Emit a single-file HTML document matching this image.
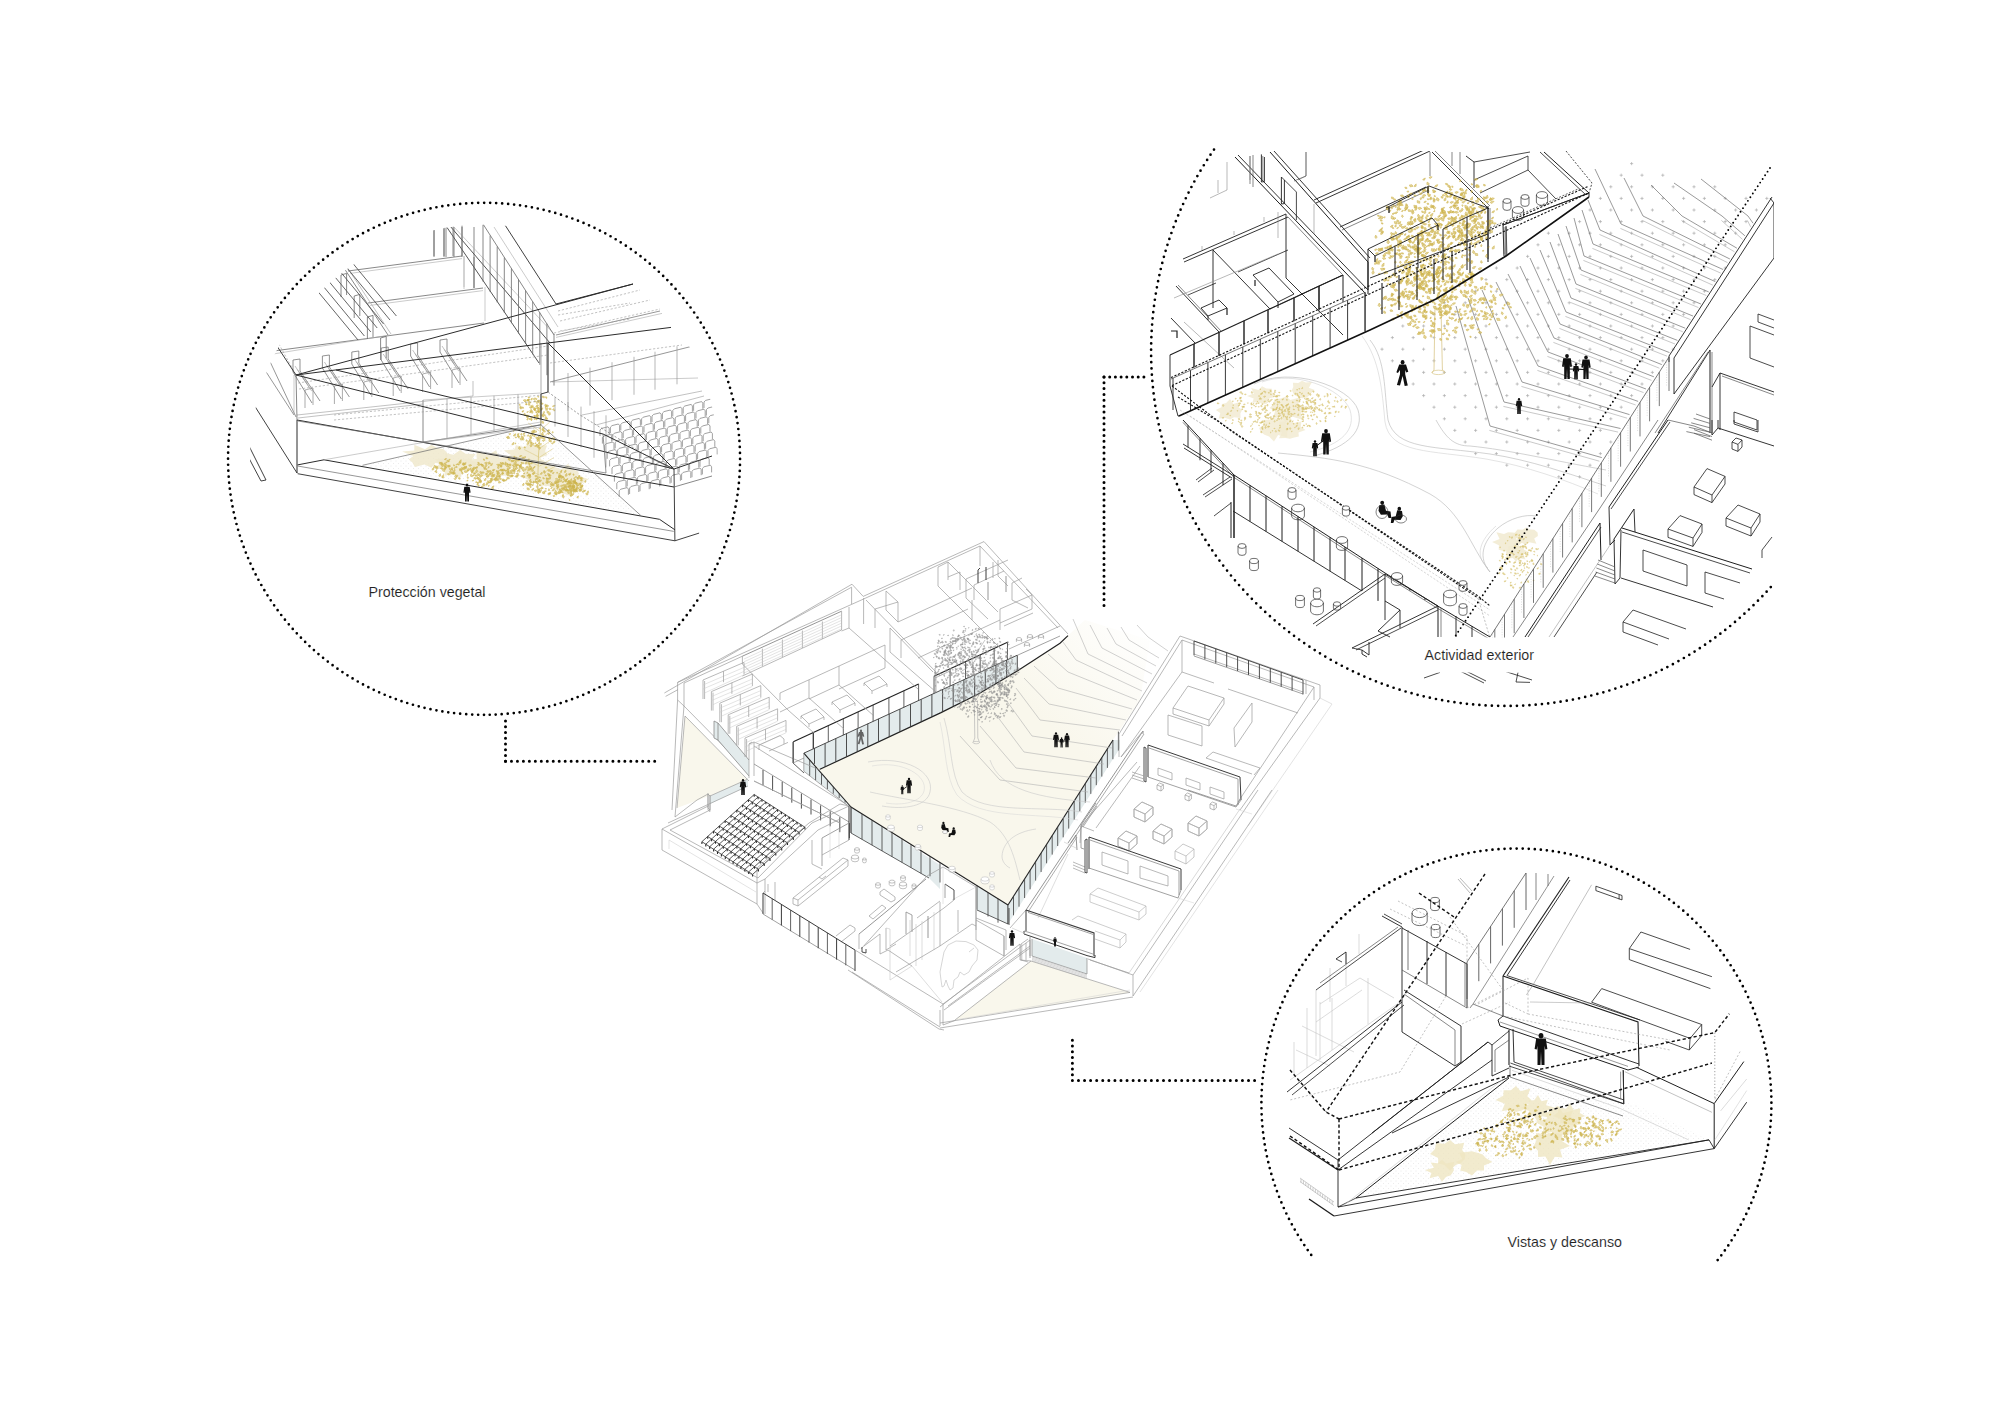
<!DOCTYPE html>
<html><head><meta charset="utf-8"><title>Axonometric</title>
<style>
html,body{margin:0;padding:0;background:#fff;}
body{width:2000px;height:1415px;overflow:hidden;font-family:"Liberation Sans",sans-serif;}
svg{display:block;}
svg polyline,svg line,svg path{fill:none;stroke-linecap:butt;stroke-linejoin:miter;}
svg .f{stroke:none;}
text{font-family:"Liberation Sans",sans-serif;fill:#222;}
.dot{stroke:#000;stroke-linecap:round !important;fill:none;}
</style></head><body>
<svg width="2000" height="1415" viewBox="0 0 2000 1415">
<rect width="2000" height="1415" fill="#fff"/>
<defs><linearGradient id="cg" gradientUnits="userSpaceOnUse" x1="960" y1="800" x2="1135" y2="610"><stop offset="0.45" stop-color="#f9f7ec"/><stop offset="1" stop-color="#f9f7ec" stop-opacity="0"/></linearGradient></defs>
<polygon points="803.8,753.2 819.9,769.3 941,712.6 978.8,693.7 1018,670.6 1060,643.3 1068,635.6 1085,620 1150,640 1140,700 1113,740 1008,905 851,807" fill="url(#cg)" stroke="none" stroke-width="0.8" />
<polygon points="803.8,753.2 1017.3,655.2 1017.3,670.6 978.8,693.7 941,712.6 819.9,769.3" fill="#e3ebec" stroke="none" stroke-width="0.7" />
<polyline points="819.9,769.3 941,712.6 978.8,693.7 1018,670.6 1060,643.3 1068,635.6" stroke="#222" stroke-width="1.2" />
<polyline points="803.8,753.2 1017.3,655.2" stroke="#3a3a3a" stroke-width="0.9" />
<polyline points="803.8,753.2 803.8,753.2" stroke="#3a3a3a" stroke-width="0.9" />
<polyline points="814.5,748.3 814.5,763.9" stroke="#3a3a3a" stroke-width="0.9" />
<polyline points="825.1,743.4 825.1,766.8" stroke="#3a3a3a" stroke-width="0.9" />
<polyline points="835.8,738.5 835.8,761.8" stroke="#3a3a3a" stroke-width="0.9" />
<polyline points="846.5,733.6 846.5,756.8" stroke="#3a3a3a" stroke-width="0.9" />
<polyline points="857.2,728.7 857.2,751.8" stroke="#3a3a3a" stroke-width="0.9" />
<polyline points="867.8,723.8 867.8,746.8" stroke="#3a3a3a" stroke-width="0.9" />
<polyline points="878.5,718.9 878.5,741.8" stroke="#3a3a3a" stroke-width="0.9" />
<polyline points="889.2,714 889.2,736.9" stroke="#3a3a3a" stroke-width="0.9" />
<polyline points="899.9,709.1 899.9,731.9" stroke="#3a3a3a" stroke-width="0.9" />
<polyline points="910.5,704.2 910.5,726.9" stroke="#3a3a3a" stroke-width="0.9" />
<polyline points="921.2,699.3 921.2,721.9" stroke="#3a3a3a" stroke-width="0.9" />
<polyline points="931.9,694.4 931.9,716.9" stroke="#3a3a3a" stroke-width="0.9" />
<polyline points="942.6,689.5 942.6,711.8" stroke="#3a3a3a" stroke-width="0.9" />
<polyline points="953.2,684.6 953.2,706.5" stroke="#3a3a3a" stroke-width="0.9" />
<polyline points="963.9,679.7 963.9,701.1" stroke="#3a3a3a" stroke-width="0.9" />
<polyline points="974.6,674.8 974.6,695.8" stroke="#3a3a3a" stroke-width="0.9" />
<polyline points="985.3,669.9 985.3,689.9" stroke="#3a3a3a" stroke-width="0.9" />
<polyline points="995.9,665 995.9,683.6" stroke="#3a3a3a" stroke-width="0.9" />
<polyline points="1006.6,660.1 1006.6,677.3" stroke="#3a3a3a" stroke-width="0.9" />
<polyline points="1017.3,655.2 1017.3,671" stroke="#3a3a3a" stroke-width="0.9" />
<polyline points="793.3,741.7 918.6,683.9" stroke="#222" stroke-width="1.1" />
<polyline points="934,676.2 1007.5,642.3" stroke="#222" stroke-width="1.1" />
<polyline points="793.3,741.7 793.3,763" stroke="#3a3a3a" stroke-width="0.8" />
<polyline points="813.3,732.5 813.3,748.8" stroke="#3a3a3a" stroke-width="1.3" />
<polyline points="828.3,725.6 828.3,742" stroke="#3a3a3a" stroke-width="0.8" />
<polyline points="843.3,718.7 843.3,735.1" stroke="#3a3a3a" stroke-width="0.8" />
<polyline points="858.1,711.8 858.1,728.3" stroke="#3a3a3a" stroke-width="0.8" />
<polyline points="873.1,704.9 873.1,721.4" stroke="#3a3a3a" stroke-width="0.8" />
<polyline points="888.9,697.6 888.9,714.1" stroke="#3a3a3a" stroke-width="0.8" />
<polyline points="903.9,690.7 903.9,707.3" stroke="#3a3a3a" stroke-width="0.8" />
<polyline points="918.6,683.9 918.6,700.5" stroke="#3a3a3a" stroke-width="0.8" />
<polyline points="934,676.2 934,693.4" stroke="#3a3a3a" stroke-width="0.8" />
<polyline points="950.1,668.8 950.1,686" stroke="#3a3a3a" stroke-width="0.8" />
<polyline points="965.5,661.7 965.5,679" stroke="#3a3a3a" stroke-width="0.8" />
<polyline points="980.2,654.9 980.2,672.2" stroke="#3a3a3a" stroke-width="0.8" />
<polyline points="994.2,648.4 994.2,665.8" stroke="#3a3a3a" stroke-width="0.8" />
<polyline points="1007.5,642.3 1007.5,659.7" stroke="#3a3a3a" stroke-width="0.8" />
<polygon points="803.8,753.2 851,807 803.8,771.2" fill="#e3ebec" stroke="none" stroke-width="0.8" />
<polyline points="803.8,753.2 851,807" stroke="#222" stroke-width="1.1" />
<polyline points="803.8,753.2 803.8,771.2 847,805" stroke="#8a8a8a" stroke-width="0.7" />
<polyline points="809.7,759.9 809.7,775.7" stroke="#3a3a3a" stroke-width="0.8" />
<polyline points="815.6,766.6 815.6,780.1" stroke="#3a3a3a" stroke-width="0.8" />
<polyline points="821.5,773.4 821.5,784.6" stroke="#3a3a3a" stroke-width="0.8" />
<polyline points="827.4,780.1 827.4,789.1" stroke="#3a3a3a" stroke-width="0.8" />
<polyline points="833.3,786.8 833.3,793.6" stroke="#3a3a3a" stroke-width="0.8" />
<polyline points="839.2,793.5 839.2,798" stroke="#3a3a3a" stroke-width="0.8" />
<polyline points="845.1,800.3 845.1,802.5" stroke="#3a3a3a" stroke-width="0.8" />
<polygon points="851,807 940,865 940,889 929,878 851,833" fill="#e3ebec" stroke="none" stroke-width="0.7" />
<polygon points="977,886 1008,905 1008,924 977,910" fill="#e3ebec" stroke="none" stroke-width="0.7" />
<polyline points="851,807 1008,905" stroke="#222" stroke-width="1.1" />
<polyline points="851,833 929,878" stroke="#3a3a3a" stroke-width="0.8" />
<polyline points="977,910 1008,924" stroke="#3a3a3a" stroke-width="0.8" />
<polyline points="851,807 851,833" stroke="#3a3a3a" stroke-width="1.2" />
<polyline points="862,813.9 862,839.3" stroke="#3a3a3a" stroke-width="0.8" />
<polyline points="872,820.1 872,845.1" stroke="#3a3a3a" stroke-width="0.8" />
<polyline points="882,826.3 882,850.9" stroke="#3a3a3a" stroke-width="0.8" />
<polyline points="892,832.6 892,856.7" stroke="#3a3a3a" stroke-width="0.8" />
<polyline points="902,838.8 902,862.4" stroke="#3a3a3a" stroke-width="0.8" />
<polyline points="911,844.4 911,867.6" stroke="#3a3a3a" stroke-width="0.8" />
<polyline points="921,850.7 921,873.4" stroke="#3a3a3a" stroke-width="0.8" />
<polyline points="930,856.3 930,876.3" stroke="#3a3a3a" stroke-width="0.8" />
<polyline points="940,862.5 940,882.5" stroke="#3a3a3a" stroke-width="0.8" />
<polyline points="977,885.6 977,909.6" stroke="#3a3a3a" stroke-width="0.8" />
<polyline points="988,892.5 988,916.5" stroke="#3a3a3a" stroke-width="0.8" />
<polyline points="998,898.7 998,922.7" stroke="#3a3a3a" stroke-width="0.8" />
<polyline points="1008,905 1008,924" stroke="#3a3a3a" stroke-width="0.8" />
<polygon points="1008,905 1113,740 1120,740 1120,748 1008,924" fill="#e3ebec" stroke="none" stroke-width="0.7" />
<polyline points="1008,905 1113,740" stroke="#222" stroke-width="1.1" />
<polyline points="1008,905 1008,924" stroke="#3a3a3a" stroke-width="0.8" />
<polyline points="1013.5,896.3 1013.5,915.3" stroke="#3a3a3a" stroke-width="0.8" />
<polyline points="1019,887.7 1019,906.7" stroke="#3a3a3a" stroke-width="0.8" />
<polyline points="1024.6,879 1024.6,898" stroke="#3a3a3a" stroke-width="0.8" />
<polyline points="1030.1,870.3 1030.1,889.3" stroke="#3a3a3a" stroke-width="0.8" />
<polyline points="1035.6,861.6 1035.6,880.6" stroke="#3a3a3a" stroke-width="0.8" />
<polyline points="1041.1,853 1041.1,872" stroke="#3a3a3a" stroke-width="0.8" />
<polyline points="1046.6,844.3 1046.6,863.3" stroke="#3a3a3a" stroke-width="0.8" />
<polyline points="1052.2,835.6 1052.2,854.6" stroke="#3a3a3a" stroke-width="0.8" />
<polyline points="1057.7,827 1057.7,846" stroke="#3a3a3a" stroke-width="0.8" />
<polyline points="1063.2,818.3 1063.2,837.3" stroke="#3a3a3a" stroke-width="0.8" />
<polyline points="1068.7,809.6 1068.7,828.6" stroke="#3a3a3a" stroke-width="0.8" />
<polyline points="1074.2,800.9 1074.2,819.9" stroke="#3a3a3a" stroke-width="0.8" />
<polyline points="1079.8,792.3 1079.8,811.3" stroke="#3a3a3a" stroke-width="0.8" />
<polyline points="1085.3,783.6 1085.3,802.6" stroke="#3a3a3a" stroke-width="0.8" />
<polyline points="1090.8,774.9 1090.8,793.9" stroke="#3a3a3a" stroke-width="0.8" />
<polyline points="1096.3,766.2 1096.3,785.2" stroke="#3a3a3a" stroke-width="0.8" />
<polyline points="1101.8,757.6 1101.8,776.6" stroke="#3a3a3a" stroke-width="0.8" />
<polyline points="1107.4,748.9 1107.4,767.9" stroke="#3a3a3a" stroke-width="0.8" />
<polyline points="1112.9,740.2 1112.9,759.2" stroke="#3a3a3a" stroke-width="0.8" />
<polyline points="1118.4,731.6 1118.4,750.6" stroke="#3a3a3a" stroke-width="0.8" />
<polyline points="664.4,693 852,584.2 863.2,596.4 984,541.6 1068,634" stroke="#9b9b9b" stroke-width="0.7" />
<polyline points="665.6,696.4 678,689.6" stroke="#9b9b9b" stroke-width="0.7" />
<polyline points="677.6,682.4 851.6,587.2" stroke="#9b9b9b" stroke-width="0.7" />
<polyline points="851.6,587.2 851.6,604" stroke="#9b9b9b" stroke-width="0.7" />
<polyline points="677.6,682.4 863.2,599.2 980,546 980,566" stroke="#9b9b9b" stroke-width="0.7" />
<polyline points="980,546 1058,628" stroke="#9b9b9b" stroke-width="0.7" />
<polyline points="684,683 742.4,656.2" stroke="#9b9b9b" stroke-width="0.7" />
<polyline points="742.4,656.2 841.6,611.2" stroke="#8a8a8a" stroke-width="0.9" />
<polyline points="677.6,682.4 677.6,700 672,810" stroke="#9b9b9b" stroke-width="0.7" />
<polyline points="684,683 684,706" stroke="#9b9b9b" stroke-width="0.7" />
<polyline points="677.6,700 684,706 749,772" stroke="#9b9b9b" stroke-width="0.7" />
<polyline points="684,706 675,817" stroke="#9b9b9b" stroke-width="0.7" />
<polyline points="742.4,656.2 742.4,664 788,710" stroke="#9b9b9b" stroke-width="0.7" />
<polyline points="841.6,611.2 841.6,630 742.4,676" stroke="#9b9b9b" stroke-width="0.7" />
<polyline points="849,607 849,628 918,689" stroke="#9b9b9b" stroke-width="0.7" />
<polyline points="849,628 841.6,631" stroke="#9b9b9b" stroke-width="0.7" />
<polyline points="762.4,648.7 762.4,666.1" stroke="#9b9b9b" stroke-width="0.7" />
<polyline points="782.4,639.6 782.4,657" stroke="#9b9b9b" stroke-width="0.7" />
<polyline points="802.4,630.6 802.4,648" stroke="#9b9b9b" stroke-width="0.7" />
<polyline points="822.4,621.5 822.4,638.9" stroke="#9b9b9b" stroke-width="0.7" />
<polyline points="744,659 841,615" stroke="#c8c8c8" stroke-width="0.5" />
<polyline points="744,661.8 841,617.8" stroke="#c8c8c8" stroke-width="0.5" />
<polyline points="744,664.6 841,620.6" stroke="#c8c8c8" stroke-width="0.5" />
<polyline points="744,667.4 841,623.4" stroke="#c8c8c8" stroke-width="0.5" />
<polyline points="744,670.2 841,626.2" stroke="#c8c8c8" stroke-width="0.5" />
<polyline points="744,673 841,629" stroke="#c8c8c8" stroke-width="0.5" />
<polyline points="780,693 885,645" stroke="#9b9b9b" stroke-width="0.7" />
<polyline points="780,693 780,700" stroke="#9b9b9b" stroke-width="0.7" />
<polyline points="885,645 885,668" stroke="#9b9b9b" stroke-width="0.7" />
<polyline points="809,680 809,698 844,729" stroke="#9b9b9b" stroke-width="0.7" />
<polyline points="839,666 839,685 874,716" stroke="#9b9b9b" stroke-width="0.7" />
<polyline points="809,698 780,712" stroke="#9b9b9b" stroke-width="0.7" />
<polyline points="839,685 809,699" stroke="#9b9b9b" stroke-width="0.7" />
<polyline points="885,668 839,689" stroke="#9b9b9b" stroke-width="0.7" />
<polyline points="788,710 814,733" stroke="#9b9b9b" stroke-width="0.7" />
<polyline points="801,716 816,709 824,717 809,724 801,716" stroke="#9b9b9b" stroke-width="0.7" />
<polyline points="801,716 801,719" stroke="#9b9b9b" stroke-width="0.7" />
<polyline points="809,724 809,727" stroke="#9b9b9b" stroke-width="0.7" />
<polyline points="824,717 824,720" stroke="#9b9b9b" stroke-width="0.7" />
<polyline points="832,702 847,695 855,703 840,710 832,702" stroke="#9b9b9b" stroke-width="0.7" />
<polyline points="832,702 832,705" stroke="#9b9b9b" stroke-width="0.7" />
<polyline points="840,710 840,713" stroke="#9b9b9b" stroke-width="0.7" />
<polyline points="855,703 855,706" stroke="#9b9b9b" stroke-width="0.7" />
<polyline points="864,683 879,676 887,684 872,691 864,683" stroke="#9b9b9b" stroke-width="0.7" />
<polyline points="864,683 864,686" stroke="#9b9b9b" stroke-width="0.7" />
<polyline points="872,691 872,694" stroke="#9b9b9b" stroke-width="0.7" />
<polyline points="887,684 887,687" stroke="#9b9b9b" stroke-width="0.7" />
<polyline points="863.6,598 863.6,624" stroke="#9b9b9b" stroke-width="0.7" />
<polyline points="866,600 936,672 936,692" stroke="#9b9b9b" stroke-width="0.7" />
<polyline points="875,609 875,628" stroke="#9b9b9b" stroke-width="0.7" />
<polyline points="886,591 886,610 898,622 898,602 886,591" stroke="#9b9b9b" stroke-width="0.7" />
<polyline points="875,609 898,602" stroke="#9b9b9b" stroke-width="0.7" />
<polyline points="898,622 972,588" stroke="#9b9b9b" stroke-width="0.7" />
<polyline points="901,640 968,609" stroke="#9b9b9b" stroke-width="0.7" />
<polyline points="918,658 1000,620" stroke="#9b9b9b" stroke-width="0.7" />
<polyline points="890,628 890,652 936,692" stroke="#9b9b9b" stroke-width="0.7" />
<polyline points="890,628 933,672" stroke="#9b9b9b" stroke-width="0.7" />
<polyline points="901,640 901,658" stroke="#9b9b9b" stroke-width="0.7" />
<polyline points="938,567 938,586 972,620 972,600" stroke="#9b9b9b" stroke-width="0.7" />
<polyline points="938,567 948,562 998,612" stroke="#9b9b9b" stroke-width="0.7" />
<polyline points="948,562 948,580" stroke="#9b9b9b" stroke-width="0.7" />
<polyline points="972,620 1000,648" stroke="#9b9b9b" stroke-width="0.7" />
<polyline points="948,577 960,572 960,590" stroke="#9b9b9b" stroke-width="0.7" />
<polyline points="966,579 966,598 988,619" stroke="#9b9b9b" stroke-width="0.7" />
<polyline points="966,579 1008,560" stroke="#9b9b9b" stroke-width="0.7" />
<polyline points="974,585 974,600" stroke="#9b9b9b" stroke-width="0.7" />
<polyline points="974,585 1004,571" stroke="#9b9b9b" stroke-width="0.7" />
<polyline points="988,582 988,600" stroke="#8a8a8a" stroke-width="0.9" />
<polyline points="978,570 978,583" stroke="#3a3a3a" stroke-width="1.0" />
<polyline points="986,567 986,580" stroke="#3a3a3a" stroke-width="1.0" />
<polyline points="978,570 980,568" stroke="#3a3a3a" stroke-width="1.0" />
<polyline points="993,562 993,578" stroke="#9b9b9b" stroke-width="0.7" />
<polyline points="998,560 998,576 1008,586" stroke="#9b9b9b" stroke-width="0.7" />
<polyline points="1006,576 1006,592" stroke="#8a8a8a" stroke-width="0.9" />
<polyline points="1012,583 1012,600 1028,608" stroke="#9b9b9b" stroke-width="0.7" />
<polyline points="1012,583 1022,578" stroke="#9b9b9b" stroke-width="0.7" />
<polyline points="1000,609 1032,595 1032,609 1000,623" stroke="#9b9b9b" stroke-width="0.7" />
<polyline points="1000,609 1000,623" stroke="#9b9b9b" stroke-width="0.7" />
<polyline points="1032,595 1026,589" stroke="#9b9b9b" stroke-width="0.7" />
<polyline points="1000,623 1000,630" stroke="#9b9b9b" stroke-width="0.7" />
<polyline points="1004,626 1033,613" stroke="#9b9b9b" stroke-width="0.7" />
<ellipse cx="1019" cy="639" rx="2.6" ry="1.5" stroke="#9b9b9b" stroke-width="0.6" fill="#fff"/>
<polyline points="1016.4,639 1016.4,641.8" stroke="#9b9b9b" stroke-width="0.7" />
<polyline points="1021.6,639 1021.6,641.8" stroke="#9b9b9b" stroke-width="0.7" />
<ellipse cx="1030" cy="636" rx="2.6" ry="1.5" stroke="#9b9b9b" stroke-width="0.6" fill="#fff"/>
<polyline points="1027.4,636 1027.4,638.8" stroke="#9b9b9b" stroke-width="0.7" />
<polyline points="1032.6,636 1032.6,638.8" stroke="#9b9b9b" stroke-width="0.7" />
<ellipse cx="1041" cy="636" rx="2.6" ry="1.5" stroke="#9b9b9b" stroke-width="0.6" fill="#fff"/>
<polyline points="1038.4,636 1038.4,638.8" stroke="#9b9b9b" stroke-width="0.7" />
<polyline points="1043.6,636 1043.6,638.8" stroke="#9b9b9b" stroke-width="0.7" />
<ellipse cx="1027" cy="644" rx="2.6" ry="1.5" stroke="#9b9b9b" stroke-width="0.6" fill="#fff"/>
<polyline points="1024.4,644 1024.4,646.8" stroke="#9b9b9b" stroke-width="0.7" />
<polyline points="1029.6,644 1029.6,646.8" stroke="#9b9b9b" stroke-width="0.7" />
<polyline points="1009,649 1060,626" stroke="#9b9b9b" stroke-width="0.7" />
<polyline points="1018,655 1060,636" stroke="#8a8a8a" stroke-width="0.8" />
<polyline points="935,678 935,692" stroke="#9b9b9b" stroke-width="0.7" />
<polyline points="935,678 950,671" stroke="#9b9b9b" stroke-width="0.7" />
<polyline points="935,668 935,678" stroke="#9b9b9b" stroke-width="0.7" />
<polyline points="935,668 944,664" stroke="#9b9b9b" stroke-width="0.7" />
<polygon points="685,716 749,781 677,808" fill="#f9f7ec" stroke="none" stroke-width="0.7" />
<polyline points="685,716 749,781" stroke="#9b9b9b" stroke-width="0.7" />
<polyline points="677,808 685,716" stroke="#9b9b9b" stroke-width="0.7" />
<polygon points="714,721 718,723 749,760 749,776 718,740 714,738" fill="#e3ebec" stroke="none" stroke-width="0.7" />
<polyline points="714,721 714,738 718,740 749,776" stroke="#8a8a8a" stroke-width="0.8" />
<polyline points="714,721 718,723 718,740" stroke="#8a8a8a" stroke-width="0.8" />
<polyline points="718,723 749,760" stroke="#8a8a8a" stroke-width="0.8" />
<polyline points="749,744 749,778" stroke="#9b9b9b" stroke-width="0.7" />
<polyline points="749,744 754,742 754,776" stroke="#9b9b9b" stroke-width="0.7" />
<polyline points="754,746 849,806" stroke="#9b9b9b" stroke-width="0.7" />
<polyline points="749,744 752,742" stroke="#9b9b9b" stroke-width="0.7" />
<polyline points="754,742 820,770" stroke="#9b9b9b" stroke-width="0.7" />
<polyline points="703,680 744,662.4 744,674.4" stroke="#9b9b9b" stroke-width="0.7" />
<polyline points="703,680 703,699" stroke="#9b9b9b" stroke-width="0.7" />
<polyline points="704.6,699 704.6,681" stroke="#9b9b9b" stroke-width="0.7" />
<polyline points="703,685 744,667.4" stroke="#c8c8c8" stroke-width="0.5" />
<polyline points="703,689 744,671.4" stroke="#c8c8c8" stroke-width="0.5" />
<polyline points="704.6,693 744,674.8" stroke="#c8c8c8" stroke-width="0.5" />
<polyline points="723.5,671.2 723.5,682.2" stroke="#9b9b9b" stroke-width="0.7" />
<polyline points="711.4,691.6 752.4,674 752.4,686" stroke="#9b9b9b" stroke-width="0.7" />
<polyline points="711.4,691.6 711.4,710.6" stroke="#9b9b9b" stroke-width="0.7" />
<polyline points="713,710.6 713,692.6" stroke="#9b9b9b" stroke-width="0.7" />
<polyline points="711.4,696.6 752.4,679" stroke="#c8c8c8" stroke-width="0.5" />
<polyline points="711.4,700.6 752.4,683" stroke="#c8c8c8" stroke-width="0.5" />
<polyline points="713,704.6 752.4,686.4" stroke="#c8c8c8" stroke-width="0.5" />
<polyline points="731.9,682.8 731.9,693.8" stroke="#9b9b9b" stroke-width="0.7" />
<polyline points="719.8,703.2 760.8,685.6 760.8,697.6" stroke="#9b9b9b" stroke-width="0.7" />
<polyline points="719.8,703.2 719.8,722.2" stroke="#9b9b9b" stroke-width="0.7" />
<polyline points="721.4,722.2 721.4,704.2" stroke="#9b9b9b" stroke-width="0.7" />
<polyline points="719.8,708.2 760.8,690.6" stroke="#c8c8c8" stroke-width="0.5" />
<polyline points="719.8,712.2 760.8,694.6" stroke="#c8c8c8" stroke-width="0.5" />
<polyline points="721.4,716.2 760.8,698" stroke="#c8c8c8" stroke-width="0.5" />
<polyline points="740.3,694.4 740.3,705.4" stroke="#9b9b9b" stroke-width="0.7" />
<polyline points="728.2,714.8 769.2,697.2 769.2,709.2" stroke="#9b9b9b" stroke-width="0.7" />
<polyline points="728.2,714.8 728.2,733.8" stroke="#9b9b9b" stroke-width="0.7" />
<polyline points="729.8,733.8 729.8,715.8" stroke="#9b9b9b" stroke-width="0.7" />
<polyline points="728.2,719.8 769.2,702.2" stroke="#c8c8c8" stroke-width="0.5" />
<polyline points="728.2,723.8 769.2,706.2" stroke="#c8c8c8" stroke-width="0.5" />
<polyline points="729.8,727.8 769.2,709.6" stroke="#c8c8c8" stroke-width="0.5" />
<polyline points="748.7,706 748.7,717" stroke="#9b9b9b" stroke-width="0.7" />
<polyline points="736.6,726.4 777.6,708.8 777.6,720.8" stroke="#9b9b9b" stroke-width="0.7" />
<polyline points="736.6,726.4 736.6,745.4" stroke="#9b9b9b" stroke-width="0.7" />
<polyline points="738.2,745.4 738.2,727.4" stroke="#9b9b9b" stroke-width="0.7" />
<polyline points="736.6,731.4 777.6,713.8" stroke="#c8c8c8" stroke-width="0.5" />
<polyline points="736.6,735.4 777.6,717.8" stroke="#c8c8c8" stroke-width="0.5" />
<polyline points="738.2,739.4 777.6,721.2" stroke="#c8c8c8" stroke-width="0.5" />
<polyline points="757.1,717.6 757.1,728.6" stroke="#9b9b9b" stroke-width="0.7" />
<polyline points="745,738 786,720.4 786,732.4" stroke="#9b9b9b" stroke-width="0.7" />
<polyline points="745,738 745,757" stroke="#9b9b9b" stroke-width="0.7" />
<polyline points="746.6,757 746.6,739" stroke="#9b9b9b" stroke-width="0.7" />
<polyline points="745,743 786,725.4" stroke="#c8c8c8" stroke-width="0.5" />
<polyline points="745,747 786,729.4" stroke="#c8c8c8" stroke-width="0.5" />
<polyline points="746.6,751 786,732.8" stroke="#c8c8c8" stroke-width="0.5" />
<polyline points="765.5,729.2 765.5,740.2" stroke="#9b9b9b" stroke-width="0.7" />
<polyline points="759,745 780,735.6 784,739 784,744" stroke="#9b9b9b" stroke-width="0.7" />
<polyline points="759,745 759,750" stroke="#9b9b9b" stroke-width="0.7" />
<polyline points="769,751 788,742.4" stroke="#9b9b9b" stroke-width="0.7" />
<polyline points="793,742 793,763 804,773" stroke="#3a3a3a" stroke-width="0.8" />
<polyline points="793,763 804,758" stroke="#8a8a8a" stroke-width="0.7" />
<polyline points="754,764 849,822" stroke="#8a8a8a" stroke-width="0.8" />
<polyline points="763,770 763,785" stroke="#3a3a3a" stroke-width="0.9" />
<polyline points="772.6,775.9 772.6,790.9" stroke="#3a3a3a" stroke-width="0.9" />
<polyline points="782.2,781.8 782.2,796.8" stroke="#3a3a3a" stroke-width="0.9" />
<polyline points="791.8,787.7 791.8,802.7" stroke="#3a3a3a" stroke-width="0.9" />
<polyline points="801.4,793.6 801.4,808.6" stroke="#3a3a3a" stroke-width="0.9" />
<polyline points="811,799.5 811,814.5" stroke="#3a3a3a" stroke-width="0.9" />
<polyline points="820.6,805.4 820.6,820.4" stroke="#3a3a3a" stroke-width="0.9" />
<polyline points="830.2,811.3 830.2,826.3" stroke="#3a3a3a" stroke-width="0.9" />
<polyline points="839.8,817.2 839.8,832.2" stroke="#3a3a3a" stroke-width="0.9" />
<polyline points="849.4,823.1 849.4,838.1" stroke="#3a3a3a" stroke-width="0.9" />
<polyline points="754,781 840,823" stroke="#9b9b9b" stroke-width="0.7" />
<polygon points="710,796 748,779 748,786 710,804" fill="#e3ebec" stroke="none" stroke-width="0.7" />
<polyline points="708,794 710,796 748,779" stroke="#9b9b9b" stroke-width="0.7" />
<polyline points="710,796 710,810" stroke="#9b9b9b" stroke-width="0.7" />
<polyline points="708,794 708,808 710,810" stroke="#9b9b9b" stroke-width="0.7" />
<polyline points="697,800 708,794" stroke="#9b9b9b" stroke-width="0.7" />
<polyline points="675,817 697,800" stroke="#9b9b9b" stroke-width="0.7" />
<polyline points="668,823 748,786" stroke="#9b9b9b" stroke-width="0.7" />
<polyline points="662,829 709,805.6" stroke="#9b9b9b" stroke-width="0.7" />
<polyline points="670,830 710,810" stroke="#9b9b9b" stroke-width="0.7" />
<polyline points="662,829 757,883 765,879" stroke="#9b9b9b" stroke-width="0.7" />
<polyline points="670,830 758,878" stroke="#9b9b9b" stroke-width="0.7" />
<polyline points="662,829 662,850 757,904 757,868" stroke="#9b9b9b" stroke-width="0.7" />
<polyline points="765,879 765,914" stroke="#9b9b9b" stroke-width="0.7" />
<polyline points="757,904 763,913" stroke="#9b9b9b" stroke-width="0.7" />
<polyline points="758,878 812,823 849,806" stroke="#9b9b9b" stroke-width="0.7" />
<polyline points="765,879 818,830 840,819" stroke="#9b9b9b" stroke-width="0.7" />
<polyline points="757,868 809,823 840,804" stroke="#9b9b9b" stroke-width="0.7" />
<polyline points="669,840 669,849" stroke="#c8c8c8" stroke-width="0.5" />
<polyline points="669,840 756,892" stroke="#c8c8c8" stroke-width="0.5" />
<path d="M754.2 794.5l-52.3 47.2M758.1 797l-52.3 47.2M762 799.5l-52.3 47.2M765.9 802l-52.3 47.2M769.8 804.6l-52.3 47.2M773.7 807.1l-52.3 47.2M777.6 809.6l-52.3 47.2M781.5 812.1l-52.3 47.2M785.4 814.6l-52.3 47.2M789.3 817.1l-52.3 47.2M793.2 819.7l-52.3 47.2M797.1 822.2l-52.3 47.2M801 824.7l-52.3 47.2M804.9 827.2l-52.3 47.2M754.2 794.5l50.7 32.7M748.4 799.7l50.7 32.7M742.6 805l50.7 32.7M736.8 810.2l50.7 32.7M731 815.5l50.7 32.7M725.1 820.7l50.7 32.7M719.3 826l50.7 32.7M713.5 831.2l50.7 32.7M707.7 836.5l50.7 32.7M701.9 841.7l50.7 32.7" stroke="#3a3a3a" stroke-width="0.85"/>
<path d="M754.2 794.5v2.2M748.4 799.7v2.2M742.6 805v2.2M736.8 810.2v2.2M731 815.5v2.2M725.1 820.7v2.2M719.3 826v2.2M713.5 831.2v2.2M707.7 836.5v2.2M701.9 841.7v2.2M758.1 797v2.2M752.3 802.3v2.2M746.5 807.5v2.2M740.7 812.7v2.2M734.9 818v2.2M729 823.2v2.2M723.2 828.5v2.2M717.4 833.7v2.2M711.6 839v2.2M705.8 844.2v2.2M762 799.5v2.2M756.2 804.8v2.2M750.4 810v2.2M744.6 815.3v2.2M738.8 820.5v2.2M732.9 825.8v2.2M727.1 831v2.2M721.3 836.2v2.2M715.5 841.5v2.2M709.7 846.7v2.2M765.9 802v2.2M760.1 807.3v2.2M754.3 812.5v2.2M748.5 817.8v2.2M742.7 823v2.2M736.8 828.3v2.2M731 833.5v2.2M725.2 838.8v2.2M719.4 844v2.2M713.6 849.2v2.2M769.8 804.6v2.2M764 809.8v2.2M758.2 815.1v2.2M752.4 820.3v2.2M746.6 825.5v2.2M740.7 830.8v2.2M734.9 836v2.2M729.1 841.3v2.2M723.3 846.5v2.2M717.5 851.8v2.2M773.7 807.1v2.2M767.9 812.3v2.2M762.1 817.6v2.2M756.3 822.8v2.2M750.5 828.1v2.2M744.6 833.3v2.2M738.8 838.5v2.2M733 843.8v2.2M727.2 849v2.2M721.4 854.3v2.2M777.6 809.6v2.2M771.8 814.8v2.2M766 820.1v2.2M760.2 825.3v2.2M754.4 830.6v2.2M748.5 835.8v2.2M742.7 841.1v2.2M736.9 846.3v2.2M731.1 851.5v2.2M725.3 856.8v2.2M781.5 812.1v2.2M775.7 817.4v2.2M769.9 822.6v2.2M764.1 827.8v2.2M758.3 833.1v2.2M752.4 838.3v2.2M746.6 843.6v2.2M740.8 848.8v2.2M735 854.1v2.2M729.2 859.3v2.2M785.4 814.6v2.2M779.6 819.9v2.2M773.8 825.1v2.2M768 830.4v2.2M762.2 835.6v2.2M756.3 840.8v2.2M750.5 846.1v2.2M744.7 851.3v2.2M738.9 856.6v2.2M733.1 861.8v2.2M789.3 817.1v2.2M783.5 822.4v2.2M777.7 827.6v2.2M771.9 832.9v2.2M766.1 838.1v2.2M760.2 843.4v2.2M754.4 848.6v2.2M748.6 853.8v2.2M742.8 859.1v2.2M737 864.3v2.2M793.2 819.7v2.2M787.4 824.9v2.2M781.6 830.1v2.2M775.8 835.4v2.2M770 840.6v2.2M764.1 845.9v2.2M758.3 851.1v2.2M752.5 856.4v2.2M746.7 861.6v2.2M740.9 866.9v2.2M797.1 822.2v2.2M791.3 827.4v2.2M785.5 832.7v2.2M779.7 837.9v2.2M773.9 843.1v2.2M768 848.4v2.2M762.2 853.6v2.2M756.4 858.9v2.2M750.6 864.1v2.2M744.8 869.4v2.2M801 824.7v2.2M795.2 829.9v2.2M789.4 835.2v2.2M783.6 840.4v2.2M777.8 845.7v2.2M771.9 850.9v2.2M766.1 856.2v2.2M760.3 861.4v2.2M754.5 866.6v2.2M748.7 871.9v2.2M804.9 827.2v2.2M799.1 832.4v2.2M793.3 837.7v2.2M787.5 842.9v2.2M781.7 848.2v2.2M775.8 853.4v2.2M770 858.7v2.2M764.2 863.9v2.2M758.4 869.2v2.2M752.6 874.4v2.2" stroke="#2a2a2a" stroke-width="1.1"/>
<polyline points="708,793 708,810 710,811.6 710,795" stroke="#9b9b9b" stroke-width="0.7" />
<polyline points="754,781 840,823" stroke="#9b9b9b" stroke-width="0.7" />
<polyline points="849,806 849,840" stroke="#3a3a3a" stroke-width="1.0" />
<polyline points="840,804 849,806" stroke="#9b9b9b" stroke-width="0.7" />
<polyline points="849,823 822,838 822,866" stroke="#8a8a8a" stroke-width="0.8" />
<polyline points="849,840 822,855" stroke="#9b9b9b" stroke-width="0.7" />
<polyline points="812,840 812,864 822,869" stroke="#9b9b9b" stroke-width="0.7" />
<polyline points="830,825 830,858" stroke="#c8c8c8" stroke-width="0.5" />
<polyline points="839,829 839,849" stroke="#c8c8c8" stroke-width="0.5" />
<polyline points="775,882 775,900" stroke="#9b9b9b" stroke-width="0.7" />
<polyline points="768,884 768,892" stroke="#9b9b9b" stroke-width="0.7" />
<polyline points="793,898 843,858 848,860 848,866 798,906 793,904 793,898" stroke="#9b9b9b" stroke-width="0.7" />
<polyline points="798,900 798,906" stroke="#9b9b9b" stroke-width="0.7" />
<polyline points="798,900 848,860" stroke="#9b9b9b" stroke-width="0.7" />
<polyline points="793,898 798,900" stroke="#9b9b9b" stroke-width="0.7" />
<polyline points="819,877 822,879 826,876" stroke="#9b9b9b" stroke-width="0.7" />
<ellipse cx="857" cy="849" rx="2.4" ry="1.3" stroke="#9b9b9b" stroke-width="0.6" fill="none"/>
<polyline points="854.6,849 854.6,851.8" stroke="#9b9b9b" stroke-width="0.6" />
<polyline points="859.4,849 859.4,851.8" stroke="#9b9b9b" stroke-width="0.6" />
<path d="M854.6 851.8 A2.4 1.3 0 0 0 859.4 851.8" stroke="#9b9b9b" stroke-width="0.6"/>
<ellipse cx="855" cy="857" rx="3.6" ry="2" stroke="#9b9b9b" stroke-width="0.6" fill="none"/>
<polyline points="851.4,857 851.4,859.8" stroke="#9b9b9b" stroke-width="0.6" />
<polyline points="858.6,857 858.6,859.8" stroke="#9b9b9b" stroke-width="0.6" />
<path d="M851.4 859.8 A3.6 2 0 0 0 858.6 859.8" stroke="#9b9b9b" stroke-width="0.6"/>
<ellipse cx="864.4" cy="859" rx="1.8" ry="1" stroke="#9b9b9b" stroke-width="0.6" fill="none"/>
<polyline points="862.6,859 862.6,861.8" stroke="#9b9b9b" stroke-width="0.6" />
<polyline points="866.2,859 866.2,861.8" stroke="#9b9b9b" stroke-width="0.6" />
<path d="M862.6 861.8 A1.8 1 0 0 0 866.2 861.8" stroke="#9b9b9b" stroke-width="0.6"/>
<ellipse cx="878" cy="884" rx="2.4" ry="1.3" stroke="#9b9b9b" stroke-width="0.6" fill="none"/>
<polyline points="875.6,884 875.6,886.8" stroke="#9b9b9b" stroke-width="0.6" />
<polyline points="880.4,884 880.4,886.8" stroke="#9b9b9b" stroke-width="0.6" />
<path d="M875.6 886.8 A2.4 1.3 0 0 0 880.4 886.8" stroke="#9b9b9b" stroke-width="0.6"/>
<ellipse cx="892" cy="881.6" rx="2.8" ry="1.5" stroke="#9b9b9b" stroke-width="0.6" fill="none"/>
<polyline points="889.2,881.6 889.2,884.4" stroke="#9b9b9b" stroke-width="0.6" />
<polyline points="894.8,881.6 894.8,884.4" stroke="#9b9b9b" stroke-width="0.6" />
<path d="M889.2 884.4 A2.8 1.5 0 0 0 894.8 884.4" stroke="#9b9b9b" stroke-width="0.6"/>
<ellipse cx="903" cy="877" rx="2.4" ry="1.3" stroke="#9b9b9b" stroke-width="0.6" fill="none"/>
<polyline points="900.6,877 900.6,879.8" stroke="#9b9b9b" stroke-width="0.6" />
<polyline points="905.4,877 905.4,879.8" stroke="#9b9b9b" stroke-width="0.6" />
<path d="M900.6 879.8 A2.4 1.3 0 0 0 905.4 879.8" stroke="#9b9b9b" stroke-width="0.6"/>
<ellipse cx="903" cy="884" rx="3.6" ry="2" stroke="#9b9b9b" stroke-width="0.6" fill="none"/>
<polyline points="899.4,884 899.4,886.8" stroke="#9b9b9b" stroke-width="0.6" />
<polyline points="906.6,884 906.6,886.8" stroke="#9b9b9b" stroke-width="0.6" />
<path d="M899.4 886.8 A3.6 2 0 0 0 906.6 886.8" stroke="#9b9b9b" stroke-width="0.6"/>
<ellipse cx="914" cy="885" rx="2" ry="1.1" stroke="#9b9b9b" stroke-width="0.6" fill="none"/>
<polyline points="912,885 912,887.8" stroke="#9b9b9b" stroke-width="0.6" />
<polyline points="916,885 916,887.8" stroke="#9b9b9b" stroke-width="0.6" />
<path d="M912 887.8 A2 1.1 0 0 0 916 887.8" stroke="#9b9b9b" stroke-width="0.6"/>
<rect class="f" x="885.8" y="816" width="4.4" height="3.6" fill="#fff"/>
<ellipse cx="888" cy="816" rx="2.2" ry="1.2" stroke="#c0c0c0" stroke-width="0.6" fill="#fff"/>
<polyline points="885.8,816 885.8,818.8" stroke="#c0c0c0" stroke-width="0.6" />
<polyline points="890.2,816 890.2,818.8" stroke="#c0c0c0" stroke-width="0.6" />
<path d="M885.8 818.8 A2.2 1.2 0 0 0 890.2 818.8" stroke="#c0c0c0" stroke-width="0.6"/>
<rect class="f" x="887.6" y="827" width="6.8" height="3.6" fill="#fff"/>
<ellipse cx="891" cy="827" rx="3.4" ry="1.9" stroke="#c0c0c0" stroke-width="0.6" fill="#fff"/>
<polyline points="887.6,827 887.6,829.8" stroke="#c0c0c0" stroke-width="0.6" />
<polyline points="894.4,827 894.4,829.8" stroke="#c0c0c0" stroke-width="0.6" />
<path d="M887.6 829.8 A3.4 1.9 0 0 0 894.4 829.8" stroke="#c0c0c0" stroke-width="0.6"/>
<rect class="f" x="917.6" y="826.4" width="4.8" height="3.6" fill="#fff"/>
<ellipse cx="920" cy="826.4" rx="2.4" ry="1.3" stroke="#c0c0c0" stroke-width="0.6" fill="#fff"/>
<polyline points="917.6,826.4 917.6,829.2" stroke="#c0c0c0" stroke-width="0.6" />
<polyline points="922.4,826.4 922.4,829.2" stroke="#c0c0c0" stroke-width="0.6" />
<path d="M917.6 829.2 A2.4 1.3 0 0 0 922.4 829.2" stroke="#c0c0c0" stroke-width="0.6"/>
<rect class="f" x="915.2" y="846" width="5.6" height="3.6" fill="#fff"/>
<ellipse cx="918" cy="846" rx="2.8" ry="1.5" stroke="#c0c0c0" stroke-width="0.6" fill="#fff"/>
<polyline points="915.2,846 915.2,848.8" stroke="#c0c0c0" stroke-width="0.6" />
<polyline points="920.8,846 920.8,848.8" stroke="#c0c0c0" stroke-width="0.6" />
<path d="M915.2 848.8 A2.8 1.5 0 0 0 920.8 848.8" stroke="#c0c0c0" stroke-width="0.6"/>
<rect class="f" x="981" y="879" width="8" height="3.6" fill="#fff"/>
<ellipse cx="985" cy="879" rx="4" ry="2.2" stroke="#c0c0c0" stroke-width="0.6" fill="#fff"/>
<polyline points="981,879 981,881.8" stroke="#c0c0c0" stroke-width="0.6" />
<polyline points="989,879 989,881.8" stroke="#c0c0c0" stroke-width="0.6" />
<path d="M981 881.8 A4 2.2 0 0 0 989 881.8" stroke="#c0c0c0" stroke-width="0.6"/>
<rect class="f" x="989.6" y="873" width="4.8" height="3.6" fill="#fff"/>
<ellipse cx="992" cy="873" rx="2.4" ry="1.3" stroke="#c0c0c0" stroke-width="0.6" fill="#fff"/>
<polyline points="989.6,873 989.6,875.8" stroke="#c0c0c0" stroke-width="0.6" />
<polyline points="994.4,873 994.4,875.8" stroke="#c0c0c0" stroke-width="0.6" />
<path d="M989.6 875.8 A2.4 1.3 0 0 0 994.4 875.8" stroke="#c0c0c0" stroke-width="0.6"/>
<rect class="f" x="989.8" y="886" width="4.4" height="3.6" fill="#fff"/>
<ellipse cx="992" cy="886" rx="2.2" ry="1.2" stroke="#c0c0c0" stroke-width="0.6" fill="#fff"/>
<polyline points="989.8,886 989.8,888.8" stroke="#c0c0c0" stroke-width="0.6" />
<polyline points="994.2,886 994.2,888.8" stroke="#c0c0c0" stroke-width="0.6" />
<path d="M989.8 888.8 A2.2 1.2 0 0 0 994.2 888.8" stroke="#c0c0c0" stroke-width="0.6"/>
<rect class="f" x="948.8" y="868" width="6.4" height="3.6" fill="#fff"/>
<ellipse cx="952" cy="868" rx="3.2" ry="1.8" stroke="#c0c0c0" stroke-width="0.6" fill="#fff"/>
<polyline points="948.8,868 948.8,870.8" stroke="#c0c0c0" stroke-width="0.6" />
<polyline points="955.2,868 955.2,870.8" stroke="#c0c0c0" stroke-width="0.6" />
<path d="M948.8 870.8 A3.2 1.8 0 0 0 955.2 870.8" stroke="#c0c0c0" stroke-width="0.6"/>
<polyline points="880,892 884,889 895,897 895,900 891,902 880,895 880,892" stroke="#9b9b9b" stroke-width="0.7" />
<polyline points="869,916 882,905 886,908 873,919 869,916" stroke="#9b9b9b" stroke-width="0.7" />
<polyline points="836,936 850,925 855,928 855,931 841,942" stroke="#9b9b9b" stroke-width="0.7" />
<polyline points="763,893 855,950" stroke="#3a3a3a" stroke-width="1.0" />
<polyline points="763,914 855,970" stroke="#8a8a8a" stroke-width="0.8" />
<polyline points="763,893 763,914" stroke="#3a3a3a" stroke-width="1.0" />
<polyline points="772.2,898.7 772.2,919.7" stroke="#3a3a3a" stroke-width="0.8" />
<polyline points="781.4,904.4 781.4,925.4" stroke="#3a3a3a" stroke-width="1.0" />
<polyline points="790.6,910.1 790.6,931.1" stroke="#3a3a3a" stroke-width="0.8" />
<polyline points="799.8,915.8 799.8,936.8" stroke="#3a3a3a" stroke-width="1.0" />
<polyline points="809,921.5 809,942.5" stroke="#3a3a3a" stroke-width="0.8" />
<polyline points="818.2,927.2 818.2,948.2" stroke="#3a3a3a" stroke-width="1.0" />
<polyline points="827.4,932.9 827.4,953.9" stroke="#3a3a3a" stroke-width="0.8" />
<polyline points="836.6,938.6 836.6,959.6" stroke="#3a3a3a" stroke-width="1.0" />
<polyline points="845.8,944.3 845.8,965.3" stroke="#3a3a3a" stroke-width="0.8" />
<polyline points="855,950 855,971" stroke="#3a3a3a" stroke-width="1.0" />
<polyline points="763,893 765,891" stroke="#9b9b9b" stroke-width="0.7" />
<polyline points="855,950 943,1004 943,1025" stroke="#9b9b9b" stroke-width="0.7" />
<polyline points="855,950 855,970" stroke="#9b9b9b" stroke-width="0.7" />
<polyline points="848,970 939,1029 944,1030" stroke="#9b9b9b" stroke-width="0.7" />
<polyline points="852,972 940,1027" stroke="#888" stroke-width="0.6" />
<polyline points="943,1004 1026,943 1026,960" stroke="#9b9b9b" stroke-width="0.7" />
<polyline points="948,1006 1030,946" stroke="#9b9b9b" stroke-width="0.7" />
<polyline points="943,1025 956,1020" stroke="#9b9b9b" stroke-width="0.7" />
<polyline points="861,949 927,876 943,867 976,887 976,940 1004,956" stroke="#9b9b9b" stroke-width="0.7" />
<polyline points="859,934 926,879" stroke="#8a8a8a" stroke-width="0.9" />
<polyline points="859,934 859,949" stroke="#9b9b9b" stroke-width="0.7" />
<polyline points="943,867 943,904" stroke="#c8c8c8" stroke-width="0.5" />
<polyline points="976,887 952,900" stroke="#c8c8c8" stroke-width="0.5" />
<polyline points="864,946 880,934 880,954" stroke="#9b9b9b" stroke-width="0.7" />
<polyline points="862,947 862,952 866,953 866,949" stroke="#3a3a3a" stroke-width="0.9" />
<polyline points="886,928 886,950 896,944" stroke="#9b9b9b" stroke-width="0.7" />
<polyline points="886,928 890,929 890,980" stroke="#c8c8c8" stroke-width="0.6" />
<polyline points="880,954 888,950 912,966" stroke="#9b9b9b" stroke-width="0.7" />
<polyline points="890,946 944,908 954,900" stroke="#9b9b9b" stroke-width="0.7" />
<polyline points="906,912 906,934" stroke="#8a8a8a" stroke-width="0.8" />
<polyline points="906,912 912,915 912,932" stroke="#8a8a8a" stroke-width="0.8" />
<polyline points="917,918 940,901" stroke="#9b9b9b" stroke-width="0.7" />
<polyline points="928,916 928,938" stroke="#8a8a8a" stroke-width="0.9" />
<polyline points="940,902 940,946" stroke="#9b9b9b" stroke-width="0.7" />
<polyline points="945,884 954,890 954,900" stroke="#3a3a3a" stroke-width="0.9" />
<polyline points="945,884 945,898" stroke="#8a8a8a" stroke-width="0.8" />
<polyline points="910,920 910,956" stroke="#c8c8c8" stroke-width="0.6" />
<polyline points="916,924 916,966" stroke="#c8c8c8" stroke-width="0.6" />
<polyline points="922,921 922,960" stroke="#c8c8c8" stroke-width="0.6" />
<polyline points="934,912 934,950" stroke="#c8c8c8" stroke-width="0.6" />
<polyline points="958,910 958,932" stroke="#9b9b9b" stroke-width="0.7" />
<polyline points="940,946 972,924 976,926" stroke="#9b9b9b" stroke-width="0.7" />
<polyline points="896,972 940,946" stroke="#9b9b9b" stroke-width="0.7" />
<polyline points="976,920 1004,936 1004,956" stroke="#9b9b9b" stroke-width="0.7" />
<polyline points="890,980 912,966 942,1002" stroke="#c8c8c8" stroke-width="0.6" />
<polyline points="944,952 948,945 956,941 966,941.6 974,945 978,950 977,960 972,966 969,972 964,975 960,972 958,977 954,980 953,988 950,990 948,986 946,980 944,986 942,987 941,980 940,972 942,962 944,952" stroke="#c4c4c4" stroke-width="0.7" />
<polyline points="969,952 974,948" stroke="#c4c4c4" stroke-width="0.7" />
<polyline points="1009,925 1009,908" stroke="#3a3a3a" stroke-width="0.9" />
<polyline points="1004,936 1004,956" stroke="#9b9b9b" stroke-width="0.7" />
<polyline points="1026,943 1030,940 1030,956" stroke="#9b9b9b" stroke-width="0.7" />
<polyline points="1022,944 1022,960" stroke="#c8c8c8" stroke-width="0.6" />
<polyline points="1073,619 1088,654 1147,683" stroke="#b2b2b2" stroke-width="0.6" />
<polyline points="1090,625 1102,648 1152,674" stroke="#b2b2b2" stroke-width="0.6" />
<polyline points="1107,628 1116,644 1156,666" stroke="#b2b2b2" stroke-width="0.6" />
<polyline points="1121,627 1129,640 1159,658" stroke="#b2b2b2" stroke-width="0.6" />
<polyline points="1137,625 1148,637 1168,651" stroke="#b2b2b2" stroke-width="0.6" />
<polyline points="1063,642 1076,660 1142,691" stroke="#b2b2b2" stroke-width="0.6" />
<polyline points="1048,654 1068,672 1137,700" stroke="#b2b2b2" stroke-width="0.6" />
<polyline points="1034,666 1058,688 1132,709" stroke="#b2b2b2" stroke-width="0.6" />
<polyline points="1024,678 1049,704 1126,720" stroke="#b2b2b2" stroke-width="0.6" />
<polyline points="1016,688 1040,720 1120,730" stroke="#b2b2b2" stroke-width="0.6" />
<polyline points="1006,700 1032,736 1112,748" stroke="#b2b2b2" stroke-width="0.6" />
<polyline points="994,712 1024,752 1104,764" stroke="#b2b2b2" stroke-width="0.6" />
<polyline points="980,726 1016,768 1096,778" stroke="#b2b2b2" stroke-width="0.6" />
<polyline points="960,736 1000,780 1088,792" stroke="#b2b2b2" stroke-width="0.6" />
<polyline points="1119,734 1180,636 1320,685 1320,698 1240,810" stroke="#9b9b9b" stroke-width="0.7" />
<polyline points="1122,736 1182,640 1314,687 1238,802" stroke="#9b9b9b" stroke-width="0.7" />
<polyline points="1182,640 1182,672 1121,757" stroke="#9b9b9b" stroke-width="0.7" />
<polyline points="1182,672 1214,683" stroke="#9b9b9b" stroke-width="0.7" />
<polyline points="1228,689 1298,713" stroke="#9b9b9b" stroke-width="0.7" />
<polyline points="1306,680 1306,694" stroke="#9b9b9b" stroke-width="0.7" />
<polyline points="1314,687 1314,700" stroke="#9b9b9b" stroke-width="0.7" />
<polyline points="1119,734 1119,757" stroke="#9b9b9b" stroke-width="0.7" />
<polyline points="1320,698 1332,704 1248,826" stroke="#d0d0d0" stroke-width="0.6" />
<polyline points="1194,641 1303,680" stroke="#3a3a3a" stroke-width="0.9" />
<polyline points="1194,656 1303,694" stroke="#8a8a8a" stroke-width="0.8" />
<polyline points="1194,654 1303,692" stroke="#8a8a8a" stroke-width="0.6" />
<polyline points="1194,641 1194,655.4" stroke="#3a3a3a" stroke-width="0.9" />
<polyline points="1204.9,644.9 1204.9,659.3" stroke="#3a3a3a" stroke-width="0.9" />
<polyline points="1215.8,648.8 1215.8,663.2" stroke="#3a3a3a" stroke-width="0.9" />
<polyline points="1226.7,652.7 1226.7,667.1" stroke="#3a3a3a" stroke-width="0.9" />
<polyline points="1237.6,656.6 1237.6,671" stroke="#3a3a3a" stroke-width="0.9" />
<polyline points="1248.5,660.5 1248.5,674.9" stroke="#3a3a3a" stroke-width="0.9" />
<polyline points="1259.4,664.4 1259.4,678.8" stroke="#3a3a3a" stroke-width="0.9" />
<polyline points="1270.3,668.3 1270.3,682.7" stroke="#3a3a3a" stroke-width="0.9" />
<polyline points="1281.2,672.2 1281.2,686.6" stroke="#3a3a3a" stroke-width="0.9" />
<polyline points="1292.1,676.1 1292.1,690.5" stroke="#3a3a3a" stroke-width="0.9" />
<polyline points="1303,680 1303,694.4" stroke="#3a3a3a" stroke-width="0.9" />
<polyline points="1173,708 1188,686 1224,698 1209,720 1173,708" stroke="#999" stroke-width="0.7" />
<polyline points="1173,708 1173,714 1209,726 1209,720" stroke="#999" stroke-width="0.7" />
<polyline points="1209,726 1224,704 1224,698" stroke="#999" stroke-width="0.7" />
<polyline points="1168,715 1202,726 1202,746 1168,735 1168,715" stroke="#999" stroke-width="0.7" />
<polyline points="1234,728 1252,703 1252,722 1235,747 1234,728" stroke="#999" stroke-width="0.7" />
<polyline points="1206,758 1213,752 1260,768 1254,775" stroke="#9b9b9b" stroke-width="0.7" />
<polyline points="1206,758 1252,774" stroke="#9b9b9b" stroke-width="0.7" />
<polyline points="1148,745 1240,777 1241,800" stroke="#3a3a3a" stroke-width="1.0" />
<polyline points="1149,748 1238,779 1238,805" stroke="#8a8a8a" stroke-width="0.8" />
<polyline points="1148,745 1148,777" stroke="#3a3a3a" stroke-width="1.0" />
<polyline points="1144,747 1144,781 1146,782 1146,748 1144,747" stroke="#3a3a3a" stroke-width="0.9" />
<polyline points="1148,777 1236,807 1241,800" stroke="#8a8a8a" stroke-width="0.8" />
<polyline points="1158,768 1172,773 1172,780 1158,775 1158,768" stroke="#9b9b9b" stroke-width="0.7" />
<polyline points="1186,778 1200,783 1200,790 1186,785 1186,778" stroke="#9b9b9b" stroke-width="0.7" />
<polyline points="1210,787 1224,792 1224,799 1210,794 1210,787" stroke="#9b9b9b" stroke-width="0.7" />
<polyline points="1157,785 1159.4,783 1163.4,784.6 1161,786.6 1157,785" stroke="#9b9b9b" stroke-width="0.7" />
<polyline points="1157,785 1157,789.4 1161,791 1161,786.6" stroke="#9b9b9b" stroke-width="0.7" />
<polyline points="1161,791 1163.4,789 1163.4,784.6" stroke="#9b9b9b" stroke-width="0.7" />
<polyline points="1185,795 1187.4,793 1191.4,794.6 1189,796.6 1185,795" stroke="#9b9b9b" stroke-width="0.7" />
<polyline points="1185,795 1185,799.4 1189,801 1189,796.6" stroke="#9b9b9b" stroke-width="0.7" />
<polyline points="1189,801 1191.4,799 1191.4,794.6" stroke="#9b9b9b" stroke-width="0.7" />
<polyline points="1210,804 1212.4,802 1216.4,803.6 1214,805.6 1210,804" stroke="#9b9b9b" stroke-width="0.7" />
<polyline points="1210,804 1210,808.4 1214,810 1214,805.6" stroke="#9b9b9b" stroke-width="0.7" />
<polyline points="1214,810 1216.4,808 1216.4,803.6" stroke="#9b9b9b" stroke-width="0.7" />
<polyline points="1134,809 1142,802 1153,807 1145,814 1134,809" stroke="#9b9b9b" stroke-width="0.7" />
<polyline points="1134,809 1134,817 1145,822 1145,814" stroke="#9b9b9b" stroke-width="0.7" />
<polyline points="1145,822 1153,815 1153,807" stroke="#9b9b9b" stroke-width="0.7" />
<polyline points="1153,831 1161,824 1172,829 1164,836 1153,831" stroke="#9b9b9b" stroke-width="0.7" />
<polyline points="1153,831 1153,839 1164,844 1164,836" stroke="#9b9b9b" stroke-width="0.7" />
<polyline points="1164,844 1172,837 1172,829" stroke="#9b9b9b" stroke-width="0.7" />
<polyline points="1188,823 1196,816 1207,821 1199,828 1188,823" stroke="#9b9b9b" stroke-width="0.7" />
<polyline points="1188,823 1188,831 1199,836 1199,828" stroke="#9b9b9b" stroke-width="0.7" />
<polyline points="1199,836 1207,829 1207,821" stroke="#9b9b9b" stroke-width="0.7" />
<polyline points="1118,838 1126,831 1137,836 1129,843 1118,838" stroke="#9b9b9b" stroke-width="0.7" />
<polyline points="1118,838 1118,846 1129,851 1129,843" stroke="#9b9b9b" stroke-width="0.7" />
<polyline points="1129,851 1137,844 1137,836" stroke="#9b9b9b" stroke-width="0.7" />
<polyline points="1068,843 1143,731 1143,734" stroke="#8a8a8a" stroke-width="0.9" />
<polyline points="1071,843 1144,734" stroke="#8a8a8a" stroke-width="0.7" />
<polyline points="1121,757 1143,731" stroke="#9b9b9b" stroke-width="0.7" />
<polyline points="1132,772 1144,776" stroke="#9b9b9b" stroke-width="0.7" />
<polyline points="1132,775 1144,779" stroke="#9b9b9b" stroke-width="0.7" />
<polyline points="1132,778 1144,782" stroke="#9b9b9b" stroke-width="0.7" />
<polyline points="1080,843 1081,826 1137,762" stroke="#9b9b9b" stroke-width="0.7" />
<polyline points="1096,828 1140,766" stroke="#9b9b9b" stroke-width="0.7" />
<polyline points="1081,826 1094,831" stroke="#9b9b9b" stroke-width="0.7" />
<polygon points="955,1020 1031,961 1130,992.4" fill="#f9f7ec" stroke="none" stroke-width="0.7" />
<polyline points="955,1020 1031,961 1130,992.4" stroke="#9b9b9b" stroke-width="0.7" />
<polyline points="940,1023 1130,992.4" stroke="#9b9b9b" stroke-width="0.7" />
<polyline points="940,1028 1133,997" stroke="#9b9b9b" stroke-width="0.7" />
<polyline points="955,1020 1130,990" stroke="#d0d0d0" stroke-width="0.5" />
<polyline points="1133,996 1272,790" stroke="#9b9b9b" stroke-width="0.7" />
<polyline points="1133,975 1133,996" stroke="#9b9b9b" stroke-width="0.7" />
<polyline points="1133,975 1258,790" stroke="#9b9b9b" stroke-width="0.7" />
<polyline points="1129,973 1240,809" stroke="#c0c0c0" stroke-width="0.6" />
<polyline points="1133,975 1088,959" stroke="#9b9b9b" stroke-width="0.7" />
<polyline points="1129,973 1090,960" stroke="#9b9b9b" stroke-width="0.7" />
<polyline points="1140,992 1278,790" stroke="#d0d0d0" stroke-width="0.6" />
<polyline points="1178,898 1194,903" stroke="#d0d0d0" stroke-width="0.5" />
<polyline points="1236,809 1252,814" stroke="#d0d0d0" stroke-width="0.5" />
<polyline points="1026,910 1076,835 1077,850" stroke="#8a8a8a" stroke-width="0.9" />
<polyline points="1028,912 1077,837" stroke="#8a8a8a" stroke-width="0.7" />
<polyline points="1010,928 1026,910" stroke="#9b9b9b" stroke-width="0.7" />
<polyline points="1081,825 1096,803" stroke="#8a8a8a" stroke-width="0.9" />
<polyline points="1081,825 1081,848 1084,849" stroke="#8a8a8a" stroke-width="0.8" />
<polyline points="1083,827 1097,806" stroke="#8a8a8a" stroke-width="0.7" />
<polyline points="1064,842 1076,848" stroke="#c8c8c8" stroke-width="0.6" />
<polyline points="1073,862 1085,867" stroke="#9b9b9b" stroke-width="0.7" />
<polyline points="1073,865 1085,870" stroke="#9b9b9b" stroke-width="0.7" />
<polyline points="1073,868 1085,873" stroke="#9b9b9b" stroke-width="0.7" />
<polyline points="1038,918 1068,854" stroke="#c8c8c8" stroke-width="0.6" />
<polyline points="1026,910 1094,933 1094,956" stroke="#3a3a3a" stroke-width="1.1" />
<polyline points="1028,912.4 1093,934.4" stroke="#8a8a8a" stroke-width="0.8" />
<polyline points="1026,910 1026,931" stroke="#3a3a3a" stroke-width="1.0" />
<polyline points="1024,931 1024,934 1087,955.6 1095,957.6 1095,955" stroke="#3a3a3a" stroke-width="1.0" />
<polyline points="1024,931 1029,932.4 1088,952.4 1094,954.4" stroke="#8a8a8a" stroke-width="0.8" />
<polygon points="1032,939 1087,958 1087,974 1032,956" fill="#e3ebec" stroke="none" stroke-width="0.7" />
<polyline points="1032,939 1032,956 1087,974 1087,958" stroke="#8a8a8a" stroke-width="0.7" />
<polyline points="1030,937 1030,958" stroke="#8a8a8a" stroke-width="0.8" />
<polyline points="1032,957 1087,975" stroke="#b0b0b0" stroke-width="0.5" />
<polyline points="1032,958.2 1087,976.2" stroke="#b0b0b0" stroke-width="0.5" />
<polyline points="1032,959.4 1087,977.4" stroke="#b0b0b0" stroke-width="0.5" />
<polyline points="1032,960.6 1087,978.6" stroke="#b0b0b0" stroke-width="0.5" />
<polyline points="1021,944 1021,960 1028,962" stroke="#9b9b9b" stroke-width="0.7" />
<polyline points="1021,944 1028,939" stroke="#9b9b9b" stroke-width="0.7" />
<polyline points="1090,894 1098,888 1146,906 1146,914 1139,920 1090,902 1090,894" stroke="#b8b8b8" stroke-width="0.7" />
<polyline points="1090,894 1139,912 1146,906" stroke="#b8b8b8" stroke-width="0.7" />
<polyline points="1139,912 1139,920" stroke="#b8b8b8" stroke-width="0.7" />
<polyline points="1072,920 1078,916 1126,934 1126,942 1120,948 1095,939" stroke="#b8b8b8" stroke-width="0.7" />
<polyline points="1095,931 1120,940 1126,934" stroke="#b8b8b8" stroke-width="0.7" />
<polyline points="1120,940 1120,948" stroke="#b8b8b8" stroke-width="0.7" />
<polyline points="1134,809 1142,802 1153,807 1145,814 1134,809" stroke="#b0b0b0" stroke-width="0.7" />
<polyline points="1134,809 1134,817 1145,822 1145,814" stroke="#b0b0b0" stroke-width="0.7" />
<polyline points="1145,822 1153,815 1153,807" stroke="#b0b0b0" stroke-width="0.7" />
<polyline points="1153,831 1161,824 1172,829 1164,836 1153,831" stroke="#b0b0b0" stroke-width="0.7" />
<polyline points="1153,831 1153,839 1164,844 1164,836" stroke="#b0b0b0" stroke-width="0.7" />
<polyline points="1164,844 1172,837 1172,829" stroke="#b0b0b0" stroke-width="0.7" />
<polyline points="1188,823 1196,816 1207,821 1199,828 1188,823" stroke="#b0b0b0" stroke-width="0.7" />
<polyline points="1188,823 1188,831 1199,836 1199,828" stroke="#b0b0b0" stroke-width="0.7" />
<polyline points="1199,836 1207,829 1207,821" stroke="#b0b0b0" stroke-width="0.7" />
<polyline points="1118,838 1126,831 1137,836 1129,843 1118,838" stroke="#b0b0b0" stroke-width="0.7" />
<polyline points="1118,838 1118,846 1129,851 1129,843" stroke="#b0b0b0" stroke-width="0.7" />
<polyline points="1129,851 1137,844 1137,836" stroke="#b0b0b0" stroke-width="0.7" />
<polyline points="1175,851 1183,844 1194,849 1186,856 1175,851" stroke="#b0b0b0" stroke-width="0.7" />
<polyline points="1175,851 1175,859 1186,864 1186,856" stroke="#b0b0b0" stroke-width="0.7" />
<polyline points="1186,864 1194,857 1194,849" stroke="#b0b0b0" stroke-width="0.7" />
<polyline points="1089,837 1181,869 1181,890" stroke="#3a3a3a" stroke-width="1.0" />
<polyline points="1090,840 1179,871 1179,895" stroke="#8a8a8a" stroke-width="0.8" />
<polyline points="1089,837 1089,869" stroke="#3a3a3a" stroke-width="1.0" />
<polyline points="1085,840 1085,872.4 1087,873 1087,839 1085,840" stroke="#3a3a3a" stroke-width="0.9" />
<polyline points="1089,868 1178,898 1181,890" stroke="#8a8a8a" stroke-width="0.8" />
<polyline points="1102,852 1128,861 1128,874 1102,865 1102,852" stroke="#9b9b9b" stroke-width="0.7" />
<polyline points="1140,866 1168,876 1168,886 1140,878 1140,866" stroke="#9b9b9b" stroke-width="0.7" />
<polyline points="1188,790 1236,806 1241,798" stroke="#8a8a8a" stroke-width="0.8" />
<polyline points="976,886 976,930" stroke="#9b9b9b" stroke-width="0.7" />
<polyline points="976,918 1006,930 1006,950" stroke="#9b9b9b" stroke-width="0.7" />
<polyline points="940,1007 1020,944 1020,960" stroke="#9b9b9b" stroke-width="0.7" />
<polyline points="944,1010 1030,948" stroke="#9b9b9b" stroke-width="0.7" />
<polyline points="940,1010 940,1026" stroke="#9b9b9b" stroke-width="0.7" />
<polyline points="1020,960 1031,961" stroke="#9b9b9b" stroke-width="0.7" />
<polyline points="1012,928 1026,934" stroke="#c8c8c8" stroke-width="0.6" />
<polyline points="974.3,701 974.8,738 973,742.5" stroke="#b5b5b5" stroke-width="0.7" />
<polyline points="977.5,701 977.8,738 979.5,742.5" stroke="#b5b5b5" stroke-width="0.7" />
<ellipse cx="976.2" cy="742.6" rx="3.2" ry="1.2" stroke="#b5b5b5" stroke-width="0.6" fill="none"/>
<path d="M962.6 698.8l-1.6 0l-0.3 -1.1l1.4 -0zM972.9 681.8l-0.4 0.7l-0.5 -0.2l0.4 -0.4zM948.6 693.3l0.4 0.8l-0.5 0.5l-0.4 -0.5zM1001.5 673.2l0.3 1.6l-1.1 0.6l-0.3 -1zM1013.1 655.8l0.7 0.6l-0.3 0.6l-0.6 -0.4zM971.9 645.2l0.4 1.1l-0.7 0.5l-0.3 -0.6zM988.8 675.2l-0.3 1.2l-0.9 0.1l0.2 -0.7zM983.9 653.3l-0.2 1l-0.7 0l0.2 -0.6zM956.4 671.2l-0.5 1.3l-1 -0.1l0.5 -0.8zM964.9 636.4l-0.7 1l-0.8 -0.3l0.7 -0.6zM949 667.4l-1.6 0.1l-0.4 -1.1l1.5 -0.1zM951.5 668l-0.4 0.9l-0.7 -0.1l0.3 -0.5zM969 691.5l0.7 1.1l-0.6 0.7l-0.6 -0.7zM937.5 671.8l0.2 1.2l-0.8 0.4l-0.2 -0.7zM957 648.4l0.2 0.8l-0.5 0.3l-0.2 -0.5zM990.4 675.2l-0.9 1.4l-1.2 -0.3l0.8 -0.8zM954.3 661.3l-0.1 0.9l-0.6 0.1l0.1 -0.5zM959.6 653.4l-1 0.5l-0.5 -0.6l0.9 -0.3zM991 670.6l-1 0.1l-0.2 -0.7l0.9 -0zM993.4 684.3l0.9 0.5l-0.2 0.7l-0.8 -0.3zM972.7 629.2l0.2 1.1l-0.8 0.4l-0.2 -0.7zM961.3 668.1l-0.8 0.2l-0.3 -0.5l0.7 -0.1zM960.6 671.4l1.2 0.1l0.2 0.9l-1.1 -0zM991 686l-0.7 1.4l-1.1 -0.2l0.6 -0.8zM955.8 638.5l-0.8 0.3l-0.4 -0.5l0.7 -0.2zM988.9 680.4l-0.3 1.5l-1.1 0.1l0.3 -0.9zM959.1 698.9l1.5 1l-0.4 1.2l-1.3 -0.6zM990.7 642.3l-1.1 0.6l-0.6 -0.6l1 -0.4zM993 675.4l-0.8 1.2l-1 -0.3l0.7 -0.7zM965.9 699l0.6 0.8l-0.4 0.6l-0.6 -0.5zM966.9 682l-0.8 0.3l-0.4 -0.5l0.7 -0.2zM936.2 663l-0.2 1.1l-0.8 0.1l0.2 -0.6zM1011.1 654.9l0.8 1.1l-0.6 0.8l-0.7 -0.6zM945 658.6l1.2 1.2l-0.6 1.1l-1 -0.7zM969.6 661.5l-0.7 0.3l-0.4 -0.4l0.6 -0.2zM957.9 663.6l-0.8 0.2l-0.3 -0.5l0.7 -0.1zM960.4 644.3l1 0.2l0 0.7l-0.9 -0.1zM987.8 651l0.5 1.2l-0.8 0.6l-0.4 -0.7zM988.1 636.2l-1 0.3l-0.4 -0.6l0.9 -0.2zM944.9 674.8l-0.8 0.7l-0.7 -0.4l0.8 -0.4zM960.9 657.9l-1.5 0.6l-0.7 -0.9l1.3 -0.3zM986.1 692.4l-0.5 1l-0.8 -0.1l0.4 -0.6zM967.5 664.7l-1.4 0.7l-0.8 -0.9l1.3 -0.4zM963.5 647.9l-0.9 0.1l-0.3 -0.6l0.8 -0.1zM978.3 665.5l-1.6 0.5l-0.6 -1l1.4 -0.3zM996.8 660.4l-0.3 0.7l-0.6 -0.1l0.3 -0.4zM934.2 657l-0.2 0.8l-0.6 0l0.2 -0.5zM998.3 657.2l0.3 1.2l-0.8 0.4l-0.3 -0.7zM977 694.3l0.6 0.5l-0.2 0.5l-0.6 -0.3zM981.3 672.5l-0.5 0.8l-0.7 -0.2l0.4 -0.5zM979.9 657.9l-0.9 0.1l-0.2 -0.6l0.8 -0zM999.5 641.2l1.3 0.3l0.1 1l-1.2 -0.2zM948.9 635.4l-0.9 0.6l-0.6 -0.5l0.8 -0.4zM980.1 689.2l0.4 0.8l-0.5 0.4l-0.3 -0.5zM973 641.6l1.1 0.4l-0.1 0.8l-0.9 -0.2zM995.9 702.8l-0 0.9l-0.6 0.2l0 -0.5zM981.8 634.8l1.2 0.6l-0.2 1l-1.1 -0.4zM966.5 663.3l-0.7 0.9l-0.8 -0.3l0.6 -0.5zM940.1 646.6l-0.7 0.6l-0.5 -0.4l0.6 -0.3zM971.4 653.8l0.8 0.4l-0.1 0.7l-0.8 -0.3zM941.3 679.4l1.4 0.1l0.2 1l-1.3 -0.1zM970.8 640.4l-1.1 0.4l-0.5 -0.7l1 -0.2zM1006.7 651.9l-1 0.4l-0.5 -0.6l0.9 -0.2zM1002.4 648.8l0.6 0.5l-0.3 0.5l-0.5 -0.3zM980.8 658.3l-1.7 0.4l-0.6 -1.1l1.5 -0.2zM1006.7 662.3l1.3 0.4l-0 1l-1.1 -0.3zM939.4 643l-1.5 0.7l-0.8 -0.9l1.4 -0.4zM950.9 647.1l-1 1.1l-1 -0.4l0.9 -0.7zM954.4 684.2l0.6 1l-0.6 0.6l-0.6 -0.6zM978.8 690.8l0.3 0.7l-0.4 0.4l-0.3 -0.4zM950.7 698.2l0.3 1l-0.7 0.4l-0.3 -0.6zM948.2 664.8l0.6 1.2l-0.7 0.7l-0.6 -0.7zM972.7 655.9l-0.5 1.2l-0.9 -0.1l0.4 -0.7zM1000.1 686.8l-0 1.2l-0.8 0.2l0 -0.7zM983.5 632.2l-0.1 1l-0.7 0.1l0.1 -0.6zM978.1 670.8l0.9 0.5l-0.2 0.7l-0.8 -0.3zM975.8 642.7l1.7 0.1l0.3 1.2l-1.6 -0.1zM1003.8 663.1l0.5 1l-0.6 0.6l-0.5 -0.6zM973.3 642.9l0.3 1.6l-1 0.5l-0.3 -0.9zM965.4 689.9l1.3 0.2l0.1 1l-1.2 -0.1zM995.4 666.5l0.9 0l0.2 0.6l-0.8 -0zM995.6 650.3l-0.8 0.2l-0.3 -0.5l0.7 -0.1zM997.5 671.7l0.3 0.9l-0.5 0.4l-0.3 -0.5zM976.5 685.8l-1.4 0.7l-0.8 -0.9l1.3 -0.4zM960.2 678.4l-0.2 1.6l-1.2 0.2l0.1 -1zM943.5 681.8l-0 1.4l-1 0.2l0 -0.8zM959.5 667.8l0.5 1.1l-0.7 0.6l-0.5 -0.7zM961.3 668.5l0 1.3l-0.9 0.3l-0 -0.8zM979.3 649.5l-1 1.5l-1.2 -0.4l0.9 -0.9zM951 671.9l-1.3 0.5l-0.6 -0.9l1.2 -0.3zM977.3 656.4l0.5 1.5l-0.9 0.7l-0.5 -0.9zM949.9 675.6l-1 0.2l-0.3 -0.7l0.9 -0.1zM974.9 674.2l0.9 0l0.2 0.7l-0.8 -0zM971 673.5l-0.1 0.8l-0.6 0.1l0.1 -0.5zM968.7 675.9l-1.3 0.2l-0.4 -0.9l1.2 -0.1zM942.8 646.6l-0.8 0.5l-0.5 -0.5l0.7 -0.3zM947.1 679.3l-0.1 1.4l-1 0.2l0.1 -0.8zM955.4 667.8l1 0.8l-0.4 0.9l-0.9 -0.5zM986.3 685.8l0.7 0.6l-0.3 0.6l-0.6 -0.4zM954.4 672.9l-0.8 0.6l-0.6 -0.4l0.7 -0.3zM960.6 704.1l-0.2 0.9l-0.7 0l0.2 -0.5zM995.7 676.4l-1.3 1.2l-1.1 -0.6l1.1 -0.7zM997.3 678.8l-1.1 0.9l-0.9 -0.6l1 -0.6zM994.6 700.2l-0.1 1.3l-0.9 0.2l0.1 -0.8zM995.5 638.9l-0.9 0.2l-0.3 -0.6l0.8 -0.1zM984.2 636.7l-0.9 1.1l-1 -0.4l0.8 -0.7zM954.5 640.3l1.5 0.2l0.1 1.1l-1.3 -0.1zM958.4 640.7l-1 0.2l-0.3 -0.7l0.9 -0.1zM977.8 700.9l-0.8 0.8l-0.7 -0.4l0.8 -0.5zM974.3 658.5l-1.5 0.7l-0.8 -0.9l1.3 -0.4zM943.3 667.2l0.8 0.7l-0.3 0.7l-0.7 -0.4zM934.9 673.1l1.4 0.1l0.2 1l-1.3 -0zM953.1 659.9l-0.2 1.1l-0.8 0.1l0.2 -0.7zM963.6 663.5l-0.9 0.6l-0.6 -0.5l0.8 -0.4zM962.2 688.9l-1.3 0.1l-0.3 -0.9l1.2 -0zM1004.9 684.1l1 1.4l-0.8 1l-0.9 -0.8zM959 687.1l0.4 1l-0.6 0.5l-0.3 -0.6zM960.8 690.6l-0.8 1.3l-1.1 -0.3l0.7 -0.8zM975.5 660.7l-0.8 1l-0.9 -0.4l0.7 -0.6zM957.6 668.6l-0.4 1.1l-0.8 -0.1l0.4 -0.7zM960.2 665.6l-1.2 0.2l-0.4 -0.8l1 -0.1zM967.7 653.4l-0.6 1.3l-1 -0.2l0.5 -0.8zM1005.5 688.8l1.4 0.2l0.1 1l-1.2 -0.1zM995.3 691.6l-1.2 0.1l-0.3 -0.8l1.1 -0.1zM990.3 667.9l-0.9 0.3l-0.4 -0.6l0.8 -0.2zM983.6 666.9l-1.1 1.2l-1.1 -0.5l1 -0.7zM937.6 666.9l-1.6 0.1l-0.4 -1.1l1.4 -0.1zM982.2 677.6l-1.4 0.6l-0.7 -0.9l1.3 -0.4zM974.6 678l-0.3 1.4l-1.1 0.1l0.3 -0.9zM939 656.8l0.4 1.5l-1 0.6l-0.3 -0.9zM988.2 702.2l0 1.5l-1 0.3l-0 -0.9zM944.7 651.1l1.2 1l-0.5 1l-1 -0.6zM977.8 673.2l-0.6 1.2l-1 -0.1l0.5 -0.7zM956.9 694.9l1.2 0.1l0.2 0.8l-1.1 -0zM988.6 704.3l0.2 1.2l-0.8 0.4l-0.2 -0.7zM969 700.9l-0.4 1.2l-0.9 -0l0.4 -0.7zM939.8 650.7l1.2 0.9l-0.4 1l-1 -0.5zM948.8 650.4l0.8 1.4l-0.8 0.9l-0.8 -0.8zM972.8 633l-0.5 1.5l-1.1 -0l0.4 -0.9zM996.8 694.8l-0.8 0.3l-0.3 -0.5l0.7 -0.2zM967.8 671.1l-0.7 1l-0.8 -0.3l0.6 -0.6zM957.4 694.4l1.2 0.7l-0.3 1l-1 -0.4zM977.4 665.3l-1.1 0.9l-0.8 -0.6l1 -0.5zM985.2 662.4l0.9 1.3l-0.7 0.9l-0.8 -0.8zM970 648.6l0.6 1.2l-0.7 0.6l-0.5 -0.7zM1000.7 692.1l1.2 0.5l-0.1 0.9l-1 -0.3zM943.4 681.5l1.3 1l-0.4 1.1l-1.2 -0.6zM967.6 664.7l0.7 0.3l-0.1 0.6l-0.7 -0.2zM968.8 649l0.9 0.9l-0.4 0.8l-0.8 -0.5zM991.8 654.8l-1 1.1l-1 -0.4l0.9 -0.7zM973.2 666.5l-0.9 1.5l-1.2 -0.3l0.8 -0.9zM1013.4 673.6l0.3 1l-0.7 0.4l-0.3 -0.6zM964.9 626.6l-1 0.4l-0.5 -0.6l0.9 -0.2zM993.8 671.3l0.7 0.7l-0.4 0.7l-0.7 -0.4zM966.4 629.1l-1 0.2l-0.4 -0.7l0.9 -0.1zM988.3 680.2l0 1.2l-0.9 0.3l-0 -0.7zM946.5 660l-1.1 1l-0.9 -0.5l1 -0.6zM944.2 653.4l0.1 1.7l-1.1 0.4l-0.1 -1zM959.7 653.1l-0.5 1.1l-0.9 -0.1l0.5 -0.6zM962.1 655l-1.2 0.4l-0.5 -0.8l1.1 -0.3zM994.7 650.3l0.4 1l-0.6 0.5l-0.4 -0.6zM973.7 668.1l0.6 0.5l-0.2 0.5l-0.6 -0.3zM934.1 653.2l1.6 0.2l0.2 1.2l-1.5 -0.1zM961.7 691.6l0.8 0.6l-0.3 0.7l-0.8 -0.4zM982.7 648.8l1.4 0.5l-0.1 1l-1.2 -0.3zM943.7 664.8l-0.8 0.9l-0.8 -0.4l0.7 -0.6zM964.1 650.2l-0.9 0.7l-0.7 -0.5l0.8 -0.4zM974.6 669.3l0.9 0.2l0.1 0.6l-0.8 -0.1zM969.2 627.6l-0.5 0.6l-0.5 -0.2l0.4 -0.4zM962.9 655.4l0.6 1.4l-0.9 0.7l-0.5 -0.8zM965 656.2l0.8 1l-0.5 0.8l-0.7 -0.6zM981.7 673l0 0.9l-0.6 0.2l-0 -0.5zM965.2 646.7l-0.6 1.2l-0.9 -0.2l0.5 -0.7zM941.9 663.3l-1.1 0.7l-0.7 -0.6l1 -0.4zM995.4 661.4l-0.9 0.4l-0.5 -0.6l0.8 -0.2zM984.1 645.2l0.2 0.9l-0.6 0.3l-0.2 -0.5zM979.4 663.8l1.1 1.2l-0.6 1l-1 -0.7zM959.7 674.7l-1.7 0.1l-0.4 -1.2l1.5 -0.1zM985.7 659.8l-0.5 1.5l-1.2 -0l0.4 -0.9zM964.6 697l1.4 0.8l-0.3 1.1l-1.2 -0.5zM972.1 633.3l0 0.9l-0.7 0.2l-0 -0.6zM951.8 672l0.7 1.6l-1 0.8l-0.6 -1zM992.5 664.1l0.5 0.9l-0.5 0.5l-0.5 -0.6zM981.3 642.7l-0.3 1.6l-1.2 0.1l0.3 -1zM987.6 651.1l-0 0.8l-0.6 0.1l0 -0.5zM972.5 701l-0.6 1.3l-1.1 -0.2l0.6 -0.8zM993.6 669.8l-1.7 0.1l-0.4 -1.2l1.6 -0zM950 640.9l1.1 0.7l-0.2 0.9l-1 -0.4zM988.9 661.9l0.8 1.6l-1 0.8l-0.7 -0.9zM960.2 651.7l-0.8 1.3l-1 -0.3l0.7 -0.8zM989.4 647.2l-0.8 0.6l-0.6 -0.4l0.7 -0.4zM984.2 648.1l-0.5 1.1l-0.9 -0.1l0.4 -0.7zM965.2 635l-0.9 0.1l-0.3 -0.6l0.8 -0.1zM974.2 667.7l-1.2 0.5l-0.6 -0.7l1 -0.3zM965.8 681l0.7 0.5l-0.2 0.6l-0.7 -0.3zM936 673l-1.3 0.1l-0.4 -0.9l1.2 -0.1zM969.7 664.7l0.9 0l0.2 0.6l-0.8 -0zM980.4 657.2l-0.2 1l-0.7 0l0.2 -0.6zM968.4 675.7l-1.4 0.1l-0.4 -0.9l1.2 -0.1zM999.2 699.6l-0.4 0.9l-0.7 -0.1l0.4 -0.5zM954.7 661.1l-0.5 1.6l-1.2 -0l0.5 -0.9zM1001.2 663.8l1.5 0.7l-0.2 1.2l-1.4 -0.4zM1007.3 641.5l1.2 0.3l0 0.9l-1.1 -0.2zM976 652l1.1 0.2l0.1 0.8l-1 -0.1zM987.5 670.7l-1.6 0.3l-0.5 -1.1l1.5 -0.2zM1008.5 661l-0.7 0.4l-0.4 -0.4l0.7 -0.2zM975.3 658.5l1 0.4l-0.1 0.8l-0.9 -0.3zM991.5 686.7l-0.2 1.2l-0.8 0.1l0.2 -0.7zM975.2 685l-0.3 0.9l-0.7 -0.1l0.3 -0.5zM946.5 664.1l1.1 0.1l0.1 0.8l-1 -0.1zM948.9 659.4l1 0.6l-0.2 0.8l-0.9 -0.3zM979.7 636.1l1.2 0.9l-0.4 1.1l-1.1 -0.6zM956.4 689.7l-0.8 0.4l-0.4 -0.5l0.7 -0.2zM945.5 649.1l0.6 1.1l-0.6 0.6l-0.5 -0.6zM984.9 684.9l-0.7 0.5l-0.5 -0.4l0.6 -0.3zM1001.3 653.2l-0.7 0.8l-0.7 -0.4l0.7 -0.5zM992.6 665.2l-0.9 1.5l-1.2 -0.3l0.8 -0.9zM1000.8 667.7l-0.9 0.2l-0.3 -0.6l0.8 -0.1zM946.9 660.1l1.3 0.8l-0.3 1.1l-1.2 -0.5zM988.3 665.5l-1.2 1.2l-1 -0.6l1.1 -0.7zM967.7 673.1l-1.2 1l-0.9 -0.6l1 -0.6zM957.4 690.2l0.1 1.3l-0.9 0.3l-0.1 -0.8zM985.9 687.9l-0.8 0.5l-0.5 -0.5l0.7 -0.3zM976.9 655.8l-0.6 1.5l-1.2 -0.1l0.6 -0.9zM984.9 657.7l-0.9 0.1l-0.2 -0.6l0.8 -0.1zM984.3 700.3l1.5 0.7l-0.2 1.2l-1.3 -0.4zM956.2 668.9l0.1 1.5l-1 0.4l-0.1 -0.9zM973.5 664.7l-0.6 0.9l-0.7 -0.2l0.5 -0.5zM980.7 706l0.9 0.1l0.1 0.7l-0.8 -0.1zM949.8 696l-0.7 1.2l-1 -0.3l0.7 -0.7zM1008.9 689.6l1 0.2l0 0.7l-0.9 -0.1zM953.8 629.6l0.6 1.1l-0.7 0.6l-0.5 -0.7zM951.5 662.3l1.3 0.6l-0.2 1l-1.2 -0.4zM960.7 667.7l1.3 0.8l-0.3 1l-1.1 -0.5zM994.4 683.1l-1.7 0.3l-0.5 -1.1l1.5 -0.2zM979.5 655l0.8 1.1l-0.6 0.8l-0.7 -0.6zM969.5 671.3l-1.3 1l-1 -0.7l1.2 -0.6zM958.6 697.2l0.2 0.8l-0.5 0.3l-0.2 -0.5zM984.5 636.3l0.5 0.7l-0.4 0.5l-0.4 -0.4zM970.2 691l-0.1 1.1l-0.8 0.1l0.1 -0.6zM972.7 697.5l1 0.3l0 0.8l-0.9 -0.2zM954.7 641.6l-1.2 0l-0.2 -0.8l1 -0zM963.7 685.1l-1 1l-0.9 -0.5l0.9 -0.6zM983.1 660.3l0.7 1.1l-0.7 0.7l-0.6 -0.7zM969.1 657.8l-0.4 1.1l-0.8 -0l0.3 -0.7zM975.6 698.1l1 1.2l-0.7 1l-0.9 -0.7zM954.9 655.8l-0.5 1.5l-1.2 -0.1l0.5 -0.9zM959.3 684.2l-1.1 0.7l-0.7 -0.6l0.9 -0.4zM1000.7 673l0.2 1l-0.6 0.3l-0.2 -0.6zM989.1 675.3l-0.6 0.9l-0.8 -0.2l0.5 -0.5zM963.6 672.7l-0.9 1.4l-1.1 -0.4l0.8 -0.8zM977.9 686.2l-0.5 0.8l-0.6 -0.2l0.4 -0.5zM972.2 685.2l0.8 1.4l-0.8 0.8l-0.7 -0.8zM990.1 660.6l1 0.8l-0.3 0.8l-0.9 -0.5zM962.7 693.7l0.9 0.2l0.1 0.7l-0.8 -0.1zM974.9 667.1l0.8 0.3l-0.1 0.6l-0.7 -0.2zM971.7 663.6l-0.3 1l-0.7 -0l0.3 -0.6zM952.5 634.6l0.9 0.3l-0 0.7l-0.8 -0.2zM977 670.6l-1.4 0.5l-0.6 -0.9l1.3 -0.3zM954.4 675.5l0.4 1.7l-1.1 0.6l-0.4 -1zM990.7 646.5l0.2 1.5l-1 0.4l-0.1 -0.9zM947.4 654.4l1.2 0.8l-0.3 1l-1 -0.5zM986.1 670.4l0.3 1.1l-0.7 0.4l-0.3 -0.6zM1001.5 658l-0.2 0.8l-0.6 0l0.2 -0.5zM954.1 682.1l-1 0.6l-0.6 -0.6l0.9 -0.3zM961.3 709.1l-1 0.4l-0.5 -0.6l0.9 -0.3zM973.4 650.5l1.3 0.9l-0.4 1.1l-1.2 -0.6zM967.9 659.3l-0 1.7l-1.2 0.3l0 -1zM966.3 679.5l1.2 1l-0.5 1l-1 -0.6zM968.3 674.1l0.5 1.2l-0.8 0.6l-0.4 -0.7zM971.4 673.5l0.9 1.1l-0.6 0.9l-0.8 -0.6zM951.9 698.7l-0.9 0l-0.2 -0.6l0.8 -0zM950.6 664.5l-0.9 0.5l-0.5 -0.5l0.8 -0.3zM999.1 678.5l0.6 0.9l-0.5 0.6l-0.5 -0.5zM986.9 654.3l-1.3 0.4l-0.6 -0.9l1.2 -0.3zM980.2 634.6l-1.3 0.6l-0.7 -0.8l1.2 -0.3zM998.6 688.2l1 0.2l0 0.7l-0.9 -0.1zM981.5 695.8l-0.2 1.3l-0.9 0.1l0.2 -0.8zM968.8 659.5l-0.9 1.3l-1.1 -0.4l0.8 -0.8zM975.5 642.3l1 0.1l0.1 0.7l-0.9 -0.1zM989.9 691.3l-0.4 1.2l-0.9 -0l0.3 -0.7zM954 660.7l0.9 0.5l-0.2 0.7l-0.8 -0.3zM977.3 707.3l-0.8 0.1l-0.2 -0.5l0.7 -0zM975.4 679.9l-0.6 0.7l-0.6 -0.3l0.6 -0.4zM977 663.5l-0.2 1.2l-0.9 0.1l0.2 -0.7zM972.7 683.8l-0.8 0.3l-0.4 -0.5l0.7 -0.2zM989.8 668.4l-0.6 0.5l-0.5 -0.3l0.6 -0.3zM952.3 658.7l1.3 0.8l-0.3 1.1l-1.2 -0.5zM1003.1 691.7l-0.4 0.8l-0.6 -0.1l0.3 -0.5zM990.4 683.4l0.1 1.1l-0.7 0.3l-0.1 -0.6zM1008 670.6l-1 0.1l-0.3 -0.6l0.9 -0.1zM981.8 682.8l-1.2 0.5l-0.6 -0.7l1.1 -0.3zM999.8 647.9l1.2 0.4l-0 0.9l-1.1 -0.2zM935.2 679.4l0.1 0.8l-0.5 0.3l-0.1 -0.5zM973.1 667.4l1.3 0.6l-0.2 1l-1.2 -0.4zM963.5 669.7l-0.4 0.9l-0.7 -0.1l0.3 -0.6zM959.2 639.6l-1.6 0.2l-0.4 -1.1l1.4 -0.1zM963.9 676.5l-1 0.3l-0.4 -0.7l0.9 -0.2zM975.8 674.4l0.1 1l-0.7 0.3l-0.1 -0.6zM1007.5 651.9l-1 1.4l-1.1 -0.4l0.9 -0.8zM969.1 639.5l-1.5 0.1l-0.4 -1l1.4 -0.1zM992.4 657l1.6 0.5l-0.1 1.2l-1.4 -0.3zM987.6 669.9l-0.6 0.7l-0.6 -0.3l0.5 -0.4zM979 649l-0.8 0.8l-0.7 -0.4l0.7 -0.5zM999.9 681.5l-0.1 0.8l-0.6 0.1l0.1 -0.5zM975.8 686.3l-0.8 0.4l-0.4 -0.5l0.7 -0.2zM963.8 660.9l0.3 1.6l-1 0.6l-0.3 -0.9zM969.7 650.6l0.6 1.6l-1 0.7l-0.5 -1zM977.6 636l1 1.4l-0.7 1l-0.9 -0.8zM966.9 637.9l1.2 0.2l0.1 0.9l-1.1 -0.1zM943.6 681.4l0.2 1.2l-0.8 0.4l-0.2 -0.7zM965.2 638.4l-1.3 0.6l-0.7 -0.8l1.1 -0.4zM954.9 679.4l0.4 1l-0.6 0.5l-0.4 -0.6zM978.3 708l1.2 0.3l0 0.9l-1.1 -0.2zM958.5 699.5l-0.7 0.8l-0.7 -0.3l0.6 -0.5zM972.8 670.7l1.5 0.4l0 1.2l-1.4 -0.3zM953.5 690.8l-1.5 0.5l-0.7 -1l1.4 -0.3zM978.6 679.9l1 0l0.2 0.7l-0.9 -0zM1003.2 685.9l-1.5 0.3l-0.5 -1l1.4 -0.2zM993.9 676.3l0.2 1.7l-1.2 0.5l-0.2 -1zM992.3 638.3l0.9 0.8l-0.4 0.8l-0.8 -0.5zM963.1 697.7l-1.7 0.3l-0.6 -1.2l1.6 -0.2zM1001.2 693.5l0 1.7l-1.2 0.4l-0 -1zM937.5 681l1.3 1.1l-0.5 1.1l-1.2 -0.6zM980.1 682.5l0.4 0.7l-0.4 0.4l-0.3 -0.4zM976.2 627.9l0.1 1.4l-1 0.4l-0.1 -0.9zM939.7 665.3l1.1 1.1l-0.5 1l-1 -0.7zM984.5 669.7l1.2 1l-0.5 1l-1 -0.6zM1003 678.5l-0.9 0.5l-0.5 -0.5l0.8 -0.3zM996 662.9l1.4 0.3l0 1l-1.2 -0.2zM981.1 675.3l-0.1 1l-0.7 0.2l0 -0.6zM945.1 652.6l-1.1 0.3l-0.4 -0.7l0.9 -0.2zM998.2 675.6l-1.2 0.3l-0.4 -0.8l1.1 -0.2zM967.1 688.2l0 1.6l-1.1 0.3l-0 -0.9zM935.4 665.3l1.1 1.1l-0.6 1l-1 -0.7zM948.4 688.2l0.6 0.7l-0.4 0.6l-0.5 -0.4zM1009.9 662.5l1 1.3l-0.7 1l-0.9 -0.8zM944.8 657.9l0.7 0.3l-0.1 0.6l-0.6 -0.2zM959.6 699.5l0.8 1.4l-0.8 0.8l-0.7 -0.8zM970.9 679.2l1.4 0.6l-0.1 1.1l-1.2 -0.4zM973.3 670.7l0.2 0.9l-0.6 0.3l-0.2 -0.5zM993.4 663.8l1 1.4l-0.8 0.9l-0.9 -0.8zM998.9 637.6l1.1 0.5l-0.1 0.8l-1 -0.3zM968 684.7l-0.4 1l-0.8 -0.1l0.4 -0.6zM994.8 662.6l1.4 0.7l-0.2 1.1l-1.3 -0.4zM968.9 682.9l1.3 0.7l-0.2 1.1l-1.2 -0.4zM969.1 634.3l0.3 1.1l-0.7 0.4l-0.3 -0.6zM949.9 691.2l-1 1.4l-1.1 -0.4l0.9 -0.8zM997.9 683l1.3 0.1l0.2 0.9l-1.2 -0zM953.6 689.3l-1.5 0.1l-0.4 -1l1.4 -0.1zM938.4 670.5l0.4 1.1l-0.7 0.5l-0.3 -0.6zM984.6 704.5l0.8 1.4l-0.8 0.8l-0.7 -0.8zM987.6 664.7l-1.4 0.5l-0.6 -0.9l1.3 -0.3zM942.8 659.2l0.8 0.7l-0.3 0.7l-0.8 -0.4zM968.9 681.5l1.4 0.5l-0.1 1.1l-1.2 -0.3zM973.2 668.3l-0.2 1.4l-1 0.1l0.2 -0.8zM994.8 676.2l-0.9 0.6l-0.6 -0.6l0.9 -0.3zM969.2 642.8l1.2 0.3l0 0.9l-1.1 -0.2zM964.2 659.3l-1.1 1.1l-1 -0.6l1 -0.7zM958.9 634.7l0.6 1.4l-0.9 0.7l-0.5 -0.8zM1009.2 672.5l-0.1 1.1l-0.8 0.1l0.1 -0.7zM947.8 683.1l-0.4 1.4l-1 0l0.3 -0.8zM1007.8 684.4l0.9 0.8l-0.4 0.8l-0.8 -0.5zM1009.7 673.2l0.5 1.5l-0.9 0.6l-0.4 -0.9zM986.3 671.7l-0.7 1.5l-1.2 -0.2l0.6 -0.9zM946.5 669.1l-0.2 1.7l-1.2 0.2l0.2 -1zM975.1 635.9l-0.4 1l-0.8 -0.1l0.4 -0.6zM963.3 630.1l0.7 1.1l-0.6 0.7l-0.6 -0.6zM973.1 662l1 0.9l-0.5 0.9l-0.9 -0.6zM991.3 678.2l-0.9 0.9l-0.8 -0.4l0.8 -0.5zM992.3 674.3l1.2 0.3l0 0.9l-1.1 -0.2zM993.6 692.4l-0.7 1.4l-1.1 -0.2l0.6 -0.8zM944.1 675.3l0.8 0.6l-0.3 0.7l-0.7 -0.4zM958.2 685.1l-0.8 0.2l-0.3 -0.5l0.7 -0.1zM986.5 706.2l0.4 1.2l-0.8 0.6l-0.4 -0.7zM1006.5 680l-0.1 1.5l-1.1 0.2l0.1 -0.9zM990.1 677.1l1 0.8l-0.3 0.9l-0.9 -0.5zM969.3 641.7l-1.1 0.8l-0.7 -0.6l1 -0.5zM994.7 663.5l-0.3 1.7l-1.3 0.1l0.3 -1zM969.8 647.2l0.3 0.7l-0.5 0.4l-0.3 -0.4zM995.5 671.5l-1.1 0.1l-0.3 -0.8l1 -0zM991.8 669.7l-0.8 1.3l-1.1 -0.3l0.7 -0.8zM998 668l-0.2 1.7l-1.2 0.2l0.2 -1zM942.2 674l-1.2 0.1l-0.3 -0.8l1.1 -0zM993.8 646.5l-0.5 1.1l-0.9 -0.2l0.5 -0.7zM953.6 670l-1.1 0.3l-0.4 -0.7l1 -0.2zM992 647.4l-1.3 0.1l-0.3 -0.9l1.2 -0.1zM959 687.1l1.1 0.9l-0.4 1l-1 -0.5zM943.8 697.1l1.6 0.5l-0 1.2l-1.5 -0.3zM967.5 664.3l-0.4 1.5l-1.1 0l0.4 -0.9zM975.1 694.6l1.2 0.2l0.1 0.9l-1.1 -0.1zM946.4 665.3l-1.4 0.8l-0.9 -0.8l1.3 -0.5zM988.5 638.1l-0.9 1.4l-1.2 -0.3l0.8 -0.9zM992.6 678.9l-0.3 1.5l-1.1 0.1l0.2 -0.9zM958 689.2l0.6 1.6l-1 0.7l-0.5 -0.9zM1011.5 666.4l-0.5 1l-0.8 -0.1l0.4 -0.6zM1000.4 672.5l-0.8 0.6l-0.6 -0.5l0.7 -0.3zM993.8 684.5l0.5 1.6l-1 0.7l-0.5 -1zM972.7 654.4l-0.6 0.9l-0.7 -0.2l0.5 -0.5zM971.8 634.1l-1.1 0.5l-0.6 -0.6l1 -0.3zM957.2 673.8l-0.9 0.4l-0.5 -0.5l0.8 -0.2zM945.3 684.2l0.7 0.6l-0.3 0.6l-0.7 -0.4zM993 653.9l-0 1l-0.7 0.2l0 -0.6zM1009.5 681l0.9 0l0.2 0.6l-0.8 -0zM955.6 674.7l0.2 1.3l-0.9 0.4l-0.2 -0.8zM974 673.5l1.6 0.5l-0.1 1.2l-1.4 -0.3zM1009.3 644.3l-0.5 0.8l-0.7 -0.2l0.4 -0.5zM981.8 677.6l0.1 0.9l-0.6 0.2l-0.1 -0.5zM945.3 689.4l1.2 1.1l-0.5 1l-1.1 -0.6zM954.2 696.4l-0.4 1.5l-1.1 0l0.4 -0.9zM943.5 694.2l-1.3 0.2l-0.4 -0.8l1.1 -0.1zM966.7 684.5l0.7 0.7l-0.4 0.7l-0.7 -0.4zM994.8 687.5l-0.9 1.1l-1 -0.4l0.8 -0.7zM943.6 682.9l1.3 0.2l0.2 1l-1.2 -0.1zM1001.1 674.5l0.5 1.2l-0.7 0.6l-0.5 -0.7zM960.5 660.5l0.9 1.4l-0.8 0.9l-0.8 -0.8zM1012 658.9l0.7 1.1l-0.6 0.7l-0.6 -0.6zM999.9 682.6l0.3 0.8l-0.5 0.4l-0.3 -0.5zM996.6 646.6l-1.6 0.5l-0.7 -1l1.5 -0.3zM980 667.6l0 1.3l-0.9 0.3l-0 -0.8zM965.2 647.8l1 0.6l-0.2 0.8l-0.9 -0.3zM1004.8 694.4l-0.7 0.5l-0.5 -0.4l0.7 -0.3zM946.9 671.2l-1.4 0.5l-0.6 -0.9l1.3 -0.3zM988.8 667.6l-1.2 1.2l-1.1 -0.6l1.1 -0.7zM985.8 702.1l-0.9 0.1l-0.2 -0.6l0.8 -0zM965.9 682.5l-1.1 0.6l-0.7 -0.7l1 -0.4zM951.6 673.6l0.9 1.4l-0.8 0.9l-0.8 -0.9zM979 640.4l1 0.7l-0.3 0.8l-0.9 -0.4zM973.6 668.6l0.9 0.9l-0.5 0.8l-0.8 -0.6zM988.5 681l0.1 1l-0.7 0.3l-0.1 -0.6zM982.1 662.5l1.7 0.3l0.1 1.3l-1.5 -0.2zM945.7 652.8l1.5 0.7l-0.2 1.2l-1.4 -0.4zM975 654.1l1.4 0.8l-0.3 1.1l-1.2 -0.5zM955 699.5l1.2 1l-0.5 1l-1.1 -0.6zM982.2 696.1l-0.2 1.3l-1 0.1l0.1 -0.8zM974 681.2l1.1 0.4l-0 0.8l-1 -0.2zM968.9 675l0.2 1.1l-0.8 0.3l-0.1 -0.7zM936.1 685.9l-0.7 0.3l-0.4 -0.4l0.6 -0.2zM982.2 660.5l-0.9 0.4l-0.5 -0.5l0.8 -0.2zM951.1 652l0.8 0.7l-0.3 0.7l-0.7 -0.4zM984.6 667.8l0.2 1.6l-1.1 0.5l-0.2 -1zM1010.6 676.2l-0 0.9l-0.6 0.2l0 -0.5zM1002 689.2l-1.4 0.9l-0.9 -0.8l1.3 -0.5zM994.5 649.1l0.5 0.8l-0.5 0.5l-0.5 -0.5zM976.6 633.6l-0.2 0.8l-0.6 0l0.1 -0.5zM947.2 660.1l-0.9 0.7l-0.6 -0.5l0.8 -0.4zM974.5 710.7l-1.3 0.4l-0.6 -0.8l1.2 -0.3zM968.6 674.7l1 0.9l-0.4 0.9l-0.9 -0.5zM980.1 664.3l0.9 0.8l-0.4 0.8l-0.8 -0.5zM1002.1 683.9l-0.6 1.1l-0.9 -0.2l0.6 -0.6zM951.4 657.7l-1.5 0.3l-0.5 -1l1.3 -0.2zM967.1 676.6l1.3 0.6l-0.2 1l-1.2 -0.4zM994 696.5l0.1 1l-0.6 0.3l-0.1 -0.6zM1002 664.6l1 0.3l0 0.8l-0.9 -0.2zM948.1 697.8l-0.3 0.7l-0.6 -0.1l0.3 -0.4zM960 693.4l0.3 1.2l-0.7 0.5l-0.3 -0.7zM985.7 636.9l-0.9 0.7l-0.7 -0.5l0.8 -0.4zM980.5 686.8l-1.1 0.8l-0.8 -0.6l1 -0.5zM951.4 668.2l-0.7 1.6l-1.2 -0.2l0.6 -0.9zM983.4 691.8l1 0.1l0.1 0.7l-0.9 -0.1zM941.9 689.3l-1 1.1l-1 -0.5l0.9 -0.7zM982.4 676.1l0.6 1.3l-0.8 0.7l-0.6 -0.8zM963.4 640.1l-0.8 0.7l-0.6 -0.4l0.7 -0.4zM999.7 680.4l-0.1 1l-0.7 0.1l0.1 -0.6zM1003 694.1l-1.6 0.4l-0.6 -1l1.5 -0.3zM1008.4 669.3l0.6 1.6l-1 0.7l-0.5 -0.9zM985.5 647.9l-0.8 1l-0.9 -0.4l0.7 -0.6zM976.9 674.4l-0.6 0.6l-0.6 -0.3l0.5 -0.4zM945 641.3l1.4 0.3l0.1 1l-1.2 -0.2zM975 646.2l0.6 1l-0.6 0.6l-0.5 -0.6zM1007.4 647.4l0.5 1.4l-0.9 0.6l-0.5 -0.8zM994.2 650l-1 0.1l-0.2 -0.7l0.9 -0zM940.1 675.3l-1 0.2l-0.3 -0.6l0.9 -0.1zM1007.9 697.1l0.3 1l-0.6 0.4l-0.3 -0.6zM964.6 630.5l0.9 0l0.2 0.7l-0.8 -0zM1006.8 694.7l0.9 1.3l-0.8 0.9l-0.8 -0.8zM973.9 672.2l-1.2 0.6l-0.7 -0.7l1.1 -0.4zM991.3 691.5l1.1 0.9l-0.4 0.9l-1 -0.5zM948.2 676.6l0.1 1.4l-1 0.4l-0.1 -0.9zM987.9 695.4l-1.1 0.6l-0.6 -0.7l1 -0.4zM962.8 684l-0.4 0.7l-0.6 -0.2l0.4 -0.4zM969.6 655.5l0.3 1.2l-0.8 0.4l-0.2 -0.7zM997.8 670.2l-0.2 1l-0.7 0.1l0.2 -0.6zM1008.4 666.8l-1.2 0.3l-0.5 -0.8l1.1 -0.2zM966.4 666.6l1 0.7l-0.3 0.9l-0.9 -0.4zM979.1 695l-0.5 0.7l-0.6 -0.2l0.5 -0.4zM939.9 669.5l-1 0.8l-0.8 -0.5l0.9 -0.5zM965.4 651.8l-0 1.1l-0.8 0.2l0 -0.7zM950.6 647.8l0.2 1l-0.6 0.3l-0.2 -0.6zM1005.6 662.6l0.9 1.1l-0.6 0.9l-0.8 -0.7zM1005.5 694.1l0.1 0.9l-0.6 0.3l-0.1 -0.6zM998 691l-0.8 0.2l-0.3 -0.5l0.7 -0.1zM980.2 681.3l0.9 1.1l-0.6 0.9l-0.9 -0.7zM984.1 695.4l0.6 0.5l-0.3 0.5l-0.5 -0.3zM998.2 644l-1 0.5l-0.6 -0.6l0.9 -0.3zM963.2 638.9l0 0.9l-0.6 0.2l-0 -0.5zM958.4 674.8l-0.1 1.4l-1 0.2l0.1 -0.9zM959.5 691.5l-0.2 1.2l-0.9 0.1l0.1 -0.7zM960.4 697.2l0.3 0.8l-0.5 0.4l-0.3 -0.5zM991.4 700.1l-0.1 1.4l-1 0.2l0.1 -0.9zM966.7 641.5l-0.1 1.2l-0.9 0.2l0.1 -0.7zM982.7 688.4l0.8 0.2l0 0.6l-0.7 -0.1zM957.4 675.7l-0.6 0.6l-0.5 -0.3l0.5 -0.4zM937.8 656.8l-0.9 0.8l-0.8 -0.5l0.8 -0.5zM1001.6 683.4l1 0.8l-0.3 0.9l-0.9 -0.5zM979.4 676.5l-1.4 0.9l-0.9 -0.8l1.3 -0.6zM946.2 688.3l1.1 0.1l0.2 0.8l-1 -0zM963.7 661.2l-1.2 0.5l-0.6 -0.8l1.1 -0.3zM952.1 637.1l1.5 0.4l0.1 1.1l-1.4 -0.2zM968.9 660.5l1.3 0.5l-0.1 1l-1.2 -0.3zM955.3 639.1l1.3 0.2l0.1 1l-1.2 -0.1zM975.1 649.9l1.2 0l0.2 0.8l-1.1 -0zM978.2 684.5l1 1.2l-0.6 0.9l-0.9 -0.7zM993.6 667.2l0.4 1.5l-1 0.5l-0.3 -0.9zM939.7 641.2l-0.8 0.6l-0.6 -0.4l0.7 -0.4zM986.8 651l-1.2 0.2l-0.4 -0.8l1.1 -0.1zM982.8 663.2l1.7 0.3l0.1 1.2l-1.5 -0.2zM986.1 688.5l-0.9 0.2l-0.3 -0.6l0.8 -0.1zM957.9 664.5l-1.1 1.2l-1.1 -0.5l1 -0.7zM971.3 653.1l1.3 0.4l-0 1l-1.2 -0.2zM945.7 650l0.5 1.2l-0.7 0.6l-0.5 -0.7zM973.5 674.1l1.2 0.8l-0.3 1l-1.1 -0.5zM991.3 690.5l0 1.2l-0.8 0.2l-0 -0.7zM982.1 657.9l-0.9 0.8l-0.7 -0.5l0.8 -0.5zM987.2 640.8l1.2 1l-0.5 1l-1.1 -0.6zM984.3 646.3l0.2 0.7l-0.5 0.3l-0.2 -0.4zM973.7 677.9l1 1.2l-0.6 0.9l-0.9 -0.7zM967.9 655.3l-1 0.6l-0.6 -0.6l0.9 -0.3zM954.6 637.5l0.7 0.5l-0.2 0.6l-0.6 -0.3zM992.7 701.8l-1.5 0.4l-0.6 -1l1.3 -0.2zM995.2 660.6l1.3 0.8l-0.3 1.1l-1.2 -0.5zM973 666.3l-0.9 1.4l-1.2 -0.3l0.8 -0.8zM993.1 651l0.7 0.5l-0.3 0.6l-0.6 -0.3zM947.5 682l-0.7 1.2l-1 -0.2l0.6 -0.7zM983.5 651.2l-0.4 1l-0.8 -0.1l0.3 -0.6zM953.4 690.4l1.1 1.4l-0.7 1l-1 -0.8zM985.9 667.3l-1 0.4l-0.5 -0.6l0.9 -0.2zM1013.8 663.1l-1.2 1.2l-1.1 -0.6l1.1 -0.7zM999.3 655.4l0.3 1l-0.6 0.4l-0.3 -0.6zM967.6 638.6l1.4 0.7l-0.2 1.1l-1.2 -0.4zM969 662.1l1.5 0.5l-0.1 1.1l-1.3 -0.3zM999 684l-1 1.1l-1 -0.5l0.9 -0.7zM952 647.4l-1.6 0.3l-0.5 -1l1.4 -0.2zM981.6 683.3l0.9 1.3l-0.8 0.9l-0.8 -0.8zM978.9 651.2l-1.1 1.4l-1.2 -0.5l1 -0.8zM981.5 637.4l0.9 0.2l0.1 0.7l-0.8 -0.1zM973.2 673.1l0.5 1.6l-1 0.7l-0.5 -0.9zM981.7 689.4l1.2 0.5l-0.1 0.9l-1.1 -0.3zM986.8 637l-0.2 1l-0.8 0.1l0.2 -0.6zM1001.4 656.2l-0.7 1.3l-1.1 -0.2l0.6 -0.8zM980.5 670.8l1.1 0.3l-0 0.8l-1 -0.2zM966.1 652.9l0.3 1l-0.7 0.4l-0.2 -0.6zM991.4 646.6l-0.4 1.3l-1 -0l0.4 -0.8zM979 691.1l-1.2 0.6l-0.7 -0.8l1.1 -0.3zM964.3 632.6l-1.4 0.5l-0.6 -0.9l1.3 -0.3zM985.7 707.5l1.6 0.1l0.2 1.2l-1.5 -0.1zM1009.6 682.7l0.9 0.3l-0 0.7l-0.8 -0.2zM963.8 664.6l1.1 0.1l0.1 0.8l-1 -0.1zM1007.3 693.9l-0.4 1.1l-0.8 -0.1l0.4 -0.6zM979.8 635.3l0.6 0.9l-0.5 0.6l-0.5 -0.5zM942.1 657.6l0.6 1.1l-0.7 0.6l-0.5 -0.7zM973.3 697.5l1.1 1l-0.5 1l-1 -0.6zM979.7 668.8l-1.4 0.4l-0.6 -0.9l1.3 -0.3zM945.9 678.3l0.1 0.8l-0.5 0.3l-0.1 -0.5zM944.4 652.8l0.7 0.6l-0.3 0.6l-0.7 -0.4zM971.9 651l0.3 1.5l-1 0.5l-0.3 -0.9zM970.7 676l0.3 1.6l-1.1 0.5l-0.2 -1zM963.8 673l0.7 0.5l-0.2 0.6l-0.6 -0.3zM949 687.5l1.2 0.4l-0.1 0.9l-1.1 -0.3zM972.2 666.6l-0.5 0.7l-0.6 -0.2l0.5 -0.4zM956.4 659.8l0.4 1.4l-0.9 0.6l-0.4 -0.9zM987.7 678.4l0.4 1.3l-0.9 0.5l-0.3 -0.8zM999.1 676l-1.3 1l-1 -0.7l1.1 -0.6zM939.9 673l-0.1 1.3l-0.9 0.2l0.1 -0.8zM955.2 700l1.1 0.6l-0.2 0.9l-1 -0.3zM958.9 670.6l-0.8 0.6l-0.6 -0.4l0.7 -0.4zM975.2 668.4l1.1 0.6l-0.2 0.9l-1 -0.4zM993.1 642l1.7 0.3l0.1 1.2l-1.5 -0.2zM974.8 654.5l-1.4 0.9l-0.9 -0.8l1.3 -0.5zM987.3 642.1l0.7 0.7l-0.3 0.7l-0.7 -0.4zM985.2 636.8l1.8 0.1l0.3 1.3l-1.6 -0.1zM961.4 682.4l-0.7 0.9l-0.8 -0.3l0.6 -0.5zM972.8 655.4l0.4 1.2l-0.8 0.6l-0.4 -0.7zM966.6 668.5l-1.1 1.3l-1.2 -0.5l1 -0.8zM957.8 695.9l1.1 0.7l-0.3 0.9l-1 -0.4zM999.6 698l0.6 1.4l-0.9 0.7l-0.5 -0.8zM964.4 693.6l-1.2 0.3l-0.5 -0.8l1.1 -0.2zM987.3 697.2l-0.3 1.3l-1 0.1l0.2 -0.8zM972.5 670.4l1.5 0.7l-0.2 1.2l-1.4 -0.4zM995.6 677.8l-0.4 1.5l-1.1 -0l0.4 -0.9zM978.1 628l1.3 0.5l-0.1 1l-1.2 -0.3zM972.1 664.3l1.5 0.9l-0.4 1.2l-1.3 -0.6zM968.8 692.6l-0.9 0.8l-0.7 -0.5l0.8 -0.5zM979.7 658.3l-0.8 0.5l-0.5 -0.5l0.7 -0.3zM977.5 640.3l-1.7 0.1l-0.4 -1.2l1.5 -0.1zM976.4 635.3l0.9 0.2l0 0.7l-0.8 -0.1zM982.1 664.8l1.1 1.4l-0.7 1l-1 -0.8zM987 651.8l-0.8 0.8l-0.7 -0.4l0.8 -0.5zM985.1 638.2l-0.7 0.4l-0.4 -0.4l0.7 -0.2zM987.9 638.4l-0.9 0.3l-0.4 -0.6l0.8 -0.2zM990.9 657.9l-0.9 0.5l-0.5 -0.5l0.8 -0.3zM985.2 699.3l-0.1 1.1l-0.8 0.2l0.1 -0.7zM944.4 686.1l0.4 1.5l-1 0.6l-0.3 -0.9zM973 642.4l0.9 1.3l-0.7 0.9l-0.8 -0.8zM965.1 696.1l0.9 0.3l-0 0.7l-0.8 -0.2zM949.4 672.3l1 0.1l0.1 0.7l-0.9 -0.1zM981.5 679.6l1.4 0.4l0 1.1l-1.3 -0.2zM968 689.5l1.3 0.3l0 1l-1.2 -0.2zM992.8 653.3l1.4 0.5l-0 1.1l-1.3 -0.3zM971.2 662.3l-1.1 0.9l-0.8 -0.6l1 -0.5zM954.9 690l-1.1 0.4l-0.5 -0.7l0.9 -0.2zM995.9 702.4l1.4 1.1l-0.5 1.2l-1.2 -0.6zM972.3 700.1l1.6 0.4l0.1 1.2l-1.4 -0.2zM1014.4 682l-0.6 1l-0.8 -0.2l0.5 -0.6zM970.9 692.9l0.8 0.1l0.1 0.6l-0.7 -0zM991.1 640.9l-0.9 0.1l-0.2 -0.6l0.8 -0.1zM964.3 694.3l0.6 1.3l-0.8 0.7l-0.5 -0.8zM977.8 635.9l0.5 1.3l-0.8 0.6l-0.5 -0.8zM964.9 702.6l1.5 0.6l-0.2 1.2l-1.4 -0.4zM970.7 706.7l-0.6 0.9l-0.7 -0.2l0.5 -0.5z" style="fill:#8f8f8f;fill-opacity:0.55" stroke="#8f8f8f" stroke-width="0.36" stroke-linejoin="round"/>
<path d="M1007.5 706.2l0.5 1.2l-0.7 0.6l-0.5 -0.7zM983.4 681.8l0.7 1.3l-0.8 0.7l-0.6 -0.8zM967.4 709.5l0.3 1.5l-1 0.5l-0.2 -0.9zM985.9 696l0.8 0.8l-0.4 0.7l-0.7 -0.5zM977.3 706.9l0 1.1l-0.8 0.2l-0 -0.7zM997.9 718.1l-0.9 0.1l-0.3 -0.6l0.8 -0.1zM986.1 703.3l1.4 0.7l-0.2 1.2l-1.3 -0.4zM999.7 704.8l-1.2 0.5l-0.6 -0.7l1 -0.3zM997.5 696.7l1.7 0.4l0 1.2l-1.5 -0.3zM960.3 705l0.5 1l-0.6 0.5l-0.4 -0.6zM997.2 699.7l1.5 0.7l-0.2 1.2l-1.3 -0.4zM1005.5 712.2l-0.2 0.9l-0.7 0l0.2 -0.6zM975.2 714.8l-0.8 0.5l-0.5 -0.4l0.7 -0.3zM986.7 715.8l0 1.3l-0.9 0.3l-0 -0.8zM1001.2 716.5l-1 1.4l-1.2 -0.4l0.9 -0.8zM979.6 711.4l-0.8 1.4l-1.1 -0.3l0.7 -0.8zM994.8 712.8l0.7 1.4l-0.9 0.8l-0.6 -0.9zM994.7 703.5l-0.6 0.6l-0.5 -0.3l0.5 -0.3zM975.1 693.6l1.3 0.3l0.1 1l-1.2 -0.2zM988 701.9l-0.6 1.3l-1.1 -0.2l0.6 -0.8zM979.3 710.7l1.1 0.7l-0.3 0.9l-1 -0.4zM995.1 706.5l-0.6 0.5l-0.5 -0.3l0.6 -0.3zM985.9 705.8l-0.9 1.5l-1.2 -0.4l0.8 -0.9zM982.4 684.7l1.2 0.6l-0.2 0.9l-1.1 -0.3zM971 681.8l-0.8 0.5l-0.5 -0.4l0.7 -0.3zM963.9 696.7l-0.5 1.3l-1 -0.1l0.5 -0.8zM978.5 719l1.1 0.4l-0 0.9l-1 -0.2zM982.1 713.4l-1.1 1.3l-1.1 -0.5l1 -0.8zM964.3 694.9l-0 1.5l-1 0.3l0 -0.9zM984.7 686.3l0.6 1l-0.5 0.6l-0.6 -0.6zM977.8 687.3l-0.2 1.7l-1.2 0.2l0.2 -1zM982.2 721.1l0.3 1l-0.6 0.4l-0.3 -0.6zM964.5 683.3l-0.9 0.9l-0.8 -0.4l0.8 -0.6zM984.7 687.1l0.7 1l-0.6 0.7l-0.6 -0.6zM1003.9 714.7l0.9 1.1l-0.6 0.9l-0.8 -0.7zM1001.9 708.1l0.4 1.2l-0.7 0.5l-0.4 -0.7zM1004.9 693.8l-0.3 1.4l-1 0.1l0.3 -0.8zM999.4 716.3l-1.6 0.6l-0.8 -1l1.4 -0.4zM1002.6 686.3l-0.6 1.3l-1.1 -0.2l0.6 -0.8zM960.8 701.6l-1.4 0.4l-0.5 -0.9l1.2 -0.2zM1013.2 710.5l0.3 1.3l-0.8 0.5l-0.3 -0.8zM985.9 708.9l0.8 0.9l-0.5 0.7l-0.7 -0.6zM964.9 686.9l0.5 1.7l-1.1 0.7l-0.5 -1zM1000.5 686.4l-1.6 0.7l-0.8 -1l1.4 -0.4zM991.2 716.5l-0.2 0.8l-0.6 0l0.2 -0.5zM980.9 706.5l0.8 0.1l0.1 0.6l-0.7 -0.1zM988.5 712.6l-0.1 1l-0.7 0.1l0.1 -0.6zM971 692.9l1.6 0.5l-0 1.3l-1.5 -0.3zM1000.6 685.5l-1.3 1.1l-1 -0.7l1.1 -0.6zM986.1 695.9l1.4 1.1l-0.5 1.2l-1.2 -0.7zM962.3 708.3l0.8 1.5l-0.9 0.9l-0.7 -0.9zM991.9 695.9l0.6 1.5l-1 0.7l-0.5 -0.9zM969.9 683.1l1.5 0.5l-0 1.1l-1.3 -0.3zM1001.1 698.2l-1.5 0l-0.3 -1.1l1.4 -0zM963.5 687.6l-0.6 0.6l-0.5 -0.3l0.5 -0.4zM989.2 699l-0.8 0.1l-0.2 -0.5l0.7 -0.1zM982.3 695.7l1.2 0.7l-0.2 1l-1.1 -0.4zM982.2 716.5l-0.7 1.4l-1.1 -0.2l0.6 -0.8zM989.7 698.6l1 1l-0.5 0.9l-0.9 -0.6zM1004.4 699.8l1.4 0.7l-0.2 1.1l-1.3 -0.4zM1014.3 699l0.1 1.3l-0.9 0.3l-0.1 -0.8zM993.1 691.2l1.6 0.2l0.2 1.2l-1.5 -0.1zM975.8 711.4l-1.2 1.1l-1 -0.6l1.1 -0.7zM991.6 712.4l0.1 1.2l-0.8 0.3l-0.1 -0.7zM996.5 715.1l-0.3 1.1l-0.9 0l0.3 -0.7zM985.8 698l1 0.4l-0.1 0.8l-0.9 -0.3zM961.3 703.5l0.6 1.3l-0.8 0.6l-0.5 -0.8zM996.9 705.4l-1.3 0.5l-0.6 -0.8l1.1 -0.3zM972.7 699.6l0.7 1.2l-0.7 0.7l-0.6 -0.7zM1007.5 701.6l-0.9 0.2l-0.3 -0.6l0.8 -0.1zM965.9 696.6l1.4 0.3l0.1 1l-1.3 -0.2zM1007.2 694.2l0.1 1.1l-0.8 0.3l-0.1 -0.7zM990.4 716.9l-1 1.2l-1 -0.5l0.9 -0.7zM1011.6 703.1l-1 0.6l-0.6 -0.6l0.9 -0.3zM959.9 690.8l-0.3 1.2l-0.9 0l0.2 -0.7zM1012.3 709.9l-0.5 1.4l-1.1 -0.1l0.5 -0.8zM989.6 708.7l0.9 0.2l0.1 0.7l-0.8 -0.1zM1003.9 691.1l1.3 0.9l-0.4 1.1l-1.1 -0.5zM988.8 705.6l1 0.7l-0.3 0.8l-0.9 -0.4zM954.6 706.1l0.6 0.7l-0.4 0.6l-0.6 -0.4zM969.5 709.3l0.6 0.6l-0.3 0.6l-0.6 -0.3zM961.3 689.6l-0.8 0.8l-0.7 -0.4l0.7 -0.5zM970.9 685.8l-0.7 0.5l-0.5 -0.4l0.7 -0.3zM963.4 707l1 1.3l-0.7 1l-0.9 -0.8zM995.3 698l-1.3 0.3l-0.5 -0.8l1.2 -0.2zM956.8 700.9l-0.6 0.6l-0.6 -0.3l0.6 -0.4zM965.7 713.3l0.9 0.4l-0.1 0.7l-0.8 -0.2zM979.3 713.8l0.6 1.5l-0.9 0.7l-0.5 -0.9zM1003.5 685.8l0.4 0.9l-0.5 0.5l-0.4 -0.5zM997.1 694l1.1 1.2l-0.6 1l-1 -0.7zM974.6 706.6l-0.5 1l-0.8 -0.2l0.5 -0.6zM969.4 690.5l0.6 1.2l-0.7 0.7l-0.6 -0.7zM990.4 697.6l-0.7 1l-0.9 -0.3l0.6 -0.6zM974.6 697.5l-0.4 1.6l-1.2 0l0.4 -1zM1006 709.6l1.5 0.7l-0.2 1.2l-1.4 -0.4zM994.9 704.1l-0.8 0.5l-0.5 -0.5l0.7 -0.3zM968.1 700.4l-0 1.1l-0.8 0.2l0 -0.7zM998 694l-1 0.6l-0.6 -0.5l0.9 -0.4zM995.4 707.6l-1 0.3l-0.4 -0.6l0.9 -0.2zM982.3 705.1l-1.3 1l-0.9 -0.7l1.2 -0.6zM968.3 710.8l-0 0.8l-0.5 0.1l0 -0.5zM976.3 706.2l-1 0.7l-0.7 -0.6l0.9 -0.4zM991 685l1.3 1l-0.5 1.1l-1.1 -0.6zM989.3 701.7l0.5 1.4l-0.9 0.6l-0.4 -0.9zM971.1 712.2l0.6 0.5l-0.2 0.5l-0.5 -0.3zM981.8 682l-1.3 0.4l-0.5 -0.8l1.2 -0.2zM975.3 685l1.7 0.1l0.3 1.2l-1.5 -0.1zM997.6 700.6l0.3 1.4l-0.9 0.5l-0.3 -0.8zM968.2 686.6l-1.7 0l-0.4 -1.2l1.6 -0zM982.8 694.3l-0.5 1l-0.8 -0.1l0.4 -0.6zM1003.6 698.3l-1.6 0.2l-0.5 -1l1.4 -0.1zM982.6 706.4l0.4 1l-0.6 0.5l-0.3 -0.6zM987.3 687l0.2 1.4l-0.9 0.5l-0.2 -0.8zM983.2 705.5l1 0.4l-0.1 0.8l-0.9 -0.2zM974.7 681.3l-0.5 1.3l-1 -0.1l0.5 -0.8zM981.5 687.2l1.3 1l-0.5 1.1l-1.2 -0.6zM989.9 720.5l0.2 0.8l-0.5 0.3l-0.1 -0.5zM1016.1 698.1l-0.5 0.9l-0.7 -0.2l0.4 -0.5zM980.6 711.4l0.6 1.2l-0.7 0.7l-0.5 -0.7zM970 690l-1.1 0.1l-0.3 -0.8l1 -0zM985.8 717.8l0 1.4l-1 0.3l-0 -0.8zM978 704l0.7 0.8l-0.4 0.6l-0.6 -0.5zM1001.9 684.8l-0.8 1l-0.8 -0.4l0.7 -0.6zM974 702l-1.7 0.3l-0.5 -1.1l1.5 -0.2zM980.5 701.4l1.3 0.4l-0 1l-1.2 -0.3zM1006.6 692.2l0.8 0l0.1 0.6l-0.8 -0zM981.7 699.3l-1.1 0.7l-0.7 -0.6l1 -0.4zM969 706.1l1.1 0l0.2 0.8l-1 -0zM998.7 698.7l1.7 0.6l-0.1 1.3l-1.5 -0.3zM965.8 699.3l-1.1 0.4l-0.5 -0.7l1 -0.3zM959.8 695.3l0.1 1.1l-0.8 0.3l-0.1 -0.7zM981.1 717l-0.4 0.8l-0.6 -0.1l0.3 -0.5zM983.2 701.5l-1 0.7l-0.7 -0.6l0.9 -0.4zM987.7 709.7l-0.4 1.5l-1.1 -0l0.4 -0.9zM977.8 710l0.7 0.7l-0.4 0.6l-0.6 -0.4zM982.4 716.7l-0.8 1l-0.9 -0.3l0.7 -0.6zM980.8 684.4l1.4 0.3l0.1 1l-1.2 -0.2zM959.6 705.9l0.5 1.1l-0.7 0.6l-0.5 -0.7zM973.1 700.9l1 0.1l0.1 0.7l-0.9 -0.1zM972.2 704l0.7 0.4l-0.2 0.6l-0.6 -0.3zM982.9 695.8l-0.5 0.9l-0.7 -0.2l0.5 -0.5zM965.1 692.1l-1.1 0.4l-0.5 -0.7l1 -0.2zM994.3 718.2l-0.5 1.1l-0.9 -0.1l0.4 -0.7zM975.9 695l0 1.6l-1.1 0.3l-0 -0.9zM999 684.6l-1.5 0.5l-0.6 -1l1.4 -0.3zM990.5 689.1l-1.2 0.8l-0.8 -0.7l1.1 -0.5zM999.8 712.9l1.1 0.1l0.1 0.8l-1 -0.1zM968.8 715.4l-0 1.7l-1.2 0.3l0 -1zM962.4 703.1l-1.4 0.8l-0.8 -0.8l1.3 -0.5zM996.1 700.9l-0.7 0.6l-0.6 -0.4l0.6 -0.4zM982.2 682.5l-1.7 0.2l-0.5 -1.1l1.5 -0.1zM983.6 693.7l-0.1 0.9l-0.7 0.1l0.1 -0.5zM995.9 693.8l1 0.2l0 0.7l-0.9 -0.1zM1015.5 695l-0.6 1l-0.9 -0.2l0.6 -0.6zM974.2 710l0.4 1.1l-0.7 0.5l-0.4 -0.6zM974 698.4l0.2 1l-0.6 0.3l-0.1 -0.6zM968.3 703.2l-0.7 0.4l-0.4 -0.4l0.6 -0.2zM980.2 708.6l-0.5 0.7l-0.6 -0.2l0.4 -0.4zM958.4 706.5l-0.2 1.2l-0.9 0.1l0.2 -0.7zM1000.4 683.8l-1.2 0.3l-0.5 -0.8l1.1 -0.2zM1001.3 688.3l-0.7 0.3l-0.4 -0.5l0.7 -0.2zM1008.7 693.7l0 1.4l-1 0.3l-0 -0.8zM1016 694.3l-1.3 0.1l-0.3 -0.9l1.2 -0.1zM979.2 690.9l0.7 0.5l-0.2 0.6l-0.6 -0.3zM1000.2 690.5l0.6 1.4l-0.9 0.7l-0.5 -0.9zM964.6 695.5l-0.8 1.1l-0.9 -0.3l0.7 -0.7zM967.3 687l-0.8 1.4l-1.1 -0.3l0.7 -0.8zM999.9 681.6l1.2 1.2l-0.6 1.1l-1.1 -0.7zM989.8 706l-1.1 0.4l-0.5 -0.7l1 -0.3zM1004.4 692.5l0.5 1.6l-1 0.7l-0.5 -1zM986.5 698.1l0.5 0.9l-0.5 0.5l-0.4 -0.5zM1003.8 713l-0.6 0.9l-0.8 -0.3l0.6 -0.6zM1009.5 692.9l-1.2 0l-0.2 -0.8l1.1 -0zM1000.6 686.3l-0.8 0.8l-0.7 -0.4l0.7 -0.5zM992.7 708.6l1 0l0.2 0.7l-0.9 -0zM1007.8 704.4l1 1l-0.5 0.9l-0.9 -0.6zM991.5 705.9l-0.1 1.2l-0.9 0.2l0.1 -0.7zM955.6 694.8l0.2 1l-0.7 0.4l-0.2 -0.6zM1007.3 703.1l-0.1 1.3l-0.9 0.2l0.1 -0.8zM982.3 709.5l-0.9 0.6l-0.6 -0.5l0.8 -0.4zM960.7 703.3l-0.1 0.8l-0.6 0.1l0.1 -0.5zM989.7 697l1.6 0.4l0.1 1.2l-1.4 -0.2zM969.2 701.9l1 0.7l-0.3 0.9l-0.9 -0.4zM997.8 706.1l0.9 0.2l0 0.7l-0.8 -0.1zM990.1 684.2l0.7 1.2l-0.7 0.7l-0.6 -0.7zM988.4 697l-0.8 1.1l-0.9 -0.4l0.8 -0.7zM963.9 706.3l0.9 0.9l-0.4 0.8l-0.8 -0.5zM1006.1 695.9l0.8 0.3l-0 0.6l-0.7 -0.2zM990.7 699.2l1.5 0.1l0.2 1.1l-1.4 -0zM984.1 711.8l-1.1 0.9l-0.8 -0.6l1 -0.5zM967.1 707.6l-0.9 0.2l-0.3 -0.6l0.8 -0.1zM980.6 705.8l-0.1 0.9l-0.7 0.2l0 -0.6zM979.7 713.6l1 0.7l-0.3 0.8l-0.9 -0.4zM993.1 705.2l-1.3 0.4l-0.6 -0.8l1.2 -0.3zM1010.9 698.6l-0.4 1.2l-0.9 -0.1l0.4 -0.7zM979.3 691.4l-0.7 0.8l-0.7 -0.4l0.7 -0.5zM1004.2 687.2l1.1 1.1l-0.5 1l-1 -0.7zM1000.2 687.4l-0.5 0.7l-0.6 -0.2l0.4 -0.4zM958.6 700l-0.4 1.7l-1.2 0.1l0.4 -1zM967.6 690.1l0.4 1.7l-1.1 0.6l-0.3 -1z" style="fill:#8f8f8f;fill-opacity:0.55" stroke="#8f8f8f" stroke-width="0.36" stroke-linejoin="round"/>
<path d="M949.7 658.3l0.1 1.3l-0.9 0.3l-0 -0.8zM945.9 647.4l1.5 0.1l0.2 1.1l-1.4 -0.1zM945.5 655.5l-1.6 0.3l-0.5 -1l1.4 -0.2zM945 645.2l-1 0.7l-0.7 -0.5l0.9 -0.4zM964 638.6l1 1.2l-0.6 1l-0.9 -0.7zM951.5 650.4l-0.3 0.9l-0.7 -0.1l0.3 -0.5zM963.7 656l0.8 0.4l-0.1 0.6l-0.7 -0.2zM937.1 651.4l-0.9 0.4l-0.5 -0.6l0.8 -0.3zM955.4 656.7l-0.5 0.6l-0.6 -0.2l0.5 -0.4zM960.5 653l-0.9 0.2l-0.3 -0.6l0.8 -0.1zM956.5 638l0.3 1l-0.6 0.4l-0.3 -0.6zM938.7 649.1l-0.2 1.6l-1.2 0.2l0.2 -1zM948.3 647l-0.6 0.7l-0.6 -0.3l0.5 -0.4zM957 659.9l-0.4 1.4l-1.1 -0l0.4 -0.8zM942 640.9l1.4 1.1l-0.5 1.2l-1.3 -0.6zM957.6 653.8l1.6 0.7l-0.2 1.3l-1.4 -0.4zM942 656.8l0.9 1l-0.5 0.8l-0.8 -0.6zM948.9 658.9l1.1 0.6l-0.2 0.9l-1 -0.4zM941.8 648.2l1.1 0.2l0 0.8l-1 -0.1zM941.5 641.9l-0.5 1.2l-0.9 -0.1l0.4 -0.7zM947 657.7l1.2 0l0.2 0.8l-1.1 -0zM955.5 658.5l0.1 1.6l-1.1 0.4l-0.1 -0.9zM953.2 640l0.1 1.5l-1 0.4l-0.1 -0.9zM942 660.7l1.2 0.8l-0.3 1l-1.1 -0.5zM942.7 638.1l-0.8 0.8l-0.7 -0.4l0.7 -0.5zM938.3 639.8l1 0.8l-0.4 0.9l-0.9 -0.5zM961.7 653.6l-1.1 0.5l-0.6 -0.7l1 -0.3zM961.8 637.6l-1.4 0.8l-0.9 -0.8l1.2 -0.5zM955.5 660.9l0.4 1.3l-0.8 0.6l-0.4 -0.8zM955.9 643.1l-0.7 0.8l-0.7 -0.3l0.6 -0.5zM950.3 644.5l1.2 1.2l-0.6 1.1l-1.1 -0.7zM955.8 654.1l-0 1.5l-1 0.3l0 -0.9zM942.1 661.8l0.3 1l-0.7 0.4l-0.3 -0.6zM958.2 645.7l0.3 0.7l-0.5 0.3l-0.2 -0.4zM958.8 639.3l-1.3 0l-0.3 -0.9l1.2 -0zM958.5 636.4l-0.8 0.7l-0.7 -0.4l0.7 -0.4zM945 644.9l-0.5 1.3l-1 -0.1l0.4 -0.8zM964.5 643.5l1 0.4l-0.1 0.8l-0.9 -0.2zM948.3 662.3l0.6 1.5l-1 0.7l-0.5 -0.9zM950.4 648.9l0.9 1.5l-0.8 0.9l-0.8 -0.9zM951.6 662.8l-1.4 0.2l-0.4 -0.9l1.2 -0.1zM952.1 656.5l0.5 0.6l-0.3 0.5l-0.5 -0.4zM951.8 638.1l-0.5 1.4l-1.1 -0.1l0.4 -0.9zM967.6 646.8l1.1 0.4l-0 0.9l-1 -0.2zM964.4 655.6l-0.7 0.8l-0.7 -0.3l0.6 -0.5zM958.6 634.8l0.8 0.8l-0.4 0.7l-0.8 -0.5zM953.5 647.5l-1 0.4l-0.5 -0.6l0.9 -0.2zM961.5 655.6l-0.9 0.7l-0.7 -0.5l0.9 -0.4zM962.8 642.1l0.5 1l-0.6 0.5l-0.4 -0.6zM956.4 661.6l0.7 1.2l-0.7 0.7l-0.7 -0.7zM953.9 647.8l-1.1 0.7l-0.7 -0.6l1 -0.4zM963.9 641.2l1.3 0.3l0.1 0.9l-1.1 -0.2zM960.2 656.5l-1.1 0.2l-0.4 -0.8l1 -0.1zM961.9 652.7l-0.8 0.8l-0.7 -0.4l0.7 -0.5zM961.1 657.5l0.8 1.1l-0.6 0.8l-0.8 -0.6zM949.2 651.1l-0.9 1.2l-1 -0.4l0.8 -0.7zM948.1 644.1l0.4 1.2l-0.8 0.5l-0.3 -0.7zM948.3 645.2l1.4 0.4l0 1.1l-1.3 -0.2zM938.2 645.5l-0 1.1l-0.8 0.2l0 -0.7zM962 643.7l1.1 0.2l0 0.8l-1 -0.1zM965.1 656.7l-0.3 1.4l-1 0.1l0.2 -0.8zM944.4 634.6l-0.6 0.8l-0.7 -0.3l0.5 -0.5zM935.9 655.6l1 0.5l-0.1 0.8l-0.9 -0.3zM951.3 652.1l0.1 1.5l-1 0.4l-0.1 -0.9zM957.3 641.7l-1.4 0.9l-0.9 -0.8l1.2 -0.5zM962.8 644.7l-1.4 0.4l-0.6 -0.9l1.2 -0.3zM967.4 650.3l0.9 0l0.1 0.6l-0.8 -0zM950.8 659.7l-0.1 1l-0.7 0.1l0.1 -0.6zM952.4 662.9l-0.2 1.6l-1.2 0.2l0.2 -1zM965.2 639.4l1.1 1.3l-0.7 1l-1 -0.8zM953.1 643.6l-0.6 0.9l-0.8 -0.3l0.6 -0.5zM957.3 647.8l-0.8 0.1l-0.2 -0.5l0.7 -0.1zM953 642.6l0.4 1.5l-1 0.6l-0.4 -0.9zM938.4 651.5l-0.8 1.2l-1 -0.3l0.7 -0.7zM945.8 651.1l-1.4 0.7l-0.8 -0.9l1.3 -0.4zM945.2 651.8l-0.8 0.6l-0.6 -0.4l0.7 -0.4zM949.3 661.5l-0.1 0.9l-0.7 0.1l0.1 -0.6zM947 646.3l0.3 1.2l-0.7 0.5l-0.3 -0.7zM940.3 658.6l-1.1 0.6l-0.6 -0.7l1 -0.3zM963 647.3l-0.9 0l-0.2 -0.6l0.8 -0zM960.9 648.6l0.7 0.6l-0.3 0.6l-0.7 -0.4zM948.5 653.1l1.5 0.8l-0.3 1.2l-1.3 -0.5zM953.2 656l1.1 0.4l-0 0.9l-1 -0.2zM950.4 645.2l1.1 0l0.2 0.8l-1 -0zM961 650.9l0.6 0.6l-0.3 0.6l-0.6 -0.4zM962 639.4l-0.7 0.5l-0.5 -0.4l0.7 -0.3zM938.2 652.8l-1.3 0.8l-0.8 -0.8l1.2 -0.5zM940.5 634.9l-1.1 0.4l-0.5 -0.7l1 -0.2zM965 650.4l0.7 0.9l-0.5 0.7l-0.6 -0.6zM954 649.7l-0.2 1.1l-0.8 0.1l0.2 -0.7z" style="fill:#8f8f8f;fill-opacity:0.55" stroke="#8f8f8f" stroke-width="0.36" stroke-linejoin="round"/>
<path d="M1009.3 661.9l-1 0.4l-0.5 -0.6l0.9 -0.2zM1010.7 667.3l0.3 1.7l-1.1 0.5l-0.3 -1zM1000.9 685.5l-0.8 0.5l-0.5 -0.4l0.7 -0.3zM991.7 679.5l-1.6 0.7l-0.8 -1l1.5 -0.4zM1019.3 672l-0.9 1l-0.9 -0.4l0.8 -0.6zM1002.7 660.2l1.6 0.6l-0.1 1.2l-1.5 -0.3zM1000.9 657.7l-1.1 0.9l-0.8 -0.6l0.9 -0.5zM995.7 677.4l1.7 0.3l0.1 1.2l-1.5 -0.2zM1005.9 665.8l0.9 1.1l-0.6 0.8l-0.8 -0.7zM1001.5 662.4l1.1 0.4l-0.1 0.8l-1 -0.2zM999.5 668.9l1.1 1l-0.5 1l-1 -0.6zM1003.6 667.4l1.2 0.5l-0.1 0.9l-1 -0.3zM1007.1 662.6l-0.6 1.5l-1.1 -0.1l0.5 -0.9zM995.3 660.2l-0.8 0.1l-0.2 -0.6l0.8 -0.1zM998.9 657.3l0 1.4l-1 0.3l-0 -0.9zM1015 669.6l-0 1.5l-1.1 0.3l0 -0.9zM1004 662.6l-1.1 0.7l-0.7 -0.7l1 -0.4zM1015.7 662.7l0.5 1.4l-0.9 0.7l-0.5 -0.8zM1001.1 668.4l0.9 0.3l-0 0.7l-0.8 -0.2zM1004.3 689.1l0.7 0.4l-0.2 0.6l-0.6 -0.3zM1001.9 668.3l1.5 0.1l0.3 1.1l-1.4 -0zM1005.9 666.5l-1.7 0.3l-0.6 -1.1l1.5 -0.2zM1002.3 682.2l0.9 0.6l-0.3 0.8l-0.8 -0.4zM1009.6 690.2l0.3 1.6l-1.1 0.5l-0.2 -1zM1002.6 658l-0.5 1.4l-1.1 -0l0.4 -0.9zM1001.8 672.9l-1.1 0.3l-0.4 -0.7l1 -0.2zM1009.3 690.9l-1.6 0.5l-0.7 -1l1.4 -0.3zM999.6 663.5l-0.5 1.1l-0.9 -0.2l0.5 -0.6zM1011.1 661.3l1.3 0.2l0.1 1l-1.2 -0.1zM1000.8 677.9l1.1 0l0.2 0.8l-1 -0zM1016.2 668.9l1.1 1.2l-0.6 1l-1 -0.7zM1013.2 676.3l-0.1 1.3l-1 0.2l0.1 -0.8zM997.3 665.6l-0.6 0.5l-0.5 -0.3l0.5 -0.3zM1000.5 669.6l-0.9 0.1l-0.3 -0.6l0.8 -0.1zM999.1 684.3l0.9 0.7l-0.3 0.8l-0.8 -0.4zM995.5 667.8l0 1.2l-0.8 0.2l-0 -0.7zM1009.9 656.6l1.6 0.8l-0.2 1.2l-1.4 -0.5zM1007.8 667.9l-0.8 0.8l-0.7 -0.4l0.8 -0.5zM994.4 664.2l-1.5 0.3l-0.5 -0.9l1.3 -0.2zM1006.8 674.1l1.3 1.1l-0.5 1.2l-1.2 -0.6zM999.6 690.4l-1 0l-0.2 -0.7l0.9 -0zM993.2 661.4l1.5 0.9l-0.3 1.2l-1.4 -0.5zM991.5 667.8l0.3 0.7l-0.5 0.4l-0.3 -0.4zM1010.5 664.8l-0.2 1.2l-0.9 0.1l0.1 -0.7zM1007.7 656.3l-0.7 1.6l-1.2 -0.2l0.6 -0.9zM1003.4 664.7l0.5 1l-0.6 0.6l-0.5 -0.6zM1000.3 670.7l-1.1 1.3l-1.1 -0.5l0.9 -0.8zM1008.7 688.5l-0.9 1.5l-1.2 -0.3l0.8 -0.9zM1008.3 674.9l1.2 0.5l-0.1 1l-1.1 -0.3zM999.4 652.3l-1.6 0.5l-0.7 -1l1.5 -0.3zM992.6 669.5l0.9 0.2l0 0.7l-0.8 -0.1zM1002.8 677.2l-0.6 1.3l-1.1 -0.2l0.5 -0.8zM1003 670l-1.5 0.4l-0.6 -1l1.4 -0.2zM1000.6 672.5l0.8 0.4l-0.2 0.6l-0.7 -0.3zM1005.6 691.9l1.4 1l-0.4 1.2l-1.2 -0.6zM1006.2 686.7l1.3 1.1l-0.5 1.1l-1.2 -0.7zM1010.7 680.2l1 1.4l-0.8 1l-0.9 -0.8zM1006.5 674.6l1 0.1l0.2 0.7l-0.9 -0zM1018.6 667.5l1.1 1.3l-0.7 1.1l-1 -0.8zM992 683l1.1 0.6l-0.2 0.9l-1 -0.3zM997.5 665l1.4 0.6l-0.1 1.1l-1.3 -0.3zM997.4 693.6l-0.8 0.5l-0.5 -0.4l0.7 -0.3zM1012.6 686.4l-1.1 0.1l-0.3 -0.7l1 -0.1zM1000.3 673.6l-0.7 0.8l-0.7 -0.4l0.7 -0.5zM1014.6 674.6l-0.7 0.4l-0.4 -0.4l0.6 -0.2zM1012.3 675.8l-0.8 1l-0.9 -0.3l0.7 -0.6zM1007.5 655.1l-0.2 1.6l-1.2 0.2l0.2 -1zM994.3 673.9l0.7 1.1l-0.6 0.7l-0.6 -0.6zM1006.9 656.4l-1.1 0.7l-0.7 -0.6l1 -0.4zM1007.6 654.8l-0.8 1.4l-1.2 -0.3l0.8 -0.8zM992.1 666.9l-0.1 1.5l-1.1 0.2l0.1 -0.9zM1002.9 663.3l0.5 1.5l-1 0.7l-0.5 -0.9zM1011.7 686.7l0.1 1.3l-0.9 0.3l-0.1 -0.8zM1006.4 670.1l-0.2 1l-0.8 0.1l0.2 -0.6zM1014.1 681.4l-1.6 0.4l-0.6 -1l1.4 -0.3zM1005.7 686.5l-0.8 1.3l-1 -0.3l0.7 -0.8zM1001.3 659.9l1.4 1l-0.4 1.2l-1.2 -0.6zM1011.3 655.9l-0.8 0.1l-0.2 -0.6l0.8 -0.1zM999.1 675.2l-0.9 1.2l-1 -0.4l0.8 -0.7zM1016.1 673.8l-0.1 1.4l-1 0.2l0.1 -0.9zM1005 675.7l0.6 1.6l-1 0.7l-0.5 -0.9zM998.6 652.4l0 1.2l-0.9 0.3l-0 -0.7zM1008.5 683.3l0.5 1.6l-1 0.6l-0.4 -0.9zM1003.9 671.5l0.1 1.4l-1 0.3l-0.1 -0.8zM998.9 681l-0.8 0.1l-0.3 -0.5l0.7 -0.1zM993.5 676.4l1 0.6l-0.2 0.8l-0.9 -0.3zM1006.1 663l0.6 1.4l-0.9 0.7l-0.6 -0.8zM1007.6 688.9l1.4 0.9l-0.3 1.1l-1.3 -0.5zM1007.7 671.6l1.4 0.6l-0.1 1.1l-1.3 -0.4zM1017.5 674l-1.1 0.7l-0.7 -0.6l1 -0.4z" style="fill:#8f8f8f;fill-opacity:0.55" stroke="#8f8f8f" stroke-width="0.36" stroke-linejoin="round"/>
<polyline points="976,702 965,680" stroke="#a0a0a0" stroke-width="0.6" />
<polyline points="976,700 990,676" stroke="#a0a0a0" stroke-width="0.6" />
<polyline points="976,690 972,660" stroke="#a0a0a0" stroke-width="0.6" />
<polyline points="972,660 960,645" stroke="#a0a0a0" stroke-width="0.6" />
<polyline points="972,660 985,640" stroke="#a0a0a0" stroke-width="0.6" />
<polyline points="990,676 1003,660" stroke="#a0a0a0" stroke-width="0.6" />
<path d="M868 762 C905 755 935 772 930 792 C927 806 905 810 882 806" stroke="#c9c9c9" stroke-width="0.6"/>
<path d="M872 766 C903 760 928 776 924 791 C921 802 903 806 886 803" stroke="#d4d4d4" stroke-width="0.5"/>
<path d="M870 792 C905 800 960 806 990 822 C1010 835 1015 860 1020 880" stroke="#c9c9c9" stroke-width="0.6"/>
<path d="M944 718 C952 745 950 775 962 792 C985 815 1040 805 1082 812" stroke="#c9c9c9" stroke-width="0.6"/>
<path d="M940 722 C946 748 945 778 957 795 C980 820 1035 812 1078 820" stroke="#d4d4d4" stroke-width="0.5"/>
<path d="M990 760 C1000 790 1040 798 1090 802" stroke="#c9c9c9" stroke-width="0.6"/>
<path d="M1036 829 C1015 832 1003 842 1002 856 C1002 862 1006 866 1010 868" stroke="#c9c9c9" stroke-width="0.6"/>
<defs><clipPath id="clipL"><circle cx="484" cy="458.8" r="234"/></clipPath></defs>
<g clip-path="url(#clipL)">
<defs><pattern id="dotp" width="5" height="5" patternUnits="userSpaceOnUse"><circle cx="1" cy="1" r="0.45" fill="#cfcfcf"/><circle cx="3.5" cy="3.5" r="0.45" fill="#d8d8d8"/></pattern></defs>
<polygon points="362.5,465.3 540.7,424.6 640.8,515.5" fill="url(#dotp)" stroke="none" stroke-width="0.8" />
<polygon class="f" points="447.6,456.1 446.2,459.5 447.5,464.5 435.3,462.9 431.5,467.8 424.4,464.6 414.8,467 412.4,462.4 408.8,459.5 413.2,456.1 402.1,451.5 414.3,450.6 414.3,444.7 425,449.2 431.4,444.7 437,447.8 443.6,449.3 446.9,452.6" fill="#f0e9cc" opacity="0.85"/>
<polygon class="f" points="481.6,463.8 473.8,467.7 469.5,470.6 462.6,470.7 460.3,478.3 453,474.1 444.5,475.8 444.8,469.5 434.9,468.4 439.4,463.8 435.1,459.2 445.5,458.5 445.5,452.9 453.4,454.8 460.1,449.9 465.6,453.8 475.6,454 471.3,460.5" fill="#f0e9cc" opacity="0.85"/>
<polygon class="f" points="514.3,466 509.5,469.9 510,475.2 501.2,476.1 495.9,481.6 488.5,475.1 480.9,476.5 474.5,474.2 469.3,470.7 474.2,466 462,459.8 476.7,458.9 476.5,451.1 487.9,455.1 496,450.3 499.4,457.7 512.1,455.8 511.9,461.6" fill="#f0e9cc" opacity="0.85"/>
<polygon class="f" points="547.6,455 540.2,457.7 543.8,463 534,462.1 529.8,465.5 523.5,464.1 512.5,468.1 511.3,461.9 501.7,459.9 510.9,455 503.8,450.5 514.2,449.4 516.1,445.3 523.9,447.1 530.1,443.7 536.7,445.3 547,445.6 545,451.3" fill="#f0e9cc" opacity="0.85"/>
<polygon class="f" points="588.7,479.2 581.9,483.4 584.2,490.1 574.2,490.6 568.4,495.5 560.3,492.1 554.2,489.8 550.6,486.3 537.5,485.3 545.2,479.2 537.9,473.2 552.5,473.2 552.1,466.3 561.1,469.3 568,464.1 572.9,469.2 578.4,471.4 578.4,475.8" fill="#f0e9cc" opacity="0.85"/>
<polygon class="f" points="561.4,472.6 554.9,476.3 554.4,480.9 546.1,480.1 542.3,482.8 537,482.7 530,483.7 527.5,479.4 522.3,476.8 523.7,472.6 523.1,468.6 527.3,465.7 529,460.4 537.2,463.5 543,459.7 547.3,463.7 552.6,465.3 553.4,469.3" fill="#f0e9cc" opacity="0.85"/>
<path d="M436.6 470.2l-0.5 1.7l-1.3 0l0.4 -1zM457.1 474.8l0.7 1l-0.5 0.7l-0.6 -0.6zM467.2 472.3l-2.4 0.3l-0.7 -1.6l2.1 -0.2zM444.1 463l1.7 0.3l0.1 1.3l-1.6 -0.2zM454.3 472.1l-1.4 0.8l-0.8 -0.9l1.3 -0.5zM436.6 467.3l1.1 1.3l-0.7 1l-1 -0.8zM473.4 468.1l1.1 1l-0.5 1l-1 -0.6zM450.6 470.1l0.8 2.1l-1.3 0.9l-0.7 -1.2zM466.3 466.1l0.2 2.3l-1.5 0.6l-0.2 -1.4zM461.5 467.5l1.4 1.6l-0.8 1.3l-1.3 -0.9zM461.6 471.1l0.9 0.8l-0.4 0.8l-0.8 -0.5zM454.8 469.2l0.3 1.8l-1.2 0.6l-0.3 -1.1zM456.9 476.2l0.3 1.2l-0.8 0.4l-0.3 -0.7zM454 473l-1.4 0.5l-0.6 -0.9l1.2 -0.3zM454.7 473.9l-1.2 0l-0.3 -0.8l1.1 -0zM453.8 472.3l1.4 0.3l0.1 1.1l-1.3 -0.2zM462.8 472.2l0.2 1.5l-1 0.5l-0.2 -0.9zM464.3 466.4l1.1 0.6l-0.2 0.9l-1 -0.4zM465.2 463.9l-2 0.4l-0.7 -1.3l1.8 -0.2zM458.7 477.6l1.5 0.5l-0.1 1.2l-1.4 -0.3zM468.9 470.7l-1.2 0.7l-0.8 -0.7l1.1 -0.4zM444.6 465.3l0.9 0.8l-0.4 0.8l-0.8 -0.5zM434.3 465.1l1.8 1.4l-0.6 1.6l-1.7 -0.8zM460.4 468.6l0.5 1.2l-0.7 0.6l-0.5 -0.7zM446.6 466.8l-1.1 2.1l-1.7 -0.4l1 -1.3zM447 462.5l-1 0.3l-0.4 -0.7l0.9 -0.2zM446.6 458.6l-1.1 1.3l-1.1 -0.5l1 -0.8zM444.4 477.3l-1.9 0.6l-0.8 -1.2l1.8 -0.4zM450.2 459.2l-0.8 1.3l-1.1 -0.3l0.8 -0.8zM466.1 462.4l-0.5 2.2l-1.6 0.1l0.5 -1.3zM443.6 464.1l-0.5 1l-0.8 -0.1l0.4 -0.6zM471.2 467.8l-0.5 2l-1.5 0l0.5 -1.2zM437.1 471.7l-0.3 1l-0.8 -0l0.3 -0.6zM443 468.7l-1.8 0.5l-0.7 -1.2l1.6 -0.3zM451.6 468.9l1.1 0.7l-0.2 0.9l-1 -0.4zM464.2 463.4l-0.7 1.3l-1.1 -0.3l0.7 -0.8zM455.8 474.6l0.8 2.1l-1.3 1l-0.7 -1.3zM444 465.7l-1.9 1l-1.1 -1.2l1.7 -0.6zM447.3 459.8l1.1 1.3l-0.7 1l-1 -0.8zM454.3 473.9l-1.3 0.7l-0.8 -0.8l1.2 -0.4zM462.3 467.6l2.2 0.3l0.2 1.6l-2 -0.2zM448.2 460.8l1 0.4l-0.1 0.8l-0.9 -0.3zM449.3 468.5l1.2 0.2l0.1 0.9l-1.1 -0.1zM442.9 463.6l-2.1 0.3l-0.6 -1.4l1.9 -0.2zM448.6 465.1l0.1 1.1l-0.7 0.3l-0.1 -0.6zM450.1 464.9l-0.1 2l-1.4 0.3l0.1 -1.2zM439.4 462.2l2.2 0.6l0 1.7l-2 -0.4zM464.8 464.9l-1.8 0.5l-0.7 -1.2l1.6 -0.3zM440.4 473.6l0.3 2.3l-1.6 0.6l-0.2 -1.4zM446.9 464.8l-1.2 1.5l-1.3 -0.6l1.1 -0.9zM456.5 478.6l-1.4 1.1l-1 -0.8l1.3 -0.7zM442.8 476.3l0.2 1.1l-0.8 0.4l-0.2 -0.7zM435.6 466l2.1 0.4l0.1 1.6l-1.9 -0.3zM453.6 464.6l1.1 0.6l-0.2 0.9l-1 -0.3zM433.7 467.3l0.1 2.3l-1.6 0.5l-0 -1.4zM455.6 467.5l-0.9 1.1l-0.9 -0.4l0.9 -0.7zM442.1 463l0.5 1.4l-0.9 0.6l-0.5 -0.8zM461.2 459.7l-0.2 2.4l-1.7 0.3l0.2 -1.4zM444.8 466.5l1.9 0.2l0.3 1.3l-1.7 -0.1zM464.3 466.8l0.1 1.8l-1.3 0.4l-0 -1.1zM450.2 466.4l-2.3 0.6l-0.8 -1.5l2 -0.3zM450.3 474.4l-2 0.7l-0.9 -1.3l1.8 -0.4zM442.7 469l2.1 0.9l-0.2 1.7l-1.9 -0.5zM452 467.3l1 1.7l-1 1.1l-0.9 -1zM443.6 474.5l-0 1.2l-0.9 0.2l0 -0.7zM451.6 471.9l0.4 1.5l-1 0.6l-0.4 -0.9zM445.7 467.6l-0.2 1.9l-1.4 0.3l0.2 -1.1zM461.3 462.8l-1.7 1.1l-1.1 -1l1.5 -0.7zM459.3 465l-1.3 0l-0.3 -0.9l1.2 -0zM455.8 466.2l1.3 0.4l-0 1l-1.2 -0.3zM457.9 463.7l-0.9 1.3l-1.1 -0.3l0.8 -0.8zM459.5 468.7l2.2 0.8l-0.1 1.7l-2 -0.5z" style="fill:#cfb650;fill-opacity:0.55" stroke="#cfb650" stroke-width="0.54" stroke-linejoin="round"/>
<path d="M467.7 474.1l0.4 1l-0.6 0.5l-0.4 -0.6zM485.3 484.5l-0.9 1.6l-1.3 -0.3l0.8 -0.9zM497.9 479.8l-1 0.6l-0.6 -0.5l0.9 -0.4zM506.9 477.2l2.2 0.1l0.3 1.6l-2 -0.1zM512.3 476.7l-2.3 0.4l-0.7 -1.6l2.1 -0.2zM499.7 477.4l1.6 0.9l-0.3 1.3l-1.5 -0.6zM487.7 470.3l0.4 1.5l-1 0.6l-0.4 -0.9zM475.6 468.5l-2 0.2l-0.5 -1.4l1.8 -0.1zM508.6 471.1l-1 1.7l-1.4 -0.4l0.9 -1zM497 476.3l-0 2.1l-1.5 0.4l0 -1.3zM511.7 474.7l0.3 1.3l-0.9 0.5l-0.3 -0.8zM473.8 480l-0.7 1.1l-0.9 -0.3l0.7 -0.6zM500.3 474.1l0.1 1.1l-0.7 0.3l-0.1 -0.7zM492.2 479.4l-1.7 0.2l-0.5 -1.1l1.5 -0.1zM501 482.5l-2 0.6l-0.8 -1.3l1.8 -0.3zM502 472.8l1.4 0l0.2 1l-1.2 -0zM511 475.4l1.7 0.1l0.3 1.2l-1.6 -0.1zM478 483.3l-0.1 1.4l-1 0.2l0.1 -0.8zM470.7 474.2l2 1.1l-0.4 1.6l-1.8 -0.7zM483.2 485.9l-1 1.4l-1.2 -0.4l0.9 -0.9zM486.3 468l-1.1 1.6l-1.4 -0.5l1 -1zM505.2 480.9l-1.6 0.1l-0.4 -1.1l1.5 -0.1zM468.2 468.4l0.5 2l-1.3 0.8l-0.5 -1.2zM466.1 465.9l0.6 1.4l-0.9 0.7l-0.5 -0.8zM487.6 462.7l-1.8 1.3l-1.3 -1l1.6 -0.8zM509.2 464.5l1.5 0.5l-0 1.1l-1.3 -0.3zM480.1 478.1l-0.7 1.7l-1.3 -0.1l0.6 -1zM502.6 478.8l0.4 1.3l-0.8 0.5l-0.4 -0.8zM480.6 480.9l-0.8 1.2l-1 -0.4l0.8 -0.7zM490.4 462.8l0 1.1l-0.8 0.2l-0 -0.7zM479.7 474.2l0.7 1.2l-0.7 0.7l-0.6 -0.7zM490.3 472.4l0.3 1.3l-0.8 0.5l-0.3 -0.8zM493.7 485.7l0.1 1.3l-0.9 0.4l-0.1 -0.8zM471.7 465.3l-1.9 1.1l-1.2 -1.1l1.7 -0.7zM491.8 481.3l-1 1.7l-1.4 -0.3l0.9 -1zM508.3 471.1l1.1 1.7l-1 1.1l-1 -1zM475.5 472.6l-0.2 1.3l-1 0.1l0.2 -0.8zM489 474.6l-0.7 2.2l-1.7 -0.1l0.6 -1.3zM468.1 480l-0.5 1.1l-0.9 -0.1l0.5 -0.7zM500.7 464.6l1.3 1.4l-0.7 1.2l-1.1 -0.8zM477.1 476.6l1.8 1.1l-0.4 1.5l-1.7 -0.7zM492.7 478.2l-1 0.6l-0.6 -0.6l0.9 -0.3zM504.8 463.6l1.3 0.6l-0.2 1.1l-1.2 -0.4zM503.3 462.7l0.6 0.9l-0.5 0.6l-0.6 -0.5zM497.2 473l1.2 0.8l-0.3 1l-1.1 -0.5zM494.9 478.8l-0.7 1l-0.8 -0.3l0.6 -0.6zM473 470.7l-0 2.1l-1.5 0.4l0 -1.3zM477.6 466.5l-0.1 1.6l-1.1 0.3l0.1 -1zM486 466.6l-1.2 1.8l-1.5 -0.5l1.1 -1.1zM508.8 469.8l-1.3 1.3l-1.2 -0.7l1.2 -0.8zM492.6 469.7l1.1 0.2l0.1 0.8l-1 -0.1zM499.2 472.9l-1.9 0.2l-0.5 -1.3l1.7 -0.1zM513.4 470.3l-1.3 0.3l-0.5 -0.9l1.2 -0.2zM478.1 473.4l1 1.5l-0.9 1l-0.9 -0.9zM489.3 476.1l-1.8 1.6l-1.5 -0.9l1.6 -1zM501.3 469.3l-0.9 1.6l-1.3 -0.3l0.8 -1zM499.8 473.1l-1.6 1.5l-1.4 -0.8l1.4 -0.9zM480.2 479.8l1.4 1l-0.4 1.2l-1.3 -0.6zM476.7 466.7l-0.5 1.5l-1.1 -0.1l0.5 -0.9zM503.5 479.6l0.4 1.3l-0.9 0.5l-0.3 -0.8zM507.3 478.6l-0.5 1.7l-1.3 -0l0.5 -1zM476.7 469.3l1.2 2.1l-1.2 1.3l-1.1 -1.2zM474.1 472.5l0.7 1.1l-0.6 0.7l-0.6 -0.7zM478.3 477.5l-0.7 1.3l-1.1 -0.2l0.6 -0.8zM474.2 477.3l1.9 0.6l-0.1 1.4l-1.7 -0.4zM489 484.8l0.2 1.3l-0.8 0.4l-0.2 -0.8zM484.6 483.2l-0.8 1.7l-1.4 -0.2l0.7 -1zM472.7 468.1l0.8 2.2l-1.4 1l-0.7 -1.3zM474.2 474.3l-0.1 1.4l-1 0.2l0.1 -0.8zM486.3 463.7l0.9 1.8l-1.1 1l-0.8 -1.1zM487.9 474.1l-1.6 0.2l-0.4 -1.1l1.4 -0.1zM496.7 470.2l1 1.1l-0.5 0.9l-0.9 -0.6zM485.7 473.6l1.3 0.7l-0.2 1l-1.2 -0.4zM505.5 480.8l-1.8 0.4l-0.6 -1.2l1.6 -0.2zM496.3 477.5l-0.2 2.3l-1.7 0.3l0.2 -1.4zM481.7 476.5l-1.4 1.1l-1.1 -0.8l1.3 -0.7zM487.7 480.6l1.6 1l-0.4 1.3l-1.4 -0.6zM502 462.7l0 1.1l-0.8 0.2l-0 -0.6zM480.6 479.2l-0.3 1.7l-1.3 0.1l0.3 -1zM502.8 462.1l0.9 2l-1.2 1l-0.8 -1.2zM491.5 471.8l-1.9 0.1l-0.4 -1.3l1.7 -0zM492.2 480.7l-1.3 1.1l-1.1 -0.7l1.2 -0.7zM477.8 462.2l1.4 0.4l0 1l-1.3 -0.2zM492.3 473.8l1.7 0.8l-0.2 1.3l-1.5 -0.5zM505 470.5l-2.2 0.2l-0.5 -1.5l2 -0.1zM491.7 479.7l-1.1 1.5l-1.2 -0.5l1 -0.9zM489.3 461.6l0.4 2l-1.3 0.7l-0.4 -1.2zM490.3 473.7l0 1.2l-0.8 0.3l-0 -0.7zM477.2 476.1l-1.8 0.1l-0.4 -1.2l1.6 -0zM500.8 469.2l2.3 0.4l0.2 1.7l-2 -0.2zM478 484.8l1.2 0.5l-0.1 1l-1.1 -0.3zM493.5 472l-1.2 1.8l-1.5 -0.4l1 -1.1zM511.3 472.5l1.5 0.2l0.1 1.1l-1.3 -0.1zM513.8 469.5l1 0.8l-0.4 0.9l-0.9 -0.5zM494.8 474.1l-0.1 2.3l-1.6 0.4l0.1 -1.4zM480.6 464.7l-2.1 1.1l-1.2 -1.3l1.9 -0.7zM481.4 464l1.5 0.8l-0.2 1.2l-1.3 -0.5zM493.2 480.3l-1.5 0.1l-0.3 -1l1.3 -0zM482 464.7l-1.3 0.2l-0.4 -0.9l1.2 -0.1zM507.3 467.9l1.5 0.9l-0.3 1.3l-1.4 -0.5zM481.2 480.5l0.1 2l-1.4 0.5l-0.1 -1.2zM494.9 469.4l-1.1 1.5l-1.3 -0.4l1 -0.9zM480 471.2l2 1l-0.3 1.6l-1.8 -0.6zM486.3 482.7l1.4 0.3l0 1l-1.2 -0.2zM496.1 478.4l0.4 1.9l-1.2 0.7l-0.4 -1.1zM509.3 475.4l-1.5 0.7l-0.8 -0.9l1.3 -0.4zM491.3 474.6l1.8 0.9l-0.2 1.5l-1.7 -0.5zM486 478.1l-0.2 2.2l-1.6 0.3l0.2 -1.3zM496.5 475.3l2.3 0.2l0.3 1.6l-2.1 -0.1zM477.4 482.3l-1.3 0.5l-0.6 -0.8l1.2 -0.3zM487.4 483.9l-0.4 1.2l-0.9 -0l0.3 -0.7zM487.9 458.6l-1.6 0.3l-0.5 -1.1l1.4 -0.2zM509 466.3l-1.9 0.7l-0.9 -1.2l1.7 -0.4zM488.1 482.2l1.2 0l0.2 0.8l-1 -0zM492.6 486.5l0.8 2.2l-1.4 1l-0.7 -1.3zM481.8 464.1l2 1.1l-0.3 1.6l-1.8 -0.6zM467.7 476.5l0.9 1.2l-0.7 0.8l-0.8 -0.7zM488.4 470.6l0.9 1.3l-0.7 0.9l-0.8 -0.8zM487.2 468.7l-0.5 1.1l-0.9 -0.1l0.4 -0.7zM490.2 472.6l0.7 1.3l-0.8 0.7l-0.6 -0.8zM500.4 476.9l-1.2 0.3l-0.4 -0.8l1.1 -0.2zM483.4 458.9l1.3 0.5l-0.1 1l-1.1 -0.3zM511.3 471.7l-0.2 2.1l-1.5 0.3l0.2 -1.3zM499.1 475.4l1.1 0.3l0 0.9l-1 -0.2zM489.1 466.3l0 1.3l-0.9 0.3l-0 -0.8zM481.3 474.7l1.2 0.2l0.1 0.9l-1.1 -0.1zM484.3 473l-2 0.3l-0.6 -1.3l1.8 -0.2zM496.8 478.5l2.2 0.3l0.2 1.6l-2 -0.2zM512.8 471.6l-2.2 0.3l-0.6 -1.5l2 -0.2zM492.5 463.3l-0.5 2.1l-1.6 0.1l0.5 -1.3zM473.8 470.3l-1.8 1.5l-1.4 -0.9l1.6 -0.9zM479.4 482.1l-1.2 1.3l-1.2 -0.5l1 -0.8z" style="fill:#cfb650;fill-opacity:0.55" stroke="#cfb650" stroke-width="0.54" stroke-linejoin="round"/>
<path d="M516.7 475.7l1 0.9l-0.4 0.9l-0.9 -0.5zM522.8 469.2l1.4 1.1l-0.5 1.2l-1.2 -0.7zM514 472.6l0.7 0.8l-0.4 0.6l-0.6 -0.5zM529.7 474.8l-1.5 1.6l-1.4 -0.7l1.4 -0.9zM532.8 462.7l-1.2 1.2l-1.1 -0.6l1.1 -0.7zM507.1 463.5l1.4 0.5l-0.1 1.1l-1.2 -0.3zM526 456.8l-1.3 1.3l-1.1 -0.6l1.1 -0.8zM527.8 471.9l-0.1 1.3l-0.9 0.2l0.1 -0.8zM517.4 472.7l0 1.2l-0.9 0.3l-0 -0.7zM518.3 470.4l-0.5 1l-0.8 -0.2l0.5 -0.6zM529.1 464l1 0.5l-0.1 0.8l-0.9 -0.3zM524 457.7l-1.5 0.6l-0.7 -0.9l1.3 -0.4zM529.6 459l-1 1.2l-1 -0.4l0.9 -0.7zM530.7 474.8l-0.5 1.2l-1 -0.1l0.4 -0.7zM505.5 461.8l0.9 1.2l-0.7 0.9l-0.8 -0.7zM524.8 472.9l-0.5 1l-0.8 -0.1l0.4 -0.6zM506.5 463.4l1.4 0.4l-0 1.1l-1.3 -0.3zM535.2 466.2l-0.4 1.3l-1 -0l0.4 -0.8zM528.3 469.6l0.5 0.9l-0.5 0.6l-0.5 -0.6zM498.1 466.2l1.2 1.6l-0.9 1.1l-1 -0.9zM532 467.5l-0.8 1.2l-1 -0.3l0.7 -0.7zM522.9 462.2l0.9 1.1l-0.6 0.8l-0.8 -0.6zM520.2 471.5l-0.8 0.8l-0.7 -0.4l0.8 -0.5zM517 465.8l-0.3 1.7l-1.2 0.1l0.3 -1zM513 470l2.1 0.8l-0.1 1.6l-1.9 -0.5zM521 462.2l1 0.4l-0.1 0.8l-0.9 -0.3zM509 471.9l-0.1 1.1l-0.8 0.1l0.1 -0.7zM528.9 473.8l1.6 0.7l-0.2 1.3l-1.5 -0.4zM527.1 466.1l0.7 1.6l-1 0.8l-0.6 -0.9zM508.7 474.5l-1.9 0.4l-0.7 -1.3l1.7 -0.2zM499.3 464.7l-1.7 0.9l-1 -1l1.5 -0.5zM521.5 464.2l-0.2 2.1l-1.5 0.3l0.2 -1.3zM512.1 475l1.1 0.1l0.1 0.8l-1 -0.1zM516.8 462.8l-2 1.4l-1.3 -1.1l1.8 -0.8zM503.1 470l-1.1 1l-0.9 -0.5l1 -0.6zM526.3 469.4l-1.1 0.9l-0.8 -0.6l1 -0.5zM517.1 466.1l-1.5 0.3l-0.5 -1l1.3 -0.2zM518 475.7l-1.8 1.6l-1.5 -0.9l1.6 -1zM508.9 466.6l1.5 1l-0.4 1.2l-1.3 -0.6zM509.5 471.1l-0.9 0.6l-0.6 -0.5l0.8 -0.4zM519.9 468.4l0 2.2l-1.6 0.5l-0 -1.3zM501.5 464.6l0.4 1.9l-1.2 0.7l-0.4 -1.1zM519.8 465.8l1.9 1l-0.3 1.6l-1.7 -0.6zM531.5 468.2l-0.6 1.6l-1.2 -0.1l0.5 -1zM518.1 473.4l1 1.8l-1.1 1.1l-0.9 -1.1zM518.3 467.8l-1.6 1.7l-1.5 -0.8l1.4 -1zM534.7 472.7l-1.2 1.8l-1.5 -0.5l1.1 -1.1zM514.7 458.1l-0.8 0.9l-0.8 -0.4l0.7 -0.6zM514.6 464.9l-1.3 1.1l-1.1 -0.7l1.2 -0.7zM526.3 461.7l0.5 1.8l-1.1 0.7l-0.4 -1.1zM530.2 463.4l-1.9 0.5l-0.7 -1.2l1.7 -0.3zM513.7 460.5l-1.3 0.9l-0.9 -0.8l1.2 -0.5zM521.8 455.6l-1.3 1.3l-1.2 -0.6l1.2 -0.8zM523.8 468l-1.4 0.1l-0.4 -1l1.3 -0.1zM522.3 475.3l2.3 0.7l-0 1.7l-2 -0.4zM521.4 468l1.2 0.6l-0.2 0.9l-1.1 -0.4zM531.4 466.8l-1.7 0.6l-0.8 -1.1l1.5 -0.4zM508.4 457.8l1.9 1l-0.3 1.6l-1.8 -0.6zM531.7 468.8l1.8 1.1l-0.4 1.5l-1.6 -0.7zM514.5 460.1l-0.4 1.4l-1 0l0.3 -0.8zM501.2 462.3l-0.5 1l-0.8 -0.2l0.5 -0.6zM528.6 473.9l1.7 1.4l-0.6 1.4l-1.5 -0.8zM515.9 468.3l-0.5 1.9l-1.5 0.1l0.4 -1.2zM504.6 470.1l1.5 0l0.3 1.1l-1.4 -0zM520.7 464.2l0.4 2.1l-1.4 0.7l-0.3 -1.3zM513.1 467.6l1.2 0.6l-0.2 1l-1.1 -0.4zM519.1 465.4l1.9 0.7l-0.1 1.5l-1.7 -0.4zM516.9 457.2l-0.7 2l-1.5 -0.1l0.6 -1.2zM519.3 458.2l0.7 1.7l-1.1 0.8l-0.6 -1zM533.9 467.2l-0.2 1.4l-1 0.1l0.2 -0.8zM502.8 471.9l0.4 2.1l-1.4 0.7l-0.4 -1.2zM500.3 463.8l-0.4 2.2l-1.6 0.2l0.4 -1.3zM511.3 464.7l-1.6 0.5l-0.7 -1l1.5 -0.3zM528.5 467.5l1.9 1.1l-0.4 1.6l-1.7 -0.6zM519.2 460.3l-1.3 0.9l-0.9 -0.7l1.2 -0.6zM516.3 459.3l0.3 2l-1.3 0.6l-0.3 -1.2zM515.3 457l-1.2 0.2l-0.4 -0.8l1.1 -0.1zM534.7 471.5l-0.1 2.3l-1.6 0.4l0.1 -1.4zM513.6 465.9l1.3 0.5l-0.1 1l-1.2 -0.3zM499.1 471l-0.9 0.6l-0.6 -0.5l0.8 -0.3zM522.5 475.9l-1 0.8l-0.7 -0.5l0.9 -0.5zM517.3 465.1l-2 0.2l-0.6 -1.3l1.8 -0.1zM510.9 460.2l1.6 0.6l-0.1 1.2l-1.4 -0.4zM516.9 464.1l1.8 0.3l0.1 1.3l-1.6 -0.2z" style="fill:#cfb650;fill-opacity:0.55" stroke="#cfb650" stroke-width="0.54" stroke-linejoin="round"/>
<path d="M574 488.9l1 1l-0.5 0.9l-0.9 -0.6zM552.9 470.6l-1.2 1l-1 -0.6l1.1 -0.6zM564.6 484.9l-1.1 0.8l-0.8 -0.6l1 -0.5zM548.7 478.1l-0.6 1.1l-0.9 -0.2l0.5 -0.7zM564.4 485.8l0.7 2.3l-1.4 0.9l-0.6 -1.4zM573 480.9l1.9 0.7l-0.1 1.4l-1.7 -0.4zM538.4 476.7l-0.1 2.2l-1.6 0.4l0.1 -1.3zM560.7 489.8l1.6 0.5l-0.1 1.3l-1.5 -0.3zM557.6 479l1.9 0.7l-0.1 1.5l-1.7 -0.4zM548.3 480.9l0.2 1.8l-1.2 0.5l-0.2 -1.1zM537.2 482.1l1.2 1.1l-0.6 1.1l-1.1 -0.7zM570.9 472.9l-0.4 1.9l-1.5 0.1l0.4 -1.2zM581.1 482.7l-0.3 1.5l-1.1 0.1l0.3 -0.9zM566.2 479.4l0.2 1.9l-1.3 0.5l-0.2 -1.1zM554.5 488.5l-0.6 2.3l-1.7 0l0.6 -1.4zM549.7 492.9l1 0.5l-0.1 0.8l-0.9 -0.3zM559.2 486.2l-0.4 1.3l-1 -0l0.4 -0.8zM567.8 478.4l-0.5 1.7l-1.3 -0l0.5 -1zM577.7 477l0.6 1.4l-0.9 0.7l-0.5 -0.9zM575.9 479.3l-0.8 2.1l-1.7 -0.1l0.7 -1.3zM555.5 493.5l1.3 0.4l-0 1l-1.2 -0.3zM561.3 490.8l-0.2 1.6l-1.2 0.2l0.2 -1zM538.3 488.9l1.5 0.6l-0.1 1.2l-1.3 -0.4zM556.7 485.1l1.5 1.3l-0.6 1.3l-1.3 -0.8zM542.2 472.2l-0.3 1.9l-1.4 0.1l0.3 -1.1zM569.9 483.6l-2.1 1l-1.1 -1.3l1.9 -0.6zM578.8 485.4l-1.1 0.5l-0.6 -0.7l1 -0.3zM526.9 487.8l2.3 0.5l0.1 1.7l-2 -0.3zM558.4 475.4l1.8 0l0.3 1.3l-1.7 -0zM531.6 485l-1.4 0.1l-0.4 -1l1.3 -0.1zM555.3 490.3l1.8 1.6l-0.8 1.6l-1.6 -1zM585.6 480.4l0.3 1.6l-1 0.5l-0.2 -0.9zM541.7 490.7l-1.9 1.3l-1.3 -1.1l1.7 -0.8zM547.3 467.7l-1.6 0.5l-0.7 -1l1.4 -0.3zM571.2 485.1l-0.9 1.4l-1.1 -0.3l0.8 -0.8zM570.2 480.1l0.2 2.2l-1.5 0.6l-0.1 -1.3zM542 486.7l1 1l-0.5 0.9l-0.9 -0.6zM561.9 476.5l1.8 0.2l0.2 1.3l-1.6 -0.1zM544.2 471.2l1.2 1.1l-0.5 1.1l-1.1 -0.6zM554.2 472.4l-0.9 1.3l-1.1 -0.4l0.8 -0.8zM539.4 488.4l0 1.5l-1.1 0.3l-0 -0.9zM561.1 475.4l-1.1 0.5l-0.6 -0.7l1 -0.3zM550.8 492.4l-1 1.5l-1.2 -0.4l0.9 -0.9zM534.2 482.4l-1 0.8l-0.7 -0.6l0.9 -0.5zM571.4 482.6l-1.8 0.5l-0.7 -1.1l1.6 -0.3zM549 488.8l0.7 1.4l-0.8 0.8l-0.6 -0.8zM566.7 473.3l0.5 2.3l-1.5 0.8l-0.5 -1.4zM570.7 482l-1 0.8l-0.8 -0.6l0.9 -0.5zM573 489l1.7 0.6l-0.1 1.3l-1.6 -0.4zM558 472.8l-1 0.6l-0.6 -0.6l0.9 -0.4zM560.4 476.8l-1.3 1.2l-1.1 -0.6l1.1 -0.7zM542.6 488.4l-1.6 1l-1 -1l1.5 -0.6zM573.4 486.9l-1.3 0.4l-0.5 -0.8l1.2 -0.2zM569.2 486.4l-0.6 1l-0.8 -0.2l0.5 -0.6zM572.1 480.2l0.2 1.4l-0.9 0.4l-0.2 -0.8zM580.3 479.7l1.7 0.1l0.3 1.2l-1.5 -0zM568.6 483.9l-1.3 1.1l-1 -0.7l1.2 -0.7zM578.7 476.3l0.6 2.3l-1.5 0.8l-0.5 -1.4zM540.7 492.5l-2 0.3l-0.6 -1.3l1.8 -0.2zM571 492.5l1 1l-0.5 0.9l-0.9 -0.6zM551.8 485.3l-0.6 1.3l-1 -0.1l0.5 -0.8zM558 486l-0.7 0.8l-0.7 -0.4l0.7 -0.5zM546.5 475.8l-1.3 0.1l-0.4 -0.9l1.2 -0.1zM558.5 491.2l0.5 2.1l-1.4 0.8l-0.5 -1.3zM527.8 481.2l-1 0.4l-0.5 -0.7l0.9 -0.2zM531.7 484.8l-2.3 0.5l-0.8 -1.5l2 -0.3zM529.6 481.1l1.9 0.2l0.3 1.4l-1.7 -0.1zM569.1 480.3l-0.2 1.5l-1.1 0.2l0.2 -0.9zM555.7 480.5l0.4 2.3l-1.5 0.8l-0.4 -1.4zM530.1 485.6l1.2 1.1l-0.5 1l-1.1 -0.6zM551.2 475.3l-1.4 1.5l-1.3 -0.7l1.3 -0.9zM523.8 483.1l0.3 2l-1.3 0.6l-0.3 -1.2zM538.5 491.4l0.6 1.4l-0.9 0.7l-0.6 -0.9zM577.1 482.6l-1.8 1l-1.1 -1l1.6 -0.6zM574.4 477.4l0.3 1.1l-0.7 0.4l-0.3 -0.6zM578.7 475.4l1.3 0.2l0.1 0.9l-1.2 -0.1zM548.2 492.9l1.4 1l-0.5 1.2l-1.2 -0.6zM559.5 478.5l0.8 0.7l-0.3 0.7l-0.7 -0.4zM533.9 488.2l-0.8 2l-1.5 -0.1l0.7 -1.2zM556.2 480.6l2.2 0.2l0.3 1.6l-2 -0.1zM569.8 485.2l1.8 0.6l-0.1 1.4l-1.6 -0.4zM553 483.3l1.1 1.8l-1 1.1l-1 -1.1zM555.1 496.1l-1.5 0.6l-0.7 -0.9l1.3 -0.4zM544.1 470.3l1.1 1.3l-0.7 1.1l-1 -0.8zM550.6 481.7l-1 0.8l-0.8 -0.6l0.9 -0.5zM539.1 480.2l-0.2 1.6l-1.2 0.2l0.2 -1zM572.7 481.4l2.4 0.2l0.3 1.7l-2.1 -0.1zM559.7 481.7l-1.7 1.6l-1.5 -0.9l1.6 -1zM542.8 477.4l1.5 0.6l-0.1 1.1l-1.3 -0.4zM562 472l-1.3 0.6l-0.7 -0.8l1.2 -0.3zM550.5 471.2l-2.3 0l-0.5 -1.6l2 -0zM531 476.2l-0.9 2l-1.6 -0.2l0.8 -1.2zM574.8 488.9l2.2 0.6l0 1.7l-2 -0.4zM547 477.5l0 1.2l-0.8 0.3l-0 -0.7zM533.3 484.2l-0.2 1.4l-1 0.1l0.2 -0.9zM570 488.7l0.1 1.4l-1 0.3l-0.1 -0.8zM571.3 485.4l-1.9 0.5l-0.7 -1.2l1.7 -0.3zM552.2 487.3l-0.5 1.3l-1 -0.1l0.5 -0.8zM546.2 480.9l1.8 1.3l-0.6 1.5l-1.6 -0.8zM547.7 473.3l2 0.7l-0.1 1.6l-1.8 -0.4zM539.5 479l0.4 1.2l-0.8 0.5l-0.3 -0.7zM576.8 483.4l1.6 1.6l-0.8 1.5l-1.5 -1zM560.1 474.7l0.6 2l-1.2 0.8l-0.6 -1.2zM574.1 479.5l1.6 1.2l-0.6 1.4l-1.4 -0.7zM540.9 485.5l-1.4 0.3l-0.5 -0.9l1.3 -0.2zM570.8 483.3l-1.3 0.2l-0.4 -0.9l1.2 -0.1zM578.8 483l2 0.8l-0.2 1.6l-1.8 -0.5zM562 479.7l-0.5 1.9l-1.4 0.1l0.4 -1.2zM550.8 476.8l-0.5 2.3l-1.7 0.1l0.5 -1.4zM550.1 474.6l-0.9 1l-0.9 -0.4l0.8 -0.6zM560.1 488.6l0 1.5l-1.1 0.3l-0 -0.9zM576 476.1l0.6 1.2l-0.7 0.7l-0.6 -0.7zM531 479.1l-0.3 1.6l-1.2 0.1l0.3 -0.9zM557.7 481.9l-1.1 1.9l-1.5 -0.4l1 -1.1zM527.2 484.4l1.3 0.3l0 1l-1.2 -0.2zM537.2 485.4l1.2 1.6l-0.9 1.2l-1.1 -1zM580.5 478.1l1.1 0.1l0.1 0.8l-1 -0.1zM551.9 481.9l0.3 2.4l-1.6 0.7l-0.2 -1.4zM554.4 485.1l-2.1 0.5l-0.8 -1.3l1.9 -0.3zM557.5 478.6l-1.2 1l-1 -0.7l1.1 -0.6zM575.7 482.1l-1.2 0.1l-0.3 -0.8l1.1 -0.1zM560.5 476.2l-1.2 1.5l-1.3 -0.5l1 -0.9zM539.5 476.8l1 0.5l-0.2 0.8l-0.9 -0.3zM567.6 491.9l1.8 0.4l0.1 1.3l-1.6 -0.2zM579.6 476.9l1.2 0.6l-0.1 1l-1.1 -0.3zM576.7 486.5l0.8 1l-0.5 0.8l-0.7 -0.6zM564.6 479.9l1.9 0.6l-0.1 1.5l-1.7 -0.4zM565.9 470l0.1 2.1l-1.5 0.5l-0.1 -1.3zM542.3 491.9l2.2 0.3l0.3 1.6l-2 -0.2zM562.9 476.1l0.4 1.3l-0.8 0.5l-0.4 -0.8zM533.2 481.1l1.3 0.4l-0 1l-1.2 -0.3zM571.5 478.6l0.2 1.4l-0.9 0.4l-0.2 -0.8zM546.4 490.9l-1.6 1.6l-1.4 -0.8l1.5 -1zM572.6 485l2.2 0.8l-0.1 1.7l-2 -0.5zM556.4 481.8l-0.5 1.6l-1.2 -0l0.4 -1zM525.8 482.5l1.4 0.8l-0.3 1.1l-1.3 -0.5zM564.6 478l-0.2 1.6l-1.2 0.2l0.2 -1zM554.4 492.5l2.1 0.6l-0 1.6l-1.8 -0.4zM562 475.2l-0.1 1.3l-0.9 0.2l0.1 -0.8zM537.3 478.9l-1.4 1.1l-1 -0.8l1.3 -0.6zM546.6 488.8l-1 0.4l-0.5 -0.6l0.9 -0.3zM535.4 480.4l1 0.6l-0.2 0.8l-0.9 -0.3zM541.5 480l-1.1 2.1l-1.7 -0.3l1 -1.3zM576 482.5l-1.5 0.5l-0.6 -0.9l1.3 -0.3zM560.2 473.4l-0.8 1l-0.8 -0.3l0.7 -0.6zM568.9 473.5l0.9 0.9l-0.4 0.8l-0.8 -0.5zM582.4 486.6l-1.1 1.6l-1.4 -0.5l1 -1zM542.8 482.5l1.2 1l-0.5 1l-1.1 -0.6zM537.5 476.9l-2.1 0.1l-0.5 -1.4l1.9 -0.1zM551.6 470.2l0.2 1.8l-1.2 0.5l-0.2 -1.1zM563.7 481l-0.3 1.4l-1.1 0.1l0.3 -0.9zM581.7 476.9l1.2 1.7l-1 1.2l-1.1 -1zM573.3 484.1l-2.1 0.1l-0.5 -1.4l1.9 -0.1zM572.4 490.5l-1.1 1.8l-1.5 -0.4l1 -1.1zM537.4 490.6l-2.1 1.1l-1.2 -1.2l1.9 -0.7zM565.7 486.1l1.4 0.8l-0.3 1.1l-1.3 -0.5zM528.9 484.1l1.1 0.4l-0.1 0.9l-1 -0.3zM560.1 476.5l1.9 0.5l0 1.5l-1.7 -0.3zM537.8 482.7l-2 0.3l-0.6 -1.3l1.8 -0.2zM556.4 483.9l2.2 0.2l0.3 1.6l-2 -0.1zM573.7 483.6l0.6 1.9l-1.2 0.8l-0.6 -1.1zM566.3 480.5l-1.2 0.2l-0.4 -0.8l1.1 -0.1zM573.1 473.8l1.1 0.7l-0.3 0.9l-1 -0.4zM557.5 487.3l0.6 1.3l-0.8 0.7l-0.6 -0.8zM562.1 470.2l-0.5 1.1l-0.9 -0.1l0.4 -0.7zM546.9 478.1l1.6 1.8l-0.9 1.4l-1.4 -1.1zM570.2 489.9l1.4 0.9l-0.3 1.2l-1.3 -0.5zM529.5 484.3l-2.2 0.1l-0.5 -1.5l2 -0.1z" style="fill:#cfb650;fill-opacity:0.55" stroke="#cfb650" stroke-width="0.54" stroke-linejoin="round"/>
<path d="M573.7 490.1l2.4 0.1l0.4 1.7l-2.1 -0.1zM582.5 484.7l0.7 1.2l-0.7 0.7l-0.6 -0.7zM570.9 486.6l-2 0.8l-1 -1.3l1.8 -0.5zM574.7 486.8l0.2 1.3l-0.9 0.4l-0.2 -0.8zM569.6 491.1l-1.8 0.4l-0.6 -1.2l1.6 -0.2zM566.6 485.6l-1.7 0.3l-0.5 -1.1l1.5 -0.2zM576.9 490.6l-1.3 1.5l-1.3 -0.6l1.1 -0.9zM570.1 495.2l1.2 0.2l0.1 0.9l-1.1 -0.1zM558.8 491.7l1.5 0.9l-0.4 1.2l-1.3 -0.6zM579.8 488.8l1.2 1.8l-1 1.2l-1.1 -1.1zM579.1 488l-1.8 1.4l-1.3 -1l1.6 -0.8zM568.5 490.6l-2.1 0.5l-0.8 -1.4l1.9 -0.3zM572.3 485.6l2 1.1l-0.4 1.7l-1.8 -0.7zM561.3 490.2l-1 0.5l-0.6 -0.6l0.9 -0.3zM563.1 487.8l1.4 1.4l-0.7 1.3l-1.2 -0.9zM573.4 490.5l0.7 1.4l-0.8 0.8l-0.6 -0.8zM563.2 485.6l-1.7 1.3l-1.2 -1l1.6 -0.8zM582.3 484.9l0.5 1.4l-0.9 0.7l-0.5 -0.9zM568.2 489.9l-1.4 0.4l-0.6 -0.9l1.3 -0.2zM569.7 486.1l1 1.8l-1 1l-0.9 -1.1zM578.2 491.4l-1 0.6l-0.6 -0.6l0.9 -0.4zM564.7 488.3l0.6 1l-0.6 0.6l-0.5 -0.6zM571.8 483.3l-1.2 1l-0.9 -0.7l1.1 -0.6zM584.5 490.4l-1 1.9l-1.6 -0.3l0.9 -1.2zM562.4 487.4l-0.2 1.3l-1 0.1l0.2 -0.8zM568.4 489.9l-0.8 1l-0.9 -0.3l0.7 -0.6zM574.2 485l0.6 1.9l-1.2 0.8l-0.5 -1.1zM572 493.2l-1.1 0.3l-0.4 -0.7l1 -0.2zM568.8 482.7l-0.7 1.1l-0.9 -0.3l0.6 -0.7zM576.1 482.4l1.2 0.6l-0.2 1l-1.1 -0.4zM574.4 489.1l0.9 2.1l-1.3 1l-0.8 -1.2zM563.5 487.8l-0.5 1.6l-1.2 -0l0.5 -1zM563.2 492.7l-1.4 0.2l-0.4 -0.9l1.2 -0.1zM581.4 490.8l-2 0l-0.4 -1.4l1.8 -0zM566.3 486.7l-1.3 1l-1 -0.7l1.2 -0.6zM562.5 495.3l1.8 1l-0.4 1.5l-1.6 -0.6zM581.7 488.4l-0.1 1.8l-1.3 0.3l0.1 -1.1zM574.1 493.7l-1.1 1.6l-1.3 -0.5l1 -1zM569.1 486.2l-1.2 0.5l-0.6 -0.7l1.1 -0.3zM576.6 488.7l-0.3 1.4l-1 0l0.3 -0.8zM577.2 489l-1.2 0.2l-0.4 -0.8l1.1 -0.1zM585.6 490l-0.6 1.5l-1.2 -0.1l0.5 -0.9zM577.4 483.4l-1.3 0.9l-0.9 -0.7l1.2 -0.5zM581.1 484.9l0.9 2.2l-1.4 1.1l-0.8 -1.3zM570.9 488.5l1.5 1.3l-0.6 1.3l-1.3 -0.8zM570.8 488.6l1 1l-0.5 0.9l-0.9 -0.6zM572.6 495.5l-2.1 0.4l-0.7 -1.4l1.9 -0.3zM578.4 495.9l-0.2 1.8l-1.3 0.2l0.2 -1.1zM574.6 482.4l2.1 0.3l0.2 1.5l-1.9 -0.2zM573.3 486.8l-0.5 1.7l-1.3 -0l0.4 -1zM566.3 487.8l0.8 2.1l-1.3 1l-0.8 -1.3zM588.2 490.7l0.5 1.8l-1.2 0.7l-0.4 -1.1zM585.8 493.2l1.9 0.3l0.2 1.4l-1.7 -0.2zM563.1 494.2l0.6 1.2l-0.7 0.7l-0.6 -0.7zM574 488.4l-2.2 0.8l-1 -1.4l2 -0.5zM575.1 489.9l-1.5 1.1l-1.1 -0.8l1.3 -0.7zM559.7 491l1.2 1.1l-0.5 1l-1 -0.6zM569.4 480.6l-1 1.9l-1.6 -0.3l0.9 -1.2zM567.9 490.3l-2.1 1l-1.1 -1.3l1.9 -0.6zM569.4 499.1l0.8 0.9l-0.5 0.7l-0.7 -0.5z" style="fill:#cfb650;fill-opacity:0.55" stroke="#cfb650" stroke-width="0.54" stroke-linejoin="round"/>
<path d="M529.2 415.2l-0.8 1.4l-1.1 -0.3l0.7 -0.8zM535.7 418.2l1.4 0.6l-0.2 1.1l-1.2 -0.4zM535.9 401.4l-1.3 0.5l-0.6 -0.8l1.2 -0.3zM540.5 399.2l1.1 1.5l-0.8 1.1l-1 -0.9zM537.6 415.8l0.4 1.5l-1 0.5l-0.3 -0.9zM526.4 400.2l-2 1.2l-1.2 -1.2l1.8 -0.7zM539.1 401l0.2 1.4l-1 0.4l-0.2 -0.9zM550.2 412.5l0.1 2.2l-1.5 0.5l-0.1 -1.3zM547 404.7l0 1.9l-1.3 0.4l-0 -1.1zM541.3 409.4l-0.2 1.5l-1.1 0.2l0.2 -0.9zM531.1 402.4l-1.8 1.5l-1.4 -1l1.6 -0.9zM528.3 400.3l1.1 0.4l-0.1 0.9l-1 -0.3zM551.3 409.3l-1.9 0.4l-0.6 -1.3l1.7 -0.2zM536.9 404.9l1.3 0l0.2 0.9l-1.2 -0zM521.8 407l1.6 0.2l0.2 1.1l-1.4 -0.1zM522.3 410.9l0.9 0.6l-0.3 0.7l-0.8 -0.4zM528 399.2l0.4 1.3l-0.8 0.5l-0.3 -0.8zM540 411.3l-1.3 0.5l-0.6 -0.8l1.2 -0.3zM543.3 403.7l-1.7 1l-1 -1l1.5 -0.6zM540.6 405.4l0.9 1.2l-0.6 0.8l-0.8 -0.7zM539.4 410.7l-0.2 1.7l-1.2 0.2l0.2 -1zM523.7 410.5l-0.5 1.1l-0.8 -0.1l0.4 -0.6zM529.6 399.4l-1.4 1.6l-1.4 -0.7l1.3 -1zM544.1 411.2l0.5 1.5l-0.9 0.7l-0.5 -0.9zM538.3 417.2l0.4 1.3l-0.8 0.6l-0.4 -0.8zM533.8 407.4l1.7 0.8l-0.3 1.4l-1.5 -0.5zM548.8 405.9l-2 1l-1.1 -1.2l1.8 -0.6zM528.8 399.1l-0.6 1.6l-1.3 -0.1l0.6 -1zM539.5 400.2l-0.9 1.2l-1 -0.4l0.9 -0.7zM536.1 398.1l-1.5 1.7l-1.5 -0.7l1.4 -1zM554 408.6l-0.5 1.2l-0.9 -0.1l0.4 -0.7zM536.6 405.4l0.3 1.3l-0.9 0.4l-0.2 -0.8zM537.8 411.2l-0.7 1.1l-0.9 -0.3l0.6 -0.6zM539.1 396.8l-1.1 0.5l-0.6 -0.7l1 -0.3zM532.3 410.6l0.8 1.9l-1.2 0.9l-0.7 -1.1zM542 409.4l-1.2 1l-1 -0.7l1.1 -0.6zM527.1 404.4l-1.1 0l-0.2 -0.8l1 -0zM528.6 418.3l1.3 0.2l0.1 0.9l-1.1 -0.1zM547.1 410.8l2.1 1l-0.3 1.7l-1.9 -0.6zM542.9 407.9l-0.6 1.7l-1.3 -0.1l0.6 -1zM547.5 407.6l-0.1 2.3l-1.6 0.4l0.1 -1.4zM520.5 405.7l1.1 1.5l-0.8 1l-1 -0.9zM542.3 415.3l1.5 0.4l0 1.2l-1.4 -0.2zM529.9 397.8l-1.4 0.2l-0.4 -1l1.3 -0.1zM524.4 412.9l1.5 1.6l-0.8 1.4l-1.4 -1zM530.9 419.2l1 0.4l-0.1 0.8l-0.9 -0.2zM545.2 404l1.7 1.4l-0.6 1.5l-1.5 -0.8zM545.7 407.1l0.3 1.1l-0.7 0.4l-0.3 -0.7zM555.1 405.5l-1.4 1.5l-1.3 -0.7l1.3 -0.9zM545.7 396.6l1.3 0.8l-0.3 1l-1.1 -0.5zM528.5 411.6l-0.9 1l-0.9 -0.4l0.8 -0.6zM539.6 409.4l-0.8 0.9l-0.8 -0.4l0.7 -0.5zM535.8 412.1l1 0.2l0.1 0.8l-0.9 -0.1zM536.1 416.4l-1.7 0.4l-0.6 -1.1l1.5 -0.2zM530.2 405.1l-1.6 0.2l-0.5 -1l1.4 -0.1zM542.1 407.9l-1.7 1.6l-1.4 -0.9l1.5 -0.9zM533.7 406.2l-2.1 0.8l-1 -1.3l1.9 -0.5zM527.8 418.2l0.2 1.5l-1 0.4l-0.2 -0.9zM535 408.5l0.4 1.5l-1 0.6l-0.4 -0.9zM525.6 404l1.1 0.1l0.1 0.8l-1 -0.1zM535.4 415.9l-1.1 0.6l-0.6 -0.6l1 -0.4zM532 416.5l0.4 1.3l-0.9 0.5l-0.3 -0.8zM555.1 409.7l-0.5 1.2l-1 -0.1l0.5 -0.7zM531.6 410.8l-0.6 1.8l-1.4 -0l0.5 -1.1zM545.7 415.4l-1.3 0.3l-0.5 -0.9l1.2 -0.2zM534.5 417.6l0.7 1.3l-0.7 0.8l-0.7 -0.8zM536.4 410.5l-1.2 0.7l-0.7 -0.7l1.1 -0.4zM538.8 410.9l0.9 1l-0.5 0.8l-0.8 -0.6zM519.8 407.6l1.5 0.1l0.3 1.1l-1.4 -0zM528.4 416.9l-1.5 0.1l-0.4 -1l1.3 -0.1zM542.5 396l1.8 0.5l-0 1.4l-1.7 -0.3zM548 418.9l-1.7 0.6l-0.8 -1.1l1.5 -0.4zM538 413.3l-0.2 1.8l-1.3 0.2l0.2 -1.1zM539.1 415.5l-1.9 1.4l-1.3 -1l1.7 -0.8zM539.2 401.1l-1.4 0.2l-0.4 -0.9l1.2 -0.1zM537.3 406.9l1.7 0.9l-0.3 1.4l-1.6 -0.6zM537.7 410.1l1.5 1l-0.4 1.3l-1.4 -0.6zM532.3 398l-0.2 1.8l-1.3 0.2l0.2 -1.1zM537.1 414.9l0.3 1.2l-0.7 0.4l-0.3 -0.7zM531.3 409.1l0.4 2.1l-1.4 0.7l-0.4 -1.3zM537 398.5l-0.4 1.1l-0.8 -0l0.3 -0.6zM531.9 408.1l-1.9 0.1l-0.4 -1.3l1.7 -0zM537.6 406.3l1.4 1.8l-1 1.4l-1.3 -1.1zM543.9 413.3l-0.7 2.1l-1.6 -0l0.6 -1.3zM537 401l1 1.7l-1 1.1l-0.9 -1zM541.1 401.5l0.9 2l-1.2 1.1l-0.8 -1.2zM530.9 417.6l1.4 1.4l-0.7 1.3l-1.3 -0.9zM526.4 402l-1.2 0.3l-0.5 -0.8l1.1 -0.2zM529.1 399.2l-0.5 1.4l-1.1 -0.1l0.5 -0.9zM545.8 416.3l1.3 1.7l-1 1.3l-1.2 -1zM541.8 420.8l2 1.1l-0.4 1.6l-1.8 -0.7zM519.9 403.8l0.2 1.2l-0.8 0.4l-0.2 -0.7zM536.4 408.6l-1.2 0.7l-0.7 -0.7l1.1 -0.4zM527.3 414.8l1.3 2l-1.1 1.3l-1.2 -1.2zM533.4 407.6l-1.7 0.2l-0.5 -1.2l1.5 -0.1zM534.8 409.4l-1 0.4l-0.5 -0.6l0.9 -0.3z" style="fill:#cfb650;fill-opacity:0.55" stroke="#cfb650" stroke-width="0.54" stroke-linejoin="round"/>
<path d="M509 436.2l-1.2 1.7l-1.4 -0.5l1.1 -1zM530.1 435l1.4 1.5l-0.7 1.3l-1.3 -0.9zM519.6 437.3l-1.6 0l-0.3 -1.1l1.4 -0zM555 440.7l-0.4 2l-1.5 0.1l0.3 -1.2zM542.2 436.1l1.1 1.6l-0.9 1.1l-1 -0.9zM553.2 443.4l-1 0.7l-0.7 -0.6l0.9 -0.4zM540.7 428.1l-0.8 0.8l-0.7 -0.4l0.7 -0.5zM519.1 446.6l1.6 1.5l-0.7 1.4l-1.5 -0.9zM510.8 433.8l-1.1 0.9l-0.8 -0.6l1 -0.5zM539.4 445.1l-0.6 1.1l-0.9 -0.2l0.5 -0.6zM543 434.3l1.2 1.4l-0.7 1.1l-1.1 -0.8zM552.5 438l-0.6 1.3l-1 -0.1l0.5 -0.8zM531.6 431.2l2.3 0.1l0.4 1.6l-2 -0.1zM515.8 433.7l-0.7 2.3l-1.7 -0l0.6 -1.4zM526.5 439.7l0.9 0.7l-0.3 0.8l-0.8 -0.4zM543 430.3l2.1 0.3l0.2 1.5l-1.9 -0.2zM538.6 436.1l0.6 1.8l-1.2 0.8l-0.5 -1.1zM538.1 438.5l1.2 1.3l-0.7 1.1l-1.1 -0.8zM539.5 441.9l0.1 1.6l-1.1 0.4l-0.1 -0.9zM517.9 434.6l1.6 1.4l-0.6 1.4l-1.4 -0.8zM529.5 440.6l-0.4 2l-1.5 0.1l0.4 -1.2zM514 442.3l-0.4 2.3l-1.7 0.2l0.4 -1.4zM521.4 433.2l0.6 1.3l-0.8 0.7l-0.6 -0.8zM519.2 433.7l-1.1 1.5l-1.2 -0.5l1 -0.9zM534.4 430.6l0.1 1.8l-1.2 0.5l-0.1 -1.1zM545.5 437.8l-1.2 1.2l-1.1 -0.6l1.1 -0.7zM535.7 442.5l0.1 1.1l-0.7 0.3l-0.1 -0.6zM550.2 433.4l-2 1.1l-1.2 -1.2l1.8 -0.7zM550.7 438.5l-1.7 0.9l-1 -1l1.5 -0.5zM536.5 431l-0.2 1.3l-0.9 0.1l0.1 -0.8zM531.4 443.7l0.7 2.3l-1.4 0.9l-0.6 -1.4zM552.4 437.9l2.2 0.2l0.3 1.6l-1.9 -0.1zM531.7 432.5l1.3 1.2l-0.6 1.1l-1.2 -0.7zM523 437.6l1.1 1.6l-0.9 1.1l-1 -1zM536.7 444l1.9 1l-0.3 1.5l-1.7 -0.6zM529 443.6l-1.3 1.2l-1.1 -0.7l1.2 -0.7zM541.7 443.9l-1.2 0.9l-0.8 -0.7l1.1 -0.5zM549.8 429.9l-0.8 1l-0.9 -0.4l0.7 -0.6zM535.4 430.4l-1.7 1.2l-1.2 -0.9l1.5 -0.7zM530.7 441.5l1 0.4l-0.1 0.8l-0.9 -0.2zM516.7 437.7l-1.2 0.3l-0.4 -0.8l1.1 -0.2zM545.3 439.8l-1.6 1.7l-1.5 -0.8l1.5 -1zM524.1 446.8l1.2 0.4l-0 0.9l-1.1 -0.2zM542.8 427.3l1.6 1.4l-0.7 1.4l-1.4 -0.9zM538.6 447l1.4 0.3l0 1l-1.2 -0.2zM515.8 442.9l-0.2 1.1l-0.8 0l0.2 -0.6zM550.8 440.5l0.8 1.1l-0.6 0.8l-0.7 -0.7zM552.7 431.4l0.6 1.2l-0.7 0.6l-0.5 -0.7zM548.3 429.6l0.2 1.5l-1 0.5l-0.2 -0.9zM540 447.1l0.3 1.7l-1.1 0.6l-0.3 -1zM528.2 434.6l0.4 1.3l-0.8 0.5l-0.4 -0.8zM509.9 438.2l-2.3 0.5l-0.8 -1.5l2 -0.3zM542.9 432l0.1 2.4l-1.6 0.6l-0.1 -1.4zM540.3 436.4l0.9 1l-0.5 0.8l-0.8 -0.6zM539.7 438l-0.5 1.4l-1.1 -0.1l0.5 -0.8zM532.3 442.5l-1.4 1.2l-1.1 -0.7l1.2 -0.7zM549.5 439.1l1.3 1.5l-0.8 1.2l-1.2 -0.9zM513.8 430l0.5 1.1l-0.7 0.5l-0.4 -0.7zM519.8 438.2l2.4 0.1l0.4 1.7l-2.1 -0zM535.4 434.9l-0.5 1.5l-1.1 -0.1l0.5 -0.9zM536.3 437l1.8 0.9l-0.3 1.5l-1.7 -0.5zM539.1 447.6l-1.4 0l-0.3 -1l1.3 -0zM537.7 439l1.1 1.6l-0.9 1.1l-1 -0.9zM532.1 438.1l-1.5 0.6l-0.8 -1l1.4 -0.4zM521.2 436l2.1 0.6l-0 1.6l-1.9 -0.4zM525 432.9l-0.9 1.6l-1.3 -0.3l0.8 -1zM533.4 435.5l-1.2 0.3l-0.4 -0.8l1.1 -0.2zM525.2 435.6l-1 0.6l-0.6 -0.6l0.9 -0.4zM529.8 438.7l1.4 1.5l-0.8 1.3l-1.3 -0.9zM534.2 443.8l-1.9 0.8l-1 -1.1l1.7 -0.5zM542.1 429.3l1.3 0.4l-0 1l-1.1 -0.2zM537.2 444.5l-0.8 2l-1.6 -0.1l0.7 -1.2z" style="fill:#cfb650;fill-opacity:0.55" stroke="#cfb650" stroke-width="0.54" stroke-linejoin="round"/>
<polyline points="537.4,492.4 538.5,455 540.7,426.4 539.6,400" stroke="#d8c67a" stroke-width="0.8" />
<polyline points="539.2,430.8 528.2,423.1" stroke="#dccb85" stroke-width="0.6" />
<polyline points="539.6,430.8 549.5,422.4" stroke="#dccb85" stroke-width="0.6" />
<polyline points="539.2,439.6 526.9,431.9" stroke="#dccb85" stroke-width="0.6" />
<polyline points="539.6,439.6 550.6,431.2" stroke="#dccb85" stroke-width="0.6" />
<polyline points="539.2,448.4 525.5,440.7" stroke="#dccb85" stroke-width="0.6" />
<polyline points="539.6,448.4 551.7,440" stroke="#dccb85" stroke-width="0.6" />
<polyline points="539.2,457.2 524.2,449.5" stroke="#dccb85" stroke-width="0.6" />
<polyline points="539.6,457.2 552.8,448.8" stroke="#dccb85" stroke-width="0.6" />
<polyline points="539.2,466 522.9,458.3" stroke="#dccb85" stroke-width="0.6" />
<polyline points="539.6,466 553.9,457.6" stroke="#dccb85" stroke-width="0.6" />
<polyline points="539.2,474.8 521.6,467.1" stroke="#dccb85" stroke-width="0.6" />
<polyline points="539.6,474.8 555,466.4" stroke="#dccb85" stroke-width="0.6" />
<polyline points="348,271 462,256" stroke="#6a6a6a" stroke-width="0.8" />
<polyline points="350,273.4 462,258.6" stroke="#a8a8a8" stroke-width="0.6" />
<polyline points="368,303 483,288" stroke="#6a6a6a" stroke-width="0.8" />
<polyline points="370,305.4 483,290.6" stroke="#a8a8a8" stroke-width="0.6" />
<polyline points="266,352 484,323" stroke="#6a6a6a" stroke-width="0.8" />
<polyline points="267,355 390,335" stroke="#a8a8a8" stroke-width="0.6" />
<polyline points="342,265 388,335" stroke="#6a6a6a" stroke-width="0.8" />
<polyline points="345,264 391,334" stroke="#a8a8a8" stroke-width="0.7" />
<polyline points="341,275 346.6,273.4 346.6,295" stroke="#6a6a6a" stroke-width="0.8" />
<polyline points="341,275 341,297" stroke="#6a6a6a" stroke-width="0.8" />
<polyline points="354.2,296 359.8,294.4 359.8,316" stroke="#6a6a6a" stroke-width="0.8" />
<polyline points="354.2,296 354.2,318" stroke="#6a6a6a" stroke-width="0.8" />
<polyline points="367.4,317 373,315.4 373,337" stroke="#6a6a6a" stroke-width="0.8" />
<polyline points="367.4,317 367.4,339" stroke="#6a6a6a" stroke-width="0.8" />
<polyline points="380.6,338 386.2,336.4 386.2,358" stroke="#6a6a6a" stroke-width="0.8" />
<polyline points="380.6,338 380.6,360" stroke="#6a6a6a" stroke-width="0.8" />
<polyline points="315,288 358,340" stroke="#555" stroke-width="0.9" />
<polyline points="321.4,284 364.4,336" stroke="#555" stroke-width="0.9" />
<polyline points="327.8,280 370.8,332" stroke="#555" stroke-width="0.9" />
<polyline points="334.2,276 377.2,328" stroke="#555" stroke-width="0.9" />
<polyline points="340.6,272 383.6,324" stroke="#555" stroke-width="0.9" />
<polyline points="347,268 390,320" stroke="#555" stroke-width="0.9" />
<polyline points="353.4,264 396.4,316" stroke="#555" stroke-width="0.9" />
<polyline points="315,288 319,286" stroke="#6a6a6a" stroke-width="0.8" />
<polyline points="434,227 434,257" stroke="#6a6a6a" stroke-width="0.8" />
<polyline points="444,227 444,257" stroke="#6a6a6a" stroke-width="0.8" />
<polyline points="446,227 446,257" stroke="#6a6a6a" stroke-width="0.8" />
<polyline points="454,227 454,257" stroke="#6a6a6a" stroke-width="0.8" />
<polyline points="462,227 462,257" stroke="#6a6a6a" stroke-width="0.8" />
<polyline points="474,227 474,257" stroke="#6a6a6a" stroke-width="0.8" />
<polyline points="464,256 464,287" stroke="#a8a8a8" stroke-width="0.6" />
<polyline points="474,257 474,288" stroke="#6a6a6a" stroke-width="0.8" />
<polyline points="485,287 485,321" stroke="#a8a8a8" stroke-width="0.6" />
<polyline points="446,226 539,363" stroke="#555" stroke-width="1.0" />
<polyline points="450,226 550,343" stroke="#555" stroke-width="1.0" />
<polyline points="453,226 555,335" stroke="#a8a8a8" stroke-width="0.6" />
<polyline points="483,224 554,335" stroke="#6a6a6a" stroke-width="0.8" />
<polyline points="494,227 558,327" stroke="#a8a8a8" stroke-width="0.6" />
<polyline points="483,224.6 483,281.6" stroke="#6a6a6a" stroke-width="0.8" />
<polyline points="490.1,235.6 490.1,292" stroke="#6a6a6a" stroke-width="0.8" />
<polyline points="497.2,246.6 497.2,302.4" stroke="#6a6a6a" stroke-width="0.8" />
<polyline points="504.3,257.6 504.3,312.8" stroke="#6a6a6a" stroke-width="0.8" />
<polyline points="511.4,268.6 511.4,323.2" stroke="#6a6a6a" stroke-width="0.8" />
<polyline points="518.5,279.6 518.5,333.6" stroke="#6a6a6a" stroke-width="0.8" />
<polyline points="525.6,290.6 525.6,344" stroke="#6a6a6a" stroke-width="0.8" />
<polyline points="532.7,301.6 532.7,354.4" stroke="#6a6a6a" stroke-width="0.8" />
<polyline points="539.8,312.6 539.8,364.8" stroke="#6a6a6a" stroke-width="0.8" />
<polyline points="546.9,323.6 546.9,375.2" stroke="#6a6a6a" stroke-width="0.8" />
<polyline points="554,334.6 554,385.6" stroke="#6a6a6a" stroke-width="0.8" />
<polyline points="434,225 434,256" stroke="#6a6a6a" stroke-width="0.8" />
<polyline points="444,225 444,256" stroke="#6a6a6a" stroke-width="0.8" />
<polyline points="453,225 453,256" stroke="#6a6a6a" stroke-width="0.8" />
<polyline points="462,225 462,256" stroke="#6a6a6a" stroke-width="0.8" />
<polyline points="464,256 464,289" stroke="#a8a8a8" stroke-width="0.6" />
<polyline points="474,257 474,288" stroke="#6a6a6a" stroke-width="0.8" />
<polyline points="505,225 556,304" stroke="#2b2b2b" stroke-width="0.9" />
<polyline points="556,304 633,284" stroke="#2b2b2b" stroke-width="1.0" />
<polyline points="558,311 640,290" stroke="#999" stroke-width="0.6" stroke-dasharray="2.2 1.8"/>
<polyline points="560,321 650,300" stroke="#999" stroke-width="0.6" stroke-dasharray="2.2 1.8"/>
<polyline points="554,333 660,309" stroke="#999" stroke-width="0.6" stroke-dasharray="2.2 1.8"/>
<polyline points="550,363 682,345" stroke="#999" stroke-width="0.6" stroke-dasharray="2.2 1.8"/>
<polyline points="556,335 660,311" stroke="#6a6a6a" stroke-width="0.7" />
<polyline points="556,337.4 662,313.4" stroke="#a8a8a8" stroke-width="0.6" />
<polyline points="552,382 698,378" stroke="#a8a8a8" stroke-width="0.6" />
<polyline points="550,382 697,345" stroke="#6a6a6a" stroke-width="0.7" />
<polyline points="568,373 568,411" stroke="#999" stroke-width="0.7" />
<polyline points="590,367.6 590,405.6" stroke="#999" stroke-width="0.7" />
<polyline points="612,362.2 612,400.2" stroke="#999" stroke-width="0.7" />
<polyline points="634,356.8 634,394.8" stroke="#999" stroke-width="0.7" />
<polyline points="655,351.7 655,389.7" stroke="#999" stroke-width="0.7" />
<polyline points="677,346.3 677,384.3" stroke="#999" stroke-width="0.7" />
<polyline points="582,415 702,391" stroke="#a8a8a8" stroke-width="0.7" />
<polyline points="596,425 704,396" stroke="#a8a8a8" stroke-width="0.7" />
<polyline points="600,436 600,430 601.6,428.4 608,426.8 609.2,428.4 609.2,434" stroke="#7a7a7a" stroke-width="0.7" />
<polyline points="610.4,433.2 610.4,427.2 612,425.6 618.4,424 619.6,425.6 619.6,431.2" stroke="#7a7a7a" stroke-width="0.7" />
<polyline points="620.8,430.4 620.8,424.4 622.4,422.8 628.8,421.2 630,422.8 630,428.4" stroke="#7a7a7a" stroke-width="0.7" />
<polyline points="631.2,427.6 631.2,421.6 632.8,420 639.2,418.4 640.4,420 640.4,425.6" stroke="#7a7a7a" stroke-width="0.7" />
<polyline points="641.6,424.8 641.6,418.8 643.2,417.2 649.6,415.6 650.8,417.2 650.8,422.8" stroke="#7a7a7a" stroke-width="0.7" />
<polyline points="652,422 652,416 653.6,414.4 660,412.8 661.2,414.4 661.2,420" stroke="#7a7a7a" stroke-width="0.7" />
<polyline points="662.4,419.2 662.4,413.2 664,411.6 670.4,410 671.6,411.6 671.6,417.2" stroke="#7a7a7a" stroke-width="0.7" />
<polyline points="672.8,416.4 672.8,410.4 674.4,408.8 680.8,407.2 682,408.8 682,414.4" stroke="#7a7a7a" stroke-width="0.7" />
<polyline points="683.2,413.6 683.2,407.6 684.8,406 691.2,404.4 692.4,406 692.4,411.6" stroke="#7a7a7a" stroke-width="0.7" />
<polyline points="693.6,410.8 693.6,404.8 695.2,403.2 701.6,401.6 702.8,403.2 702.8,408.8" stroke="#7a7a7a" stroke-width="0.7" />
<polyline points="704,408 704,402 705.6,400.4 712,398.8 713.2,400.4 713.2,406" stroke="#7a7a7a" stroke-width="0.7" />
<polyline points="602.4,443.6 602.4,437.6 604,436 610.4,434.4 611.6,436 611.6,441.6" stroke="#7a7a7a" stroke-width="0.7" />
<polyline points="612.8,440.8 612.8,434.8 614.4,433.2 620.8,431.6 622,433.2 622,438.8" stroke="#7a7a7a" stroke-width="0.7" />
<polyline points="623.2,438 623.2,432 624.8,430.4 631.2,428.8 632.4,430.4 632.4,436" stroke="#7a7a7a" stroke-width="0.7" />
<polyline points="633.6,435.2 633.6,429.2 635.2,427.6 641.6,426 642.8,427.6 642.8,433.2" stroke="#7a7a7a" stroke-width="0.7" />
<polyline points="644,432.4 644,426.4 645.6,424.8 652,423.2 653.2,424.8 653.2,430.4" stroke="#7a7a7a" stroke-width="0.7" />
<polyline points="654.4,429.6 654.4,423.6 656,422 662.4,420.4 663.6,422 663.6,427.6" stroke="#7a7a7a" stroke-width="0.7" />
<polyline points="664.8,426.8 664.8,420.8 666.4,419.2 672.8,417.6 674,419.2 674,424.8" stroke="#7a7a7a" stroke-width="0.7" />
<polyline points="675.2,424 675.2,418 676.8,416.4 683.2,414.8 684.4,416.4 684.4,422" stroke="#7a7a7a" stroke-width="0.7" />
<polyline points="685.6,421.2 685.6,415.2 687.2,413.6 693.6,412 694.8,413.6 694.8,419.2" stroke="#7a7a7a" stroke-width="0.7" />
<polyline points="696,418.4 696,412.4 697.6,410.8 704,409.2 705.2,410.8 705.2,416.4" stroke="#7a7a7a" stroke-width="0.7" />
<polyline points="706.4,415.6 706.4,409.6 708,408 714.4,406.4 715.6,408 715.6,413.6" stroke="#7a7a7a" stroke-width="0.7" />
<polyline points="604.8,451.2 604.8,445.2 606.4,443.6 612.8,442 614,443.6 614,449.2" stroke="#7a7a7a" stroke-width="0.7" />
<polyline points="615.2,448.4 615.2,442.4 616.8,440.8 623.2,439.2 624.4,440.8 624.4,446.4" stroke="#7a7a7a" stroke-width="0.7" />
<polyline points="625.6,445.6 625.6,439.6 627.2,438 633.6,436.4 634.8,438 634.8,443.6" stroke="#7a7a7a" stroke-width="0.7" />
<polyline points="636,442.8 636,436.8 637.6,435.2 644,433.6 645.2,435.2 645.2,440.8" stroke="#7a7a7a" stroke-width="0.7" />
<polyline points="646.4,440 646.4,434 648,432.4 654.4,430.8 655.6,432.4 655.6,438" stroke="#7a7a7a" stroke-width="0.7" />
<polyline points="656.8,437.2 656.8,431.2 658.4,429.6 664.8,428 666,429.6 666,435.2" stroke="#7a7a7a" stroke-width="0.7" />
<polyline points="667.2,434.4 667.2,428.4 668.8,426.8 675.2,425.2 676.4,426.8 676.4,432.4" stroke="#7a7a7a" stroke-width="0.7" />
<polyline points="677.6,431.6 677.6,425.6 679.2,424 685.6,422.4 686.8,424 686.8,429.6" stroke="#7a7a7a" stroke-width="0.7" />
<polyline points="688,428.8 688,422.8 689.6,421.2 696,419.6 697.2,421.2 697.2,426.8" stroke="#7a7a7a" stroke-width="0.7" />
<polyline points="698.4,426 698.4,420 700,418.4 706.4,416.8 707.6,418.4 707.6,424" stroke="#7a7a7a" stroke-width="0.7" />
<polyline points="708.8,423.2 708.8,417.2 710.4,415.6 716.8,414 718,415.6 718,421.2" stroke="#7a7a7a" stroke-width="0.7" />
<polyline points="607.2,458.8 607.2,452.8 608.8,451.2 615.2,449.6 616.4,451.2 616.4,456.8" stroke="#7a7a7a" stroke-width="0.7" />
<polyline points="617.6,456 617.6,450 619.2,448.4 625.6,446.8 626.8,448.4 626.8,454" stroke="#7a7a7a" stroke-width="0.7" />
<polyline points="628,453.2 628,447.2 629.6,445.6 636,444 637.2,445.6 637.2,451.2" stroke="#7a7a7a" stroke-width="0.7" />
<polyline points="638.4,450.4 638.4,444.4 640,442.8 646.4,441.2 647.6,442.8 647.6,448.4" stroke="#7a7a7a" stroke-width="0.7" />
<polyline points="648.8,447.6 648.8,441.6 650.4,440 656.8,438.4 658,440 658,445.6" stroke="#7a7a7a" stroke-width="0.7" />
<polyline points="659.2,444.8 659.2,438.8 660.8,437.2 667.2,435.6 668.4,437.2 668.4,442.8" stroke="#7a7a7a" stroke-width="0.7" />
<polyline points="669.6,442 669.6,436 671.2,434.4 677.6,432.8 678.8,434.4 678.8,440" stroke="#7a7a7a" stroke-width="0.7" />
<polyline points="680,439.2 680,433.2 681.6,431.6 688,430 689.2,431.6 689.2,437.2" stroke="#7a7a7a" stroke-width="0.7" />
<polyline points="690.4,436.4 690.4,430.4 692,428.8 698.4,427.2 699.6,428.8 699.6,434.4" stroke="#7a7a7a" stroke-width="0.7" />
<polyline points="700.8,433.6 700.8,427.6 702.4,426 708.8,424.4 710,426 710,431.6" stroke="#7a7a7a" stroke-width="0.7" />
<polyline points="609.6,466.4 609.6,460.4 611.2,458.8 617.6,457.2 618.8,458.8 618.8,464.4" stroke="#7a7a7a" stroke-width="0.7" />
<polyline points="620,463.6 620,457.6 621.6,456 628,454.4 629.2,456 629.2,461.6" stroke="#7a7a7a" stroke-width="0.7" />
<polyline points="630.4,460.8 630.4,454.8 632,453.2 638.4,451.6 639.6,453.2 639.6,458.8" stroke="#7a7a7a" stroke-width="0.7" />
<polyline points="640.8,458 640.8,452 642.4,450.4 648.8,448.8 650,450.4 650,456" stroke="#7a7a7a" stroke-width="0.7" />
<polyline points="651.2,455.2 651.2,449.2 652.8,447.6 659.2,446 660.4,447.6 660.4,453.2" stroke="#7a7a7a" stroke-width="0.7" />
<polyline points="661.6,452.4 661.6,446.4 663.2,444.8 669.6,443.2 670.8,444.8 670.8,450.4" stroke="#7a7a7a" stroke-width="0.7" />
<polyline points="672,449.6 672,443.6 673.6,442 680,440.4 681.2,442 681.2,447.6" stroke="#7a7a7a" stroke-width="0.7" />
<polyline points="682.4,446.8 682.4,440.8 684,439.2 690.4,437.6 691.6,439.2 691.6,444.8" stroke="#7a7a7a" stroke-width="0.7" />
<polyline points="692.8,444 692.8,438 694.4,436.4 700.8,434.8 702,436.4 702,442" stroke="#7a7a7a" stroke-width="0.7" />
<polyline points="703.2,441.2 703.2,435.2 704.8,433.6 711.2,432 712.4,433.6 712.4,439.2" stroke="#7a7a7a" stroke-width="0.7" />
<polyline points="612,474 612,468 613.6,466.4 620,464.8 621.2,466.4 621.2,472" stroke="#7a7a7a" stroke-width="0.7" />
<polyline points="622.4,471.2 622.4,465.2 624,463.6 630.4,462 631.6,463.6 631.6,469.2" stroke="#7a7a7a" stroke-width="0.7" />
<polyline points="632.8,468.4 632.8,462.4 634.4,460.8 640.8,459.2 642,460.8 642,466.4" stroke="#7a7a7a" stroke-width="0.7" />
<polyline points="643.2,465.6 643.2,459.6 644.8,458 651.2,456.4 652.4,458 652.4,463.6" stroke="#7a7a7a" stroke-width="0.7" />
<polyline points="653.6,462.8 653.6,456.8 655.2,455.2 661.6,453.6 662.8,455.2 662.8,460.8" stroke="#7a7a7a" stroke-width="0.7" />
<polyline points="664,460 664,454 665.6,452.4 672,450.8 673.2,452.4 673.2,458" stroke="#7a7a7a" stroke-width="0.7" />
<polyline points="674.4,457.2 674.4,451.2 676,449.6 682.4,448 683.6,449.6 683.6,455.2" stroke="#7a7a7a" stroke-width="0.7" />
<polyline points="684.8,454.4 684.8,448.4 686.4,446.8 692.8,445.2 694,446.8 694,452.4" stroke="#7a7a7a" stroke-width="0.7" />
<polyline points="695.2,451.6 695.2,445.6 696.8,444 703.2,442.4 704.4,444 704.4,449.6" stroke="#7a7a7a" stroke-width="0.7" />
<polyline points="705.6,448.8 705.6,442.8 707.2,441.2 713.6,439.6 714.8,441.2 714.8,446.8" stroke="#7a7a7a" stroke-width="0.7" />
<polyline points="614.4,481.6 614.4,475.6 616,474 622.4,472.4 623.6,474 623.6,479.6" stroke="#7a7a7a" stroke-width="0.7" />
<polyline points="624.8,478.8 624.8,472.8 626.4,471.2 632.8,469.6 634,471.2 634,476.8" stroke="#7a7a7a" stroke-width="0.7" />
<polyline points="635.2,476 635.2,470 636.8,468.4 643.2,466.8 644.4,468.4 644.4,474" stroke="#7a7a7a" stroke-width="0.7" />
<polyline points="645.6,473.2 645.6,467.2 647.2,465.6 653.6,464 654.8,465.6 654.8,471.2" stroke="#7a7a7a" stroke-width="0.7" />
<polyline points="656,470.4 656,464.4 657.6,462.8 664,461.2 665.2,462.8 665.2,468.4" stroke="#7a7a7a" stroke-width="0.7" />
<polyline points="666.4,467.6 666.4,461.6 668,460 674.4,458.4 675.6,460 675.6,465.6" stroke="#7a7a7a" stroke-width="0.7" />
<polyline points="676.8,464.8 676.8,458.8 678.4,457.2 684.8,455.6 686,457.2 686,462.8" stroke="#7a7a7a" stroke-width="0.7" />
<polyline points="687.2,462 687.2,456 688.8,454.4 695.2,452.8 696.4,454.4 696.4,460" stroke="#7a7a7a" stroke-width="0.7" />
<polyline points="697.6,459.2 697.6,453.2 699.2,451.6 705.6,450 706.8,451.6 706.8,457.2" stroke="#7a7a7a" stroke-width="0.7" />
<polyline points="708,456.4 708,450.4 709.6,448.8 716,447.2 717.2,448.8 717.2,454.4" stroke="#7a7a7a" stroke-width="0.7" />
<polyline points="616.8,489.2 616.8,483.2 618.4,481.6 624.8,480 626,481.6 626,487.2" stroke="#7a7a7a" stroke-width="0.7" />
<polyline points="627.2,486.4 627.2,480.4 628.8,478.8 635.2,477.2 636.4,478.8 636.4,484.4" stroke="#7a7a7a" stroke-width="0.7" />
<polyline points="637.6,483.6 637.6,477.6 639.2,476 645.6,474.4 646.8,476 646.8,481.6" stroke="#7a7a7a" stroke-width="0.7" />
<polyline points="648,480.8 648,474.8 649.6,473.2 656,471.6 657.2,473.2 657.2,478.8" stroke="#7a7a7a" stroke-width="0.7" />
<polyline points="658.4,478 658.4,472 660,470.4 666.4,468.8 667.6,470.4 667.6,476" stroke="#7a7a7a" stroke-width="0.7" />
<polyline points="668.8,475.2 668.8,469.2 670.4,467.6 676.8,466 678,467.6 678,473.2" stroke="#7a7a7a" stroke-width="0.7" />
<polyline points="679.2,472.4 679.2,466.4 680.8,464.8 687.2,463.2 688.4,464.8 688.4,470.4" stroke="#7a7a7a" stroke-width="0.7" />
<polyline points="689.6,469.6 689.6,463.6 691.2,462 697.6,460.4 698.8,462 698.8,467.6" stroke="#7a7a7a" stroke-width="0.7" />
<polyline points="700,466.8 700,460.8 701.6,459.2 708,457.6 709.2,459.2 709.2,464.8" stroke="#7a7a7a" stroke-width="0.7" />
<polyline points="619.2,496.8 619.2,490.8 620.8,489.2 627.2,487.6 628.4,489.2 628.4,494.8" stroke="#7a7a7a" stroke-width="0.7" />
<polyline points="629.6,494 629.6,488 631.2,486.4 637.6,484.8 638.8,486.4 638.8,492" stroke="#7a7a7a" stroke-width="0.7" />
<polyline points="640,491.2 640,485.2 641.6,483.6 648,482 649.2,483.6 649.2,489.2" stroke="#7a7a7a" stroke-width="0.7" />
<polyline points="650.4,488.4 650.4,482.4 652,480.8 658.4,479.2 659.6,480.8 659.6,486.4" stroke="#7a7a7a" stroke-width="0.7" />
<polyline points="660.8,485.6 660.8,479.6 662.4,478 668.8,476.4 670,478 670,483.6" stroke="#7a7a7a" stroke-width="0.7" />
<polyline points="671.2,482.8 671.2,476.8 672.8,475.2 679.2,473.6 680.4,475.2 680.4,480.8" stroke="#7a7a7a" stroke-width="0.7" />
<polyline points="681.6,480 681.6,474 683.2,472.4 689.6,470.8 690.8,472.4 690.8,478" stroke="#7a7a7a" stroke-width="0.7" />
<polyline points="692,477.2 692,471.2 693.6,469.6 700,468 701.2,469.6 701.2,475.2" stroke="#7a7a7a" stroke-width="0.7" />
<polyline points="702.4,474.4 702.4,468.4 704,466.8 710.4,465.2 711.6,466.8 711.6,472.4" stroke="#7a7a7a" stroke-width="0.7" />
<polyline points="423,400 423,442 541,425" stroke="#6a6a6a" stroke-width="0.8" />
<polyline points="423,400 541,393" stroke="#a8a8a8" stroke-width="0.6" />
<polyline points="447,398.6 447,438.5" stroke="#999" stroke-width="0.7" />
<polyline points="471,397.1 471,435.1" stroke="#999" stroke-width="0.7" />
<polyline points="494,395.7 494,431.8" stroke="#999" stroke-width="0.7" />
<polyline points="518,394.3 518,428.3" stroke="#999" stroke-width="0.7" />
<polyline points="541,343 541,425" stroke="#888" stroke-width="0.7" />
<polyline points="541,394 541,419" stroke="#2b2b2b" stroke-width="0.9" />
<polyline points="548,392 541,394" stroke="#2b2b2b" stroke-width="0.9" />
<polyline points="425,442 541,427" stroke="#a8a8a8" stroke-width="0.6" />
<polyline points="555,397.4 555,426.6" stroke="#999" stroke-width="0.7" />
<polyline points="568,402 568,437" stroke="#999" stroke-width="0.7" />
<polyline points="581,406.6 581,447.4" stroke="#999" stroke-width="0.7" />
<polyline points="594,411.1 594,457.8" stroke="#999" stroke-width="0.7" />
<polyline points="606,415.3 606,467.4" stroke="#999" stroke-width="0.7" />
<polyline points="293,360 300,359 300,371 320,401" stroke="#777" stroke-width="0.8" />
<polyline points="293,360 293,372 312,403" stroke="#777" stroke-width="0.8" />
<polyline points="305,390 305,408" stroke="#888" stroke-width="0.7" />
<polyline points="305,390 313,388 313,405" stroke="#888" stroke-width="0.7" />
<polyline points="295,366 307,384" stroke="#999" stroke-width="0.6" />
<polyline points="297.4,369.6 309.4,387.6" stroke="#999" stroke-width="0.6" />
<polyline points="299.8,373.2 311.8,391.2" stroke="#999" stroke-width="0.6" />
<polyline points="322.4,356 329.4,355 329.4,367 349.4,397" stroke="#777" stroke-width="0.8" />
<polyline points="322.4,356 322.4,368 341.4,399" stroke="#777" stroke-width="0.8" />
<polyline points="334.4,386 334.4,404" stroke="#888" stroke-width="0.7" />
<polyline points="334.4,386 342.4,384 342.4,401" stroke="#888" stroke-width="0.7" />
<polyline points="324.4,362 336.4,380" stroke="#999" stroke-width="0.6" />
<polyline points="326.8,365.6 338.8,383.6" stroke="#999" stroke-width="0.6" />
<polyline points="329.2,369.2 341.2,387.2" stroke="#999" stroke-width="0.6" />
<polyline points="351.8,352 358.8,351 358.8,363 378.8,393" stroke="#777" stroke-width="0.8" />
<polyline points="351.8,352 351.8,364 370.8,395" stroke="#777" stroke-width="0.8" />
<polyline points="363.8,382 363.8,400" stroke="#888" stroke-width="0.7" />
<polyline points="363.8,382 371.8,380 371.8,397" stroke="#888" stroke-width="0.7" />
<polyline points="353.8,358 365.8,376" stroke="#999" stroke-width="0.6" />
<polyline points="356.2,361.6 368.2,379.6" stroke="#999" stroke-width="0.6" />
<polyline points="358.6,365.2 370.6,383.2" stroke="#999" stroke-width="0.6" />
<polyline points="381.2,348 388.2,347 388.2,359 408.2,389" stroke="#777" stroke-width="0.8" />
<polyline points="381.2,348 381.2,360 400.2,391" stroke="#777" stroke-width="0.8" />
<polyline points="393.2,378 393.2,396" stroke="#888" stroke-width="0.7" />
<polyline points="393.2,378 401.2,376 401.2,393" stroke="#888" stroke-width="0.7" />
<polyline points="383.2,354 395.2,372" stroke="#999" stroke-width="0.6" />
<polyline points="385.6,357.6 397.6,375.6" stroke="#999" stroke-width="0.6" />
<polyline points="388,361.2 400,379.2" stroke="#999" stroke-width="0.6" />
<polyline points="410.6,344 417.6,343 417.6,355 437.6,385" stroke="#777" stroke-width="0.8" />
<polyline points="410.6,344 410.6,356 429.6,387" stroke="#777" stroke-width="0.8" />
<polyline points="422.6,374 422.6,392" stroke="#888" stroke-width="0.7" />
<polyline points="422.6,374 430.6,372 430.6,389" stroke="#888" stroke-width="0.7" />
<polyline points="412.6,350 424.6,368" stroke="#999" stroke-width="0.6" />
<polyline points="415,353.6 427,371.6" stroke="#999" stroke-width="0.6" />
<polyline points="417.4,357.2 429.4,375.2" stroke="#999" stroke-width="0.6" />
<polyline points="440,340 447,339 447,351 467,381" stroke="#777" stroke-width="0.8" />
<polyline points="440,340 440,352 459,383" stroke="#777" stroke-width="0.8" />
<polyline points="452,370 452,388" stroke="#888" stroke-width="0.7" />
<polyline points="452,370 460,368 460,385" stroke="#888" stroke-width="0.7" />
<polyline points="442,346 454,364" stroke="#999" stroke-width="0.6" />
<polyline points="444.4,349.6 456.4,367.6" stroke="#999" stroke-width="0.6" />
<polyline points="446.8,353.2 458.8,371.2" stroke="#999" stroke-width="0.6" />
<polyline points="297,415 473,396" stroke="#a8a8a8" stroke-width="0.7" />
<polyline points="473,381 473,396" stroke="#a8a8a8" stroke-width="0.7" />
<polyline points="298,418 423,404" stroke="#a8a8a8" stroke-width="0.7" />
<polyline points="298,383 548,346" stroke="#999" stroke-width="0.6" stroke-dasharray="2.2 1.8"/>
<polyline points="299,389 548,355" stroke="#999" stroke-width="0.6" stroke-dasharray="2.2 1.8"/>
<polyline points="334,415 542,395" stroke="#999" stroke-width="0.6" stroke-dasharray="2.2 1.8"/>
<polyline points="334,420 542,401" stroke="#999" stroke-width="0.6" stroke-dasharray="2.2 1.8"/>
<polyline points="558,315 630,303" stroke="#999" stroke-width="0.6" stroke-dasharray="2.2 1.8"/>
<polyline points="560,331 630,319" stroke="#999" stroke-width="0.6" stroke-dasharray="2.2 1.8"/>
<polyline points="275,337 296,375" stroke="#999" stroke-width="0.6" stroke-dasharray="2.2 1.8"/>
<polyline points="273,340 296,375" stroke="#2b2b2b" stroke-width="0.9" />
<polyline points="296,375 633,284" stroke="#2b2b2b" stroke-width="1.0" />
<polyline points="296,375 548,343 671,327.4" stroke="#2b2b2b" stroke-width="1.0" />
<polyline points="296,375 674,469" stroke="#2b2b2b" stroke-width="1.0" />
<polyline points="336,370 603,434 674,469" stroke="#2b2b2b" stroke-width="1.0" />
<polyline points="548,343 548,392" stroke="#2b2b2b" stroke-width="1.1" />
<polyline points="548,343 674,469" stroke="#2b2b2b" stroke-width="1.0" />
<polyline points="548,392 580,415 650,458" stroke="#777" stroke-width="0.7" stroke-dasharray="2.2 1.8"/>
<polyline points="297,420 674,487" stroke="#2b2b2b" stroke-width="1.0" />
<polyline points="296,375 297,420" stroke="#6a6a6a" stroke-width="0.8" />
<polyline points="297,420 297,473" stroke="#2b2b2b" stroke-width="1.0" />
<polyline points="674,469 674.9,540.8" stroke="#2b2b2b" stroke-width="0.9" />
<polyline points="674,469 712,456" stroke="#2b2b2b" stroke-width="1.0" />
<polyline points="674,487 712,476" stroke="#6a6a6a" stroke-width="0.8" />
<polyline points="297.6,464.9 324,459.8 659.5,519.3 674.9,529.8" stroke="#2b2b2b" stroke-width="1.0" />
<polyline points="297.6,473.7 674.9,540.8 699.1,533.1" stroke="#2b2b2b" stroke-width="0.9" />
<polyline points="297.6,466 673.8,531.4" stroke="#6a6a6a" stroke-width="0.7" />
<polyline points="362.5,465.3 540.7,424.6 640.8,515.5" stroke="#6a6a6a" stroke-width="0.7" />
<polyline points="324,459.8 540.7,422" stroke="#a8a8a8" stroke-width="0.6" />
<polyline points="249,397 297,473" stroke="#2b2b2b" stroke-width="0.9" />
<polyline points="243,434 266,480 261,481 242,445" stroke="#2b2b2b" stroke-width="0.9" />
<polyline points="266,353 296,417" stroke="#6a6a6a" stroke-width="0.7" />
<polyline points="261,364 294,415" stroke="#6a6a6a" stroke-width="0.7" />
<polyline points="294,375 294,415" stroke="#a8a8a8" stroke-width="0.6" />
<polyline points="298,421 606,473" stroke="#6a6a6a" stroke-width="0.7" />
<polyline points="603,434 606,473" stroke="#6a6a6a" stroke-width="0.7" />
<polyline points="650,458 674,469" stroke="#6a6a6a" stroke-width="0.7" />
</g>
<defs><clipPath id="clipR1"><rect x="1150" y="151" width="624" height="560"/></clipPath><clipPath id="clipR2"><circle cx="1506" cy="351" r="343"/></clipPath></defs>
<g clip-path="url(#clipR1)"><g clip-path="url(#clipR2)">
<path d="M1630 163.6h3.2M1631.6 162v3.2M1619.6 175.2h3.2M1621.2 173.6v3.2M1640.4 175.2h3.2M1642 173.6v3.2M1661.2 175.2h3.2M1662.8 173.6v3.2M1609.2 186.8h3.2M1610.8 185.2v3.2M1630 186.8h3.2M1631.6 185.2v3.2M1650.8 186.8h3.2M1652.4 185.2v3.2M1671.6 186.8h3.2M1673.2 185.2v3.2M1692.4 186.8h3.2M1694 185.2v3.2M1713.2 186.8h3.2M1714.8 185.2v3.2M1598.8 198.4h3.2M1600.4 196.8v3.2M1619.6 198.4h3.2M1621.2 196.8v3.2M1640.4 198.4h3.2M1642 196.8v3.2M1661.2 198.4h3.2M1662.8 196.8v3.2M1682 198.4h3.2M1683.6 196.8v3.2M1702.8 198.4h3.2M1704.4 196.8v3.2M1723.6 198.4h3.2M1725.2 196.8v3.2M1744.4 198.4h3.2M1746 196.8v3.2M1765.2 198.4h3.2M1766.8 196.8v3.2M1588.4 210h3.2M1590 208.4v3.2M1609.2 210h3.2M1610.8 208.4v3.2M1630 210h3.2M1631.6 208.4v3.2M1650.8 210h3.2M1652.4 208.4v3.2M1671.6 210h3.2M1673.2 208.4v3.2M1692.4 210h3.2M1694 208.4v3.2M1713.2 210h3.2M1714.8 208.4v3.2M1734 210h3.2M1735.6 208.4v3.2M1754.8 210h3.2M1756.4 208.4v3.2M1578 221.6h3.2M1579.6 220v3.2M1598.8 221.6h3.2M1600.4 220v3.2M1619.6 221.6h3.2M1621.2 220v3.2M1640.4 221.6h3.2M1642 220v3.2M1661.2 221.6h3.2M1662.8 220v3.2M1682 221.6h3.2M1683.6 220v3.2M1702.8 221.6h3.2M1704.4 220v3.2M1723.6 221.6h3.2M1725.2 220v3.2M1744.4 221.6h3.2M1746 220v3.2M1546.8 233.2h3.2M1548.4 231.6v3.2M1567.6 233.2h3.2M1569.2 231.6v3.2M1588.4 233.2h3.2M1590 231.6v3.2M1609.2 233.2h3.2M1610.8 231.6v3.2M1630 233.2h3.2M1631.6 231.6v3.2M1650.8 233.2h3.2M1652.4 231.6v3.2M1671.6 233.2h3.2M1673.2 231.6v3.2M1692.4 233.2h3.2M1694 231.6v3.2M1713.2 233.2h3.2M1714.8 231.6v3.2M1734 233.2h3.2M1735.6 231.6v3.2M1536.4 244.8h3.2M1538 243.2v3.2M1557.2 244.8h3.2M1558.8 243.2v3.2M1578 244.8h3.2M1579.6 243.2v3.2M1598.8 244.8h3.2M1600.4 243.2v3.2M1619.6 244.8h3.2M1621.2 243.2v3.2M1640.4 244.8h3.2M1642 243.2v3.2M1661.2 244.8h3.2M1662.8 243.2v3.2M1682 244.8h3.2M1683.6 243.2v3.2M1702.8 244.8h3.2M1704.4 243.2v3.2M1723.6 244.8h3.2M1725.2 243.2v3.2M1526 256.4h3.2M1527.6 254.8v3.2M1546.8 256.4h3.2M1548.4 254.8v3.2M1567.6 256.4h3.2M1569.2 254.8v3.2M1588.4 256.4h3.2M1590 254.8v3.2M1609.2 256.4h3.2M1610.8 254.8v3.2M1630 256.4h3.2M1631.6 254.8v3.2M1650.8 256.4h3.2M1652.4 254.8v3.2M1671.6 256.4h3.2M1673.2 254.8v3.2M1692.4 256.4h3.2M1694 254.8v3.2M1713.2 256.4h3.2M1714.8 254.8v3.2M1494.8 268h3.2M1496.4 266.4v3.2M1515.6 268h3.2M1517.2 266.4v3.2M1536.4 268h3.2M1538 266.4v3.2M1557.2 268h3.2M1558.8 266.4v3.2M1578 268h3.2M1579.6 266.4v3.2M1598.8 268h3.2M1600.4 266.4v3.2M1619.6 268h3.2M1621.2 266.4v3.2M1640.4 268h3.2M1642 266.4v3.2M1661.2 268h3.2M1662.8 266.4v3.2M1682 268h3.2M1683.6 266.4v3.2M1702.8 268h3.2M1704.4 266.4v3.2M1723.6 268h3.2M1725.2 266.4v3.2M1484.4 279.6h3.2M1486 278v3.2M1505.2 279.6h3.2M1506.8 278v3.2M1526 279.6h3.2M1527.6 278v3.2M1546.8 279.6h3.2M1548.4 278v3.2M1567.6 279.6h3.2M1569.2 278v3.2M1588.4 279.6h3.2M1590 278v3.2M1609.2 279.6h3.2M1610.8 278v3.2M1630 279.6h3.2M1631.6 278v3.2M1650.8 279.6h3.2M1652.4 278v3.2M1671.6 279.6h3.2M1673.2 278v3.2M1692.4 279.6h3.2M1694 278v3.2M1713.2 279.6h3.2M1714.8 278v3.2M1474 291.2h3.2M1475.6 289.6v3.2M1494.8 291.2h3.2M1496.4 289.6v3.2M1515.6 291.2h3.2M1517.2 289.6v3.2M1536.4 291.2h3.2M1538 289.6v3.2M1557.2 291.2h3.2M1558.8 289.6v3.2M1578 291.2h3.2M1579.6 289.6v3.2M1598.8 291.2h3.2M1600.4 289.6v3.2M1619.6 291.2h3.2M1621.2 289.6v3.2M1640.4 291.2h3.2M1642 289.6v3.2M1661.2 291.2h3.2M1662.8 289.6v3.2M1682 291.2h3.2M1683.6 289.6v3.2M1702.8 291.2h3.2M1704.4 289.6v3.2M1442.8 302.8h3.2M1444.4 301.2v3.2M1463.6 302.8h3.2M1465.2 301.2v3.2M1484.4 302.8h3.2M1486 301.2v3.2M1505.2 302.8h3.2M1506.8 301.2v3.2M1526 302.8h3.2M1527.6 301.2v3.2M1546.8 302.8h3.2M1548.4 301.2v3.2M1567.6 302.8h3.2M1569.2 301.2v3.2M1588.4 302.8h3.2M1590 301.2v3.2M1609.2 302.8h3.2M1610.8 301.2v3.2M1630 302.8h3.2M1631.6 301.2v3.2M1650.8 302.8h3.2M1652.4 301.2v3.2M1671.6 302.8h3.2M1673.2 301.2v3.2M1692.4 302.8h3.2M1694 301.2v3.2M1432.4 314.4h3.2M1434 312.8v3.2M1453.2 314.4h3.2M1454.8 312.8v3.2M1474 314.4h3.2M1475.6 312.8v3.2M1494.8 314.4h3.2M1496.4 312.8v3.2M1515.6 314.4h3.2M1517.2 312.8v3.2M1536.4 314.4h3.2M1538 312.8v3.2M1557.2 314.4h3.2M1558.8 312.8v3.2M1578 314.4h3.2M1579.6 312.8v3.2M1598.8 314.4h3.2M1600.4 312.8v3.2M1619.6 314.4h3.2M1621.2 312.8v3.2M1640.4 314.4h3.2M1642 312.8v3.2M1661.2 314.4h3.2M1662.8 312.8v3.2M1682 314.4h3.2M1683.6 312.8v3.2M1401.2 326h3.2M1402.8 324.4v3.2M1422 326h3.2M1423.6 324.4v3.2M1442.8 326h3.2M1444.4 324.4v3.2M1463.6 326h3.2M1465.2 324.4v3.2M1484.4 326h3.2M1486 324.4v3.2M1505.2 326h3.2M1506.8 324.4v3.2M1526 326h3.2M1527.6 324.4v3.2M1546.8 326h3.2M1548.4 324.4v3.2M1567.6 326h3.2M1569.2 324.4v3.2M1588.4 326h3.2M1590 324.4v3.2M1609.2 326h3.2M1610.8 324.4v3.2M1630 326h3.2M1631.6 324.4v3.2M1650.8 326h3.2M1652.4 324.4v3.2M1671.6 326h3.2M1673.2 324.4v3.2M1390.8 337.6h3.2M1392.4 336v3.2M1411.6 337.6h3.2M1413.2 336v3.2M1432.4 337.6h3.2M1434 336v3.2M1453.2 337.6h3.2M1454.8 336v3.2M1474 337.6h3.2M1475.6 336v3.2M1494.8 337.6h3.2M1496.4 336v3.2M1515.6 337.6h3.2M1517.2 336v3.2M1536.4 337.6h3.2M1538 336v3.2M1557.2 337.6h3.2M1558.8 336v3.2M1578 337.6h3.2M1579.6 336v3.2M1598.8 337.6h3.2M1600.4 336v3.2M1619.6 337.6h3.2M1621.2 336v3.2M1640.4 337.6h3.2M1642 336v3.2M1661.2 337.6h3.2M1662.8 336v3.2M1380.4 349.2h3.2M1382 347.6v3.2M1401.2 349.2h3.2M1402.8 347.6v3.2M1422 349.2h3.2M1423.6 347.6v3.2M1442.8 349.2h3.2M1444.4 347.6v3.2M1463.6 349.2h3.2M1465.2 347.6v3.2M1484.4 349.2h3.2M1486 347.6v3.2M1505.2 349.2h3.2M1506.8 347.6v3.2M1526 349.2h3.2M1527.6 347.6v3.2M1546.8 349.2h3.2M1548.4 347.6v3.2M1567.6 349.2h3.2M1569.2 347.6v3.2M1588.4 349.2h3.2M1590 347.6v3.2M1609.2 349.2h3.2M1610.8 347.6v3.2M1630 349.2h3.2M1631.6 347.6v3.2M1650.8 349.2h3.2M1652.4 347.6v3.2M1671.6 349.2h3.2M1673.2 347.6v3.2M1390.8 360.8h3.2M1392.4 359.2v3.2M1411.6 360.8h3.2M1413.2 359.2v3.2M1432.4 360.8h3.2M1434 359.2v3.2M1453.2 360.8h3.2M1454.8 359.2v3.2M1474 360.8h3.2M1475.6 359.2v3.2M1494.8 360.8h3.2M1496.4 359.2v3.2M1515.6 360.8h3.2M1517.2 359.2v3.2M1536.4 360.8h3.2M1538 359.2v3.2M1557.2 360.8h3.2M1558.8 359.2v3.2M1578 360.8h3.2M1579.6 359.2v3.2M1598.8 360.8h3.2M1600.4 359.2v3.2M1619.6 360.8h3.2M1621.2 359.2v3.2M1640.4 360.8h3.2M1642 359.2v3.2M1661.2 360.8h3.2M1662.8 359.2v3.2M1401.2 372.4h3.2M1402.8 370.8v3.2M1422 372.4h3.2M1423.6 370.8v3.2M1442.8 372.4h3.2M1444.4 370.8v3.2M1463.6 372.4h3.2M1465.2 370.8v3.2M1484.4 372.4h3.2M1486 370.8v3.2M1505.2 372.4h3.2M1506.8 370.8v3.2M1526 372.4h3.2M1527.6 370.8v3.2M1546.8 372.4h3.2M1548.4 370.8v3.2M1567.6 372.4h3.2M1569.2 370.8v3.2M1588.4 372.4h3.2M1590 370.8v3.2M1609.2 372.4h3.2M1610.8 370.8v3.2M1630 372.4h3.2M1631.6 370.8v3.2M1650.8 372.4h3.2M1652.4 370.8v3.2M1411.6 384h3.2M1413.2 382.4v3.2M1432.4 384h3.2M1434 382.4v3.2M1453.2 384h3.2M1454.8 382.4v3.2M1474 384h3.2M1475.6 382.4v3.2M1494.8 384h3.2M1496.4 382.4v3.2M1515.6 384h3.2M1517.2 382.4v3.2M1536.4 384h3.2M1538 382.4v3.2M1557.2 384h3.2M1558.8 382.4v3.2M1578 384h3.2M1579.6 382.4v3.2M1598.8 384h3.2M1600.4 382.4v3.2M1619.6 384h3.2M1621.2 382.4v3.2M1640.4 384h3.2M1642 382.4v3.2M1422 395.6h3.2M1423.6 394v3.2M1442.8 395.6h3.2M1444.4 394v3.2M1463.6 395.6h3.2M1465.2 394v3.2M1484.4 395.6h3.2M1486 394v3.2M1505.2 395.6h3.2M1506.8 394v3.2M1526 395.6h3.2M1527.6 394v3.2M1546.8 395.6h3.2M1548.4 394v3.2M1567.6 395.6h3.2M1569.2 394v3.2M1588.4 395.6h3.2M1590 394v3.2M1609.2 395.6h3.2M1610.8 394v3.2M1630 395.6h3.2M1631.6 394v3.2M1432.4 407.2h3.2M1434 405.6v3.2M1453.2 407.2h3.2M1454.8 405.6v3.2M1474 407.2h3.2M1475.6 405.6v3.2M1494.8 407.2h3.2M1496.4 405.6v3.2M1515.6 407.2h3.2M1517.2 405.6v3.2M1536.4 407.2h3.2M1538 405.6v3.2M1557.2 407.2h3.2M1558.8 405.6v3.2M1578 407.2h3.2M1579.6 405.6v3.2M1598.8 407.2h3.2M1600.4 405.6v3.2M1619.6 407.2h3.2M1621.2 405.6v3.2M1442.8 418.8h3.2M1444.4 417.2v3.2M1463.6 418.8h3.2M1465.2 417.2v3.2M1484.4 418.8h3.2M1486 417.2v3.2M1505.2 418.8h3.2M1506.8 417.2v3.2M1526 418.8h3.2M1527.6 417.2v3.2M1546.8 418.8h3.2M1548.4 417.2v3.2M1567.6 418.8h3.2M1569.2 417.2v3.2M1588.4 418.8h3.2M1590 417.2v3.2M1609.2 418.8h3.2M1610.8 417.2v3.2M1453.2 430.4h3.2M1454.8 428.8v3.2M1474 430.4h3.2M1475.6 428.8v3.2M1494.8 430.4h3.2M1496.4 428.8v3.2M1515.6 430.4h3.2M1517.2 428.8v3.2M1536.4 430.4h3.2M1538 428.8v3.2M1557.2 430.4h3.2M1558.8 428.8v3.2M1578 430.4h3.2M1579.6 428.8v3.2M1598.8 430.4h3.2M1600.4 428.8v3.2M1463.6 442h3.2M1465.2 440.4v3.2M1484.4 442h3.2M1486 440.4v3.2M1505.2 442h3.2M1506.8 440.4v3.2M1526 442h3.2M1527.6 440.4v3.2M1546.8 442h3.2M1548.4 440.4v3.2M1567.6 442h3.2M1569.2 440.4v3.2M1588.4 442h3.2M1590 440.4v3.2M1609.2 442h3.2M1610.8 440.4v3.2M1474 453.6h3.2M1475.6 452v3.2M1494.8 453.6h3.2M1496.4 452v3.2M1515.6 453.6h3.2M1517.2 452v3.2M1536.4 453.6h3.2M1538 452v3.2M1557.2 453.6h3.2M1558.8 452v3.2M1578 453.6h3.2M1579.6 452v3.2M1598.8 453.6h3.2M1600.4 452v3.2M1505.2 465.2h3.2M1506.8 463.6v3.2M1526 465.2h3.2M1527.6 463.6v3.2M1546.8 465.2h3.2M1548.4 463.6v3.2M1567.6 465.2h3.2M1569.2 463.6v3.2M1588.4 465.2h3.2M1590 463.6v3.2M1557.2 476.8h3.2M1558.8 475.2v3.2M1578 476.8h3.2M1579.6 475.2v3.2" stroke="#a9a9a9" stroke-width="0.65"/>
<polygon class="f" points="1242.2,410 1240.4,413.2 1240.5,417.9 1234,417.2 1230,419.4 1225.5,418.1 1218.8,418.4 1220.3,413 1215.9,410 1221.4,407.3 1222,404 1226.2,403.1 1230,399 1233.3,404 1241.2,401.6 1238.6,407.3" fill="#f1ead0" opacity="0.8"/>
<polygon class="f" points="1277.4,396 1269.5,398.3 1269.4,401.4 1266.4,403.7 1262,404.2 1258.9,401.4 1252.3,403.1 1253.7,398.5 1247,396 1254.1,393.6 1251.1,388.1 1258.6,390 1262,386.2 1266.3,388.4 1271.8,388.8 1272.4,392.9" fill="#f1ead0" opacity="0.8"/>
<polygon class="f" points="1308.1,408 1301.2,412.7 1301.4,419.6 1290.4,416 1286,422.6 1280.8,417.3 1272.5,418.1 1275.1,411.4 1269.5,408 1273.4,404.1 1274.2,399.2 1280.8,398.5 1286,396.6 1290.4,400 1300.4,397.2 1298.5,404.1" fill="#f1ead0" opacity="0.8"/>
<polygon class="f" points="1314.8,390 1311.2,393 1309.2,395.8 1306,397.7 1302,398.2 1298.4,396.9 1295.1,395.5 1293.1,392.9 1291.9,390 1293.3,387.1 1292.9,382.7 1298.3,382.9 1302,380.8 1305.8,382.6 1312,382 1308.8,387.8" fill="#f1ead0" opacity="0.8"/>
<polygon class="f" points="1289.6,428 1287.2,431.9 1287.3,437.5 1278.1,435.1 1274,441.5 1269.1,436.5 1264.5,434.8 1260.7,431.9 1259.2,428 1263.6,424.9 1262.7,419.9 1269.2,419.7 1274,418 1279,419.3 1287.2,418.6 1285.3,424.7" fill="#f1ead0" opacity="0.8"/>
<polygon class="f" points="1305.5,430 1298.5,432.6 1298.8,436.6 1294.2,437.5 1290,438.7 1285.6,438.1 1278.9,438.3 1282.2,432.4 1274.8,430 1280.3,427 1279.5,422.1 1285.3,421.4 1290,417.3 1293.8,423 1301.4,421.5 1300.8,426.7" fill="#f1ead0" opacity="0.8"/>
<path d="M1287.5 410.5l0.9 0.3l-0 0.7l-0.8 -0.2zM1278.5 429.8l1.3 0.6l-0.2 1l-1.2 -0.4zM1243.5 406.5l0.9 0.1l0.1 0.6l-0.8 -0zM1299.5 405.5l-1.1 0.2l-0.3 -0.8l1 -0.1zM1279.3 418.6l-1.5 0.8l-0.9 -0.9l1.3 -0.5zM1260.4 417.7l-0.5 0.6l-0.5 -0.3l0.5 -0.4zM1298.9 396.4l1.2 0.9l-0.4 1l-1.1 -0.5zM1262.6 403.5l0.4 1l-0.7 0.5l-0.3 -0.6zM1241.9 392l-1.4 1.1l-1 -0.8l1.2 -0.6zM1267.4 417.4l1.4 0.4l-0 1l-1.2 -0.2zM1291.9 430.8l0.3 0.8l-0.5 0.4l-0.2 -0.5zM1312.9 401.7l-1 0.7l-0.7 -0.5l0.9 -0.4zM1230.8 415.8l-0.9 0l-0.2 -0.6l0.8 -0zM1287.5 416l0.1 1.6l-1.1 0.4l-0.1 -1zM1231.9 410.2l-0.6 1.3l-1 -0.1l0.5 -0.8zM1286.1 411.5l-1.5 0.1l-0.4 -1l1.3 -0.1zM1276.7 399l1.1 0l0.2 0.8l-1 -0zM1258.4 416.3l-0.8 0.4l-0.4 -0.5l0.7 -0.2zM1307.7 414.6l0.9 1.3l-0.7 0.9l-0.8 -0.8zM1287.9 422.6l0.5 1.5l-1 0.7l-0.4 -0.9zM1232.4 407.1l1.1 0.5l-0.1 0.9l-1 -0.3zM1308.4 425.1l-0.4 1.4l-1.1 0l0.3 -0.8zM1295 426.9l0.3 0.8l-0.5 0.4l-0.3 -0.5zM1262.4 422.5l-0.8 0.6l-0.6 -0.4l0.7 -0.4zM1270.3 389.8l1.1 1.2l-0.6 1l-1 -0.7zM1287.1 428l0.6 1.5l-0.9 0.7l-0.5 -0.9zM1280.3 418.8l-0.9 0.7l-0.7 -0.4l0.8 -0.4zM1295.4 413.8l-1.2 0.3l-0.4 -0.8l1.1 -0.2zM1271.3 417.7l0.1 1.1l-0.7 0.3l-0.1 -0.6zM1274.3 410l-1 0.3l-0.4 -0.7l0.9 -0.2zM1245.3 404.4l-1.2 0.6l-0.7 -0.7l1.1 -0.4zM1251.7 407.1l0.4 0.9l-0.5 0.4l-0.3 -0.5zM1223.1 404.4l0.9 1.3l-0.8 0.9l-0.8 -0.8zM1242.2 420.4l-1 0.6l-0.6 -0.6l0.9 -0.4zM1275.8 430.3l0.8 1.2l-0.7 0.8l-0.7 -0.7zM1313.2 408.1l-1.3 0l-0.3 -0.9l1.1 -0zM1279 412.4l-0.1 1.2l-0.8 0.1l0.1 -0.7zM1261.2 412.7l0.1 1.2l-0.8 0.3l-0.1 -0.7zM1228 412.6l0.7 1.3l-0.8 0.8l-0.7 -0.8zM1280.6 413.9l-1.3 0.4l-0.5 -0.8l1.2 -0.2zM1261.4 422.7l-1.3 0.7l-0.7 -0.7l1.1 -0.4zM1315.2 414.3l-1.1 1.2l-1 -0.5l1 -0.7zM1315.2 400.4l-1 0.8l-0.8 -0.6l0.9 -0.5zM1258.5 412.1l1.5 0.6l-0.1 1.2l-1.4 -0.4zM1259 417l0.7 1l-0.6 0.7l-0.6 -0.6zM1269.3 422.7l0.7 0.6l-0.3 0.6l-0.7 -0.4zM1271.2 432.3l-0.7 0.5l-0.5 -0.4l0.6 -0.3zM1269.6 426.5l-0.7 0.5l-0.5 -0.4l0.6 -0.3zM1242.9 406.1l1.2 0.2l0.1 0.9l-1.1 -0.1zM1250.9 403.4l1.4 0.6l-0.1 1.1l-1.3 -0.3zM1262.6 392.4l-0.4 1.3l-1 -0l0.3 -0.8zM1276.5 399.3l-0.2 1.3l-1 0.1l0.2 -0.8zM1303.3 395.1l1.2 0.6l-0.2 1l-1.1 -0.4zM1307 407.1l1.5 0.7l-0.2 1.2l-1.3 -0.4zM1256.4 412l0.7 1.5l-0.9 0.8l-0.6 -0.9zM1233 422.6l-0.6 1.1l-0.9 -0.2l0.6 -0.7zM1280.6 415.5l-1 1.1l-1 -0.5l0.9 -0.6zM1248.5 403.1l-0.8 0.3l-0.3 -0.5l0.7 -0.2zM1259.5 403l-1.4 0.7l-0.8 -0.8l1.3 -0.4zM1264.7 416.3l1.1 0.2l0.1 0.8l-0.9 -0.1zM1262.1 428.1l1.1 0.6l-0.2 0.9l-1 -0.4zM1283.5 411.2l-1 1.3l-1.1 -0.4l0.9 -0.8zM1293.8 402.6l-1.3 0.3l-0.5 -0.9l1.2 -0.2zM1253.4 421.2l0.6 0.7l-0.4 0.6l-0.6 -0.4zM1315.2 411.4l-0.5 0.8l-0.6 -0.2l0.5 -0.5zM1265.1 405.2l0.6 1.1l-0.7 0.6l-0.5 -0.7zM1290.9 420.9l-0.7 1.2l-1 -0.2l0.6 -0.7zM1322.4 403.5l0.2 1.1l-0.7 0.4l-0.2 -0.7zM1233.5 401.2l-0.9 0.6l-0.6 -0.5l0.8 -0.4zM1301.6 405.6l-0.7 1.1l-0.9 -0.3l0.7 -0.7zM1279.5 395.2l0.6 0.5l-0.3 0.5l-0.5 -0.3zM1251.8 391.3l1.1 1.3l-0.7 1l-1 -0.8zM1257 412.1l-1.4 0.2l-0.4 -1l1.3 -0.1zM1302.9 421.5l-0.8 0.2l-0.3 -0.5l0.7 -0.1zM1262.3 392.5l0.1 1.2l-0.8 0.3l-0.1 -0.7zM1239.9 405.3l-1.1 0.9l-0.9 -0.6l1 -0.6zM1289.6 406.5l0.5 1.3l-0.8 0.6l-0.5 -0.8zM1283.9 406.4l0.1 1.4l-1 0.3l-0.1 -0.9zM1264.1 423.5l0.6 1.4l-0.9 0.7l-0.5 -0.9zM1279.6 407.8l-0.2 0.9l-0.6 0.1l0.1 -0.5zM1282.3 412.3l1 1.3l-0.7 0.9l-0.9 -0.8zM1308.9 425l0.7 0.4l-0.1 0.6l-0.6 -0.2zM1226.1 419.9l0.1 1l-0.7 0.3l-0.1 -0.6zM1265.7 400.9l-0.9 1.3l-1.1 -0.4l0.8 -0.8zM1299.4 392.1l1 0.2l0.1 0.7l-0.9 -0.1zM1307.4 401.5l0.5 1.4l-0.9 0.6l-0.4 -0.8zM1264.8 407.6l-0.8 1.4l-1.1 -0.3l0.7 -0.8zM1251.4 402.6l0.3 0.7l-0.5 0.4l-0.3 -0.4zM1309.8 399.5l1.2 0.9l-0.4 1l-1.1 -0.5zM1252.8 424.1l-0.7 0.3l-0.3 -0.5l0.7 -0.2zM1260.4 397.7l1.2 0.9l-0.4 1l-1 -0.5zM1268.7 414.7l-0.6 0.9l-0.7 -0.3l0.6 -0.5zM1273.5 417.6l-0.3 1.5l-1.1 0.1l0.3 -0.9zM1265.6 391.5l-0.8 0.8l-0.7 -0.4l0.7 -0.5zM1252.9 428.2l-0.3 1.2l-0.9 -0l0.3 -0.7zM1241.4 397.1l-0.2 1.2l-0.9 0.1l0.2 -0.7zM1313.3 419.7l-1.1 0.2l-0.3 -0.8l1 -0.1zM1268.5 399.5l-0.2 0.8l-0.6 0l0.2 -0.5zM1262.6 421.9l-0.9 1l-0.9 -0.5l0.9 -0.6zM1281.6 404.7l1 0.3l0 0.7l-0.9 -0.2zM1278.4 415.6l0.8 1l-0.5 0.8l-0.7 -0.6zM1298.9 427.5l0.4 1.6l-1 0.6l-0.4 -1zM1306 408.7l-0.7 0.4l-0.4 -0.4l0.6 -0.3zM1251.8 425.6l-0.8 1l-0.8 -0.4l0.7 -0.6zM1257.9 401.3l-0.3 0.7l-0.6 -0.1l0.3 -0.4zM1246.3 394.4l-1.2 0.6l-0.7 -0.7l1.1 -0.4zM1233.9 405.1l-0.7 0.5l-0.5 -0.4l0.6 -0.3zM1260.2 397.6l-0 1.5l-1 0.3l0 -0.9zM1284.3 413.6l0.1 1.5l-1.1 0.4l-0.1 -0.9zM1311.2 414.6l0.1 1.1l-0.7 0.3l-0 -0.6zM1258.8 415.8l-1.2 0.3l-0.4 -0.8l1.1 -0.2zM1275.8 390.6l-1 0.2l-0.3 -0.7l0.9 -0.1zM1297.8 401l-1.3 0l-0.3 -0.9l1.1 -0zM1275.2 428.6l-1 0.3l-0.4 -0.6l0.9 -0.2zM1272.3 430.2l0.5 0.6l-0.3 0.5l-0.5 -0.4zM1290.6 413.3l1.5 0.2l0.1 1.1l-1.4 -0.1zM1273.5 405l-1.1 0.3l-0.4 -0.7l1 -0.2zM1280.1 407l0.1 0.9l-0.6 0.3l-0.1 -0.6zM1272.2 419.4l-0.9 0.1l-0.2 -0.6l0.8 -0zM1276.7 395.7l-0.5 1.3l-1 -0.1l0.4 -0.8zM1322.9 411.3l-1.3 0.4l-0.5 -0.9l1.2 -0.2zM1256.4 421.8l-1.6 0.3l-0.5 -1.1l1.5 -0.2zM1241.9 425.3l1 1.2l-0.7 1l-0.9 -0.7zM1328.4 405.6l-0.9 1.2l-1 -0.4l0.8 -0.7zM1266 408l-1.3 0.4l-0.6 -0.9l1.2 -0.3zM1311.1 406.2l0.7 0.6l-0.3 0.6l-0.7 -0.4zM1305.3 408l1.5 0.2l0.2 1.1l-1.4 -0.1zM1246.1 418.5l-1.2 0.6l-0.7 -0.7l1.1 -0.4zM1285.9 416.1l-0 1l-0.7 0.2l0 -0.6zM1267.9 413.5l-0.1 1.7l-1.2 0.3l0.1 -1zM1298.6 395.7l-1.1 0.1l-0.3 -0.8l1 -0zM1236.4 398.6l-0.9 0.6l-0.6 -0.5l0.8 -0.4zM1312.9 400.7l1.4 1l-0.5 1.2l-1.2 -0.6zM1292.7 394.8l0.4 0.9l-0.6 0.4l-0.3 -0.6zM1240.8 423.6l0.6 1.2l-0.7 0.6l-0.5 -0.7zM1297.9 419.7l0.6 0.5l-0.2 0.5l-0.6 -0.3zM1240.6 397.2l0.2 1.5l-1 0.5l-0.2 -0.9zM1240.1 400.2l1.7 0.1l0.3 1.2l-1.6 -0.1zM1219.1 403.6l-1.5 0.4l-0.6 -1l1.3 -0.2zM1245.3 419.5l-0.6 0.8l-0.7 -0.2l0.5 -0.5zM1330.5 408.7l-1.5 0.7l-0.8 -0.9l1.4 -0.4zM1250 415.5l0.3 1.3l-0.8 0.5l-0.3 -0.8zM1274.8 409.9l-1.8 0l-0.4 -1.2l1.6 -0zM1264.7 391.2l-0.8 0.6l-0.6 -0.5l0.8 -0.3zM1256.4 406l-0.5 1l-0.8 -0.2l0.5 -0.6zM1267.7 410.6l-1.7 0.4l-0.6 -1.1l1.5 -0.2zM1240 396.9l0.6 0.7l-0.3 0.6l-0.6 -0.4zM1266.4 424.3l0.1 1.1l-0.7 0.3l-0.1 -0.7zM1311.5 405.6l-0.5 1.2l-1 -0.1l0.5 -0.7zM1266.2 392.3l-0.7 0.6l-0.5 -0.4l0.6 -0.3zM1244.7 410.6l1.7 0.1l0.3 1.2l-1.6 -0zM1303.7 409.1l-1.2 0.9l-0.8 -0.7l1.1 -0.5zM1239.6 422l0.8 0.5l-0.2 0.6l-0.7 -0.3zM1258.7 419.7l-1 0.7l-0.7 -0.6l0.9 -0.4zM1251.6 414.7l-1.6 0.4l-0.6 -1.1l1.5 -0.2zM1303.9 411.7l-1.5 0.3l-0.5 -1l1.3 -0.2zM1311 415.3l0.9 0.4l-0.1 0.7l-0.8 -0.2zM1298.3 396.4l1 0.2l0.1 0.7l-0.9 -0.1zM1320.2 404.7l0.1 0.8l-0.5 0.2l-0.1 -0.5zM1303.5 420.5l0 0.9l-0.7 0.2l-0 -0.6zM1256.5 414.4l0.2 1.1l-0.7 0.3l-0.2 -0.6zM1238.9 420.8l-0 1l-0.7 0.2l0 -0.6zM1297.4 425l-0.4 1.6l-1.2 0l0.4 -1zM1270.6 412.7l-0.5 0.7l-0.6 -0.2l0.4 -0.4zM1294.3 424.1l-1 0.1l-0.3 -0.6l0.9 -0.1zM1311.2 411.7l-0.4 0.7l-0.6 -0.1l0.3 -0.4zM1267.2 417.3l-1 0.9l-0.8 -0.5l0.9 -0.6zM1305.5 398.9l-0.9 0.2l-0.3 -0.6l0.8 -0.1zM1312.3 408.2l-0.8 1.2l-1 -0.3l0.7 -0.7zM1259 395.3l0.6 0.9l-0.5 0.6l-0.5 -0.6zM1267.7 404l0.4 1.6l-1.1 0.6l-0.4 -1zM1273.8 402.4l1.1 1.1l-0.5 1l-1 -0.7zM1240 419.4l-1.4 0.2l-0.4 -1l1.3 -0.1zM1313.5 409.6l0.6 0.7l-0.4 0.6l-0.5 -0.4zM1287.3 395.3l1 1.3l-0.7 0.9l-0.9 -0.8zM1302.4 392.9l-0.2 1.3l-0.9 0.1l0.2 -0.8zM1265.6 426.2l0.8 1.5l-0.9 0.9l-0.7 -0.9zM1303.2 425l1.3 0l0.2 0.9l-1.1 -0zM1329.3 412.1l0.4 1.4l-0.9 0.6l-0.4 -0.8zM1258.6 425l0.9 0.2l0 0.6l-0.8 -0.1zM1265.8 396.3l-1.3 1.1l-1 -0.7l1.1 -0.7zM1269.7 393.1l-1.2 0.2l-0.4 -0.8l1.1 -0.1zM1278.7 410.3l-0.5 1l-0.8 -0.1l0.4 -0.6zM1274.9 391.1l0.7 1.2l-0.7 0.7l-0.6 -0.7zM1271.6 416.7l-1.1 1.3l-1.2 -0.5l1 -0.8zM1282.2 408.6l0.5 1.7l-1.1 0.7l-0.5 -1zM1264.2 420.6l0.8 0.4l-0.1 0.7l-0.7 -0.2zM1317.6 407.2l0.5 1.2l-0.7 0.6l-0.5 -0.7zM1227.6 413.8l-0.5 0.9l-0.7 -0.2l0.4 -0.5zM1243.1 409.3l-1.1 0.4l-0.5 -0.7l1 -0.2zM1285.6 409.2l-0.4 1.1l-0.9 -0l0.3 -0.7zM1270.6 393.7l0.8 0.5l-0.2 0.7l-0.7 -0.3zM1263.6 410.2l-1.6 0.1l-0.4 -1.1l1.5 -0.1zM1259.4 406.7l-0.8 0.5l-0.5 -0.5l0.8 -0.3zM1290.1 427.5l0.9 1.2l-0.7 0.9l-0.8 -0.7zM1232.3 419.5l1.1 0.2l0 0.8l-1 -0.1zM1301.8 407.2l1.2 0.7l-0.2 1l-1.1 -0.4zM1287 428.3l1 0.2l0 0.8l-0.9 -0.1zM1257.7 421.4l-0.2 1.2l-0.9 0.1l0.2 -0.7zM1260.8 393.4l0.7 0.9l-0.5 0.7l-0.7 -0.5zM1241.3 421.8l0.7 1.3l-0.8 0.8l-0.6 -0.8zM1261 389.4l-0.8 0.2l-0.3 -0.5l0.7 -0.1zM1302.9 413.9l-0.9 1.4l-1.1 -0.3l0.8 -0.8zM1261 405l1.2 1l-0.5 1l-1 -0.6zM1238.2 400.2l-0.3 1l-0.7 0l0.2 -0.6zM1251.1 431l0 1.2l-0.8 0.2l-0 -0.7zM1273.3 393.3l1.2 0.3l0 0.9l-1.1 -0.2zM1280.6 425.1l-0.7 0.8l-0.7 -0.3l0.6 -0.5zM1319.9 408.4l-0.5 1.5l-1.1 -0.1l0.5 -0.9zM1241.8 406.3l1.3 0.2l0.1 1l-1.2 -0.1zM1270.6 401.3l-1.3 0.9l-0.9 -0.7l1.2 -0.6zM1259.6 412.8l0.9 0.9l-0.4 0.8l-0.8 -0.5zM1223.9 417.8l-1.2 0.6l-0.6 -0.7l1.1 -0.3zM1312.4 408.3l-0.7 0.8l-0.7 -0.3l0.6 -0.5zM1286.4 405l-0.3 0.8l-0.6 -0.1l0.3 -0.5zM1261.1 431l1 1.1l-0.6 0.9l-0.9 -0.6zM1238.1 410.9l-0.8 0.3l-0.4 -0.5l0.8 -0.2zM1298.5 405.1l1.4 0.9l-0.3 1.2l-1.3 -0.5zM1302.9 395.5l1.3 0.1l0.2 0.9l-1.2 -0zM1306.2 423.5l0.5 0.8l-0.4 0.5l-0.4 -0.5zM1240.8 403.7l-1.5 0.7l-0.8 -0.9l1.4 -0.4zM1280.1 392.7l-1.1 0.3l-0.5 -0.7l1 -0.2zM1262 420.7l1.4 0.9l-0.4 1.1l-1.2 -0.5zM1275.2 416.6l-1.6 0.3l-0.5 -1.1l1.5 -0.2zM1241.7 392.8l1.2 0.6l-0.2 1l-1.1 -0.3zM1308.8 398.3l-0.5 0.7l-0.6 -0.2l0.5 -0.4zM1274 410.2l-0.8 1l-0.9 -0.4l0.8 -0.6zM1276.6 409.4l-1.1 0.7l-0.8 -0.7l1 -0.4zM1313.2 397.6l-0.8 1.4l-1.2 -0.3l0.8 -0.8zM1256.7 402.8l0 1.3l-0.9 0.3l-0 -0.8zM1274.7 420.4l0.6 1.2l-0.7 0.7l-0.6 -0.7zM1262.4 426.3l0.5 1.6l-1 0.7l-0.5 -1zM1283.6 398.6l-0.6 1.4l-1.1 -0.1l0.5 -0.8zM1289.8 408.8l-0.8 1.4l-1.1 -0.3l0.7 -0.8zM1280.4 426.6l-0 1.4l-1 0.3l0 -0.8zM1269.5 426.6l-1.4 0.9l-0.9 -0.8l1.2 -0.6zM1302.1 426.9l0.9 0.5l-0.1 0.7l-0.8 -0.3zM1290.2 419.8l0.4 0.7l-0.4 0.4l-0.4 -0.4zM1254.8 405.8l-0.9 0.1l-0.3 -0.6l0.8 -0.1zM1265.5 407.8l-0 1.4l-1 0.3l0 -0.8zM1297 422.5l0.9 0.8l-0.4 0.8l-0.8 -0.5zM1266.6 415.2l-1 1.4l-1.2 -0.4l0.9 -0.8zM1269.1 413.9l-0.2 1.4l-1 0.1l0.2 -0.8zM1253.8 403.3l-0.3 1l-0.8 -0l0.3 -0.6zM1288.4 404.2l-0.8 1.4l-1.1 -0.3l0.7 -0.8zM1266.2 412.1l-1.2 0.7l-0.8 -0.7l1.1 -0.4zM1315.5 406.4l1.3 0.5l-0.1 1l-1.1 -0.3zM1286.7 407.5l0.7 0.6l-0.3 0.6l-0.6 -0.4zM1277.5 407.5l-0.5 1.5l-1.1 -0.1l0.5 -0.9zM1277 401.3l1.3 0.2l0.1 1l-1.2 -0.1zM1307.8 399.4l1.3 0.6l-0.1 1.1l-1.2 -0.3zM1272.4 399.4l-1.2 1.3l-1.1 -0.5l1 -0.8zM1245 416.8l0.6 1.1l-0.7 0.7l-0.6 -0.7zM1298.4 404.8l-1.4 0.7l-0.7 -0.8l1.2 -0.4zM1287 396l-0.2 0.9l-0.7 0l0.2 -0.6zM1308.6 404.5l0 0.8l-0.5 0.2l-0 -0.5zM1277.6 420.4l-0.9 0.3l-0.4 -0.5l0.8 -0.2zM1251.2 416l0.3 1.3l-0.8 0.5l-0.3 -0.8zM1298.4 407.5l0.6 0.7l-0.4 0.5l-0.5 -0.4zM1274.4 396.1l-0.5 0.8l-0.6 -0.2l0.4 -0.5z" style="fill:#d6c16a;fill-opacity:0.55" stroke="#d6c16a" stroke-width="0.42" stroke-linejoin="round"/>
<path d="M1321.9 409.7l-0.8 1l-0.8 -0.4l0.7 -0.6zM1331.4 413.1l-1.6 0.6l-0.8 -1l1.4 -0.4zM1309.6 406.2l-0.5 0.6l-0.5 -0.2l0.5 -0.4zM1330.2 393.7l0.8 0.3l-0.1 0.6l-0.7 -0.2zM1318.6 405.4l0.8 0.1l0.1 0.6l-0.7 -0.1zM1303.1 411.5l-0.8 0.5l-0.5 -0.4l0.7 -0.3zM1308.1 392.2l1 0.9l-0.4 0.9l-0.9 -0.5zM1302.8 413.8l1.2 0.3l0.1 0.9l-1 -0.2zM1279.1 408.5l0.8 0.2l0.1 0.6l-0.8 -0.1zM1307.1 403.6l1 0.1l0.1 0.7l-0.9 -0.1zM1346.9 406.8l-1.2 0.2l-0.4 -0.8l1.1 -0.1zM1327.7 395.7l0.4 0.9l-0.6 0.4l-0.3 -0.6zM1307.5 399.3l-1.2 0.7l-0.7 -0.7l1 -0.4zM1303.9 402.3l-0.8 0.1l-0.2 -0.5l0.7 -0.1zM1278.1 396.8l-1.7 0.4l-0.6 -1.1l1.5 -0.2zM1302.6 407l1.1 0.3l0 0.8l-1 -0.2zM1302.6 387.2l0.1 1.3l-0.9 0.3l-0.1 -0.8zM1328.4 401.3l1.4 0.9l-0.4 1.2l-1.3 -0.6zM1345.6 406.4l0.6 1.4l-0.9 0.7l-0.5 -0.8zM1325.5 412.8l0.2 1l-0.7 0.3l-0.2 -0.6zM1282.5 411.7l-0.2 1l-0.7 0.1l0.1 -0.6zM1316.3 409l-1.6 0.7l-0.8 -1l1.4 -0.4zM1310.1 401.6l1.2 0.3l0.1 0.9l-1.1 -0.2zM1326.3 421.1l-0.7 0.8l-0.7 -0.3l0.6 -0.5zM1295 405.7l1.1 0.1l0.2 0.8l-1 -0zM1282.6 405.1l-1.4 0.4l-0.5 -0.9l1.3 -0.2zM1292.9 414.1l0.6 0.7l-0.4 0.5l-0.5 -0.4zM1313.2 412.3l-0.9 0.5l-0.5 -0.5l0.8 -0.3zM1293.2 420.7l-0.2 0.9l-0.7 0l0.2 -0.5zM1288.4 408l0.3 1.5l-1 0.5l-0.2 -0.9zM1308.9 425.7l1.5 0l0.3 1l-1.3 -0zM1298.2 407.8l-0.8 0.1l-0.3 -0.6l0.8 -0.1zM1318.3 394.9l1 1.4l-0.8 1l-0.9 -0.8zM1287 404.5l0 1.7l-1.1 0.4l-0 -1zM1281.4 416.9l0.8 1.5l-0.9 0.8l-0.7 -0.9zM1325.6 412.3l-0.6 1.4l-1.1 -0.1l0.5 -0.8zM1286.8 398.9l0.8 1l-0.5 0.8l-0.8 -0.6zM1336.6 411.5l-0.6 1.3l-1 -0.1l0.5 -0.8zM1295.3 392.8l0.6 1.2l-0.7 0.7l-0.6 -0.7zM1287.8 413.4l1.7 0.4l0 1.2l-1.5 -0.2zM1326.9 393.3l0.7 0.4l-0.1 0.6l-0.7 -0.2zM1334.4 405.8l-0.2 1.2l-0.9 0.1l0.2 -0.7zM1323.6 405.6l-1.3 0.2l-0.4 -0.9l1.2 -0.1zM1335.4 416.2l-0.6 0.6l-0.6 -0.3l0.6 -0.4zM1320.3 398.3l0.6 1.3l-0.8 0.7l-0.6 -0.8zM1303.1 408.2l1.4 0.6l-0.1 1.1l-1.3 -0.3zM1316.7 415.9l1.1 1l-0.5 1l-1 -0.6zM1302.4 404.4l1 0.7l-0.3 0.8l-0.9 -0.4zM1325.9 407.4l-0 1.2l-0.8 0.2l0 -0.7zM1339.5 411.9l-1.1 0.6l-0.6 -0.6l0.9 -0.4zM1347.3 399.6l-1.2 1.2l-1.1 -0.6l1.1 -0.7zM1305.1 411.1l0.4 0.9l-0.6 0.5l-0.4 -0.6zM1314.3 407.4l0.7 0.4l-0.1 0.6l-0.7 -0.2zM1283.9 415l0.4 0.7l-0.4 0.4l-0.3 -0.4zM1334.6 406.4l0.6 0.6l-0.3 0.5l-0.5 -0.4zM1319.4 409l0.6 1.3l-0.8 0.6l-0.5 -0.8zM1310.7 407.4l-1 1.4l-1.2 -0.5l0.9 -0.8zM1294.7 409.7l-1.2 0.2l-0.4 -0.8l1 -0.1zM1319.6 420.5l1.4 0.2l0.1 1l-1.2 -0.1zM1325.1 417l1.2 1l-0.4 1l-1.1 -0.6zM1325.7 419.9l-0.3 0.8l-0.6 -0l0.2 -0.5zM1314.1 402.5l1.5 0l0.3 1l-1.3 -0zM1276.7 409l-0.3 0.7l-0.6 -0.1l0.3 -0.4zM1288.5 403.5l-0.2 1.2l-0.9 0.1l0.2 -0.7zM1279 401l1.1 1.1l-0.5 1l-1 -0.6zM1298 409.3l1.2 0.4l-0 0.9l-1 -0.2zM1304.1 416.9l-0.2 0.8l-0.6 0.1l0.1 -0.5zM1335.3 396.8l1 0.6l-0.2 0.8l-0.9 -0.4zM1299 400.6l1.1 0.7l-0.2 0.9l-1 -0.4zM1316.4 422.4l0.9 1.2l-0.6 0.9l-0.8 -0.7zM1299.1 388.1l0.6 0.6l-0.3 0.6l-0.6 -0.4zM1325.7 420.4l0.3 0.9l-0.6 0.4l-0.2 -0.6zM1308.1 403.7l-1.6 0.3l-0.5 -1.1l1.5 -0.2zM1293.2 405.2l0.9 1l-0.5 0.8l-0.8 -0.6zM1303.8 416l-0.8 1.5l-1.2 -0.2l0.7 -0.9zM1282.3 405.9l1 0.3l-0 0.8l-0.9 -0.2zM1306.9 409l-1.1 0.3l-0.4 -0.7l1 -0.2zM1281.1 409.6l-1.5 0.5l-0.6 -1l1.4 -0.3zM1317.4 393.4l0.2 1.7l-1.1 0.5l-0.2 -1zM1312.9 390.8l1.3 0.6l-0.2 1l-1.1 -0.4zM1288.8 411l1.1 0.3l0 0.8l-0.9 -0.2zM1290.4 417l-0.7 1l-0.8 -0.3l0.6 -0.6zM1315.1 402.3l0.8 0.5l-0.2 0.7l-0.7 -0.3zM1306.9 411.2l-0.4 1.1l-0.9 -0.1l0.4 -0.7zM1341.3 399.2l0.2 1.4l-0.9 0.4l-0.2 -0.8zM1278.8 395.3l-1.2 1.1l-1 -0.6l1.1 -0.6zM1342.2 405.5l-0.2 1.7l-1.2 0.2l0.2 -1zM1291.1 415.2l0.6 1.2l-0.7 0.6l-0.5 -0.7zM1296.5 393.6l1.3 0l0.2 0.9l-1.2 -0zM1306.7 406.9l-0.8 0.6l-0.6 -0.4l0.7 -0.4zM1306.6 398l1.2 0.2l0.1 0.9l-1.1 -0.1zM1277.6 403.7l0.5 1.2l-0.7 0.6l-0.5 -0.7zM1337 400.5l1.3 0.9l-0.4 1.1l-1.1 -0.6zM1326.8 415.8l-0.4 1.2l-0.9 -0l0.4 -0.7zM1307.2 402.2l-1 0.3l-0.4 -0.6l0.9 -0.2zM1287.5 395.8l-0.6 0.6l-0.5 -0.3l0.6 -0.3zM1327.6 393.7l0.9 1.4l-0.8 0.9l-0.8 -0.8zM1277.6 406.5l-0.3 1.5l-1.1 0.1l0.3 -0.9zM1328.4 400.3l-0 1.1l-0.8 0.2l0 -0.6zM1286.3 418.4l1.3 0.3l0.1 1l-1.2 -0.2zM1314.7 410.5l-1.5 0.5l-0.7 -0.9l1.3 -0.3zM1325.5 396.2l-1 0.7l-0.7 -0.6l0.9 -0.4zM1314.9 403.4l0.7 1.2l-0.7 0.7l-0.7 -0.7zM1297.8 390l-0.9 0.2l-0.3 -0.6l0.8 -0.1zM1336.3 410.9l-0.6 0.9l-0.7 -0.2l0.5 -0.5zM1302.6 408.2l0.8 0.4l-0.1 0.6l-0.7 -0.2zM1308.2 417.7l0.7 0.7l-0.4 0.7l-0.7 -0.4zM1309.9 393.2l1.3 1.2l-0.6 1.1l-1.1 -0.7zM1306 400.9l1.1 0.6l-0.2 0.9l-1 -0.4zM1301.6 418.5l1.6 0.1l0.3 1.2l-1.5 -0.1zM1289.6 412.8l-1.2 0.4l-0.5 -0.8l1.1 -0.2zM1314.8 410.6l-0.2 0.8l-0.6 -0l0.2 -0.5zM1291.4 391l-1.1 0.4l-0.5 -0.7l1 -0.2zM1335.5 401.1l-1 0.3l-0.4 -0.7l0.9 -0.2zM1300.8 399.2l-0.7 1.4l-1.1 -0.2l0.6 -0.8zM1315.5 398.9l0.5 1.4l-0.9 0.6l-0.5 -0.8zM1283.4 415.7l0.8 0.8l-0.4 0.7l-0.7 -0.5zM1298.5 413.7l0.3 1.5l-1 0.5l-0.3 -0.9zM1333.4 406.8l-0.9 0.4l-0.4 -0.6l0.8 -0.2zM1318.8 394.2l0.7 1.2l-0.7 0.7l-0.6 -0.7z" style="fill:#d6c16a;fill-opacity:0.55" stroke="#d6c16a" stroke-width="0.42" stroke-linejoin="round"/>
<polygon class="f" points="1523,542 1518.4,545.6 1519.8,551.9 1511.5,549 1508,551.7 1503.5,551.1 1498.7,549.7 1498.9,545.2 1492.1,542 1499.6,539.1 1496.4,532.3 1504,534 1508,532.3 1512.7,532.6 1518.3,533.4 1516,539.2" fill="#f1ead0" opacity="0.85"/>
<polygon class="f" points="1537.9,536 1534.2,538.5 1536.4,543.8 1529.5,542.3 1526,545 1522.1,543.1 1516.4,543.2 1517.5,538.6 1512.5,536 1515,532.6 1517.5,529.6 1522.5,529.7 1526,527.5 1529.6,529.5 1534.3,529.8 1537.6,532.4" fill="#f1ead0" opacity="0.85"/>
<polygon class="f" points="1528,552 1523.5,554.5 1525.5,559.6 1519,557.9 1516,561.4 1512.9,558 1508,558.4 1506.4,555.2 1506.1,552 1508.1,549.4 1508.6,546.1 1512.9,546 1516,540.7 1519.1,546 1524.7,545.1 1523.8,549.4" fill="#f1ead0" opacity="0.85"/>
<path d="M1503.5 554.1l-1.3 0.5l-0.6 -0.8l1.2 -0.3zM1527.1 556.7l-1.3 0.1l-0.3 -0.9l1.1 -0.1zM1504.9 559.1l0.6 0.9l-0.5 0.6l-0.5 -0.5zM1516.1 562.1l-1.1 0.6l-0.6 -0.6l1 -0.3zM1534.7 554.9l-0.8 0.1l-0.2 -0.6l0.7 -0zM1517.9 572.8l0.5 0.8l-0.4 0.5l-0.4 -0.5zM1520.4 574l0.3 1l-0.6 0.4l-0.3 -0.6zM1522 569.1l-0.3 1.5l-1.1 0.1l0.3 -0.9zM1524.4 567.5l0.5 0.6l-0.3 0.5l-0.5 -0.4zM1522.5 571.1l0.5 1.1l-0.7 0.6l-0.5 -0.7zM1502.6 557.2l0.5 1.2l-0.7 0.6l-0.4 -0.7zM1521.2 556.2l0.2 1.3l-0.9 0.4l-0.2 -0.8zM1511.3 582l-0.4 1.2l-0.9 -0.1l0.4 -0.7zM1525.1 563.3l0.3 1.2l-0.8 0.4l-0.3 -0.7zM1509.1 561.4l1.2 0.1l0.2 0.9l-1.1 -0zM1505.4 574.1l-0.6 0.8l-0.6 -0.3l0.5 -0.5zM1512.2 552.8l-1.5 0.9l-0.9 -0.9l1.3 -0.5zM1500 572.3l-0.4 1.5l-1.1 0l0.4 -0.9zM1499.3 560.2l1 0.3l-0 0.7l-0.9 -0.2zM1517.9 579l-0.9 0.1l-0.3 -0.6l0.9 -0.1zM1540.5 573l-0.9 1.5l-1.2 -0.4l0.8 -0.9zM1540.6 563.2l1.4 0.7l-0.2 1.1l-1.3 -0.4zM1522.3 562.7l0.9 0.3l-0.1 0.7l-0.8 -0.2zM1506.2 580.8l-1.2 1.2l-1.1 -0.6l1.1 -0.7zM1520.8 559.9l0.7 1.2l-0.7 0.7l-0.6 -0.7zM1527.5 571.7l1 0.7l-0.3 0.8l-0.9 -0.4zM1526.5 566.3l1.1 0.5l-0.1 0.9l-1 -0.3zM1524.7 544.1l1 0.1l0.1 0.7l-0.9 -0zM1529.7 567.9l-0.9 0.5l-0.6 -0.5l0.8 -0.3zM1533.1 562.8l1.1 1l-0.4 1l-1 -0.6zM1528.1 564.2l-0.9 0.1l-0.2 -0.6l0.8 -0zM1507.5 540.1l0.6 0.6l-0.3 0.5l-0.5 -0.3zM1524.5 545.8l1.6 0.4l0 1.2l-1.4 -0.2zM1514.7 554.5l-1 0.7l-0.7 -0.6l0.9 -0.4zM1515.7 583.8l-0.5 0.9l-0.7 -0.2l0.5 -0.5zM1538 555.3l-0.6 0.6l-0.5 -0.3l0.6 -0.3zM1524.1 569.9l0.1 1.1l-0.8 0.3l-0.1 -0.7zM1526.4 574.2l-0.1 0.9l-0.6 0.1l0.1 -0.5zM1537.6 549.7l-1.6 0l-0.4 -1.1l1.5 -0zM1531.7 551.2l-1.6 0l-0.3 -1.1l1.4 -0zM1506.2 562.7l0.8 1l-0.5 0.8l-0.7 -0.6zM1501.4 567.9l-1 0.5l-0.5 -0.6l0.9 -0.3zM1512.7 586.4l1.3 0.9l-0.4 1.1l-1.2 -0.5zM1502.8 569.3l-1.6 0.3l-0.6 -1.1l1.4 -0.2zM1516.9 567.5l0.8 1l-0.5 0.8l-0.8 -0.6zM1527.9 542.3l-0.5 1l-0.8 -0.2l0.4 -0.6zM1514.5 572.8l1.7 0.2l0.2 1.2l-1.5 -0.1zM1519.2 557.5l0.3 1.6l-1.1 0.6l-0.3 -1zM1509.1 561.1l0.8 0l0.1 0.6l-0.7 -0zM1501.7 555.8l1.7 0.4l0 1.3l-1.5 -0.3zM1510.6 568.4l1.4 0.6l-0.1 1.1l-1.2 -0.4zM1528.3 581.3l0.6 0.9l-0.5 0.6l-0.5 -0.5zM1510.5 556.1l-0.3 1.3l-0.9 0l0.3 -0.8zM1510.3 584.6l1 0.6l-0.2 0.8l-0.9 -0.4zM1513.4 553.2l-0.4 0.9l-0.7 -0.1l0.4 -0.5zM1520.1 560.4l-0.7 0.8l-0.7 -0.3l0.6 -0.5zM1531.5 559.3l1.5 0.9l-0.3 1.2l-1.3 -0.5zM1517.4 556.6l-1.2 1.1l-1 -0.6l1.1 -0.7zM1507.4 557.2l-0.9 1.1l-0.9 -0.4l0.8 -0.6zM1519.4 534.2l0.6 1.4l-0.9 0.7l-0.5 -0.8zM1524.3 547l-1.6 0.5l-0.6 -1l1.4 -0.3zM1515.2 545.3l0.7 1.5l-0.9 0.8l-0.6 -0.9zM1525.1 581.4l0.9 0.3l-0 0.7l-0.8 -0.2zM1502.7 553.9l0.6 0.5l-0.2 0.6l-0.6 -0.3zM1502.2 555.3l0.4 1l-0.6 0.5l-0.4 -0.6zM1519.5 561.9l1.2 0.8l-0.3 1l-1 -0.5zM1520.9 587.1l-1 1.2l-1 -0.4l0.9 -0.7zM1526.5 547.3l0.4 1.1l-0.7 0.5l-0.4 -0.7zM1519.5 575l0.4 0.8l-0.4 0.5l-0.4 -0.5zM1521.3 564.4l-0.1 0.8l-0.6 0.1l0.1 -0.5zM1527.4 579.1l-0.9 0.7l-0.7 -0.5l0.8 -0.4zM1515.3 562.3l-1 1.2l-1 -0.5l0.9 -0.7zM1533 560.8l-1.5 0.7l-0.8 -0.9l1.4 -0.4zM1527.7 551.9l0.5 0.7l-0.4 0.5l-0.5 -0.4zM1514.7 569.6l1.1 0.2l0.1 0.8l-1 -0.1zM1525.8 536.7l0.7 0.5l-0.3 0.6l-0.6 -0.3zM1528.8 580.8l-1 1l-0.9 -0.5l0.9 -0.6zM1530.3 550l-1.4 0.9l-0.9 -0.8l1.2 -0.5zM1505.8 542.6l0.2 0.9l-0.6 0.3l-0.2 -0.6zM1535.2 551.8l-1.2 0.3l-0.5 -0.7l1 -0.2zM1532.4 547.3l0.3 1.5l-1 0.5l-0.3 -0.9zM1512.3 584.9l-1 1.3l-1.1 -0.4l0.9 -0.8zM1527.8 553.2l0.2 0.9l-0.6 0.3l-0.2 -0.5zM1527.9 561.5l-1 0l-0.2 -0.7l0.9 -0zM1521.4 553.6l1.2 0.1l0.2 0.9l-1.1 -0.1zM1523.7 545.9l-1 0.7l-0.7 -0.6l0.9 -0.4zM1519 553.1l-1.2 0l-0.3 -0.8l1.1 -0zM1520.4 561.8l-0.1 1.6l-1.2 0.2l0.1 -1zM1538.8 548.7l-0.6 0.5l-0.5 -0.3l0.6 -0.3zM1501.9 566.7l0.6 1.4l-0.8 0.7l-0.5 -0.8zM1506.7 562.3l-0.3 1.2l-0.9 0l0.3 -0.7zM1512.1 536.5l0.5 1.4l-0.9 0.6l-0.5 -0.8zM1508.4 557.4l0.7 1.5l-0.9 0.8l-0.6 -0.9zM1524.8 562.4l0.6 1.5l-0.9 0.7l-0.5 -0.9zM1528.4 555.1l-1.6 0.3l-0.5 -1l1.4 -0.2zM1523.5 565.3l0.8 0.3l-0 0.6l-0.8 -0.2zM1514.9 575.3l-0.7 0.6l-0.5 -0.4l0.7 -0.3zM1500.8 547l-0.6 0.7l-0.6 -0.3l0.6 -0.4zM1521.6 546.5l-1 1l-0.9 -0.5l0.9 -0.6zM1520.6 537.5l0.8 1.5l-0.9 0.8l-0.7 -0.9zM1524.6 538.8l-1.1 0.9l-0.8 -0.6l0.9 -0.5zM1502.8 572.5l1.5 0.7l-0.2 1.2l-1.4 -0.4zM1504.1 549.9l0.4 1l-0.6 0.5l-0.4 -0.6zM1510.8 572l0.7 0.7l-0.4 0.6l-0.6 -0.4zM1501.1 566.8l-0.4 1.5l-1.1 0l0.4 -0.9zM1534.3 580.3l-0.9 0.5l-0.5 -0.5l0.8 -0.3zM1507.6 577.2l0.6 0.9l-0.5 0.6l-0.6 -0.5zM1506.2 554.3l0.8 0l0.2 0.6l-0.8 -0zM1522.8 553.5l-0.7 1.6l-1.2 -0.2l0.6 -0.9zM1523.5 556.8l-0.7 0.3l-0.4 -0.4l0.7 -0.2zM1521.5 581.7l0.2 1.2l-0.8 0.4l-0.2 -0.7zM1525.4 552.2l1.1 1.4l-0.7 1l-1 -0.8zM1510.3 537.2l-0.9 0.1l-0.2 -0.6l0.8 -0.1zM1538.5 567.6l-0.5 1.4l-1.1 -0.1l0.4 -0.8zM1530 561.1l0.1 1l-0.6 0.3l-0.1 -0.6zM1512.9 565.6l1.5 0.2l0.2 1.1l-1.4 -0.1zM1517.2 534.1l-1 1.4l-1.2 -0.4l0.9 -0.8zM1519.4 550l0.5 0.9l-0.5 0.5l-0.5 -0.5zM1519 565.2l1 0.1l0.2 0.7l-0.9 -0zM1518.3 537.4l1.6 0.2l0.2 1.2l-1.5 -0.1z" style="fill:#d6c16a;fill-opacity:0.55" stroke="#d6c16a" stroke-width="0.42" stroke-linejoin="round"/>
<path d="M1254 384 C1290 366 1350 386 1358 410 C1364 430 1350 446 1314 456 " stroke="#b5b5b5" stroke-width="0.6"/>
<path d="M1262 382 C1294 370 1342 388 1350 410 C1356 430 1342 444 1310 452 " stroke="#c8c8c8" stroke-width="0.5"/>
<path d="M1278 453 C1330 458 1370 462 1430 494 C1462 512 1470 546 1490 572 " stroke="#b5b5b5" stroke-width="0.6"/>
<path d="M1370 340 C1386 360 1384 390 1388 420 C1396 450 1434 446 1490 454 C1530 460 1570 474 1606 486 " stroke="#b5b5b5" stroke-width="0.6"/>
<path d="M1362 336 C1380 360 1382 390 1385 422 C1390 454 1430 450 1486 459 C1526 466 1566 480 1598 494 " stroke="#c8c8c8" stroke-width="0.5"/>
<path d="M1436 420 C1446 438 1454 446 1470 446 C1510 450 1550 460 1606 470 " stroke="#b5b5b5" stroke-width="0.6"/>
<path d="M1490 572 C1478 558 1482 542 1498 528 C1510 518 1526 514 1536 516 " stroke="#b5b5b5" stroke-width="0.6"/>
<path d="M1488 568 C1474 556 1480 540 1496 526 " stroke="#c8c8c8" stroke-width="0.5"/>
<polyline points="1595,169 1621,224 1723.1,269.5" stroke="#6e6e6e" stroke-width="0.7" />
<polyline points="1620.4,228.4 1720.7,273.1" stroke="#a4a4a4" stroke-width="0.6" />
<polyline points="1624,178 1643,216 1729.9,259" stroke="#6e6e6e" stroke-width="0.7" />
<polyline points="1642.4,220.4 1727.5,262.6" stroke="#a4a4a4" stroke-width="0.6" />
<polyline points="1651,185 1682,216 1736.9,248.2" stroke="#6e6e6e" stroke-width="0.7" />
<polyline points="1681.4,220.4 1734.5,251.8" stroke="#a4a4a4" stroke-width="0.6" />
<polyline points="1674,183 1722,216 1744.9,235.8" stroke="#6e6e6e" stroke-width="0.7" />
<polyline points="1721.4,220.4 1742.5,239.4" stroke="#a4a4a4" stroke-width="0.6" />
<polyline points="1701,179 1748,216 1753,223.2" stroke="#6e6e6e" stroke-width="0.7" />
<polyline points="1747.4,220.4 1750.6,226.8" stroke="#a4a4a4" stroke-width="0.6" />
<polyline points="1588,200 1600,230 1715.3,281.6" stroke="#6e6e6e" stroke-width="0.7" />
<polyline points="1599.4,234.4 1712.9,285.2" stroke="#a4a4a4" stroke-width="0.6" />
<polyline points="1582,210 1593,244 1708.7,291.9" stroke="#6e6e6e" stroke-width="0.7" />
<polyline points="1592.4,248.4 1706.3,295.5" stroke="#a4a4a4" stroke-width="0.6" />
<polyline points="1574,218 1584,256 1700.9,304" stroke="#6e6e6e" stroke-width="0.7" />
<polyline points="1583.4,260.4 1698.5,307.6" stroke="#a4a4a4" stroke-width="0.6" />
<polyline points="1566,226 1581,270 1693.1,316.1" stroke="#6e6e6e" stroke-width="0.7" />
<polyline points="1580.4,274.4 1690.7,319.7" stroke="#a4a4a4" stroke-width="0.6" />
<polyline points="1558,234 1576,284 1685.2,328.2" stroke="#6e6e6e" stroke-width="0.7" />
<polyline points="1575.4,288.4 1682.8,331.8" stroke="#a4a4a4" stroke-width="0.6" />
<polyline points="1550,242 1571,298 1677.4,340.4" stroke="#6e6e6e" stroke-width="0.7" />
<polyline points="1570.4,302.4 1675,344" stroke="#a4a4a4" stroke-width="0.6" />
<polyline points="1540,250 1566,312 1669.5,352.6" stroke="#6e6e6e" stroke-width="0.7" />
<polyline points="1565.4,316.4 1667.1,356.2" stroke="#a4a4a4" stroke-width="0.6" />
<polyline points="1530,258 1560,324 1661.8,364.6" stroke="#6e6e6e" stroke-width="0.7" />
<polyline points="1559.4,328.4 1659.4,368.2" stroke="#a4a4a4" stroke-width="0.6" />
<polyline points="1520,266 1554,338 1653.9,376.8" stroke="#6e6e6e" stroke-width="0.7" />
<polyline points="1553.4,342.4 1651.5,380.4" stroke="#a4a4a4" stroke-width="0.6" />
<polyline points="1508,274 1548,352 1646,389" stroke="#6e6e6e" stroke-width="0.7" />
<polyline points="1547.4,356.4 1643.6,392.6" stroke="#a4a4a4" stroke-width="0.6" />
<polyline points="1496,282 1538,366 1638.1,401.4" stroke="#6e6e6e" stroke-width="0.7" />
<polyline points="1537.4,370.4 1635.7,405" stroke="#a4a4a4" stroke-width="0.6" />
<polyline points="1482,290 1522,382 1629.5,414.6" stroke="#6e6e6e" stroke-width="0.7" />
<polyline points="1521.4,386.4 1627.1,418.2" stroke="#a4a4a4" stroke-width="0.6" />
<polyline points="1468,298 1504,402 1620.5,428.5" stroke="#6e6e6e" stroke-width="0.7" />
<polyline points="1503.4,406.4 1618.1,432.1" stroke="#a4a4a4" stroke-width="0.6" />
<polyline points="1456,306 1490,426 1601.8,457.6" stroke="#6e6e6e" stroke-width="0.7" />
<polyline points="1489.4,430.4 1599.4,461.2" stroke="#a4a4a4" stroke-width="0.6" />
<polyline points="1772,197 1669,356 1669,362" stroke="#1e1e1e" stroke-width="0.9" />
<polyline points="1774,203 1674,358 1674,394 1774,258 1774,203" stroke="#1e1e1e" stroke-width="0.9" />
<polyline points="1770,198 1774,203" stroke="#1e1e1e" stroke-width="0.9" />
<polyline points="1710,350 1710,433" stroke="#1e1e1e" stroke-width="1.0" />
<polyline points="1712,352 1712,433" stroke="#555" stroke-width="0.7" />
<polyline points="1710,350 1658,433" stroke="#1e1e1e" stroke-width="0.9" />
<polyline points="1708,352 1655,433" stroke="#555" stroke-width="0.7" />
<polyline points="1758,314 1774,320" stroke="#1e1e1e" stroke-width="0.8" />
<polyline points="1758,314 1758,322 1774,328" stroke="#1e1e1e" stroke-width="0.8" />
<polyline points="1750,326 1774,335" stroke="#1e1e1e" stroke-width="0.8" />
<polyline points="1750,326 1750,358 1774,367" stroke="#1e1e1e" stroke-width="0.8" />
<polyline points="1720,373 1774,392" stroke="#1e1e1e" stroke-width="0.9" />
<polyline points="1712,387 1720,373 1720,430" stroke="#1e1e1e" stroke-width="0.9" />
<polyline points="1722,376 1774,395" stroke="#555" stroke-width="0.7" />
<polyline points="1734,412 1757,420 1757,430 1734,422 1734,412" stroke="#1e1e1e" stroke-width="0.8" />
<polyline points="1696,414 1710,419" stroke="#555" stroke-width="0.7" />
<polyline points="1693.6,418.4 1710,423.4" stroke="#555" stroke-width="0.7" />
<polyline points="1691.2,422.8 1710,427.8" stroke="#555" stroke-width="0.7" />
<polyline points="1688.8,427.2 1710,432.2" stroke="#555" stroke-width="0.7" />
<polyline points="1686.4,431.6 1710,436.6" stroke="#555" stroke-width="0.7" />
<polyline points="1669,357 1490,637" stroke="#555" stroke-width="0.8" />
<polyline points="1669,357 1669,391" stroke="#555" stroke-width="0.8" />
<polyline points="1666.6,362 1666.6,387" stroke="#bbb" stroke-width="0.5" stroke-dasharray="1 1.5"/>
<polyline points="1659.3,372.1 1659.3,406.1" stroke="#555" stroke-width="0.8" />
<polyline points="1656.9,377.1 1656.9,402.1" stroke="#bbb" stroke-width="0.5" stroke-dasharray="1 1.5"/>
<polyline points="1649.6,387.3 1649.6,421.3" stroke="#555" stroke-width="0.8" />
<polyline points="1647.2,392.3 1647.2,417.3" stroke="#bbb" stroke-width="0.5" stroke-dasharray="1 1.5"/>
<polyline points="1640,402.4 1640,436.4" stroke="#555" stroke-width="0.8" />
<polyline points="1637.6,407.4 1637.6,432.4" stroke="#bbb" stroke-width="0.5" stroke-dasharray="1 1.5"/>
<polyline points="1630.3,417.5 1630.3,451.5" stroke="#555" stroke-width="0.8" />
<polyline points="1627.9,422.5 1627.9,447.5" stroke="#bbb" stroke-width="0.5" stroke-dasharray="1 1.5"/>
<polyline points="1620.6,432.7 1620.6,466.7" stroke="#555" stroke-width="0.8" />
<polyline points="1618.2,437.7 1618.2,462.7" stroke="#bbb" stroke-width="0.5" stroke-dasharray="1 1.5"/>
<polyline points="1610.9,447.8 1610.9,481.8" stroke="#555" stroke-width="0.8" />
<polyline points="1608.5,452.8 1608.5,477.8" stroke="#bbb" stroke-width="0.5" stroke-dasharray="1 1.5"/>
<polyline points="1601.3,462.9 1601.3,496.9" stroke="#555" stroke-width="0.8" />
<polyline points="1598.9,467.9 1598.9,492.9" stroke="#bbb" stroke-width="0.5" stroke-dasharray="1 1.5"/>
<polyline points="1591.6,478.1 1591.6,512.1" stroke="#555" stroke-width="0.8" />
<polyline points="1589.2,483.1 1589.2,508.1" stroke="#bbb" stroke-width="0.5" stroke-dasharray="1 1.5"/>
<polyline points="1581.9,493.2 1581.9,527.2" stroke="#555" stroke-width="0.8" />
<polyline points="1579.5,498.2 1579.5,523.2" stroke="#bbb" stroke-width="0.5" stroke-dasharray="1 1.5"/>
<polyline points="1572.2,508.4 1572.2,542.4" stroke="#555" stroke-width="0.8" />
<polyline points="1569.8,513.4 1569.8,538.4" stroke="#bbb" stroke-width="0.5" stroke-dasharray="1 1.5"/>
<polyline points="1562.6,523.5 1562.6,557.5" stroke="#555" stroke-width="0.8" />
<polyline points="1560.2,528.5 1560.2,553.5" stroke="#bbb" stroke-width="0.5" stroke-dasharray="1 1.5"/>
<polyline points="1552.9,538.6 1552.9,572.6" stroke="#555" stroke-width="0.8" />
<polyline points="1550.5,543.6 1550.5,568.6" stroke="#bbb" stroke-width="0.5" stroke-dasharray="1 1.5"/>
<polyline points="1543.2,553.8 1543.2,587.8" stroke="#555" stroke-width="0.8" />
<polyline points="1540.8,558.8 1540.8,583.8" stroke="#bbb" stroke-width="0.5" stroke-dasharray="1 1.5"/>
<polyline points="1533.5,568.9 1533.5,602.9" stroke="#555" stroke-width="0.8" />
<polyline points="1531.1,573.9 1531.1,598.9" stroke="#bbb" stroke-width="0.5" stroke-dasharray="1 1.5"/>
<polyline points="1523.9,584 1523.9,618" stroke="#555" stroke-width="0.8" />
<polyline points="1521.5,589 1521.5,614" stroke="#bbb" stroke-width="0.5" stroke-dasharray="1 1.5"/>
<polyline points="1514.2,599.2 1514.2,633.2" stroke="#555" stroke-width="0.8" />
<polyline points="1511.8,604.2 1511.8,629.2" stroke="#bbb" stroke-width="0.5" stroke-dasharray="1 1.5"/>
<polyline points="1504.5,614.3 1504.5,648.3" stroke="#555" stroke-width="0.8" />
<polyline points="1502.1,619.3 1502.1,644.3" stroke="#bbb" stroke-width="0.5" stroke-dasharray="1 1.5"/>
<polyline points="1494.8,629.4 1494.8,663.4" stroke="#555" stroke-width="0.8" />
<polyline points="1492.4,634.4 1492.4,659.4" stroke="#bbb" stroke-width="0.5" stroke-dasharray="1 1.5"/>
<polyline points="1513,637 1600,508 1658,420" stroke="#555" stroke-width="0.7" />
<polyline points="1525,637 1600,523 1601,560" stroke="#1e1e1e" stroke-width="1.0" />
<polyline points="1528,637 1601,527" stroke="#1e1e1e" stroke-width="0.8" />
<polyline points="1549,637 1634,509" stroke="#999" stroke-width="0.6" />
<polyline points="1554,637 1597,572" stroke="#1e1e1e" stroke-width="0.8" />
<polyline points="1460,671 1484,683" stroke="#1e1e1e" stroke-width="0.8" />
<polyline points="1462,669 1486,681" stroke="#1e1e1e" stroke-width="0.8" />
<polyline points="1504,671 1532,680" stroke="#1e1e1e" stroke-width="0.8" />
<polyline points="1518,672.4 1516,682 1530,682.4" stroke="#1e1e1e" stroke-width="0.8" />
<polyline points="1424,678 1440,672.4" stroke="#1e1e1e" stroke-width="0.8" />
<polyline points="1609,507 1668,420" stroke="#1e1e1e" stroke-width="1.0" />
<polyline points="1611,509 1670,422" stroke="#1e1e1e" stroke-width="0.8" />
<polyline points="1609,507 1610,545 1615,540" stroke="#1e1e1e" stroke-width="0.9" />
<polyline points="1614,539 1634,509 1635,532" stroke="#1e1e1e" stroke-width="0.9" />
<polyline points="1614,539 1615,584 1620,578 1621,530" stroke="#1e1e1e" stroke-width="0.9" />
<polyline points="1622,528 1752,569" stroke="#1e1e1e" stroke-width="1.0" />
<polyline points="1622,532 1750,573" stroke="#1e1e1e" stroke-width="0.8" />
<polyline points="1621,578 1713,607" stroke="#1e1e1e" stroke-width="0.9" />
<polyline points="1643,550 1687,565 1687,586 1643,571 1643,550" stroke="#1e1e1e" stroke-width="0.8" />
<polyline points="1740,583 1705,572 1705,593 1724,599" stroke="#1e1e1e" stroke-width="0.8" />
<polyline points="1634,697 1634,697" stroke="#2a2a2a" stroke-width="0.9" />
<polyline points="1598,560 1615,567" stroke="#555" stroke-width="0.7" />
<polyline points="1597.2,564 1615,571" stroke="#555" stroke-width="0.7" />
<polyline points="1596.4,568 1615,575" stroke="#555" stroke-width="0.7" />
<polyline points="1595.6,572 1615,579" stroke="#555" stroke-width="0.7" />
<polyline points="1594.8,576 1615,583" stroke="#555" stroke-width="0.7" />
<polyline points="1694,426 1712,433" stroke="#555" stroke-width="0.7" />
<polyline points="1694,429.6 1712,436.6" stroke="#555" stroke-width="0.7" />
<polyline points="1694,433.2 1712,440.2" stroke="#555" stroke-width="0.7" />
<polyline points="1668,420 1694,426" stroke="#555" stroke-width="0.7" />
<polyline points="1712,420 1712,435 1718,428 1718,420" stroke="#1e1e1e" stroke-width="0.9" />
<polyline points="1718,428 1774,446" stroke="#1e1e1e" stroke-width="0.9" />
<polyline points="1734,420 1734,424 1758,432 1758,420" stroke="#1e1e1e" stroke-width="0.8" />
<polyline points="1762,558 1762,550 1772,537" stroke="#1e1e1e" stroke-width="0.8" />
<polyline points="1694,487 1707,468.6 1725,476.4 1712,495 1694,487" stroke="#1e1e1e" stroke-width="0.8" />
<polyline points="1694,487 1694,494.6 1712,502.6 1712,495" stroke="#1e1e1e" stroke-width="0.8" />
<polyline points="1712,502.6 1725,484 1725,476.4" stroke="#1e1e1e" stroke-width="0.8" />
<polyline points="1726,518 1738,505 1760,514 1751,528 1726,518" stroke="#1e1e1e" stroke-width="0.8" />
<polyline points="1726,518 1726,526 1751,536 1751,528" stroke="#1e1e1e" stroke-width="0.8" />
<polyline points="1751,536 1760,522 1760,514" stroke="#1e1e1e" stroke-width="0.8" />
<polyline points="1668,529 1680,515.6 1702,524 1693,538 1668,529" stroke="#1e1e1e" stroke-width="0.8" />
<polyline points="1668,529 1668,537.4 1693,546.4 1693,538" stroke="#1e1e1e" stroke-width="0.8" />
<polyline points="1693,546.4 1702,532.4 1702,524" stroke="#1e1e1e" stroke-width="0.8" />
<polyline points="1732,442 1736,438 1742,440 1738,444.4 1732,442" stroke="#1e1e1e" stroke-width="0.8" />
<polyline points="1732,442 1732,449 1738,451.4 1738,444.4" stroke="#1e1e1e" stroke-width="0.8" />
<polyline points="1738,451.4 1742,447 1742,440" stroke="#1e1e1e" stroke-width="0.8" />
<polyline points="1623,622 1633,610 1686,629" stroke="#1e1e1e" stroke-width="0.8" />
<polyline points="1623,622 1623,632 1658,645" stroke="#1e1e1e" stroke-width="0.8" />
<polyline points="1623,622 1669,639" stroke="#1e1e1e" stroke-width="0.8" />
<polyline points="1608,659 1618,662.4" stroke="#1e1e1e" stroke-width="0.7" />
<polyline points="1235,157 1365,293" stroke="#1e1e1e" stroke-width="1.0" />
<polyline points="1238,155 1368,290" stroke="#1e1e1e" stroke-width="0.9" />
<polyline points="1270,152 1368,262" stroke="#1e1e1e" stroke-width="1.0" />
<polyline points="1274,151 1370,258" stroke="#1e1e1e" stroke-width="0.9" />
<polyline points="1368,262 1368,294" stroke="#1e1e1e" stroke-width="1.0" />
<polyline points="1314,200 1424,150" stroke="#1e1e1e" stroke-width="0.9" />
<polyline points="1316,203 1430,151" stroke="#1e1e1e" stroke-width="0.9" />
<polyline points="1340,227 1426,187" stroke="#1e1e1e" stroke-width="0.9" />
<polyline points="1342,230 1429,190" stroke="#555" stroke-width="0.7" />
<polyline points="1183,259 1286,214" stroke="#1e1e1e" stroke-width="0.9" />
<polyline points="1184,262 1288,217" stroke="#1e1e1e" stroke-width="0.9" />
<polyline points="1286,214 1286,278 1343,335" stroke="#1e1e1e" stroke-width="0.9" />
<polyline points="1288,217 1342,274" stroke="#555" stroke-width="0.7" />
<polyline points="1213,250 1213,308" stroke="#1e1e1e" stroke-width="0.9" />
<polyline points="1213,250 1270,309" stroke="#1e1e1e" stroke-width="0.9" />
<polyline points="1238,272 1288,250" stroke="#1e1e1e" stroke-width="0.8" />
<polyline points="1270,309 1294,298" stroke="#1e1e1e" stroke-width="0.8" />
<polyline points="1176,286 1219,332" stroke="#1e1e1e" stroke-width="0.9" />
<polyline points="1178,285 1221,331" stroke="#555" stroke-width="0.7" />
<polyline points="1188,295 1216,283" stroke="#1e1e1e" stroke-width="0.8" />
<polyline points="1171,318 1195,343" stroke="#1e1e1e" stroke-width="0.9" />
<polyline points="1253,275 1269,268 1294,294 1278,302 1253,275" stroke="#1e1e1e" stroke-width="0.9" />
<polyline points="1255,280 1255,286" stroke="#1e1e1e" stroke-width="1.2" />
<polyline points="1278,302 1278,308" stroke="#1e1e1e" stroke-width="1.0" />
<polyline points="1201,308 1219,300 1227,308 1208,316 1201,308" stroke="#1e1e1e" stroke-width="0.9" />
<polyline points="1227,308 1227,315" stroke="#1e1e1e" stroke-width="1.2" />
<polyline points="1208,316 1208,320" stroke="#1e1e1e" stroke-width="0.9" />
<polyline points="1171,331 1177,331 1177,338" stroke="#1e1e1e" stroke-width="1.2" />
<polyline points="1343,275 1343,302" stroke="#1e1e1e" stroke-width="1.0" />
<polyline points="1319,286 1319,312" stroke="#555" stroke-width="0.7" />
<polyline points="1294,298 1319,286 1343,275" stroke="#1e1e1e" stroke-width="0.9" />
<polyline points="1227,162 1227,190 1210,198" stroke="#8a8a8a" stroke-width="0.6" />
<polyline points="1218,180 1218,193" stroke="#8a8a8a" stroke-width="0.6" />
<polyline points="1250,156 1250,180" stroke="#8a8a8a" stroke-width="0.6" />
<polyline points="1278,212 1278,238" stroke="#8a8a8a" stroke-width="0.6" />
<polyline points="1264,217 1264,222" stroke="#8a8a8a" stroke-width="0.6" />
<polyline points="1234,231 1234,235" stroke="#8a8a8a" stroke-width="0.6" />
<polyline points="1202,246 1202,250" stroke="#8a8a8a" stroke-width="0.6" />
<polyline points="1306,152 1306,176 1298,180" stroke="#8a8a8a" stroke-width="0.6" />
<polyline points="1314,204 1314,234" stroke="#8a8a8a" stroke-width="0.6" />
<polyline points="1174,298 1278,254" stroke="#8a8a8a" stroke-width="0.6" />
<polyline points="1184,322 1234,368" stroke="#8a8a8a" stroke-width="0.6" />
<polyline points="1261.4,154.4 1261.4,182 1264.4,181.6 1264.4,157" stroke="#1e1e1e" stroke-width="0.9" />
<polyline points="1262.8,156 1262.8,181" stroke="#555" stroke-width="0.7" />
<polyline points="1281.4,177 1281.4,204 1284.4,203.6 1284.4,180" stroke="#1e1e1e" stroke-width="0.9" />
<polyline points="1281.4,177 1296.4,192 1296.4,220" stroke="#1e1e1e" stroke-width="0.8" />
<polyline points="1250,156 1250,184" stroke="#555" stroke-width="0.7" />
<polyline points="1253,155 1253,187" stroke="#555" stroke-width="0.7" />
<polyline points="1306,152 1306,176 1294,181" stroke="#555" stroke-width="0.7" />
<polyline points="1430,152 1430,176" stroke="#555" stroke-width="0.7" />
<polyline points="1432,152 1489,209" stroke="#1e1e1e" stroke-width="0.9" />
<polyline points="1435,151 1490,206" stroke="#555" stroke-width="0.7" />
<polyline points="1452,152 1452,166" stroke="#555" stroke-width="0.7" />
<polyline points="1460,152 1460,174" stroke="#555" stroke-width="0.7" />
<polyline points="1466,156 1474,162 1474,188" stroke="#1e1e1e" stroke-width="0.9" />
<polyline points="1474,162 1530,152" stroke="#1e1e1e" stroke-width="0.8" />
<polyline points="1474,180 1528,156 1528,170 1480,193" stroke="#1e1e1e" stroke-width="0.8" />
<polyline points="1528,170 1556,199" stroke="#1e1e1e" stroke-width="0.8" />
<polyline points="1544,152 1589,193 1589,197" stroke="#1e1e1e" stroke-width="1.0" />
<polyline points="1540,152 1586,195" stroke="#1e1e1e" stroke-width="0.8" />
<polyline points="1503,225 1589,193" stroke="#1e1e1e" stroke-width="0.9" />
<polyline points="1503,225 1504,256" stroke="#1e1e1e" stroke-width="1.0" />
<polyline points="1506,227 1507,254" stroke="#555" stroke-width="0.7" />
<polyline points="1488,206 1488,262" stroke="#1e1e1e" stroke-width="1.0" />
<polyline points="1490,208 1490,234" stroke="#555" stroke-width="0.7" />
<polyline points="1490,228 1578,189" stroke="#1e1e1e" stroke-width="0.7" stroke-dasharray="2 1.6"/>
<polyline points="1566,151 1592,183 1589,193" stroke="#1e1e1e" stroke-width="0.8" stroke-dasharray="2 1.6"/>
<ellipse cx="1507" cy="201" rx="4" ry="2.4" stroke="#333" stroke-width="0.7" fill="#fff"/>
<polyline points="1503,201 1503,208" stroke="#333" stroke-width="0.7" />
<polyline points="1511,201 1511,208" stroke="#333" stroke-width="0.7" />
<path d="M1503 208 A4 2.4 0 0 0 1511 208" stroke="#333" stroke-width="0.7"/>
<ellipse cx="1525" cy="197" rx="4" ry="2.4" stroke="#333" stroke-width="0.7" fill="#fff"/>
<polyline points="1521,197 1521,204" stroke="#333" stroke-width="0.7" />
<polyline points="1529,197 1529,204" stroke="#333" stroke-width="0.7" />
<path d="M1521 204 A4 2.4 0 0 0 1529 204" stroke="#333" stroke-width="0.7"/>
<ellipse cx="1542" cy="195" rx="5.6" ry="3.4" stroke="#333" stroke-width="0.7" fill="#fff"/>
<polyline points="1536.4,195 1536.4,202" stroke="#333" stroke-width="0.7" />
<polyline points="1547.6,195 1547.6,202" stroke="#333" stroke-width="0.7" />
<path d="M1536.4 202 A5.6 3.4 0 0 0 1547.6 202" stroke="#333" stroke-width="0.7"/>
<ellipse cx="1518" cy="210" rx="5.6" ry="3.4" stroke="#333" stroke-width="0.7" fill="#fff"/>
<polyline points="1512.4,210 1512.4,217" stroke="#333" stroke-width="0.7" />
<polyline points="1523.6,210 1523.6,217" stroke="#333" stroke-width="0.7" />
<path d="M1512.4 217 A5.6 3.4 0 0 0 1523.6 217" stroke="#333" stroke-width="0.7"/>
<polyline points="1435,306 1434,370 1432,373" stroke="#d9c78a" stroke-width="0.8" />
<polyline points="1441,308 1442.4,370 1445,372.4" stroke="#d9c78a" stroke-width="0.8" />
<ellipse cx="1438.4" cy="372.4" rx="6.5" ry="2.2" stroke="#d9c78a" stroke-width="0.7" fill="none"/>
<path d="M1418.7 250.5l-1.3 1.9l-1.6 -0.5l1.2 -1.2zM1402.2 224.2l-1.3 2.3l-1.9 -0.4l1.2 -1.4zM1450.3 209.9l2.2 1.3l-0.5 1.8l-2 -0.8zM1413.4 199l-1.3 0.6l-0.6 -0.8l1.1 -0.3zM1446.9 215.4l-0.8 1.3l-1.1 -0.3l0.7 -0.8zM1473.9 273.5l0.8 1.2l-0.7 0.8l-0.7 -0.7zM1406.6 204.5l1.6 2.3l-1.3 1.6l-1.5 -1.4zM1460 268l0.7 2.1l-1.3 0.9l-0.6 -1.2zM1450.5 236.3l-1.4 1.5l-1.3 -0.7l1.3 -0.9zM1381.4 222.7l1.5 0.3l0.1 1.1l-1.4 -0.2zM1489.2 246.6l-0.7 1.3l-1.1 -0.2l0.7 -0.8zM1472 271.4l0.6 2.3l-1.5 0.9l-0.5 -1.4zM1463.3 193.4l-1.4 2.2l-1.8 -0.5l1.2 -1.3zM1400.5 250l-0.9 1.4l-1.2 -0.4l0.8 -0.8zM1425.6 288.2l-1.9 0.7l-0.9 -1.2l1.7 -0.4zM1434.3 195.2l1.2 0.7l-0.3 1l-1 -0.4zM1429 225.1l0.8 1.4l-0.8 0.8l-0.7 -0.8zM1439.3 280.8l-1.5 1.8l-1.6 -0.7l1.3 -1.1zM1394.2 221.6l2.7 0.3l0.4 2l-2.5 -0.2zM1386.4 207.1l2.1 1.3l-0.5 1.7l-1.9 -0.8zM1428.1 189.4l1.1 2.1l-1.3 1.2l-0.9 -1.3zM1409.1 191.6l-1.4 0.7l-0.8 -0.9l1.3 -0.4zM1391.6 205.9l1.4 1.9l-1.1 1.3l-1.2 -1.1zM1446.2 194.2l1.7 1.6l-0.7 1.5l-1.6 -0.9zM1446.8 264.2l-2.5 1.5l-1.6 -1.5l2.3 -0.9zM1484.1 250.5l-1 0.9l-0.9 -0.5l0.9 -0.6zM1449.6 275.2l-1.5 0.7l-0.8 -0.9l1.3 -0.4zM1443.1 276.2l-0.2 2.4l-1.8 0.3l0.2 -1.5zM1479.8 240.7l-1.7 2l-1.7 -0.8l1.6 -1.2zM1418.5 246.8l0.1 2.5l-1.7 0.6l-0.1 -1.5zM1396 218l-1.5 1.5l-1.4 -0.8l1.4 -0.9zM1450.3 186.4l0.5 1.4l-0.9 0.6l-0.5 -0.9zM1486.8 254l1 2.4l-1.5 1.2l-0.9 -1.4zM1437.4 223.1l2.4 1.5l-0.5 2l-2.2 -0.9zM1441.8 243.7l1.6 2.4l-1.4 1.6l-1.4 -1.4zM1446.2 215l-1.6 2.3l-2 -0.7l1.4 -1.4zM1482.1 206.1l-2.1 1.8l-1.7 -1.1l1.9 -1.1zM1421.8 248.6l-2.1 0.8l-1 -1.3l1.9 -0.5zM1408.2 236.3l-1 1.5l-1.2 -0.4l0.9 -0.9zM1455.7 220.3l1.8 1.3l-0.5 1.5l-1.6 -0.8zM1421.7 210.9l1.7 0.5l-0 1.3l-1.5 -0.3zM1463.7 192.4l-1.6 1.6l-1.4 -0.8l1.5 -1zM1473.6 237.5l-2 0.4l-0.7 -1.3l1.8 -0.2zM1398.4 245.3l0.7 1.7l-1 0.8l-0.7 -1zM1447.6 261.9l-2.7 1.3l-1.4 -1.6l2.4 -0.8zM1391.4 196.9l2 0.5l0 1.5l-1.8 -0.3zM1478.8 202l-2.7 0.4l-0.8 -1.8l2.4 -0.2zM1474.3 225.2l0.3 2.3l-1.5 0.7l-0.3 -1.4zM1414.1 244.3l2.3 0.6l0 1.7l-2.1 -0.4zM1485.7 211l0.2 2l-1.3 0.5l-0.2 -1.2zM1391.8 275.2l-0.1 2.2l-1.6 0.4l0.1 -1.3zM1424.7 207.9l1.2 1.3l-0.7 1.1l-1.1 -0.8zM1420.9 234.5l2.7 0.7l0 2l-2.4 -0.4zM1442.9 209.6l2.5 1.5l-0.6 2.1l-2.3 -0.9zM1450.9 232.6l2.1 0.6l0 1.6l-1.9 -0.3zM1379.3 216.2l-1.5 0.1l-0.3 -1l1.3 -0zM1402 269.6l-2.1 2.1l-1.9 -1l1.9 -1.3zM1447.8 261.7l1.6 0.4l0 1.2l-1.5 -0.3zM1402.5 232.2l0.7 1.8l-1.1 0.8l-0.6 -1.1zM1435.4 217.8l0.1 1.8l-1.2 0.5l-0.1 -1.1zM1471.7 190.3l0.8 1.5l-0.9 0.9l-0.7 -0.9zM1452.9 248.7l-1.9 0.4l-0.6 -1.2l1.7 -0.2zM1381.3 229l-0.7 2.4l-1.8 -0l0.6 -1.4zM1470.5 218l0.3 1.5l-1 0.5l-0.3 -0.9zM1418.4 241.3l1.5 1.5l-0.7 1.3l-1.3 -0.9zM1385.9 258.7l-2.4 0.8l-1.1 -1.5l2.2 -0.5zM1426.1 265.8l-1.8 0.6l-0.8 -1.1l1.6 -0.4zM1452.3 266.6l-1.6 0.9l-1 -1l1.5 -0.6zM1425.9 239.5l0.5 2.1l-1.3 0.8l-0.5 -1.2zM1474.1 218.7l1.9 1.8l-0.9 1.7l-1.7 -1.1zM1392.6 238.4l-0.7 1.2l-1 -0.3l0.6 -0.7zM1448 200.8l0.2 1.9l-1.3 0.5l-0.2 -1.2zM1421.8 251.8l-0.3 1.4l-1.1 0.1l0.3 -0.8zM1466.5 239.3l0.3 2.5l-1.7 0.7l-0.3 -1.5zM1482.7 235.7l0.1 3l-2.1 0.7l-0.1 -1.8zM1407.1 256.6l-0.8 1.3l-1.1 -0.3l0.7 -0.8zM1403.2 205.5l-2.9 0.1l-0.7 -2l2.6 -0.1zM1435.9 218.6l3 0.3l0.4 2.2l-2.7 -0.2zM1462.1 237.6l2 2.1l-1.1 1.8l-1.8 -1.3zM1456.3 216l0.5 2.9l-1.9 0.9l-0.5 -1.7zM1436.6 261.4l-0.6 2l-1.6 -0l0.6 -1.2zM1470 233.3l-1.3 0.4l-0.5 -0.9l1.2 -0.2zM1425.5 210.5l0.4 2.4l-1.6 0.7l-0.3 -1.4zM1473.5 201.3l-0.9 1.9l-1.5 -0.3l0.8 -1.1zM1469.3 225l1 1.1l-0.6 0.9l-0.9 -0.6zM1423.3 214.7l-0.1 1.8l-1.3 0.3l0.1 -1.1zM1437.7 228l1.5 2.6l-1.5 1.6l-1.3 -1.5zM1403.9 196.4l-2.6 0.4l-0.8 -1.7l2.3 -0.2zM1421.2 241.4l-2.1 2l-1.8 -1.1l1.9 -1.2zM1380.1 219.7l1.8 0.1l0.3 1.3l-1.6 -0zM1430.6 231.7l-1 1.5l-1.2 -0.4l0.9 -0.9zM1431.2 204.6l1.3 2.2l-1.3 1.3l-1.1 -1.3zM1474.6 232.5l-2.5 1l-1.2 -1.5l2.2 -0.6zM1458.4 192.2l-2.2 1.4l-1.4 -1.3l2 -0.8zM1446.4 290.5l-1.7 1.4l-1.3 -0.9l1.5 -0.8zM1412.9 217.5l-1.8 0.4l-0.6 -1.1l1.6 -0.3zM1428.4 186.4l0.6 2.3l-1.5 0.9l-0.6 -1.4zM1475.8 234.4l-0.3 2l-1.5 0.2l0.3 -1.2zM1463.6 255.7l-1.4 0.2l-0.4 -1l1.3 -0.1zM1474.2 214.5l0.2 2.5l-1.7 0.6l-0.2 -1.5zM1461.7 255.9l1.1 1.1l-0.5 1l-1 -0.7zM1463.6 215.6l1.5 0.5l-0.1 1.2l-1.4 -0.3zM1421 197.4l0.6 1.7l-1.1 0.7l-0.5 -1zM1396 274.6l-2.4 0.3l-0.7 -1.6l2.2 -0.2zM1434 233.6l2.3 1.8l-0.8 1.9l-2 -1.1zM1397.8 242.2l2.4 1.5l-0.6 2l-2.1 -0.9zM1452.5 206.2l-1.5 2l-1.7 -0.6l1.3 -1.2zM1410.5 246.6l1.1 0.8l-0.4 0.9l-1 -0.5zM1407.3 265l-0.7 2.8l-2.1 0.1l0.6 -1.7zM1461.4 215l1.7 0.9l-0.3 1.4l-1.5 -0.5zM1440.7 215.1l-1 1.2l-1 -0.5l0.9 -0.7zM1429.6 220.4l-0.2 1.9l-1.4 0.3l0.2 -1.1zM1416 246.3l2.8 1.2l-0.3 2.2l-2.5 -0.7zM1469.7 239.4l1.8 0.1l0.3 1.3l-1.6 -0.1zM1422.1 261.6l-1.8 0.2l-0.5 -1.2l1.6 -0.1zM1458.9 235.7l0.6 1.6l-1 0.7l-0.5 -1zM1397.5 203.1l2.5 1.5l-0.6 2.1l-2.2 -0.9zM1449.9 191.2l0.2 1.7l-1.1 0.5l-0.2 -1zM1444.7 195.7l-1.8 0.4l-0.7 -1.2l1.6 -0.3zM1430.6 194.5l-0.7 2l-1.6 -0.1l0.7 -1.2zM1471.4 272.2l0.9 2.7l-1.7 1.2l-0.8 -1.6zM1425.9 281.5l-2.6 0.2l-0.6 -1.8l2.3 -0.1zM1395.3 231.4l1.6 1.3l-0.6 1.4l-1.4 -0.8zM1396.7 206.9l-1.5 0.5l-0.6 -0.9l1.3 -0.3zM1391 210.1l-0.7 1.5l-1.2 -0.2l0.6 -0.9zM1385.4 217.1l-1.2 0.9l-0.9 -0.6l1.1 -0.6zM1459.7 225.4l-1.4 1.4l-1.3 -0.7l1.2 -0.9zM1399.4 237.8l-2.9 0.5l-0.9 -1.9l2.6 -0.3zM1442.3 260.8l-0.4 2l-1.5 0.1l0.4 -1.2zM1429.7 267l-1.3 0.5l-0.6 -0.8l1.2 -0.3zM1466.2 255.3l-1.4 1l-1 -0.8l1.3 -0.6zM1476.3 238.5l-0.9 1.9l-1.5 -0.3l0.8 -1.1zM1445.9 197.6l-0 2.7l-1.9 0.5l0 -1.6zM1460.6 226.7l-2.3 1.9l-1.8 -1.2l2.1 -1.2zM1420.4 268.8l0.2 2.6l-1.8 0.7l-0.2 -1.6zM1467.3 208.1l0.7 1.9l-1.2 0.9l-0.7 -1.1zM1448.2 273.1l-0.3 1.5l-1.1 0.1l0.3 -0.9zM1430 240.5l1.3 0.6l-0.1 1l-1.1 -0.3zM1466.8 223.7l1 1.5l-0.9 1l-0.9 -0.9zM1455.4 227.3l-0.5 2.7l-2 0.2l0.4 -1.6zM1488.8 221.9l1.6 0.9l-0.3 1.3l-1.4 -0.5zM1439.2 272.9l-2 2.2l-1.9 -0.9l1.8 -1.3zM1474.3 218.6l2.3 1.1l-0.3 1.8l-2 -0.7zM1426.7 224l-1.7 1.2l-1.2 -1l1.6 -0.7zM1427 214.5l1.5 1.3l-0.6 1.3l-1.4 -0.8zM1440.5 271.5l0.3 2.2l-1.5 0.6l-0.2 -1.3zM1416.1 195.7l-1.6 0.3l-0.6 -1l1.4 -0.2zM1401.3 241.2l-0.4 1.9l-1.4 0.1l0.4 -1.2zM1379.8 215.8l2.7 0.8l-0 2.1l-2.4 -0.5zM1415.6 218.2l-0.6 2.2l-1.6 0l0.5 -1.3zM1418.4 238.4l-2.9 0.1l-0.7 -2l2.7 -0.1zM1422.1 217.3l-1.7 0.9l-1 -1l1.6 -0.5zM1433 228.7l0.6 1.7l-1.1 0.8l-0.6 -1zM1444.3 268.3l-1.2 2.5l-2 -0.3l1.1 -1.5zM1405.3 248l-1.1 0.9l-0.9 -0.6l1 -0.5zM1449.4 246.4l-1 1l-0.9 -0.5l0.9 -0.6zM1424.3 267l2 2.2l-1.2 1.9l-1.8 -1.3zM1412 216.8l-0.2 2.4l-1.7 0.3l0.2 -1.5zM1423.6 263.9l-0.4 1.7l-1.3 0.1l0.3 -1zM1436.4 224.4l-1.4 0.2l-0.5 -1l1.3 -0.1zM1399.7 249.7l-1.6 1.4l-1.3 -0.9l1.5 -0.8zM1421 225.4l2.2 0.8l-0.1 1.7l-2 -0.5zM1449.4 257.7l1.4 1l-0.4 1.2l-1.2 -0.6zM1434.3 199.1l0.9 2.2l-1.4 1.1l-0.8 -1.3zM1410 237.9l0.9 1.9l-1.2 1l-0.8 -1.2zM1434 267.9l-2.1 1.1l-1.2 -1.3l1.9 -0.6zM1441.1 226.3l0.2 1.5l-1 0.5l-0.2 -0.9zM1455 212.5l-2.2 0.6l-0.9 -1.4l2 -0.3zM1474.2 203.7l-0.6 2.1l-1.6 0l0.5 -1.2zM1446.6 214.4l-2.9 0.7l-1 -1.9l2.6 -0.4zM1416.5 237.3l-0.1 2.8l-2 0.5l0 -1.7zM1431.2 243l-1.3 1.3l-1.2 -0.6l1.2 -0.8zM1458.5 199.3l-0 1.4l-1 0.3l0 -0.8zM1396 224.6l0.3 1.9l-1.3 0.6l-0.3 -1.1zM1457.3 258.3l-1.7 0.3l-0.5 -1.1l1.5 -0.2zM1410.8 240.3l0.3 2.2l-1.5 0.7l-0.3 -1.3zM1482.6 216.9l-1.2 2l-1.7 -0.4l1.1 -1.2zM1413.1 186.3l-2.8 0.6l-1 -1.9l2.6 -0.3zM1458.7 277.6l-1.4 1.3l-1.2 -0.7l1.3 -0.8zM1463 234.9l-0.1 1.5l-1 0.2l0.1 -0.9zM1440.5 241.5l1.9 0.2l0.2 1.4l-1.7 -0.1zM1453.9 211.1l-0.7 1.4l-1.1 -0.2l0.7 -0.8zM1406.8 260l-0.2 2.9l-2.1 0.4l0.2 -1.8zM1448.7 267.5l1.7 0.6l-0.1 1.3l-1.6 -0.4zM1391.3 244.7l0.2 2.2l-1.5 0.6l-0.2 -1.3zM1399.2 199.8l1.3 2l-1.1 1.3l-1.2 -1.2zM1408.9 250.1l-1.9 0.3l-0.6 -1.3l1.7 -0.2zM1472.6 208.9l1.6 1.2l-0.5 1.3l-1.4 -0.7zM1453.5 201.9l-2.1 1.6l-1.5 -1.1l1.9 -0.9zM1382.6 227.6l-0.4 1.8l-1.4 0.1l0.3 -1.1zM1445.1 225.5l2.3 0.9l-0.2 1.8l-2.1 -0.6zM1378.8 248.1l0.7 1.7l-1 0.9l-0.7 -1zM1408.2 194.5l1.2 1.6l-0.8 1.2l-1.1 -0.9zM1483 226.4l-1.9 2.1l-1.9 -0.9l1.7 -1.3zM1453.1 217.3l0.3 2l-1.3 0.6l-0.3 -1.2zM1478.2 230.9l0.1 1.6l-1.1 0.4l-0.1 -0.9zM1387.8 246l2.3 1.6l-0.7 1.9l-2.1 -1zM1424.5 247.8l1.5 1.8l-1 1.4l-1.3 -1.1zM1429.3 240l1.1 1.3l-0.7 1l-1 -0.8zM1442.1 209.7l1.2 1l-0.5 1l-1.1 -0.6zM1471.7 233.2l1.1 2.5l-1.5 1.2l-0.9 -1.5zM1450 235.4l-0.8 1.7l-1.3 -0.2l0.7 -1zM1452.9 284.8l-0.1 2.4l-1.7 0.4l0.1 -1.4zM1419.3 217.1l-0.5 2.2l-1.7 0.1l0.4 -1.3zM1453.9 196.4l2.5 1.3l-0.4 2l-2.2 -0.8zM1397.6 237.7l-1.3 1.5l-1.3 -0.6l1.2 -0.9zM1384.1 263l-0.2 3l-2.1 0.5l0.2 -1.8zM1422.7 225.8l-0.2 1.9l-1.4 0.2l0.2 -1.1zM1450.4 273.4l1.8 2.5l-1.4 1.7l-1.6 -1.5zM1430.6 244.8l-1 1.4l-1.2 -0.4l0.9 -0.9zM1429 204.2l-1.6 0.2l-0.5 -1.1l1.5 -0.1zM1451.2 259.2l2.1 0.6l0 1.6l-1.9 -0.3zM1406.3 209.3l-0.9 1.6l-1.3 -0.3l0.9 -1zM1375.7 235.1l1.5 2l-1.1 1.4l-1.3 -1.2zM1471.8 260.1l1 1.3l-0.7 1l-0.9 -0.8zM1426.3 218.2l1.2 0.6l-0.2 1l-1.1 -0.3zM1436.5 268.9l2.2 2l-1 2l-2 -1.2zM1447.1 256l1 1l-0.5 0.9l-0.9 -0.6zM1441.8 218.2l2.3 1.2l-0.4 1.8l-2 -0.7zM1466.4 228.1l-1.6 0.8l-0.9 -0.9l1.4 -0.5zM1389.3 252.6l-2.2 1.4l-1.4 -1.2l2 -0.8zM1460.1 236l-1.4 0.5l-0.6 -0.9l1.3 -0.3zM1433.9 205.7l1.8 2l-1.1 1.7l-1.6 -1.2zM1397.6 252.6l-0.7 1.4l-1.1 -0.2l0.6 -0.8zM1425.4 291.2l2 0.6l0 1.5l-1.8 -0.3zM1410.5 250.1l-1.1 2l-1.6 -0.4l1 -1.2zM1412.8 227.7l-0.9 1.1l-0.9 -0.4l0.8 -0.6zM1487.9 225.4l1.3 0.9l-0.3 1.1l-1.2 -0.5zM1457.1 197.4l-2.3 0.6l-0.9 -1.5l2.1 -0.3zM1455.3 249l2.1 1.5l-0.6 1.8l-1.9 -0.9zM1445.8 249.2l-2.2 0.3l-0.7 -1.5l2 -0.2zM1388.1 239.8l1.5 2.5l-1.4 1.6l-1.4 -1.5zM1447.1 235.3l-2.1 1.2l-1.3 -1.2l1.9 -0.7zM1467.1 199l-1 1.8l-1.5 -0.4l0.9 -1.1zM1421.9 237.4l1.8 0.4l0.1 1.3l-1.6 -0.2zM1412.4 223.9l-2.1 1.3l-1.4 -1.2l1.9 -0.8zM1404.5 228l-2.6 0.4l-0.8 -1.7l2.3 -0.2zM1455.5 200.6l2.4 0.1l0.4 1.7l-2.2 -0.1zM1416.9 249l2 1.3l-0.5 1.6l-1.8 -0.8zM1394.2 255.7l-1.5 1.8l-1.6 -0.7l1.3 -1.1zM1428 238l-0.4 1.7l-1.3 0l0.4 -1zM1439.6 239.5l-2.1 1.7l-1.6 -1.1l1.8 -1zM1435.6 231.1l-0.2 2.1l-1.5 0.3l0.2 -1.3zM1453.2 242.8l-1.4 1.2l-1.1 -0.7l1.2 -0.7zM1442.2 211.2l1 1.2l-0.6 0.9l-0.9 -0.7zM1454.2 205l1.7 2.1l-1.1 1.6l-1.5 -1.2zM1416.2 183.9l-0.1 2.4l-1.7 0.4l0.1 -1.4zM1441.5 208.9l1.5 0.5l-0 1.1l-1.3 -0.3zM1396.9 219.8l2 0.9l-0.2 1.6l-1.8 -0.5zM1462.7 232.1l0.7 2.6l-1.7 1l-0.6 -1.6zM1454.4 235.6l0.2 2.2l-1.5 0.6l-0.2 -1.3zM1460.6 250.9l-2.4 0.2l-0.6 -1.6l2.1 -0.1zM1422.1 221.8l-2 0.2l-0.5 -1.4l1.8 -0.1zM1448.6 243.8l1.1 2.6l-1.6 1.3l-1 -1.6zM1395.8 199.3l-1.5 0.9l-0.9 -0.9l1.3 -0.5zM1405.2 206.8l1.6 1.7l-0.9 1.5l-1.4 -1zM1387.9 247.5l-2 1.6l-1.5 -1.1l1.8 -0.9zM1391.1 247.8l2.3 1.6l-0.6 1.9l-2 -0.9zM1401.2 232.6l0.5 1.7l-1.1 0.7l-0.5 -1zM1459.3 275.7l-0.2 2.7l-1.9 0.4l0.1 -1.6zM1457.6 251.5l-2.8 0.7l-1 -1.8l2.5 -0.4zM1398.7 227.4l-1 1.3l-1.1 -0.4l0.9 -0.8zM1455.4 198.4l-1.8 0.3l-0.5 -1.2l1.6 -0.2zM1421.1 230.2l2.4 1.1l-0.3 1.9l-2.2 -0.6zM1432.2 177l-1.8 1.6l-1.5 -1l1.7 -1zM1416.6 248.8l1.6 0.1l0.2 1.1l-1.4 -0.1zM1403.8 266.5l2.7 0.4l0.3 2l-2.5 -0.2zM1426 247.9l-1.5 0.3l-0.5 -1l1.3 -0.2zM1438.4 255l0.9 1.4l-0.8 0.9l-0.8 -0.8zM1458.8 207.8l-1.8 1.4l-1.3 -1l1.6 -0.8zM1421.2 220.3l1.2 1.8l-1 1.2l-1 -1.1zM1462.7 264.4l0.4 2.9l-1.9 0.9l-0.4 -1.7zM1426 207.6l-1.5 0.7l-0.8 -0.9l1.4 -0.4zM1409.8 227.2l2.2 1.2l-0.4 1.8l-2 -0.7zM1427.6 271l1.2 1.8l-1 1.2l-1.1 -1.1zM1465.7 221.6l-2.1 0.7l-0.9 -1.4l1.9 -0.4zM1416.4 205.8l-0.5 2.2l-1.7 0.1l0.4 -1.3zM1429.1 193l-0.8 1.1l-0.9 -0.3l0.7 -0.7zM1485.7 232l1.1 0.8l-0.3 0.9l-1 -0.5zM1411.3 220.3l-0 1.9l-1.3 0.3l0 -1.1zM1451.8 194.9l-0.8 2.4l-1.8 -0.1l0.7 -1.4zM1410.8 268.2l-1 1.2l-1 -0.4l0.9 -0.7zM1453.5 250.2l-1.7 2l-1.7 -0.8l1.5 -1.2zM1468.4 249.5l1.7 0.2l0.2 1.2l-1.5 -0.1zM1424.1 198l-1.8 0l-0.4 -1.3l1.6 -0zM1434.3 241.5l0.1 2.8l-1.9 0.6l-0.1 -1.7zM1431 196.7l1.3 1.5l-0.8 1.2l-1.2 -0.9zM1410.2 262.3l-1.5 0.9l-0.9 -0.9l1.3 -0.5zM1439.4 224.6l0.2 1.5l-1 0.4l-0.2 -0.9zM1415.6 219l0.5 2.5l-1.6 0.8l-0.4 -1.5zM1466.5 243.5l1.3 1.2l-0.6 1.1l-1.2 -0.7zM1462 223.9l1.9 0l0.4 1.3l-1.7 -0zM1421.6 281.3l1.5 0.9l-0.3 1.2l-1.4 -0.5zM1464.1 242.9l1.5 1.9l-1 1.4l-1.3 -1.1zM1403.4 210.2l-0.9 1.5l-1.2 -0.3l0.8 -0.9zM1413.6 222.9l-1 1.8l-1.5 -0.3l0.9 -1.1zM1481.3 236.4l-2.7 1.1l-1.3 -1.7l2.4 -0.7zM1439.5 273l-2.4 1l-1.2 -1.5l2.2 -0.6zM1475.8 266.4l-1.7 2.4l-2 -0.7l1.6 -1.4zM1444.4 253.2l0.5 2.7l-1.8 0.9l-0.5 -1.6zM1451.2 216.3l1.4 0.8l-0.3 1.1l-1.3 -0.5zM1455.3 237.1l-2.6 0.4l-0.8 -1.7l2.3 -0.2zM1430.9 243.6l2.1 0.8l-0.2 1.6l-1.9 -0.5zM1401.8 204.9l-2.2 0.6l-0.8 -1.4l2 -0.4zM1431.6 216.7l-0.5 2.9l-2.1 0.2l0.5 -1.7zM1435.2 237.1l-2 1.9l-1.8 -1l1.8 -1.2zM1469.3 259.1l-2.1 1.3l-1.3 -1.2l1.9 -0.8zM1423.1 272.6l1.5 0.7l-0.2 1.2l-1.3 -0.4zM1466.9 189.1l-0.1 2l-1.4 0.4l0.1 -1.2zM1419.4 240.7l-1.5 0.1l-0.4 -1l1.3 -0.1zM1436.6 275.2l1.4 1.4l-0.7 1.3l-1.3 -0.8zM1440.8 223.6l-2.2 1.3l-1.4 -1.3l2 -0.8zM1416.1 248.4l-0.6 1.4l-1.1 -0.1l0.5 -0.8zM1441.3 223.7l1.2 0.7l-0.3 1l-1.1 -0.4zM1468.3 236.7l-1.5 1.9l-1.6 -0.7l1.4 -1.1zM1400.9 243.5l0.7 2.2l-1.4 0.9l-0.7 -1.3zM1448.1 231.8l1.6 0.8l-0.3 1.3l-1.4 -0.5zM1434 236.2l1.4 1.3l-0.7 1.2l-1.2 -0.8zM1476.6 242.3l-1.3 2.5l-2 -0.4l1.1 -1.5zM1466.9 235l-2.3 1.9l-1.8 -1.2l2.1 -1.1zM1445.6 212.7l-2.6 0.2l-0.7 -1.8l2.3 -0.1zM1419.3 227.1l-2.1 1.7l-1.6 -1.1l1.9 -1zM1404.7 246l2.1 0.7l-0.1 1.6l-1.9 -0.4zM1402.2 214.8l1.2 1.6l-0.9 1.1l-1 -1zM1471.6 260.9l1 1.9l-1.1 1.1l-0.9 -1.1zM1421.3 232.3l0.6 1.3l-0.8 0.7l-0.6 -0.8zM1460.6 274.6l-1.4 0.1l-0.4 -1l1.3 -0.1zM1408.8 261.3l-0 1.4l-1 0.2l0 -0.8zM1401.2 209l-1.8 1.2l-1.2 -1l1.6 -0.7zM1429.9 233.7l-2.8 0.7l-1 -1.8l2.5 -0.4zM1421.9 287.3l-2.8 0.7l-1 -1.8l2.5 -0.4zM1403.3 269.8l1.6 1.4l-0.7 1.4l-1.5 -0.9zM1397.8 211.9l-1.7 2l-1.7 -0.8l1.6 -1.2zM1416.8 207.8l-0.4 2.3l-1.7 0.2l0.4 -1.4zM1429 199.6l-1.4 0.2l-0.4 -1l1.3 -0.1zM1426 216.6l0.5 1.3l-0.8 0.6l-0.4 -0.8zM1458.4 212.6l-2.5 0.7l-1 -1.6l2.2 -0.4zM1427.1 182.1l2.1 1.3l-0.5 1.8l-1.9 -0.8zM1448.8 197.1l-1.7 0.1l-0.4 -1.1l1.5 -0.1zM1419.7 218.3l0.9 2.2l-1.4 1.1l-0.8 -1.3zM1414.8 247.1l-2.3 0.7l-0.9 -1.5l2.1 -0.4zM1473.2 250.2l1.8 1.9l-1 1.6l-1.6 -1.2zM1392 234.9l0.2 2.9l-2 0.7l-0.2 -1.7zM1431.9 248.2l1.8 2l-1 1.6l-1.6 -1.2zM1430.3 209.2l-1.5 0.5l-0.7 -1l1.4 -0.3zM1436.2 232.4l0.2 1.3l-0.9 0.4l-0.2 -0.8zM1382.3 231.4l0.2 2.5l-1.7 0.6l-0.1 -1.5zM1419.5 236.4l-1.7 0.4l-0.6 -1.1l1.5 -0.2zM1464.9 224.2l2.2 1.3l-0.5 1.8l-2 -0.8zM1448.7 224.1l-1.4 2.3l-1.9 -0.5l1.3 -1.4zM1412.3 193.3l-1.5 1.3l-1.2 -0.8l1.4 -0.8zM1426.6 233.2l-1.5 0.5l-0.7 -1l1.4 -0.3zM1469.6 253l0.7 1.9l-1.2 0.9l-0.6 -1.1zM1393.1 225.1l-1 2.2l-1.8 -0.3l0.9 -1.3zM1421.8 208.4l-2.7 1.2l-1.4 -1.7l2.4 -0.7zM1434.5 190.5l-1.5 0.5l-0.7 -1l1.4 -0.3zM1423.1 243l-1.2 0.6l-0.7 -0.7l1.1 -0.4zM1405.9 203.6l1.7 1.2l-0.5 1.4l-1.6 -0.7zM1424.5 189.9l-0.8 2l-1.6 -0.1l0.7 -1.2zM1396.9 237.8l1 1.4l-0.8 1l-0.9 -0.8zM1417.1 200.6l2.7 0.7l0 2l-2.4 -0.4zM1443.6 243.3l0.9 1.3l-0.8 0.9l-0.8 -0.8zM1483.6 232.4l2.5 1.7l-0.7 2.1l-2.2 -1zM1439.2 233.7l-2 0.3l-0.6 -1.4l1.8 -0.2zM1391 246.1l-1.3 0.5l-0.6 -0.8l1.2 -0.3zM1412 242.2l1.3 0.2l0.1 1l-1.2 -0.1zM1458.8 242.2l2.4 1.6l-0.6 2l-2.2 -1zM1408.6 228.6l-2.2 0.8l-1 -1.3l1.9 -0.5zM1394.6 213l-1.2 1.6l-1.4 -0.5l1.1 -1zM1409.7 272.6l-1.9 2.4l-2 -0.8l1.7 -1.4zM1441.1 244.2l0.1 2.9l-2 0.7l-0.1 -1.7zM1459 270.3l-0.4 2.1l-1.5 0.1l0.4 -1.2zM1439.7 234.1l1.7 0.6l-0.1 1.3l-1.5 -0.3zM1410.4 223.8l-2.1 1.5l-1.5 -1.2l1.9 -0.9zM1455.3 264.5l-0.3 2.4l-1.7 0.3l0.2 -1.4zM1446.5 258.7l-2.6 0.8l-1.1 -1.7l2.4 -0.5zM1494.3 245.8l-0.1 2.8l-2 0.5l0.1 -1.7zM1423.8 232.4l-2.4 0.7l-0.9 -1.6l2.2 -0.4zM1419.4 232l2.1 1.9l-0.9 1.8l-1.9 -1.2zM1480.6 239.4l1.4 0.2l0.1 1l-1.2 -0.1zM1423.6 227.6l2.4 0.2l0.4 1.7l-2.2 -0.1zM1469.3 202.7l-1.2 1.2l-1.1 -0.6l1.1 -0.7zM1430.4 197.4l0.8 1.7l-1 0.9l-0.7 -1zM1419.6 190.8l0 1.4l-0.9 0.3l-0 -0.8zM1475.3 245.4l0.5 1.6l-1 0.7l-0.4 -1zM1459.6 221.8l1.2 1.3l-0.7 1.1l-1.1 -0.8zM1409.7 240.5l1.7 0.6l-0.1 1.3l-1.6 -0.4zM1420.2 233.4l-0.6 2.1l-1.6 0l0.5 -1.2zM1465.6 264.3l-0.4 1.3l-1 -0l0.4 -0.8zM1434.8 210.3l-0.1 1.4l-1 0.2l0.1 -0.9zM1458.6 201.9l-0.3 1.6l-1.2 0.1l0.2 -1zM1413.1 210.3l1 2.7l-1.7 1.2l-0.9 -1.6zM1408.6 253.3l1.5 1.2l-0.6 1.3l-1.4 -0.7zM1425.4 178.1l-1 2.1l-1.7 -0.3l0.9 -1.2zM1433.7 197.7l1.7 1.9l-1 1.6l-1.5 -1.1zM1430.6 224.8l-1.7 0.8l-0.9 -1l1.5 -0.5zM1407.1 249.8l-1.7 0.1l-0.4 -1.2l1.5 -0zM1420 243.8l-1.4 1.4l-1.2 -0.7l1.3 -0.8zM1436 191l-1.2 1.7l-1.4 -0.5l1.1 -1zM1412.3 261.1l-1.5 1.3l-1.2 -0.8l1.4 -0.8zM1440.8 267.1l-1.6 1.7l-1.5 -0.8l1.4 -1zM1462.7 264.8l0.8 2.4l-1.5 1.1l-0.7 -1.5zM1412.2 209.2l1.4 2l-1.1 1.4l-1.3 -1.2zM1422.6 253.9l1.1 1.8l-1.1 1.2l-1 -1.1zM1419.9 243.3l-1.3 1.1l-1.1 -0.7l1.2 -0.7zM1451.4 242.1l0.1 2.3l-1.6 0.5l-0.1 -1.4zM1408.8 195.4l0.4 1.8l-1.2 0.6l-0.4 -1.1zM1412.6 221l0.3 1.8l-1.2 0.6l-0.2 -1.1zM1475.3 224.4l1.8 1.8l-0.9 1.6l-1.6 -1.1zM1450.8 219.2l-2.4 0.5l-0.8 -1.6l2.2 -0.3zM1452 192.1l1 2.4l-1.5 1.2l-0.9 -1.4zM1441 196.5l1.9 0.3l0.2 1.4l-1.8 -0.2zM1392.6 233l2 0.6l-0 1.6l-1.8 -0.4zM1414.6 261l-1.6 2.1l-1.8 -0.7l1.4 -1.3zM1426.1 276.4l-0.5 2.3l-1.7 0.1l0.5 -1.4zM1467.7 226.7l-0.2 1.4l-1.1 0.1l0.2 -0.9zM1404.8 187.2l1.9 0.1l0.3 1.3l-1.7 -0.1zM1446 280.8l2.5 0.3l0.3 1.8l-2.2 -0.2zM1422.7 216.5l0.4 2.5l-1.6 0.7l-0.3 -1.5zM1446.7 253.9l-1.3 1.8l-1.5 -0.6l1.2 -1.1zM1434.6 231.3l-2.6 1.5l-1.6 -1.5l2.3 -0.9zM1432.2 205.2l1.7 1.3l-0.6 1.4l-1.5 -0.8zM1455.5 238.4l1.3 1.2l-0.6 1.2l-1.2 -0.7zM1437.9 184.7l-1.4 2.3l-1.9 -0.5l1.3 -1.4zM1425.4 230.1l-0.5 1.7l-1.3 -0l0.4 -1zM1447.8 184.8l2.1 1l-0.3 1.6l-1.8 -0.6zM1445.4 256.7l0.8 1.2l-0.7 0.8l-0.7 -0.7zM1422.2 220.7l2.3 1.9l-0.8 2l-2.1 -1.1zM1414.3 240.5l0.3 1.7l-1.2 0.6l-0.3 -1zM1380.4 217.7l-1.1 1.3l-1.1 -0.5l1 -0.8zM1421.3 227l1.7 0.5l0 1.3l-1.5 -0.3zM1453.5 268.7l-2.9 0.6l-1 -1.9l2.6 -0.3zM1482.9 211.2l-0.8 1.5l-1.2 -0.2l0.7 -0.9zM1459.4 217.4l1.7 0.9l-0.3 1.4l-1.6 -0.5zM1422.2 192.4l-0.9 2.2l-1.8 -0.2l0.8 -1.3zM1466.1 247.1l-0.4 2.4l-1.8 0.2l0.4 -1.4zM1474.8 253.4l2.7 0.2l0.4 1.9l-2.4 -0.1zM1397.3 207.1l2.2 0.4l0.2 1.6l-2 -0.2zM1486.5 220.7l1.3 0.6l-0.2 1l-1.1 -0.4zM1465.6 233.9l1.1 1.1l-0.5 1l-1 -0.7zM1393.7 204l0.7 1.6l-1 0.8l-0.6 -0.9zM1385.2 252.7l0.7 2.8l-1.8 1.1l-0.7 -1.7zM1436.8 197.5l2.4 1.6l-0.7 2l-2.1 -1zM1432 234.3l-1.7 2l-1.8 -0.8l1.5 -1.2zM1458.4 236.1l1 2.7l-1.7 1.2l-0.9 -1.6zM1402.3 271l1.2 1.9l-1.1 1.2l-1.1 -1.1zM1430.3 212.2l-0.8 1.4l-1.2 -0.3l0.7 -0.9zM1413.8 205.2l2.9 0.6l0.2 2.2l-2.6 -0.4zM1451.5 216.9l1.1 1.6l-0.9 1.1l-1 -1zM1473.4 229l-1.4 1.8l-1.5 -0.6l1.2 -1.1zM1415.8 267.1l2.3 0.7l-0.1 1.7l-2.1 -0.4zM1430.2 272.1l-0.7 2l-1.6 -0.1l0.6 -1.2zM1417.7 279.6l-2.4 0.1l-0.5 -1.7l2.2 -0zM1412 264.2l-1 1.4l-1.2 -0.4l0.9 -0.9zM1441.6 237.6l1.7 0.8l-0.2 1.3l-1.5 -0.5zM1450.8 249.4l-0 2.2l-1.5 0.4l0 -1.3zM1432.4 228.1l-1.8 0.2l-0.5 -1.2l1.6 -0.1zM1442.3 217.3l-1.4 2.2l-1.8 -0.5l1.3 -1.3zM1426.3 190.6l-1.6 0.5l-0.7 -1l1.4 -0.3zM1377.2 249.2l-1.4 1.4l-1.3 -0.7l1.2 -0.9zM1481.9 267.8l-1.9 2.1l-1.9 -0.9l1.7 -1.3zM1456.9 229.6l2.5 0.6l0.1 1.8l-2.2 -0.4zM1407.4 268.5l2.1 1.3l-0.5 1.8l-1.9 -0.8zM1418.2 214.1l1.5 1.8l-1 1.4l-1.3 -1.1zM1436.8 224.8l1.4 2.1l-1.2 1.4l-1.3 -1.3zM1386.6 205.9l2.6 0.7l0 1.9l-2.3 -0.4zM1381.3 230.2l2.2 1.1l-0.3 1.8l-2 -0.6zM1402.1 201l-2.1 1.4l-1.4 -1.2l1.9 -0.8zM1444.9 216.2l-0.1 2.1l-1.5 0.4l0.1 -1.3zM1414.9 278l1.2 2.5l-1.5 1.3l-1 -1.5zM1437.6 240.6l2 1.4l-0.5 1.7l-1.8 -0.8zM1433.7 274.4l0.5 2l-1.3 0.7l-0.4 -1.2zM1445.4 183.4l1.9 0.1l0.3 1.4l-1.7 -0.1zM1399.6 200.8l1.8 1.6l-0.8 1.6l-1.6 -1zM1389.9 255.5l1.6 0.2l0.2 1.1l-1.4 -0.1zM1453.1 258.1l-1.9 0.6l-0.8 -1.2l1.7 -0.3zM1436.5 248.4l0.3 1.9l-1.2 0.6l-0.3 -1.1zM1444.7 237.5l-1.6 1.2l-1.1 -0.9l1.4 -0.7zM1403.3 244.8l0.9 2.2l-1.4 1.1l-0.8 -1.3zM1468.8 226l0.3 1.6l-1.1 0.5l-0.3 -1zM1457.7 205l-1.4 1.6l-1.4 -0.6l1.2 -0.9zM1425.2 257.4l2.2 1.8l-0.8 1.9l-2 -1.1zM1392.2 227.4l1.4 0.2l0.2 1l-1.3 -0.1zM1426.3 201.1l-1.1 1.6l-1.4 -0.4l1 -1zM1458.2 206.8l0.8 2.4l-1.5 1l-0.7 -1.4zM1424.2 208.4l2.1 0.2l0.3 1.5l-1.9 -0.1zM1419.3 256.8l-1.4 0.8l-0.8 -0.8l1.2 -0.5zM1480.4 235.5l1.6 1l-0.4 1.3l-1.4 -0.6zM1437.4 269.5l0.2 2.7l-1.8 0.6l-0.1 -1.6zM1411.6 235l1.9 0.8l-0.2 1.5l-1.7 -0.5zM1410.3 236.4l-2.3 1.7l-1.6 -1.3l2.1 -1zM1454.8 234.1l0.3 2.7l-1.8 0.8l-0.3 -1.6zM1428.9 271.6l1.3 2.7l-1.6 1.4l-1.1 -1.6zM1444.8 255.1l0.1 1.4l-1 0.4l-0.1 -0.9zM1400.8 221.5l-0.7 2.5l-1.9 0l0.6 -1.5zM1393.9 237.7l-0.5 2.6l-1.9 0.1l0.5 -1.6zM1425.5 251.5l-2.1 1.1l-1.2 -1.3l1.9 -0.7zM1465.4 274.8l2.4 0.7l-0 1.8l-2.1 -0.4zM1429.6 274.2l1.2 1.3l-0.7 1.1l-1.1 -0.8zM1424.6 244l-1.9 1l-1.1 -1.1l1.7 -0.6zM1453.7 220.6l2.2 1.5l-0.6 1.8l-2 -0.9zM1455.6 205.5l-1.9 0.8l-1 -1.1l1.7 -0.5zM1441.7 269.8l-0.1 2.3l-1.7 0.4l0.1 -1.4zM1391.5 215.6l2.4 1.7l-0.7 2.1l-2.2 -1zM1410.5 222.2l-2 1.4l-1.4 -1.1l1.8 -0.8zM1468.7 258.7l0.7 2.2l-1.4 0.9l-0.6 -1.3zM1437.3 240l2.6 1.1l-0.3 2l-2.3 -0.7zM1426.6 206.4l1.8 1.7l-0.8 1.6l-1.6 -1zM1412.5 246.8l2.7 0.7l0.1 2l-2.4 -0.4zM1425.9 190.5l-2.8 0.6l-0.9 -1.8l2.5 -0.3zM1418 251.3l0.8 1.9l-1.1 0.9l-0.7 -1.1zM1426 195.5l-2.2 1l-1.2 -1.4l2 -0.6zM1471.1 211.1l1 1.7l-1 1l-0.9 -1zM1462.7 242.3l2.5 0.6l0.1 1.9l-2.3 -0.4zM1391 232.3l1.5 1.2l-0.5 1.3l-1.3 -0.7zM1451.6 193.3l-1.2 0.5l-0.6 -0.8l1.1 -0.3zM1470.6 231.7l-2.3 0.4l-0.7 -1.5l2 -0.2zM1473.9 229.7l1.8 0.2l0.2 1.3l-1.6 -0.1zM1448.6 276.4l-2.5 0.5l-0.9 -1.7l2.3 -0.3zM1391.4 258.1l-2 0.6l-0.8 -1.3l1.8 -0.3zM1458.4 213.9l0.6 1.3l-0.8 0.7l-0.5 -0.8zM1431.8 229l1.4 2.1l-1.2 1.4l-1.2 -1.3zM1481.4 244.4l0.7 1.6l-1 0.8l-0.6 -1zM1487.4 233.5l-2.3 0.8l-1 -1.5l2.1 -0.5zM1379.5 248.4l2.9 0.1l0.5 2.1l-2.6 -0.1zM1469.7 216.6l2 0.4l0.1 1.4l-1.8 -0.2zM1428 193.2l1.5 1.4l-0.7 1.3l-1.4 -0.9zM1428.6 252.3l-1.8 2.1l-1.8 -0.8l1.6 -1.3zM1435.4 191l-1.5 1.6l-1.4 -0.7l1.4 -0.9zM1419.5 275.8l-2.7 1.1l-1.3 -1.7l2.4 -0.6zM1390.9 249l-1 2.6l-2 -0.2l0.9 -1.6zM1399 234.6l1.5 1.1l-0.5 1.3l-1.4 -0.7zM1407.9 207.4l-0.8 1.8l-1.4 -0.2l0.7 -1.1zM1396.9 208.9l1.3 0.6l-0.1 1l-1.1 -0.3zM1451.7 195.1l-1.1 0.9l-0.9 -0.6l1 -0.6zM1407.9 209.7l2.4 0.2l0.4 1.7l-2.2 -0.1zM1429.8 233.7l-1.5 2.5l-2 -0.6l1.4 -1.5zM1413.4 229.3l-1.1 2.2l-1.7 -0.3l1 -1.3zM1444.7 207.4l-1.2 1.6l-1.4 -0.5l1.1 -1zM1481 260.5l1.5 1.4l-0.7 1.3l-1.3 -0.8zM1390.4 245.9l2.1 1.7l-0.8 1.8l-1.9 -1zM1433.1 213.3l-1 2.8l-2.1 -0.1l0.9 -1.7zM1426.9 281.4l-0.5 2.8l-2.1 0.2l0.4 -1.7zM1448.9 237.9l-1.5 1.2l-1.1 -0.8l1.4 -0.7zM1438.4 247.9l1.3 1.3l-0.6 1.1l-1.1 -0.8zM1433.7 205.3l-0.8 2.1l-1.6 -0.2l0.8 -1.2zM1426.9 274.6l0.2 2.9l-2 0.7l-0.2 -1.7zM1471.4 241.7l0.9 2.2l-1.3 1l-0.8 -1.3zM1461.8 238.2l0.1 2.3l-1.6 0.6l-0.1 -1.4zM1463 196.4l0.8 1.2l-0.7 0.8l-0.7 -0.7zM1419.9 270.1l2 1l-0.3 1.6l-1.8 -0.6zM1445.4 247.7l1.7 0.2l0.2 1.2l-1.5 -0.1zM1464.9 234.9l0.9 1.5l-0.9 0.9l-0.8 -0.9zM1480.7 237.3l2.3 1.4l-0.5 1.9l-2 -0.8zM1431.3 260.2l0 1.8l-1.2 0.4l-0 -1.1zM1478.6 219.1l-2.7 1.1l-1.3 -1.7l2.5 -0.7zM1462.1 229.6l0.9 2.8l-1.8 1.2l-0.8 -1.7zM1410 257l-2.2 1.6l-1.6 -1.2l2 -1zM1381.6 248.7l-1.1 2.6l-2 -0.2l1 -1.5zM1461.2 198.4l-2.4 1.6l-1.6 -1.4l2.2 -1z" style="fill:#cfb54e;fill-opacity:0.55" stroke="#cfb54e" stroke-width="0.54" stroke-linejoin="round"/>
<path d="M1442.1 299.4l-1.4 2.2l-1.8 -0.5l1.2 -1.3zM1456.5 297.8l-0 1.7l-1.2 0.3l0 -1zM1469.5 304.2l-0.5 1.6l-1.2 -0l0.4 -1zM1447.2 300.4l1.7 0.9l-0.3 1.4l-1.5 -0.5zM1472.4 297.9l-0.9 2.6l-2 -0.1l0.8 -1.6zM1463.6 271.9l-0.3 2l-1.4 0.2l0.3 -1.2zM1469.9 279.1l2.5 0.4l0.2 1.8l-2.3 -0.2zM1449.4 316.7l1 1.2l-0.6 0.9l-0.9 -0.7zM1425.3 289.2l-1.8 0.4l-0.6 -1.2l1.6 -0.2zM1422 280.4l0.6 1.5l-0.9 0.7l-0.5 -0.9zM1492.6 300.2l-2.1 1.8l-1.7 -1.1l1.9 -1.1zM1446.9 306l-1.7 0.3l-0.5 -1.1l1.5 -0.2zM1468.4 290.5l0.4 2.9l-1.9 0.8l-0.3 -1.7zM1443.5 315.6l-2.2 0.7l-1 -1.4l2 -0.4zM1423.6 310.1l1.5 0.2l0.1 1.1l-1.3 -0.1zM1484.1 318l0.5 1.3l-0.8 0.6l-0.5 -0.8zM1492.7 301.4l-0.9 1l-0.9 -0.4l0.8 -0.6zM1430 279.8l0.3 1.5l-1 0.5l-0.3 -0.9zM1383.8 310.8l1.9 1.2l-0.4 1.5l-1.7 -0.7zM1490.2 285l2.1 1.1l-0.3 1.7l-1.9 -0.7zM1449.5 278.4l0.7 1.1l-0.7 0.7l-0.6 -0.7zM1509.5 306.4l1.8 0.3l0.1 1.3l-1.6 -0.2zM1482.6 279.3l-1.1 1l-0.9 -0.5l1 -0.6zM1447.7 292l-1.6 0.7l-0.8 -1l1.5 -0.4zM1424.8 308.7l0.9 1.4l-0.8 0.9l-0.8 -0.8zM1491.4 301.2l1.2 1l-0.5 1l-1.1 -0.6zM1424.9 321.3l-0.6 1.3l-1 -0.1l0.5 -0.8zM1454.3 329.7l-0.9 1.5l-1.2 -0.3l0.8 -0.9zM1450.5 312.1l-1.7 1.3l-1.3 -0.9l1.5 -0.8zM1452.9 290.5l0.2 2l-1.4 0.6l-0.2 -1.2zM1438.9 278.6l1 1.8l-1 1l-0.9 -1.1zM1461.2 290.9l1.3 1.6l-0.8 1.2l-1.2 -0.9zM1446.1 337.9l2.2 0.4l0.2 1.6l-2 -0.2zM1507.5 301.8l2.4 1.4l-0.5 2l-2.2 -0.8zM1423 303.1l-2 0.1l-0.5 -1.4l1.8 -0.1zM1441.1 330.6l-3 0l-0.6 -2.1l2.7 -0zM1404.6 293l-0.7 2.9l-2.2 0.1l0.7 -1.7zM1403.8 294.3l-2 1l-1.1 -1.2l1.8 -0.6zM1474.1 327.1l-1.2 2l-1.6 -0.5l1.1 -1.2zM1447.7 310.8l-0.9 2.2l-1.7 -0.2l0.8 -1.3zM1407.8 315.5l-1.1 1.3l-1.1 -0.5l0.9 -0.8zM1448.6 320.3l-1.3 1.3l-1.2 -0.7l1.2 -0.8zM1484.8 312.8l1.1 0.9l-0.4 1l-1 -0.5zM1439.9 338.2l1.7 0.9l-0.3 1.4l-1.6 -0.6zM1471.2 274.7l2.4 0.1l0.4 1.7l-2.2 -0zM1458.5 285l1.5 0.6l-0.1 1.1l-1.3 -0.3zM1476.7 317.3l2.1 1.5l-0.7 1.7l-1.8 -0.9zM1428.1 289.2l2.7 0.8l-0 2l-2.4 -0.5zM1425.1 309.9l1.6 1.8l-0.9 1.5l-1.5 -1.1zM1443.7 281.7l-1.4 0.5l-0.6 -0.8l1.2 -0.3zM1483.8 288.3l1.5 0.6l-0.1 1.1l-1.3 -0.4zM1424.1 335l2.3 1.8l-0.8 1.9l-2 -1.1zM1446 311.7l-0.7 1.9l-1.5 -0.1l0.7 -1.1zM1482 332.7l-2.5 1l-1.2 -1.6l2.3 -0.6zM1492.9 307l-2.5 1.1l-1.3 -1.5l2.2 -0.7zM1457 289.4l-2.5 1.2l-1.4 -1.5l2.3 -0.7zM1455 329.9l2 1.8l-0.8 1.8l-1.8 -1.1zM1467 304.1l1.9 2.3l-1.2 1.8l-1.7 -1.4zM1421 286.6l2.7 1l-0.2 2.1l-2.5 -0.6zM1469.9 299.9l0.3 1.5l-1 0.5l-0.3 -0.9zM1441.8 285.1l-0.5 1.9l-1.4 0.1l0.4 -1.2zM1444.8 333.2l-1.4 1.7l-1.5 -0.7l1.3 -1zM1443.7 278.7l1.3 2.1l-1.2 1.3l-1.1 -1.3zM1423.4 328.6l0.5 1.8l-1.1 0.7l-0.5 -1.1zM1425 311.2l-1.6 2.5l-2.1 -0.6l1.4 -1.5zM1480.5 287.2l0.8 1l-0.6 0.8l-0.7 -0.6zM1405 312.3l1.6 1.3l-0.6 1.4l-1.5 -0.8zM1385.5 306.8l-0.1 1.5l-1 0.2l0.1 -0.9zM1423.1 287.9l1.9 1.6l-0.7 1.6l-1.7 -1zM1447.9 305.5l2.7 0.6l0.1 2l-2.4 -0.4zM1410.5 316l1.6 1.5l-0.7 1.4l-1.4 -0.9zM1444.4 300.6l0.4 1.5l-1 0.5l-0.3 -0.9zM1472.4 327.6l-1.6 0.8l-0.9 -0.9l1.4 -0.5zM1392.9 311.2l-2.3 0.4l-0.7 -1.6l2.1 -0.2zM1483 286l-0.4 2.7l-2 0.3l0.4 -1.6zM1485.8 286.1l-0.7 1.6l-1.3 -0.2l0.7 -1zM1450.2 280.7l0.9 1.1l-0.6 0.9l-0.8 -0.7zM1441.8 317.1l-1 1.4l-1.2 -0.4l0.9 -0.8zM1443 295.6l1.6 1.2l-0.5 1.4l-1.5 -0.7zM1395.2 318.3l-2.1 1.9l-1.7 -1.1l1.9 -1.1zM1444.1 303.1l-2.8 0.4l-0.8 -1.9l2.5 -0.2zM1401.4 316.3l1.3 1.1l-0.5 1.1l-1.2 -0.7zM1439.7 303.7l1.8 1l-0.4 1.4l-1.6 -0.6zM1428.3 303.7l-0.4 2l-1.5 0.1l0.4 -1.2zM1486.4 306.4l0.5 1.3l-0.8 0.6l-0.5 -0.8zM1453.9 318.3l-2.3 1.3l-1.4 -1.3l2 -0.8zM1445.8 309.7l1.4 2.7l-1.6 1.5l-1.2 -1.6zM1414.2 276.5l2.4 1.7l-0.7 2l-2.2 -1zM1463.1 303.5l1.8 1.5l-0.7 1.5l-1.6 -0.9zM1431.6 273.6l2.4 0.9l-0.2 1.9l-2.2 -0.6zM1467.9 276.1l-1 1.6l-1.3 -0.4l0.9 -0.9zM1481.4 297.6l-1 2.3l-1.8 -0.2l0.9 -1.4zM1491.5 319.9l-1.5 0.1l-0.4 -1.1l1.4 -0zM1452.3 285l1.1 1.9l-1.1 1.1l-0.9 -1.2zM1473.5 274.1l-2.1 1.2l-1.3 -1.2l1.9 -0.7zM1435.7 279.3l-1.5 1l-1 -0.8l1.3 -0.6zM1409 296.4l-1.6 0.8l-0.9 -1l1.4 -0.5zM1453.5 295.7l-0.7 2l-1.5 -0.1l0.6 -1.2zM1440.3 304.5l-1.4 1l-1 -0.8l1.2 -0.6zM1414.3 326.8l-1.3 0.2l-0.4 -0.9l1.2 -0.1zM1488.2 317.4l-1.1 2.3l-1.8 -0.3l1 -1.4zM1400.2 303.6l1.4 2.1l-1.2 1.4l-1.3 -1.2zM1412.3 291.6l1.3 2.2l-1.3 1.4l-1.2 -1.3zM1438.6 288.8l1.5 0.6l-0.1 1.2l-1.4 -0.4zM1401 296.1l-1.4 1.6l-1.4 -0.7l1.3 -1zM1483.7 299l1.3 1.1l-0.5 1.1l-1.1 -0.7zM1448 304.2l-0.5 3l-2.2 0.2l0.4 -1.8zM1439.8 292.7l-0.7 2.7l-2.1 0.1l0.6 -1.6zM1413.4 305.4l0.2 2.9l-2 0.7l-0.2 -1.8zM1459.2 283.7l1.3 0.6l-0.2 1l-1.1 -0.4zM1414.9 296.3l-0.9 2.5l-1.9 -0.1l0.8 -1.5zM1452.3 288.7l-1.9 0.9l-1 -1.1l1.7 -0.5zM1476.5 300.9l-2.6 0.4l-0.8 -1.7l2.3 -0.3zM1452.5 313.6l1.6 0.4l0.1 1.2l-1.4 -0.2zM1484.2 302.3l-1 1.4l-1.2 -0.5l0.9 -0.8zM1434.5 279.2l-1 2.5l-1.9 -0.2l0.9 -1.5zM1416.2 274l-2.3 0.7l-1 -1.5l2.1 -0.4zM1451.1 296.2l-0.6 2.5l-1.9 0.1l0.5 -1.5zM1441.6 312l-0 2.9l-2.1 0.6l0 -1.8zM1434.6 302.3l1.3 1.3l-0.7 1.2l-1.2 -0.8zM1500.2 320.4l-3 0l-0.6 -2.1l2.7 -0zM1435 287.3l-1 1.9l-1.5 -0.3l0.9 -1.1zM1465.1 295.6l2.1 0.6l-0 1.6l-1.9 -0.4zM1427.2 317.9l-1.1 1.6l-1.3 -0.4l1 -0.9zM1430.9 334.4l1.2 1.8l-1 1.2l-1 -1.1zM1420.6 332l-1.4 2.7l-2.1 -0.5l1.3 -1.6zM1415.1 296.9l-1 2.4l-1.9 -0.2l0.9 -1.5zM1447.5 287.3l-1.2 1.7l-1.4 -0.5l1.1 -1zM1490.1 323.3l-0.3 1.6l-1.2 0.1l0.2 -0.9zM1430.3 299l2 0.8l-0.1 1.5l-1.8 -0.5zM1466.8 282.5l-1.6 0.9l-0.9 -0.9l1.4 -0.5zM1471.9 300.3l-0.1 2.9l-2 0.5l0.1 -1.7zM1483.2 278.7l-2 0.4l-0.7 -1.3l1.8 -0.3zM1396.2 300.6l-2.3 0l-0.5 -1.6l2.1 -0zM1426.7 302.7l-0.3 2.3l-1.6 0.2l0.3 -1.4zM1419.5 307.1l1.7 1.5l-0.7 1.5l-1.5 -0.9zM1447.6 296.6l1 2.5l-1.6 1.2l-0.9 -1.5zM1414.5 276.2l-0 1.4l-1 0.3l0 -0.8zM1394.2 285.5l0.3 2.2l-1.5 0.7l-0.3 -1.3zM1439.7 284.4l-2.1 0.2l-0.6 -1.4l1.9 -0.1zM1419.4 327.6l-2.5 1.2l-1.3 -1.5l2.3 -0.7zM1422.6 314.6l2.8 0.3l0.3 2l-2.5 -0.2zM1492.6 314.4l0.5 2.6l-1.7 0.9l-0.5 -1.5zM1487.3 316.7l-2.4 0.8l-1 -1.5l2.2 -0.5zM1493.1 310.1l-0.2 1.6l-1.1 0.2l0.1 -0.9zM1403 291.6l-1 2.6l-2 -0.2l0.9 -1.6zM1448.9 333.8l1.2 1.3l-0.6 1.1l-1.1 -0.8zM1504.9 303.9l0.3 1.6l-1 0.5l-0.3 -0.9zM1420.3 321.9l-1.6 0.8l-0.9 -0.9l1.4 -0.5zM1456.6 318.8l-0.5 2.2l-1.7 0.1l0.5 -1.3zM1479 301.2l-0.4 1.8l-1.3 0.1l0.3 -1.1zM1428.9 275l-2.1 0.6l-0.9 -1.3l1.9 -0.4zM1433.8 329.7l-0.9 2.2l-1.8 -0.2l0.8 -1.3zM1423.4 274.3l-2.3 0.7l-1 -1.5l2.1 -0.4zM1428.3 288.3l2.5 0.7l-0 1.9l-2.2 -0.4zM1433.3 326.4l-2.2 0.2l-0.6 -1.5l2 -0.1zM1384.7 296.2l0.2 2.7l-1.9 0.7l-0.1 -1.6zM1462.7 278.3l2.7 1.3l-0.4 2.1l-2.4 -0.8zM1503.2 294.6l-2.4 1.7l-1.7 -1.4l2.2 -1zM1416.4 324.3l-1.1 1.8l-1.5 -0.4l1 -1.1zM1423.6 277.4l1.1 1l-0.5 1l-1 -0.6zM1502.1 307.6l1.7 0.3l0.1 1.2l-1.5 -0.2zM1469.9 274.1l-1.5 0.3l-0.5 -1l1.4 -0.2zM1434.4 325.4l0.2 1.5l-1 0.5l-0.2 -0.9zM1418.7 277.6l2.3 1.2l-0.4 1.9l-2.1 -0.7zM1433.2 306.2l2.9 0.3l0.4 2.1l-2.6 -0.2zM1417.3 318.8l-0.8 1.3l-1 -0.3l0.7 -0.8zM1391.5 293l1.5 0.6l-0.1 1.2l-1.4 -0.4zM1468.7 284l2.3 0.2l0.4 1.7l-2.1 -0.1zM1451.2 287.5l-1.1 1l-0.9 -0.6l1 -0.6zM1453.1 314.4l-1.5 0.5l-0.6 -1l1.4 -0.3zM1494.9 302.5l1.5 0.9l-0.3 1.2l-1.4 -0.5zM1443 298.5l0.9 1.5l-0.9 0.9l-0.8 -0.9zM1451 307.2l0.2 2.6l-1.8 0.7l-0.2 -1.6zM1452.2 279.5l2.9 0.4l0.3 2.1l-2.6 -0.2zM1457.5 271.9l2.9 0.6l0.2 2.2l-2.6 -0.3zM1409.7 304.6l2.8 0.7l0.1 2.1l-2.5 -0.4zM1479.8 313.4l-0.4 2.4l-1.7 0.2l0.3 -1.4zM1418.5 331.8l2.3 0.7l-0.1 1.7l-2 -0.4zM1429 270.1l2 1.6l-0.7 1.7l-1.8 -1zM1423.5 306.1l2 0.6l-0 1.5l-1.8 -0.4zM1405.5 312.6l2.8 0.6l0.1 2.1l-2.6 -0.4zM1452.2 294.4l-0.5 2.7l-2 0.2l0.4 -1.6zM1411.5 291l-1 1.7l-1.4 -0.3l0.9 -1zM1446.1 266.4l1.1 2.1l-1.3 1.2l-1 -1.3zM1424.1 296.2l-1.3 0.7l-0.8 -0.8l1.2 -0.4zM1410.9 325.3l-2.8 0.2l-0.7 -1.9l2.5 -0.1zM1465.5 282.2l-2.5 1.5l-1.5 -1.5l2.3 -0.9zM1443.5 313.4l1.9 0l0.4 1.3l-1.7 -0zM1474.3 286.3l2.4 0.2l0.3 1.7l-2.2 -0.1zM1445.4 289.1l-1.3 1.5l-1.3 -0.6l1.1 -0.9zM1452.3 281.3l-0.6 1.5l-1.2 -0.1l0.5 -0.9zM1432.8 288.2l1.4 1.6l-0.8 1.3l-1.2 -0.9zM1446.5 293.4l0.1 2.5l-1.7 0.6l-0.1 -1.5zM1441.5 297.2l0.8 1.1l-0.6 0.8l-0.7 -0.7zM1450.1 311.5l-0.9 1l-0.9 -0.5l0.8 -0.6zM1462 319l-2.3 1.6l-1.6 -1.3l2 -0.9zM1488.6 313.6l-2.6 1.2l-1.4 -1.6l2.4 -0.7zM1405.4 291.1l1.5 0.1l0.2 1.1l-1.4 -0.1zM1421.4 331.2l2.8 0.8l0 2.1l-2.5 -0.5zM1460.8 289.8l1.1 1.7l-0.9 1.1l-1 -1zM1431.1 316.9l-0 1.5l-1.1 0.3l0 -0.9zM1474.3 291l2 1.8l-0.9 1.8l-1.8 -1.1zM1460.1 313l2.1 1.3l-0.5 1.7l-1.9 -0.8zM1452.1 278.2l-2 0.5l-0.8 -1.3l1.8 -0.3zM1402.4 290.7l2.1 1.1l-0.3 1.7l-1.9 -0.7zM1477.5 310.1l-0 1.4l-1 0.3l0 -0.9zM1434 323.6l-1.3 0.6l-0.7 -0.8l1.2 -0.4zM1473.6 282.2l-1.8 1.4l-1.3 -1l1.6 -0.8zM1478.2 288.6l0.1 1.9l-1.3 0.5l-0.1 -1.1zM1451.8 307.8l-1.2 1.5l-1.3 -0.5l1.1 -0.9zM1426.7 301.7l-0.1 2.1l-1.5 0.3l0.1 -1.2zM1462.8 317.4l-0.6 1.8l-1.4 -0l0.5 -1.1zM1455.8 279.7l1.6 1.9l-1 1.5l-1.4 -1.2zM1437.4 273l-0.5 1.8l-1.4 0l0.4 -1.1zM1469 316.9l-0.6 1.9l-1.5 -0l0.5 -1.1zM1472.4 295.1l-1.4 2.3l-1.9 -0.5l1.2 -1.4zM1471.1 276.9l0.6 2.4l-1.5 0.9l-0.5 -1.4zM1426.9 314.9l0.1 2.9l-2 0.7l-0.1 -1.8zM1448.3 313.3l-1.1 1l-0.9 -0.6l1 -0.6zM1470.5 276.2l2.4 1.1l-0.3 1.9l-2.2 -0.6zM1430.2 310.6l2.4 1.3l-0.5 1.9l-2.1 -0.8zM1411.8 309l1.3 1.6l-0.9 1.2l-1.2 -1zM1445.7 282.2l0.3 2.7l-1.8 0.7l-0.2 -1.6zM1465 283.6l1.3 1.6l-0.9 1.3l-1.2 -1zM1411.7 319.1l2.4 1.1l-0.3 1.9l-2.2 -0.7zM1446 328.5l-1.3 0.7l-0.8 -0.8l1.2 -0.4zM1464.1 290l2.6 1.3l-0.4 2.1l-2.3 -0.8zM1396.8 314.4l1.9 0.2l0.3 1.4l-1.7 -0.1zM1480.5 310.5l2 0.2l0.3 1.4l-1.8 -0.1zM1497.2 288l1 1.2l-0.7 0.9l-0.9 -0.7zM1466.7 276.5l2.1 0l0.4 1.5l-1.9 -0zM1471.6 309.3l-0.2 2.6l-1.8 0.4l0.2 -1.5zM1466.5 311l-1.6 1.2l-1.2 -0.9l1.5 -0.7zM1428.7 304.5l-0.1 1.4l-1 0.2l0.1 -0.8zM1446.9 313l0.5 1.7l-1.1 0.7l-0.4 -1zM1438 296.2l-0.1 2.2l-1.6 0.4l0 -1.3zM1486.6 300.3l-2.4 0.1l-0.6 -1.7l2.2 -0.1zM1445.9 304.7l-1 2.4l-1.9 -0.2l0.9 -1.4zM1452.4 277.8l-1.9 1.3l-1.3 -1.1l1.7 -0.8zM1469.2 329.6l-2 1.3l-1.3 -1.1l1.8 -0.8zM1492.9 312.6l1.1 0.8l-0.3 1l-1 -0.5zM1501.8 311.7l1.6 1.6l-0.8 1.4l-1.4 -1zM1446.4 288.3l1.4 2.4l-1.4 1.5l-1.3 -1.5zM1472.1 316.1l1 2.7l-1.7 1.2l-0.9 -1.6zM1484.8 297.9l-1.8 1.3l-1.3 -1l1.6 -0.8zM1444.1 294l1.2 1.9l-1.1 1.2l-1.1 -1.1zM1484.6 315.2l-1.2 1.7l-1.4 -0.5l1 -1zM1440 305.9l2 2.3l-1.2 1.8l-1.8 -1.4zM1496.3 297.7l-1.6 1.1l-1.1 -0.9l1.4 -0.7zM1423.7 271.2l2.7 0.3l0.3 1.9l-2.4 -0.2zM1491.2 313.6l-0.7 2.2l-1.7 -0.1l0.7 -1.3zM1421.9 269.9l-0.2 2.3l-1.7 0.3l0.2 -1.4zM1411.7 315.9l0 2.6l-1.8 0.5l-0 -1.6zM1416.1 316.6l-2.1 0l-0.4 -1.5l1.9 -0zM1433.4 329.9l0.4 2.8l-1.8 0.8l-0.4 -1.7zM1472 288.9l1.5 2.3l-1.3 1.5l-1.3 -1.4zM1439.2 308l-1.7 2.2l-1.9 -0.8l1.5 -1.3zM1490.7 290.5l1.2 0.9l-0.4 1.1l-1.1 -0.5zM1474.7 325l-1.6 1.1l-1.1 -0.9l1.4 -0.7zM1408.9 294.4l-1.9 2.3l-2 -0.9l1.7 -1.4zM1390.5 297.9l-1.3 2.7l-2.1 -0.4l1.2 -1.6zM1402.8 311.3l-1.1 2.4l-1.9 -0.3l1 -1.4zM1469.9 336l1.3 0.5l-0.1 1l-1.2 -0.3zM1457 312l-1.9 0.4l-0.6 -1.3l1.7 -0.2zM1485.7 282.4l2.1 0.9l-0.2 1.6l-1.9 -0.5zM1432.6 321.9l2.6 1.4l-0.4 2.1l-2.3 -0.8zM1418.4 276.1l-2 1.2l-1.2 -1.1l1.8 -0.7zM1455.6 303l-1.8 1.6l-1.5 -0.9l1.6 -1zM1406.3 315.5l-1.8 0.2l-0.5 -1.2l1.6 -0.1zM1390.7 305l1.4 0.3l0.1 1.1l-1.3 -0.2zM1413.1 310.4l-1.2 1.4l-1.2 -0.5l1.1 -0.9zM1439.8 274.5l-0.4 1.9l-1.4 0.1l0.3 -1.2zM1431.1 320l0.9 1.2l-0.6 0.9l-0.8 -0.7zM1415.1 320.8l0.8 1.4l-0.8 0.9l-0.7 -0.8zM1417.5 294.1l0 2.2l-1.5 0.4l-0 -1.3zM1443.4 305.3l2.3 1.9l-0.8 2l-2.1 -1.1zM1440 307l0.2 2.4l-1.7 0.6l-0.2 -1.5zM1394.2 294.2l-1.9 1.7l-1.6 -1l1.7 -1zM1422.4 315.3l2.2 0.5l0.1 1.7l-2 -0.3zM1398.3 301.1l2.3 0.9l-0.2 1.8l-2.1 -0.5zM1482.9 299.1l-2.1 2l-1.9 -1.1l1.9 -1.2zM1458.6 320.6l0.8 1.4l-0.8 0.8l-0.7 -0.8zM1407.8 305.5l-0.7 1.8l-1.4 -0.1l0.6 -1.1zM1479.4 329.1l-1.6 1l-1 -0.9l1.5 -0.6zM1401.1 295.9l-1 1.7l-1.4 -0.4l0.9 -1zM1492.9 298.7l2.5 0.2l0.4 1.8l-2.2 -0.1zM1383 307.7l-1.5 1.8l-1.5 -0.7l1.3 -1.1zM1427.3 295.9l2.5 1.2l-0.4 2l-2.2 -0.7zM1442.4 298.6l0.8 1.1l-0.6 0.8l-0.7 -0.7zM1473.1 326l-2.7 1.1l-1.3 -1.6l2.4 -0.7zM1445.1 296.2l-0.9 1.6l-1.3 -0.3l0.8 -1zM1419.3 299l0.8 1.7l-1 0.9l-0.8 -1zM1453.1 272.7l2 1.3l-0.6 1.6l-1.8 -0.8zM1446.8 329.4l1.1 1.4l-0.8 1.1l-1 -0.9zM1458.2 327.4l-2.3 1.8l-1.7 -1.3l2.1 -1.1zM1443.4 311.2l-2.5 1.6l-1.6 -1.4l2.3 -1zM1493.4 294.1l1.2 2.3l-1.3 1.3l-1.1 -1.4zM1421.4 306.8l-2.2 0.5l-0.8 -1.4l2 -0.3zM1439.7 292l-0.9 1.5l-1.2 -0.3l0.8 -0.9zM1407.1 297.1l2.4 0.8l-0.1 1.9l-2.2 -0.5zM1446.3 300.4l-2 0.4l-0.7 -1.3l1.8 -0.2zM1471.3 284.8l-0.8 1.7l-1.3 -0.2l0.7 -1zM1458.1 297.6l-2.5 0.5l-0.9 -1.7l2.3 -0.3zM1466.1 296.4l-2.9 0l-0.6 -2l2.6 -0zM1410.5 317.3l-2.7 1.1l-1.3 -1.7l2.4 -0.7zM1483.6 303.6l-1.8 0.1l-0.4 -1.3l1.6 -0zM1403.2 295.4l1.8 1.2l-0.5 1.5l-1.6 -0.7zM1461.1 308.9l-1.1 1.2l-1.1 -0.5l1 -0.7zM1457.7 280.9l-2.6 0.9l-1.2 -1.7l2.4 -0.5zM1462.4 280.8l1.5 0.7l-0.2 1.2l-1.3 -0.4zM1435.2 314.1l-2.6 0.4l-0.8 -1.7l2.3 -0.2zM1432.5 329.7l2.5 0.5l0.2 1.8l-2.2 -0.3zM1467.1 313.3l-1.7 2.3l-1.9 -0.7l1.5 -1.4zM1439 310.2l1.8 1.5l-0.7 1.6l-1.7 -0.9zM1460 310.5l-0.3 2l-1.5 0.2l0.3 -1.2zM1403.3 305.9l-1.3 1.2l-1.1 -0.6l1.1 -0.7zM1455.2 296.3l-0.3 1.4l-1.1 0.1l0.3 -0.9zM1484.8 311.2l0.8 1.4l-0.8 0.8l-0.7 -0.8zM1431.1 300.8l-0 1.5l-1 0.3l0 -0.9zM1459.5 282.5l0.2 1.4l-1 0.4l-0.2 -0.9zM1462.8 273.3l-0.6 2.5l-1.9 0.1l0.6 -1.5zM1472.4 307.8l2.9 0.6l0.1 2.1l-2.6 -0.4zM1452.7 300.1l-2.6 0.2l-0.7 -1.8l2.4 -0.1zM1421.1 286.5l-2.7 0.8l-1.1 -1.7l2.4 -0.5zM1410.5 321.3l1.1 2.2l-1.3 1.2l-1 -1.3zM1464.1 324.5l1.7 0l0.3 1.2l-1.5 -0zM1476.2 304.4l-1.9 1.2l-1.2 -1.1l1.7 -0.7zM1446.5 322.3l2.4 0.9l-0.1 1.9l-2.2 -0.5zM1460 281l1.1 0.8l-0.4 0.9l-1 -0.5zM1452.5 304.8l-1 1l-0.9 -0.5l0.9 -0.6zM1427.2 311.1l-0 1.4l-1 0.3l0 -0.9zM1432.1 329.6l-1.2 2l-1.7 -0.4l1.1 -1.2zM1434.8 317.7l1 1.4l-0.8 1l-0.9 -0.8zM1506.1 315.8l0.5 2.3l-1.5 0.8l-0.5 -1.4zM1379.2 303l1.4 2.3l-1.3 1.5l-1.3 -1.4z" style="fill:#cfb54e;fill-opacity:0.55" stroke="#cfb54e" stroke-width="0.54" stroke-linejoin="round"/>
<path d="M1435.1 277.6l-2 1.5l-1.4 -1.1l1.8 -0.9zM1390.6 277.5l-1.8 0.9l-1 -1.1l1.6 -0.5zM1381.5 261.1l-2.4 1.5l-1.5 -1.3l2.1 -0.9zM1403.7 276.9l-0.8 2.5l-1.9 -0.1l0.7 -1.5zM1385.1 269l-1.4 0.3l-0.5 -0.9l1.3 -0.2zM1420.3 253.6l-1.4 0.7l-0.7 -0.8l1.2 -0.4zM1378.6 253l-1.9 1.5l-1.4 -1l1.7 -0.9zM1425.1 257l-1.4 0.7l-0.8 -0.9l1.3 -0.4zM1411.2 263.7l-0.5 1.6l-1.2 -0.1l0.5 -0.9zM1431.9 264.6l-2.6 0.4l-0.8 -1.8l2.4 -0.2zM1408.7 264.1l1.4 0.6l-0.1 1.1l-1.2 -0.3zM1431.6 287.6l-0.2 1.5l-1.1 0.2l0.2 -0.9zM1406 272.2l2.8 1.1l-0.2 2.2l-2.5 -0.7zM1406.1 225.9l-1.2 1.5l-1.3 -0.5l1.1 -0.9zM1373.3 270.5l1 2.6l-1.6 1.2l-0.9 -1.6zM1408.2 259.4l-1.1 1.7l-1.4 -0.4l1 -1zM1395.4 260.8l0.9 1.7l-1 0.9l-0.8 -1zM1415.5 283.9l-1.5 2.6l-2.1 -0.5l1.4 -1.5zM1422.8 266.2l-2 0.1l-0.4 -1.4l1.8 -0zM1413.1 291.2l-0.8 2.1l-1.6 -0.1l0.7 -1.3zM1372.3 267.1l1.6 1.7l-0.9 1.4l-1.4 -1zM1428.8 291.1l2.3 1l-0.2 1.8l-2.1 -0.6zM1400.3 260.9l1 1.7l-1 1l-0.9 -1zM1409.2 282.6l1.7 0.2l0.2 1.2l-1.5 -0.1zM1406.9 303.5l-0.9 1.2l-1 -0.4l0.8 -0.7zM1419.8 282.6l1.5 1.9l-1 1.4l-1.4 -1.1zM1401.5 253.4l-2.1 2l-1.8 -1l1.9 -1.2zM1377.9 258.4l-0.5 2.2l-1.6 0.1l0.5 -1.3zM1418.1 310.9l2.4 0.2l0.3 1.7l-2.1 -0.1zM1437.5 296.1l2.1 1.9l-0.9 1.9l-1.9 -1.1zM1438.5 267.2l0.1 1.8l-1.2 0.4l-0.1 -1.1zM1393.9 274.5l1.6 0.8l-0.2 1.3l-1.5 -0.5zM1416.2 247.9l0.4 2.5l-1.7 0.8l-0.4 -1.5zM1399.4 302.1l-2 0l-0.4 -1.4l1.8 -0zM1411.7 295.2l-1.5 0.6l-0.7 -1l1.4 -0.3zM1413.1 252.6l-1.5 1.8l-1.6 -0.7l1.3 -1.1zM1423.4 258.9l1.1 1.2l-0.6 1l-1 -0.7zM1434 248.3l1.6 2.3l-1.3 1.5l-1.4 -1.4zM1410.7 251.4l0.8 1.9l-1.1 0.9l-0.7 -1.1zM1389.2 279.8l-0.8 1.3l-1.1 -0.3l0.7 -0.8zM1380.2 273.1l-1 1.4l-1.2 -0.4l0.9 -0.8zM1399.5 241.4l1.9 0.5l0 1.4l-1.7 -0.3zM1407 275.8l-0.6 1.5l-1.2 -0.2l0.6 -0.9zM1418.9 300.3l2.3 0.6l0 1.8l-2.1 -0.4zM1438 248.2l2.6 0.3l0.3 1.9l-2.4 -0.2zM1421.8 284l-2 1.4l-1.4 -1.1l1.8 -0.8zM1402.4 255.9l-1 2.5l-1.9 -0.2l0.9 -1.5zM1396.8 302.8l-1.4 2.4l-2 -0.5l1.2 -1.5zM1386.9 277.2l0.1 2.8l-1.9 0.6l-0.1 -1.7zM1438.4 273.2l-1.7 1.5l-1.4 -0.9l1.6 -0.9zM1426.6 284.1l1.7 1.7l-0.9 1.5l-1.5 -1zM1401.4 247.3l2.6 0.1l0.5 1.9l-2.4 -0.1zM1406.9 278l2.2 0.5l0.1 1.6l-2 -0.3zM1427.3 284.5l-0.4 2.4l-1.8 0.2l0.4 -1.4zM1442.4 254.6l1.5 2.4l-1.4 1.5l-1.4 -1.4zM1406.2 295l-0.5 1.4l-1.1 -0.1l0.5 -0.8zM1428.7 279.8l0.8 1.7l-1 0.9l-0.7 -1zM1406.2 280.1l1 1.5l-0.8 1l-0.9 -0.9zM1392.7 294.6l-0.4 1.8l-1.4 0.1l0.4 -1.1zM1408.1 281.8l0.5 2.8l-1.9 0.9l-0.4 -1.7zM1397.9 276.1l-0.7 1.6l-1.3 -0.2l0.6 -1zM1423.5 283l-0.1 2.4l-1.7 0.4l0.1 -1.4zM1386.8 279.9l-2.2 1.6l-1.6 -1.2l2 -1zM1392.2 283l2.3 1.3l-0.5 1.9l-2 -0.8zM1417.3 288.7l-0.1 2.2l-1.6 0.4l0.1 -1.3zM1431.2 255.6l1.3 1.9l-1 1.3l-1.2 -1.1zM1409.6 267.4l-0.9 1.1l-1 -0.4l0.8 -0.7zM1434.1 301.2l-0.8 1.6l-1.3 -0.3l0.7 -0.9zM1438.8 275.7l-0 2.1l-1.5 0.4l0 -1.3zM1421.4 274l2.3 1l-0.3 1.8l-2.1 -0.6zM1419.8 251.3l0.9 1.9l-1.1 1l-0.8 -1.1zM1440.9 290l0.1 1.6l-1.1 0.4l-0.1 -1zM1406.5 288.5l-1.2 1.7l-1.4 -0.5l1.1 -1zM1438.5 267.6l1.4 2.7l-1.6 1.5l-1.2 -1.6zM1423 239.9l-2.7 0.9l-1.2 -1.7l2.4 -0.6zM1393 297.7l0.9 2.3l-1.4 1.1l-0.8 -1.4zM1429.8 257.3l0.9 2.2l-1.3 1.1l-0.8 -1.3zM1397.8 296.6l0.8 1.2l-0.7 0.8l-0.7 -0.7zM1426.6 286.3l-1.4 0l-0.3 -1l1.2 -0zM1410.6 272.1l-2.2 0.6l-0.9 -1.4l2 -0.4zM1433.7 278.4l1.5 0.3l0.1 1.1l-1.4 -0.2zM1400 239.4l2.1 2.1l-1.1 1.9l-1.9 -1.3zM1419.6 233.7l-1.8 0.6l-0.8 -1.1l1.6 -0.3zM1409.2 238.3l1.3 2.5l-1.5 1.4l-1.1 -1.5zM1385.9 295.8l1.2 2.4l-1.5 1.3l-1.1 -1.5zM1390.4 285.5l2.3 0.3l0.2 1.7l-2.1 -0.2zM1424 281.7l-1.8 2l-1.7 -0.9l1.7 -1.2zM1407.4 244.6l2.6 0.2l0.4 1.9l-2.3 -0.1zM1410.2 273.2l1.8 1.1l-0.4 1.5l-1.6 -0.7zM1399.6 266.5l-1.9 0.7l-0.9 -1.2l1.7 -0.4zM1396.4 246.2l-1.5 0.5l-0.6 -0.9l1.3 -0.3zM1414.6 307.1l1 2.2l-1.3 1.1l-0.9 -1.3zM1441.4 268.1l-2.8 0.5l-0.9 -1.9l2.5 -0.3zM1403.2 279l-0.7 2l-1.5 -0.1l0.6 -1.2zM1436.9 272.5l-0.3 1.3l-1 0.1l0.3 -0.8zM1435 254.8l0.2 1.7l-1.1 0.5l-0.2 -1zM1421.6 266.7l1.1 1l-0.5 1l-1 -0.6zM1409.6 280.3l-1 1.6l-1.3 -0.3l0.9 -1zM1386.2 271.7l1.3 0.6l-0.1 1.1l-1.2 -0.3zM1423 238.6l-0.4 1.7l-1.2 0l0.4 -1zM1401.6 252.7l1.7 0.2l0.2 1.2l-1.5 -0.1zM1425.3 255.2l1.1 1.2l-0.6 1l-1 -0.7zM1401.4 283.7l-2.7 0l-0.6 -1.9l2.4 -0zM1414.6 293.7l-1.9 0.9l-1 -1.1l1.7 -0.5zM1423.5 264l0.4 1.4l-0.9 0.5l-0.3 -0.8zM1420.5 307l-1.6 1.7l-1.5 -0.8l1.5 -1zM1393.2 237.4l1.7 1l-0.4 1.4l-1.5 -0.6zM1413.1 308l1.4 0.1l0.2 1l-1.3 -0zM1406.8 238.4l-1.7 1.8l-1.6 -0.8l1.5 -1.1zM1411.1 280.6l2 1.7l-0.8 1.8l-1.8 -1zM1426 245.1l-2.3 1.9l-1.8 -1.2l2.1 -1.2zM1424 275l-2.3 0.2l-0.6 -1.6l2.1 -0.1zM1421.6 254.4l0.9 1.1l-0.6 0.8l-0.8 -0.6zM1384.5 269.6l-2.9 0.8l-1.1 -1.9l2.6 -0.5zM1407.1 280.9l0.4 2.1l-1.4 0.7l-0.4 -1.3zM1390.2 251.9l-0 2.1l-1.5 0.4l0 -1.2zM1409.2 234.9l-0.1 1.8l-1.3 0.3l0.1 -1.1zM1423.6 240l-2.2 0.8l-1 -1.4l2 -0.5zM1410.4 270.2l-0.3 1.9l-1.4 0.1l0.3 -1.1zM1415.7 294.6l-0.4 1.4l-1.1 -0l0.4 -0.8zM1413.6 272.1l-1.6 0.2l-0.4 -1.1l1.4 -0.1zM1397.2 240.5l1.4 0.1l0.2 1l-1.2 -0zM1422.4 288.4l-2.6 1.4l-1.5 -1.5l2.3 -0.9zM1383.1 247.9l-1.4 2l-1.6 -0.6l1.2 -1.2zM1427.5 238.1l1.8 2.4l-1.3 1.7l-1.6 -1.4zM1390.7 304.6l2 0l0.4 1.4l-1.8 -0zM1382.8 255.4l1.5 0.2l0.1 1.1l-1.3 -0.1zM1428.9 244.7l-0.2 1.4l-1 0.1l0.2 -0.8zM1418.2 286.1l1.8 0.5l0 1.4l-1.6 -0.3zM1421 232l2 1.1l-0.4 1.6l-1.8 -0.7zM1418.6 247.2l1.8 2.1l-1.1 1.7l-1.6 -1.3zM1423.7 267.4l-2.5 0.5l-0.9 -1.6l2.2 -0.3zM1406.9 279.6l0.9 1.2l-0.7 0.9l-0.8 -0.7zM1406.9 274.8l0.4 2.3l-1.5 0.7l-0.3 -1.4zM1433.3 276.5l1 1.3l-0.7 0.9l-0.9 -0.8zM1411.3 232.3l-2.5 0.2l-0.7 -1.7l2.2 -0.1zM1421.9 272.8l1.4 2.4l-1.4 1.4l-1.2 -1.4zM1411.1 267.3l-0.9 2.6l-2 -0.1l0.8 -1.6zM1440 281.9l-2 0.8l-0.9 -1.3l1.8 -0.5zM1416.6 286.1l2.6 0.6l0.1 1.9l-2.3 -0.4zM1416.3 291.9l1.4 0.4l0 1.1l-1.3 -0.2zM1418.9 252.3l0.4 2.5l-1.6 0.8l-0.4 -1.5zM1409.9 295.9l0.9 1.5l-0.9 0.9l-0.8 -0.9zM1405.9 233.5l-0.3 1.7l-1.3 0.1l0.3 -1zM1376.8 261l-0.1 2.9l-2.1 0.5l0.1 -1.7zM1432.1 287.9l-1.4 2l-1.7 -0.6l1.3 -1.2zM1415.5 253.3l-0.9 1l-0.9 -0.4l0.8 -0.6zM1399.7 253.4l1.9 1.9l-0.9 1.7l-1.8 -1.1zM1416.4 305.1l0 2.2l-1.5 0.5l-0 -1.3zM1394.7 253l2.2 0.1l0.4 1.6l-2 -0.1zM1443.7 270.6l0.3 1.5l-1 0.5l-0.2 -0.9zM1433 243.4l-1.7 1.8l-1.6 -0.8l1.5 -1.1zM1425.2 255.2l-2.2 1.3l-1.4 -1.3l2 -0.8zM1436.9 285.9l1.3 1.9l-1.1 1.3l-1.2 -1.2zM1402.2 281.3l-1.5 0l-0.3 -1l1.3 -0zM1376.6 261.9l2.6 0.4l0.2 1.9l-2.3 -0.2zM1404.1 264.6l-2.1 1.9l-1.8 -1.1l1.9 -1.2zM1420.3 283.4l0.7 1.8l-1.1 0.8l-0.6 -1.1zM1416 229.7l-1.7 0.1l-0.4 -1.1l1.5 -0.1zM1427.5 245.7l-0.6 1.3l-1 -0.2l0.6 -0.8zM1448.5 275.2l1.6 0.5l-0 1.2l-1.4 -0.3zM1401.6 233.5l-0.6 1.7l-1.3 -0.1l0.6 -1zM1403.1 280.7l-1.4 2l-1.7 -0.6l1.3 -1.2zM1399.6 296.2l-0 2.6l-1.8 0.5l0 -1.5zM1432.2 273.1l0.3 2.2l-1.5 0.7l-0.3 -1.3zM1389.5 284.2l-1.8 0.7l-0.8 -1.1l1.6 -0.4zM1434.7 258.4l2.8 0.4l0.3 2l-2.5 -0.2zM1407.5 238.5l-1.3 0.4l-0.5 -0.8l1.2 -0.2zM1392.1 298.1l-0.4 1.8l-1.3 0.1l0.3 -1.1zM1409.3 290.4l0.6 1.7l-1.1 0.8l-0.6 -1zM1395.5 282.9l0 2.6l-1.8 0.5l-0 -1.6zM1415.9 257.4l-1.4 0.1l-0.4 -0.9l1.2 -0.1zM1397.9 290.7l-2.9 0.6l-1 -1.9l2.6 -0.3zM1385.5 271l0.3 2.4l-1.6 0.7l-0.2 -1.4zM1439.8 287.6l-0.6 2.5l-1.9 0.1l0.6 -1.5zM1418.4 276.4l-1.5 1l-1 -0.8l1.3 -0.6z" style="fill:#cfb54e;fill-opacity:0.55" stroke="#cfb54e" stroke-width="0.54" stroke-linejoin="round"/>
<path d="M1450.7 220.2l1.7 0.2l0.2 1.2l-1.5 -0.1zM1471.2 211.2l-1.7 2.5l-2.1 -0.7l1.6 -1.5zM1456.7 221.4l-1.3 0.7l-0.7 -0.8l1.2 -0.4zM1464.8 205.2l2.8 1l-0.1 2.2l-2.5 -0.6zM1452.1 189.8l-2.1 0.6l-0.8 -1.3l1.9 -0.3zM1474.6 220.7l-2.1 1.4l-1.4 -1.2l1.9 -0.8zM1465.9 211.8l1.3 2.1l-1.2 1.3l-1.1 -1.3zM1481.3 189.9l0.2 1.7l-1.2 0.5l-0.2 -1zM1476.2 184.8l2.7 0.4l0.3 2l-2.5 -0.2zM1475.7 221l-0.3 2.4l-1.8 0.3l0.3 -1.4zM1484.7 209.5l-1.7 0.9l-1 -1l1.5 -0.6zM1465.8 207l2.2 0.9l-0.2 1.7l-2 -0.5zM1480.9 231.5l-0.8 1.6l-1.3 -0.2l0.7 -1zM1469.8 211.6l2 1.4l-0.6 1.7l-1.8 -0.8zM1483.5 184.3l1.7 0.4l0.1 1.3l-1.6 -0.2zM1441.8 207.9l1.4 1.7l-0.9 1.3l-1.2 -1zM1464.6 228.7l1 1l-0.5 0.9l-0.9 -0.6zM1489.1 202l-2.4 0.7l-0.9 -1.5l2.1 -0.4zM1496.3 223.3l-1.9 1.2l-1.2 -1.1l1.7 -0.7zM1471.1 231.1l0.5 1.7l-1.1 0.7l-0.4 -1zM1487.1 230.5l-0.2 2.3l-1.7 0.3l0.2 -1.4zM1463.6 225.6l-1.4 0.4l-0.6 -0.9l1.3 -0.2zM1494.1 201.3l-2.1 2.2l-1.9 -1l1.8 -1.3zM1463.4 191.9l2.6 0l0.5 1.8l-2.3 -0zM1462.9 227l1.6 0.1l0.3 1.2l-1.5 -0zM1482.4 222.2l1.7 0.7l-0.2 1.3l-1.5 -0.4zM1491 198.4l-0.5 1.8l-1.4 -0l0.5 -1.1zM1459.3 228l2.5 1l-0.2 2l-2.3 -0.6zM1476.4 210.7l2.6 1.4l-0.5 2.1l-2.3 -0.8zM1440.9 223.7l1.1 1.3l-0.7 1.1l-1 -0.8zM1477.8 221.8l2.1 1.3l-0.5 1.7l-1.9 -0.8zM1479 226.6l-1.5 2.2l-1.9 -0.6l1.3 -1.3zM1483.7 196.5l1.7 2.1l-1.1 1.6l-1.6 -1.2zM1479.3 236.3l1.6 0.2l0.2 1.2l-1.5 -0.1zM1472.4 226.6l0.6 2.9l-1.9 1l-0.5 -1.7zM1494.7 210.7l-1.2 2.1l-1.7 -0.4l1.1 -1.3zM1457.8 230.8l2.2 0l0.4 1.5l-2 -0zM1457.4 201.6l-1 1.7l-1.3 -0.3l0.9 -1zM1480.5 206.4l2.9 0.7l0.1 2.1l-2.6 -0.4zM1463.1 217.5l1 2l-1.2 1.1l-0.9 -1.2zM1474.3 208.7l-2 1.1l-1.2 -1.2l1.8 -0.7zM1442.5 210.6l-0.3 2.8l-2 0.4l0.3 -1.7zM1471.6 210.4l2.3 0.8l-0.1 1.8l-2 -0.5zM1477.7 184.8l-1.2 1.7l-1.4 -0.5l1.1 -1zM1447.5 229.4l-2.9 0.2l-0.7 -2l2.6 -0.1zM1462 208.1l1.2 1.2l-0.6 1.1l-1.1 -0.7zM1467.9 222.5l-0.1 1.5l-1 0.3l0 -0.9zM1469 207.3l0.8 2.4l-1.5 1l-0.7 -1.4zM1481.7 211.1l0.5 2l-1.3 0.8l-0.5 -1.2zM1468.1 213.9l-0.6 2.2l-1.6 0l0.6 -1.3zM1472.6 214l-2.4 0.3l-0.7 -1.6l2.2 -0.2zM1461.9 234l0.4 2.9l-1.9 0.9l-0.4 -1.7zM1447.7 191.9l-1.5 2.5l-2.1 -0.6l1.4 -1.5zM1464.6 220.8l-0.6 3l-2.2 0.2l0.5 -1.8zM1472.5 196.7l0.1 2.8l-1.9 0.7l-0.1 -1.7zM1486.6 198.1l-1.8 0.4l-0.7 -1.2l1.6 -0.3zM1453.4 204.9l1.4 0.2l0.1 1.1l-1.3 -0.1zM1493.2 222.2l-0.8 1.8l-1.5 -0.2l0.7 -1.1zM1451.9 185.9l1.2 0.6l-0.2 1l-1.1 -0.4zM1447.5 211.5l2.3 0l0.5 1.6l-2 -0zM1453.6 223.2l0.3 2.4l-1.6 0.7l-0.3 -1.4zM1497.4 208.1l0.3 1.6l-1 0.6l-0.3 -1zM1455.9 217.8l-1.5 1.4l-1.3 -0.7l1.3 -0.9zM1486.4 226.4l2.1 1.4l-0.6 1.7l-1.9 -0.8zM1465 196.4l-0.1 1.9l-1.3 0.3l0.1 -1.1zM1465.3 225.1l1.8 2.2l-1.2 1.7l-1.6 -1.3zM1460.6 179.7l0.2 1.6l-1.1 0.5l-0.2 -1zM1489.9 229.5l2.7 1.3l-0.4 2.1l-2.4 -0.8zM1488.4 220.1l1.8 0.1l0.3 1.2l-1.6 -0zM1466.7 214.5l-1 1l-0.9 -0.5l0.9 -0.6zM1471.8 234.6l-1.7 1l-1.1 -1l1.5 -0.6zM1494.4 198.4l-2.3 1.6l-1.5 -1.3l2.1 -0.9zM1475.3 207.6l-1.5 2.3l-1.9 -0.6l1.4 -1.4zM1449.8 223.3l-1.3 1.3l-1.2 -0.7l1.2 -0.8zM1481.9 227l1.8 0.2l0.2 1.3l-1.6 -0.1zM1490.6 223.8l-0.6 2l-1.5 -0l0.5 -1.2zM1477.9 179.3l-2.4 1.3l-1.4 -1.4l2.2 -0.8zM1463.5 199l-1.8 1.9l-1.7 -0.9l1.6 -1.1zM1471.8 216.2l1.3 0.2l0.1 1l-1.2 -0.1zM1451.8 221.5l-0.9 1.7l-1.4 -0.3l0.8 -1zM1468.4 223.1l2.3 0.5l0.1 1.7l-2.1 -0.3zM1488.9 229.9l-2.5 1.7l-1.7 -1.4l2.2 -1zM1475.5 215.7l1.3 0.4l-0 1l-1.2 -0.3zM1467.6 223.5l0.9 1.1l-0.6 0.8l-0.8 -0.7zM1461.2 188l-0.6 1.5l-1.2 -0.1l0.5 -0.9zM1479.2 187.1l-2.5 0.7l-1 -1.6l2.2 -0.4zM1462.3 204.6l0.8 1.1l-0.6 0.8l-0.7 -0.7zM1447.9 230.6l0.6 2.2l-1.4 0.9l-0.5 -1.3zM1487.4 195l0.8 2.6l-1.7 1.1l-0.7 -1.6zM1475.8 208.7l-2 0.8l-1 -1.2l1.8 -0.5zM1455.2 219l-1.3 2.2l-1.8 -0.5l1.2 -1.3zM1484.9 230.6l1.6 0.6l-0.1 1.2l-1.4 -0.4zM1483.5 226.7l-3 0.1l-0.7 -2.1l2.7 -0.1zM1448 190.9l-0.6 2.7l-2 0.2l0.5 -1.6zM1471.1 183.6l1.4 0.3l0.1 1.1l-1.3 -0.2zM1463.5 190.6l-2.7 0.1l-0.6 -1.9l2.5 -0zM1462.5 210.8l-2.2 1.5l-1.5 -1.3l2 -0.9zM1450.2 231.2l-1.2 1.4l-1.2 -0.5l1.1 -0.8zM1481.7 221.2l2.6 0.9l-0.1 2l-2.3 -0.5zM1439.9 216.6l-1.3 1l-1 -0.7l1.1 -0.6zM1477.4 227.9l0.4 1.3l-0.9 0.5l-0.3 -0.8zM1493.6 217l-0.8 2l-1.6 -0.2l0.8 -1.2zM1480.3 200l-2.5 0l-0.5 -1.7l2.2 -0zM1459.4 234l1 1l-0.5 0.9l-0.9 -0.6zM1448 221.6l2.4 0.6l0.1 1.8l-2.1 -0.3zM1455.1 231.5l1.1 1.3l-0.7 1.1l-1 -0.8zM1480.8 233.7l-2.1 0.9l-1 -1.3l1.9 -0.5zM1469.6 210.6l0.1 1.4l-1 0.3l-0.1 -0.8zM1487.8 236.5l-0.8 2.3l-1.8 -0.1l0.7 -1.4zM1472 207.2l-1.8 0.6l-0.8 -1.1l1.6 -0.3zM1462.7 233.7l-2.8 0.3l-0.8 -1.9l2.5 -0.2zM1485.6 208.3l-0.9 2.5l-1.9 -0.2l0.8 -1.5zM1450.7 211.7l-1.2 1.7l-1.5 -0.5l1.1 -1zM1480.7 216.7l-2 0.8l-1 -1.3l1.8 -0.5zM1462.1 215.4l0.3 2.2l-1.5 0.6l-0.3 -1.3zM1450.7 222.8l2.2 1.2l-0.4 1.8l-2 -0.7zM1460.2 193.6l2.1 0.7l-0.1 1.6l-1.8 -0.4zM1469.2 208.9l1 2.5l-1.5 1.2l-0.9 -1.5zM1464.6 193.7l0.6 2.9l-1.9 1l-0.5 -1.7zM1490.7 220.1l2.3 0.7l-0 1.8l-2.1 -0.4zM1476.4 223.8l0.2 1.3l-0.9 0.4l-0.1 -0.8zM1465.2 201.2l-1.7 2l-1.7 -0.8l1.5 -1.2zM1453.9 202.8l2 0.1l0.4 1.4l-1.8 -0zM1484.3 203.7l-1.4 0.4l-0.6 -0.9l1.2 -0.2zM1453.1 231.1l2.6 0.8l-0.1 2l-2.3 -0.5zM1490.5 197.5l1.5 2l-1.1 1.5l-1.4 -1.2zM1469.3 214.8l2 0.4l0.1 1.5l-1.8 -0.2zM1480.9 215.2l-1.9 0.9l-1 -1.2l1.7 -0.5z" style="fill:#cfb54e;fill-opacity:0.55" stroke="#cfb54e" stroke-width="0.54" stroke-linejoin="round"/>
<polyline points="1368,249 1432,218 1438,225 1375,256 1368,249" stroke="#1e1e1e" stroke-width="0.9" />
<polyline points="1368,249 1368,290" stroke="#1e1e1e" stroke-width="1.0" />
<polyline points="1375,256 1375,262" stroke="#1e1e1e" stroke-width="1.2" />
<polyline points="1395,247 1395,276" stroke="#1e1e1e" stroke-width="1.0" />
<polyline points="1418,234 1418,268" stroke="#1e1e1e" stroke-width="1.0" />
<polyline points="1438,225 1438,230" stroke="#1e1e1e" stroke-width="1.2" />
<polyline points="1389,207 1389,213" stroke="#1e1e1e" stroke-width="1.3" />
<polyline points="1428,187 1428,193" stroke="#1e1e1e" stroke-width="1.3" />
<polyline points="1386,208 1429,186 1488,208 1488,259" stroke="#1e1e1e" stroke-width="0.9" />
<polyline points="1467,217 1467,270" stroke="#1e1e1e" stroke-width="1.0" />
<polyline points="1443,229 1443,280" stroke="#1e1e1e" stroke-width="1.0" />
<polyline points="1467,217 1488,208" stroke="#1e1e1e" stroke-width="0.9" />
<polyline points="1443,229 1467,217" stroke="#1e1e1e" stroke-width="0.9" />
<polyline points="1370,278 1488,234" stroke="#1e1e1e" stroke-width="0.9" />
<polyline points="1382,283 1382,314" stroke="#1e1e1e" stroke-width="1.1" />
<polyline points="1399,275 1399,310" stroke="#1e1e1e" stroke-width="1.1" />
<polyline points="1417,267 1417,300" stroke="#1e1e1e" stroke-width="1.1" />
<polyline points="1434,259 1434,294" stroke="#1e1e1e" stroke-width="1.1" />
<polyline points="1452,251 1452,283" stroke="#1e1e1e" stroke-width="1.1" />
<polyline points="1470,243 1470,273" stroke="#1e1e1e" stroke-width="1.1" />
<polyline points="1506,226 1506,256" stroke="#1e1e1e" stroke-width="1.0" />
<polyline points="1504,227 1504,254" stroke="#555" stroke-width="0.7" />
<polyline points="1503,225 1589,193" stroke="#1e1e1e" stroke-width="0.9" />
<polyline points="1170,355 1343,275" stroke="#1e1e1e" stroke-width="1.1" />
<polyline points="1194,343.9 1194,367.5" stroke="#1e1e1e" stroke-width="1.4" />
<polyline points="1219,332.3 1219,355.9" stroke="#1e1e1e" stroke-width="1.4" />
<polyline points="1244,320.8 1244,344.4" stroke="#1e1e1e" stroke-width="1.4" />
<polyline points="1268,309.7 1268,333.3" stroke="#1e1e1e" stroke-width="1.4" />
<polyline points="1294,297.7 1294,321.3" stroke="#1e1e1e" stroke-width="1.4" />
<polyline points="1319,286.1 1319,309.7" stroke="#1e1e1e" stroke-width="1.4" />
<polyline points="1170,355 1170,386 1178,416" stroke="#1e1e1e" stroke-width="0.9" />
<polyline points="1171,379 1365,292.4" stroke="#555" stroke-width="0.8" />
<polyline points="1173,378.1 1173,410" stroke="#3a3a3a" stroke-width="1.0" />
<polyline points="1190.5,370.3 1190.5,410.8" stroke="#3a3a3a" stroke-width="1.0" />
<polyline points="1207.9,362.5 1207.9,403" stroke="#3a3a3a" stroke-width="1.0" />
<polyline points="1225.4,354.7 1225.4,395.1" stroke="#3a3a3a" stroke-width="1.0" />
<polyline points="1242.8,346.9 1242.8,387.3" stroke="#3a3a3a" stroke-width="1.0" />
<polyline points="1260.3,339.1 1260.3,379.4" stroke="#3a3a3a" stroke-width="1.0" />
<polyline points="1277.8,331.3 1277.8,371.5" stroke="#3a3a3a" stroke-width="1.0" />
<polyline points="1295.2,323.5 1295.2,363.7" stroke="#3a3a3a" stroke-width="1.0" />
<polyline points="1312.7,315.8 1312.7,355.8" stroke="#3a3a3a" stroke-width="1.0" />
<polyline points="1330.1,308 1330.1,347.9" stroke="#3a3a3a" stroke-width="1.0" />
<polyline points="1347.6,300.2 1347.6,340.1" stroke="#3a3a3a" stroke-width="1.0" />
<polyline points="1365.1,292.4 1365.1,332.2" stroke="#3a3a3a" stroke-width="1.0" />
<polyline points="1365,292.4 1365,331" stroke="#3a3a3a" stroke-width="1.0" />
<polyline points="1179,416 1370,330 1436,299 1506,256 1589,197" stroke="#111" stroke-width="1.6" />
<polyline points="1178,416 1179,416" stroke="#111" stroke-width="1.2" />
<polyline points="1171,377.6 1502,224.4 1589,186" stroke="#111" stroke-width="1.1" stroke-dasharray="2.2 1.6"/>
<polyline points="1172,385.6 1502,232.4 1589,193" stroke="#111" stroke-width="1.1" stroke-dasharray="2.2 1.6"/>
<polyline points="1172,386 1234,433 1478,596 1490,606" stroke="#111" stroke-width="1.1" stroke-dasharray="2.2 1.6"/>
<polyline points="1178,397 1216,420 1478,598" stroke="#111" stroke-width="1.1" stroke-dasharray="2.2 1.6"/>
<polyline points="1478,598 1490,638" stroke="#999" stroke-width="0.6" stroke-dasharray="2.2 1.6"/>
<polyline points="1180,410 1490,610" stroke="#aaa" stroke-width="0.5" stroke-dasharray="2.2 1.6"/>
<polyline points="1190,416 1490,616" stroke="#aaa" stroke-width="0.5" stroke-dasharray="2.2 1.6"/>
<polyline points="1183,420 1234,475 1385,573 1436,605 1490,637" stroke="#1e1e1e" stroke-width="1.0" />
<polyline points="1183,422.4 1234,477.4 1385,575.4 1436,607.4 1490,639.4" stroke="#555" stroke-width="0.7" />
<polyline points="1188,425.4 1188,447.4" stroke="#1e1e1e" stroke-width="0.9" />
<polyline points="1200,438.3 1200,460.3" stroke="#1e1e1e" stroke-width="0.9" />
<polyline points="1211,450.2 1211,472.2" stroke="#1e1e1e" stroke-width="0.9" />
<polyline points="1223,463.1 1223,485.1" stroke="#1e1e1e" stroke-width="0.9" />
<polyline points="1234,475 1234,538" stroke="#1e1e1e" stroke-width="1.5" />
<polyline points="1231,502 1231,538" stroke="#1e1e1e" stroke-width="1.0" />
<polyline points="1233,511 1362,591" stroke="#1e1e1e" stroke-width="0.9" />
<polyline points="1250,485.4 1250,521.5" stroke="#1e1e1e" stroke-width="1.0" />
<polyline points="1266,495.8 1266,531.5" stroke="#1e1e1e" stroke-width="1.0" />
<polyline points="1282,506.2 1282,541.4" stroke="#1e1e1e" stroke-width="1.0" />
<polyline points="1298,516.5 1298,551.3" stroke="#1e1e1e" stroke-width="1.0" />
<polyline points="1314,526.9 1314,561.2" stroke="#1e1e1e" stroke-width="1.0" />
<polyline points="1330,537.3 1330,571.1" stroke="#1e1e1e" stroke-width="1.0" />
<polyline points="1345,547 1345,580.4" stroke="#1e1e1e" stroke-width="1.0" />
<polyline points="1362,558.1 1362,591" stroke="#1e1e1e" stroke-width="1.0" />
<polyline points="1378,568.5 1378,600.9" stroke="#1e1e1e" stroke-width="1.0" />
<polyline points="1183,444 1234,476" stroke="#1e1e1e" stroke-width="0.9" />
<polyline points="1184,448 1232,478" stroke="#1e1e1e" stroke-width="0.9" />
<polyline points="1196,480 1212,468" stroke="#1e1e1e" stroke-width="0.8" />
<polyline points="1198,482 1214,470" stroke="#1e1e1e" stroke-width="0.8" />
<polyline points="1203,495 1230,477" stroke="#1e1e1e" stroke-width="0.8" />
<polyline points="1205,497 1232,479" stroke="#1e1e1e" stroke-width="0.8" />
<polyline points="1214,516 1231,503" stroke="#1e1e1e" stroke-width="0.8" />
<polyline points="1313,624 1385,574 1385,620" stroke="#1e1e1e" stroke-width="0.9" />
<polyline points="1316,626 1385,578" stroke="#1e1e1e" stroke-width="0.8" />
<polyline points="1385,574 1438,606 1352,648" stroke="#1e1e1e" stroke-width="0.9" />
<polyline points="1438,610 1356,650" stroke="#1e1e1e" stroke-width="0.8" />
<polyline points="1438,606 1438,637" stroke="#1e1e1e" stroke-width="1.0" />
<polyline points="1441,608 1441,637" stroke="#555" stroke-width="0.7" />
<polyline points="1385,601 1400,610 1400,628" stroke="#1e1e1e" stroke-width="0.9" />
<polyline points="1400,610 1378,631 1390,637" stroke="#1e1e1e" stroke-width="0.9" />
<polyline points="1362,650 1369,655 1369,642" stroke="#1e1e1e" stroke-width="0.9" />
<polyline points="1362,650 1362,654 1367,657" stroke="#1e1e1e" stroke-width="0.9" />
<polyline points="1352,648 1362,650" stroke="#1e1e1e" stroke-width="0.8" />
<polyline points="1456,616 1456,637" stroke="#1e1e1e" stroke-width="0.9" />
<polyline points="1472,626 1472,637" stroke="#1e1e1e" stroke-width="0.9" />
<circle cx="1394" cy="579.6" r="0.8" fill="#222"/>
<circle cx="1410" cy="589.7" r="0.8" fill="#222"/>
<circle cx="1425" cy="599.1" r="0.8" fill="#222"/>
<ellipse cx="1292" cy="490" rx="4" ry="2.4" stroke="#333" stroke-width="0.7" fill="#fff"/>
<polyline points="1288,490 1288,497" stroke="#333" stroke-width="0.7" />
<polyline points="1296,490 1296,497" stroke="#333" stroke-width="0.7" />
<path d="M1288 497 A4 2.4 0 0 0 1296 497" stroke="#333" stroke-width="0.7"/>
<ellipse cx="1298" cy="508" rx="6.4" ry="3.8" stroke="#333" stroke-width="0.7" fill="#fff"/>
<polyline points="1291.6,508 1291.6,516" stroke="#333" stroke-width="0.7" />
<polyline points="1304.4,508 1304.4,516" stroke="#333" stroke-width="0.7" />
<path d="M1291.6 516 A6.4 3.8 0 0 0 1304.4 516" stroke="#333" stroke-width="0.7"/>
<ellipse cx="1346" cy="508" rx="3.6" ry="2.2" stroke="#333" stroke-width="0.7" fill="#fff"/>
<polyline points="1342.4,508 1342.4,514" stroke="#333" stroke-width="0.7" />
<polyline points="1349.6,508 1349.6,514" stroke="#333" stroke-width="0.7" />
<path d="M1342.4 514 A3.6 2.2 0 0 0 1349.6 514" stroke="#333" stroke-width="0.7"/>
<ellipse cx="1242" cy="546" rx="4" ry="2.4" stroke="#333" stroke-width="0.7" fill="#fff"/>
<polyline points="1238,546 1238,553" stroke="#333" stroke-width="0.7" />
<polyline points="1246,546 1246,553" stroke="#333" stroke-width="0.7" />
<path d="M1238 553 A4 2.4 0 0 0 1246 553" stroke="#333" stroke-width="0.7"/>
<ellipse cx="1254" cy="561" rx="4.4" ry="2.6" stroke="#333" stroke-width="0.7" fill="#fff"/>
<polyline points="1249.6,561 1249.6,568" stroke="#333" stroke-width="0.7" />
<polyline points="1258.4,561 1258.4,568" stroke="#333" stroke-width="0.7" />
<path d="M1249.6 568 A4.4 2.6 0 0 0 1258.4 568" stroke="#333" stroke-width="0.7"/>
<ellipse cx="1342" cy="540" rx="5.6" ry="3.4" stroke="#333" stroke-width="0.7" fill="#fff"/>
<polyline points="1336.4,540 1336.4,547" stroke="#333" stroke-width="0.7" />
<polyline points="1347.6,540 1347.6,547" stroke="#333" stroke-width="0.7" />
<path d="M1336.4 547 A5.6 3.4 0 0 0 1347.6 547" stroke="#333" stroke-width="0.7"/>
<ellipse cx="1317" cy="590" rx="3.6" ry="2.2" stroke="#333" stroke-width="0.7" fill="#fff"/>
<polyline points="1313.4,590 1313.4,597" stroke="#333" stroke-width="0.7" />
<polyline points="1320.6,590 1320.6,597" stroke="#333" stroke-width="0.7" />
<path d="M1313.4 597 A3.6 2.2 0 0 0 1320.6 597" stroke="#333" stroke-width="0.7"/>
<ellipse cx="1300" cy="598" rx="4.4" ry="2.6" stroke="#333" stroke-width="0.7" fill="#fff"/>
<polyline points="1295.6,598 1295.6,605" stroke="#333" stroke-width="0.7" />
<polyline points="1304.4,598 1304.4,605" stroke="#333" stroke-width="0.7" />
<path d="M1295.6 605 A4.4 2.6 0 0 0 1304.4 605" stroke="#333" stroke-width="0.7"/>
<ellipse cx="1317" cy="603" rx="6.4" ry="3.8" stroke="#333" stroke-width="0.7" fill="#fff"/>
<polyline points="1310.6,603 1310.6,611" stroke="#333" stroke-width="0.7" />
<polyline points="1323.4,603 1323.4,611" stroke="#333" stroke-width="0.7" />
<path d="M1310.6 611 A6.4 3.8 0 0 0 1323.4 611" stroke="#333" stroke-width="0.7"/>
<ellipse cx="1337" cy="604" rx="3.6" ry="2.2" stroke="#333" stroke-width="0.7" fill="#fff"/>
<polyline points="1333.4,604 1333.4,608" stroke="#333" stroke-width="0.7" />
<polyline points="1340.6,604 1340.6,608" stroke="#333" stroke-width="0.7" />
<path d="M1333.4 608 A3.6 2.2 0 0 0 1340.6 608" stroke="#333" stroke-width="0.7"/>
<ellipse cx="1397" cy="576" rx="5.6" ry="3.4" stroke="#333" stroke-width="0.7" fill="#fff"/>
<polyline points="1391.4,576 1391.4,582" stroke="#333" stroke-width="0.7" />
<polyline points="1402.6,576 1402.6,582" stroke="#333" stroke-width="0.7" />
<path d="M1391.4 582 A5.6 3.4 0 0 0 1402.6 582" stroke="#333" stroke-width="0.7"/>
<ellipse cx="1463" cy="583" rx="4" ry="2.4" stroke="#333" stroke-width="0.7" fill="#fff"/>
<polyline points="1459,583 1459,589" stroke="#333" stroke-width="0.7" />
<polyline points="1467,583 1467,589" stroke="#333" stroke-width="0.7" />
<path d="M1459 589 A4 2.4 0 0 0 1467 589" stroke="#333" stroke-width="0.7"/>
<ellipse cx="1450" cy="594" rx="6.4" ry="3.8" stroke="#333" stroke-width="0.7" fill="#fff"/>
<polyline points="1443.6,594 1443.6,602" stroke="#333" stroke-width="0.7" />
<polyline points="1456.4,594 1456.4,602" stroke="#333" stroke-width="0.7" />
<path d="M1443.6 602 A6.4 3.8 0 0 0 1456.4 602" stroke="#333" stroke-width="0.7"/>
<ellipse cx="1463" cy="606" rx="4" ry="2.4" stroke="#333" stroke-width="0.7" fill="#fff"/>
<polyline points="1459,606 1459,613" stroke="#333" stroke-width="0.7" />
<polyline points="1467,606 1467,613" stroke="#333" stroke-width="0.7" />
<path d="M1459 613 A4 2.4 0 0 0 1467 613" stroke="#333" stroke-width="0.7"/>
<path class="dot" d="M1770 168 L1454 638" stroke-width="1.9" stroke-dasharray="0 4.4"/>
<rect class="f" x="1426" y="637.5" width="196" height="35" fill="#fff"/>
<rect class="f" x="1400" y="637.5" width="30" height="35" fill="url(#wfade)"/>
</g></g>
<defs><linearGradient id="wfade" x1="0" x2="1" y1="0" y2="0"><stop offset="0" stop-color="#fff" stop-opacity="0"/><stop offset="1" stop-color="#fff"/></linearGradient></defs>
<defs><clipPath id="clipB"><circle cx="1516.4" cy="1103.6" r="236"/></clipPath></defs>
<g clip-path="url(#clipB)">
<polygon points="1356,1198 1509,1078 1636.5,1105.1 1709,1139.9" fill="url(#dotp)" stroke="none" stroke-width="0.8" />
<polygon class="f" points="1531.4,1100 1527.7,1103.8 1526.5,1108.2 1521.5,1110.4 1516,1112 1511,1109.4 1501.8,1111.2 1504.8,1103.7 1495.6,1100 1503.2,1095.8 1503.6,1090.3 1510.9,1090.3 1516,1086.1 1520.6,1091.3 1530.6,1088.5 1527.3,1096.3" fill="#efe6c2" opacity="0.8"/>
<polygon class="f" points="1555.6,1108 1546.2,1110.8 1549.4,1117.5 1542.1,1116.3 1538,1122.5 1534,1116.1 1525.8,1118.1 1529.3,1111 1520.3,1108 1528.3,1104.7 1528.9,1100.5 1534.1,1100.2 1538,1095.1 1541.4,1101.2 1547.9,1099.7 1546,1105.2" fill="#efe6c2" opacity="0.8"/>
<polygon class="f" points="1578.5,1122 1573.5,1126.8 1571.6,1132.2 1564,1132.9 1558,1139.3 1552.4,1132.1 1542.8,1133.4 1543.4,1126.6 1535.5,1122 1547.1,1118.6 1546,1113 1551.3,1109.9 1558,1105.8 1563,1112.9 1573.2,1110.6 1569.6,1118.4" fill="#efe6c2" opacity="0.8"/>
<polygon class="f" points="1570,1146 1560,1149.8 1562.4,1157.5 1554.8,1156.8 1550,1164.9 1545.4,1156.4 1538.1,1157 1537.9,1150.7 1533.7,1146 1536.3,1140.7 1536,1133 1544.7,1134.1 1550,1133 1555.8,1132.9 1562.4,1134.5 1562.2,1141.3" fill="#efe6c2" opacity="0.8"/>
<polygon class="f" points="1465.3,1154 1464.9,1158.9 1461.1,1162.9 1455.7,1165 1450,1170.7 1444.3,1165.1 1438.1,1163.6 1438.2,1157.9 1430,1154 1435,1149 1436.1,1142.9 1444.7,1143.8 1450,1140 1455,1144.3 1464.2,1142.7 1462.2,1150" fill="#efe6c2" opacity="0.8"/>
<polygon class="f" points="1492.4,1162 1484,1165.6 1484,1170.6 1476.9,1170.5 1472,1175.6 1466.2,1172 1460.3,1170.4 1461.6,1165.1 1455.7,1162 1462.3,1159.1 1459.2,1152.8 1466.2,1151.9 1472,1151.2 1477.4,1152.7 1482.7,1154.4 1485.8,1157.9" fill="#efe6c2" opacity="0.8"/>
<polygon class="f" points="1454,1170 1452.4,1172.9 1450.4,1175.6 1446.2,1176.7 1442,1181.7 1438.2,1176.1 1429.6,1178.3 1431.4,1172.9 1425,1170 1433.9,1167.8 1430.6,1162.4 1437.8,1163.3 1442,1159.8 1446,1163.6 1454.4,1161.7 1452.7,1167" fill="#efe6c2" opacity="0.8"/>
<polygon class="f" points="1585.2,1116 1578.8,1118.7 1581,1124.2 1574.9,1124.9 1570,1125 1565.9,1123.4 1560.2,1123.3 1560.8,1118.9 1553,1116 1558,1112.3 1558.3,1107.2 1566,1108.7 1570,1103.3 1573.5,1109.7 1580.4,1108.2 1579.9,1112.9" fill="#efe6c2" opacity="0.8"/>
<path d="M1483.9 1138.4l-0.8 1.2l-1 -0.3l0.8 -0.7zM1492.2 1138.8l-0.5 1.2l-0.9 -0.1l0.5 -0.7zM1532.2 1129.5l1.5 0.7l-0.2 1.2l-1.3 -0.4zM1508 1128.2l-1.5 0.1l-0.4 -1l1.4 -0.1zM1487.9 1128.7l1.4 1.5l-0.7 1.3l-1.2 -0.9zM1502.7 1140.8l0.4 1l-0.6 0.5l-0.3 -0.6zM1529.5 1125.2l1.5 0.3l0.1 1.1l-1.3 -0.2zM1515.4 1149.4l0.4 1.7l-1.1 0.6l-0.4 -1zM1502.1 1140.9l-0.9 1.8l-1.4 -0.3l0.8 -1.1zM1494.4 1130.7l0.5 1.2l-0.8 0.6l-0.5 -0.7zM1520.3 1134.5l0.2 2.2l-1.5 0.6l-0.2 -1.3zM1478.3 1143.6l-0.4 1.2l-0.9 -0.1l0.4 -0.7zM1509 1129.6l0.5 1.7l-1.1 0.7l-0.5 -1zM1496.1 1138.6l1.4 0.7l-0.2 1.1l-1.3 -0.4zM1537.1 1128.7l1.6 0.9l-0.3 1.3l-1.5 -0.5zM1503.2 1141.3l1.1 1l-0.5 0.9l-1 -0.6zM1477.4 1141.9l-0.2 2l-1.5 0.3l0.2 -1.2zM1515 1139.4l-1.5 0.3l-0.5 -1l1.3 -0.2zM1513.3 1143.2l0.5 1l-0.6 0.6l-0.5 -0.6zM1479.2 1144.1l-1.7 0.3l-0.6 -1.1l1.6 -0.2zM1495.8 1139.7l-0.7 1.8l-1.4 -0.1l0.6 -1.1zM1534.1 1136l1.9 1.2l-0.5 1.6l-1.8 -0.7zM1526.7 1134.3l0.1 2.1l-1.5 0.5l-0.1 -1.3zM1506.9 1154l-0.5 1.4l-1.1 -0.1l0.5 -0.9zM1495.6 1137.6l1 1.3l-0.7 1l-0.9 -0.8zM1488.7 1129.7l-0.9 0.8l-0.8 -0.5l0.8 -0.5zM1539.8 1142.6l1.1 1.4l-0.7 1.1l-1 -0.8zM1499.3 1139.9l1 1.6l-0.9 1l-0.9 -1zM1486.3 1129.2l1.5 0.9l-0.3 1.2l-1.3 -0.5zM1520.2 1125.8l1.4 1.1l-0.5 1.2l-1.2 -0.6zM1514.5 1136.5l0.5 1.1l-0.7 0.6l-0.4 -0.7zM1493.5 1131.6l-2.3 0.1l-0.6 -1.6l2.1 -0.1zM1485.1 1132.7l0.8 1.4l-0.8 0.8l-0.7 -0.9zM1525.2 1133.8l1.8 1.1l-0.4 1.5l-1.6 -0.7zM1504.4 1134.4l-1.2 0.9l-0.9 -0.7l1.1 -0.6zM1521.3 1132.8l-0.5 2.3l-1.7 0.1l0.4 -1.4zM1506.5 1137.4l1.4 1.2l-0.6 1.2l-1.2 -0.7zM1529.2 1148.1l2.2 0.2l0.3 1.6l-2 -0.1zM1518.2 1138.2l1.1 0.8l-0.4 0.9l-1 -0.5zM1518.1 1126.7l-1.3 0l-0.3 -0.9l1.1 -0zM1522.4 1142.6l1.8 0.8l-0.2 1.4l-1.6 -0.5zM1485.2 1128.1l-1.2 0.7l-0.7 -0.7l1.1 -0.4zM1500.9 1120.4l1.3 1.1l-0.5 1.1l-1.2 -0.7zM1509.7 1142l1.3 1.4l-0.7 1.2l-1.2 -0.8zM1510 1146.4l0.8 1.4l-0.8 0.8l-0.7 -0.8zM1481.7 1139.3l-2.1 0.8l-1 -1.3l1.8 -0.5zM1511.3 1136.2l0.6 1.2l-0.7 0.6l-0.5 -0.7zM1485.3 1135.5l-0.3 1.3l-1 0l0.3 -0.8zM1488 1140l0.7 1.9l-1.2 0.9l-0.6 -1.1zM1529.7 1144.2l1.2 0.3l0 0.9l-1 -0.2zM1477.8 1143.6l1.9 1.3l-0.6 1.6l-1.7 -0.8zM1506.4 1134.3l0.8 2l-1.3 1l-0.7 -1.2zM1485.9 1141.6l-1.3 0.4l-0.5 -0.8l1.2 -0.2zM1481.9 1145.6l-1 0.7l-0.7 -0.6l0.9 -0.4zM1478.8 1142.9l-1.2 0l-0.2 -0.8l1.1 -0zM1507.6 1138.7l-1.3 0.3l-0.5 -0.9l1.2 -0.2zM1522 1137.9l1.2 0l0.2 0.8l-1.1 -0zM1515.8 1153l1.7 0.8l-0.2 1.4l-1.5 -0.5zM1512.5 1130.9l1.3 0.6l-0.2 1l-1.1 -0.4zM1495.9 1145.5l-0.8 1.3l-1.1 -0.3l0.7 -0.8zM1512.1 1140.3l-1 0.2l-0.4 -0.7l0.9 -0.1zM1508.5 1138.4l-2 1.3l-1.3 -1.1l1.8 -0.8zM1496.3 1124.1l1.7 1.6l-0.8 1.5l-1.5 -1zM1516.2 1139.1l-2 0.6l-0.8 -1.3l1.8 -0.4zM1495 1146.3l1.2 0.5l-0.1 1l-1.1 -0.3zM1519.7 1156.6l0.5 1.3l-0.8 0.6l-0.5 -0.8zM1522.3 1152.4l0.1 2l-1.4 0.5l-0.1 -1.2zM1491.6 1144.4l1.4 1.1l-0.5 1.2l-1.3 -0.7zM1491.3 1138.2l0.9 0.6l-0.3 0.7l-0.8 -0.4zM1508.2 1129.1l1.7 1.1l-0.5 1.4l-1.5 -0.7zM1528.7 1133.8l-1.9 0.1l-0.4 -1.3l1.7 -0zM1522.7 1134.2l1.9 1.2l-0.4 1.6l-1.7 -0.7zM1485.7 1136.7l0.9 0.6l-0.2 0.8l-0.8 -0.3zM1528.2 1135.8l-0.9 0.5l-0.5 -0.6l0.9 -0.3zM1502.6 1154.2l1.4 1.6l-0.9 1.3l-1.3 -1zM1529.1 1126.8l0.5 1.2l-0.8 0.6l-0.4 -0.7zM1503 1144.2l0.2 1.9l-1.3 0.5l-0.2 -1.1zM1488.1 1140.5l-1.6 1.1l-1.1 -0.9l1.4 -0.7zM1510.2 1150.7l2.1 0.2l0.3 1.5l-1.9 -0.1zM1533.7 1146.4l1.4 0.8l-0.3 1.2l-1.3 -0.5zM1508.2 1127.5l2.4 0.3l0.3 1.7l-2.1 -0.2zM1515.4 1134.8l-1.5 0.5l-0.7 -0.9l1.4 -0.3zM1512.9 1147.1l1 1.4l-0.8 1l-0.9 -0.9zM1542 1135.4l1.2 0.1l0.2 0.8l-1 -0zM1480 1148.5l0.7 2l-1.3 0.9l-0.6 -1.2zM1513.5 1121.5l1.7 1.1l-0.4 1.4l-1.5 -0.7zM1524.2 1140.5l-1 1.1l-1 -0.5l0.9 -0.6zM1515.3 1146l0.5 1.3l-0.8 0.6l-0.4 -0.8zM1497 1135.6l1 0.6l-0.2 0.8l-0.9 -0.3zM1517.2 1131.5l-0.2 1.4l-1 0.2l0.2 -0.9zM1483.4 1145.4l-0.5 1.2l-1 -0.1l0.5 -0.7zM1522.5 1154.4l-0.3 1.4l-1 0.1l0.2 -0.8zM1508.4 1141.2l1.2 0.6l-0.2 1l-1.1 -0.4zM1502.9 1122.3l-2.1 1l-1.1 -1.2l1.9 -0.6zM1482.5 1141.2l1.8 1.4l-0.6 1.6l-1.6 -0.9zM1486.3 1148.4l1.2 1.8l-1 1.2l-1.1 -1.1zM1503.2 1135.9l1 0.5l-0.1 0.8l-0.9 -0.3zM1530.6 1145.4l-1.9 0.9l-1 -1.1l1.7 -0.5zM1486.2 1137.3l-0.8 2.1l-1.6 -0.2l0.8 -1.2zM1486.2 1145.9l-0 1.5l-1 0.3l0 -0.9zM1496.1 1136.7l1.6 1.5l-0.8 1.4l-1.5 -0.9zM1498.1 1154.1l0.1 1.1l-0.8 0.3l-0.1 -0.7zM1489.9 1133.4l1 0.4l-0.1 0.8l-0.9 -0.3zM1510.2 1126.8l-0.7 1.5l-1.2 -0.2l0.7 -0.9zM1505.9 1122l-0.8 0.9l-0.8 -0.4l0.7 -0.5zM1483.8 1140.8l1.2 0.3l0.1 0.9l-1.1 -0.2zM1508 1147.7l-1 2.1l-1.7 -0.3l0.9 -1.3zM1491.7 1138.1l-1.2 1.3l-1.1 -0.6l1.1 -0.8zM1495.6 1145.9l0.1 1.2l-0.8 0.3l-0.1 -0.7zM1502.1 1144.2l1.5 0.9l-0.3 1.2l-1.4 -0.5zM1508.2 1144.1l1.6 1.5l-0.7 1.4l-1.5 -0.9zM1516.7 1140.8l1.6 0.5l-0 1.2l-1.4 -0.3zM1504.9 1131.1l0.8 1.7l-1 0.9l-0.7 -1zM1519.5 1126.4l-1.8 0.8l-0.9 -1.1l1.6 -0.5zM1497 1124.4l1.3 1.3l-0.6 1.1l-1.1 -0.8zM1519 1133.7l0.3 2.3l-1.6 0.7l-0.3 -1.4zM1537.6 1131l-1.1 0.3l-0.5 -0.7l1 -0.2zM1531.4 1138.4l1.4 0.2l0.1 1l-1.3 -0.1zM1506.1 1151.3l-0.8 1l-0.8 -0.4l0.7 -0.6zM1483.1 1134.4l2.2 0.8l-0.1 1.7l-2 -0.5zM1482.8 1133.5l-2.2 0.8l-1 -1.4l2 -0.5zM1523.1 1146.4l-1.4 0.4l-0.6 -0.9l1.2 -0.3zM1479.2 1139.3l-0.8 1.1l-1 -0.4l0.7 -0.7zM1527.7 1138.3l-0.5 1l-0.8 -0.2l0.5 -0.6zM1544.2 1136.4l-0.8 1.9l-1.5 -0.2l0.7 -1.2zM1524.8 1141.5l1.2 1.3l-0.6 1.1l-1.1 -0.8zM1538.3 1136.5l-2.1 0.4l-0.7 -1.4l1.9 -0.3zM1521.6 1124.1l1.1 0.9l-0.4 0.9l-0.9 -0.5zM1489.2 1141l-1.5 0.4l-0.6 -1l1.4 -0.2zM1499.9 1153.8l-1.9 0.2l-0.5 -1.3l1.7 -0.1zM1517.5 1137.7l0.7 1.7l-1.1 0.8l-0.6 -1zM1496.4 1154.5l-0.1 1.2l-0.9 0.1l0.1 -0.7zM1480.9 1129l-0.2 1.4l-1 0.2l0.1 -0.8zM1512.5 1141.5l-1.8 0.2l-0.5 -1.2l1.6 -0.1zM1521.6 1152.3l0.2 1.8l-1.2 0.5l-0.2 -1.1zM1508.6 1123.8l2.2 0.6l-0 1.7l-2 -0.4zM1527.6 1145.7l-0.2 1.1l-0.8 0.1l0.2 -0.7zM1530 1139.1l-0.5 1.4l-1.1 -0.1l0.4 -0.8zM1519.8 1150.3l-0.5 1.5l-1.1 -0l0.4 -0.9zM1530.4 1129.5l2.1 1.1l-0.3 1.7l-1.9 -0.6zM1513.5 1150l1 1.3l-0.7 1l-0.9 -0.8zM1523.7 1147.5l0.8 2.1l-1.3 1l-0.7 -1.3zM1476.7 1131.1l1.1 0.8l-0.4 0.9l-0.9 -0.5zM1510.5 1131.6l-0.9 0.5l-0.6 -0.6l0.8 -0.3zM1507.3 1134.2l1.5 1.3l-0.6 1.3l-1.3 -0.8zM1519.3 1122.3l1.2 0.8l-0.3 1l-1.1 -0.5zM1507.8 1129.6l1.3 0.4l-0 1l-1.2 -0.2zM1503.3 1119l-0.3 1.7l-1.3 0.2l0.3 -1zM1491.8 1128.5l1.2 0.3l0 0.9l-1 -0.2zM1523.3 1141.9l-0.7 1.7l-1.3 -0.2l0.6 -1z" style="fill:#cdb44c;fill-opacity:0.55" stroke="#cdb44c" stroke-width="0.48" stroke-linejoin="round"/>
<path d="M1596.3 1127.8l-1.6 0.5l-0.7 -1l1.4 -0.3zM1567.2 1139.6l2 1.2l-0.4 1.7l-1.8 -0.7zM1600.4 1137.7l-0.4 1.5l-1.1 -0l0.4 -0.9zM1589.4 1135.4l-0.7 1.7l-1.3 -0.1l0.6 -1zM1599.2 1126.9l1.3 1.9l-1.1 1.3l-1.2 -1.1zM1575.6 1138.7l-0.9 1l-0.8 -0.4l0.8 -0.6zM1560.1 1125.2l0.5 1.1l-0.7 0.6l-0.4 -0.6zM1618.4 1121.5l-1.7 0.6l-0.7 -1.1l1.5 -0.3zM1568.4 1137.3l0.7 1.5l-0.9 0.8l-0.6 -0.9zM1592.5 1121.7l1.8 0.7l-0.1 1.4l-1.6 -0.4zM1574 1124.6l1.8 0.8l-0.2 1.4l-1.6 -0.5zM1557.8 1137.7l-2.4 0.2l-0.6 -1.6l2.1 -0.1zM1617.8 1122.9l1.6 0.3l0.1 1.2l-1.4 -0.2zM1613.5 1123.4l-0.8 1.1l-0.9 -0.4l0.8 -0.6zM1596.9 1142l0.1 2.1l-1.5 0.5l-0.1 -1.3zM1585.3 1131.3l-0.5 1.4l-1 -0l0.4 -0.8zM1579.8 1132.2l1.8 0.6l-0 1.4l-1.6 -0.3zM1542.9 1131.4l1.1 2.1l-1.2 1.2l-1 -1.2zM1567.2 1129.2l0 1.8l-1.2 0.4l-0 -1.1zM1568.5 1137.3l-1.4 1.4l-1.3 -0.7l1.3 -0.8zM1594.6 1130.8l-0.7 1l-0.9 -0.3l0.7 -0.6zM1603.9 1129.1l-0.5 1.7l-1.3 -0l0.5 -1zM1617 1122l-1.5 1.4l-1.3 -0.8l1.3 -0.9zM1580.2 1119l-0.6 1.1l-0.9 -0.2l0.5 -0.7zM1566.7 1132.8l1.1 1.7l-1 1.1l-1 -1zM1601.7 1126.2l1.9 0.9l-0.2 1.5l-1.7 -0.5zM1558.1 1129.8l1.7 0.6l-0.1 1.3l-1.5 -0.4zM1567.2 1129l-1.8 0l-0.4 -1.3l1.6 -0zM1585.8 1127.9l1.4 2l-1.1 1.3l-1.2 -1.2zM1552.8 1132.5l0.7 1.3l-0.8 0.8l-0.7 -0.8zM1553.5 1127.5l0.8 1.1l-0.6 0.8l-0.8 -0.7zM1601.6 1130.2l1.7 0.5l0 1.3l-1.5 -0.3zM1593 1116.5l1.2 0.2l0.1 0.9l-1.1 -0.1zM1597.8 1144.7l-0.3 1.5l-1.1 0.1l0.2 -0.9zM1574.7 1119.6l-0.6 2.3l-1.7 0.1l0.5 -1.4zM1577.6 1139l0.9 0.7l-0.3 0.7l-0.8 -0.4zM1612.2 1133.9l0.3 1.3l-0.8 0.5l-0.3 -0.8zM1595.5 1124.9l1.6 1.4l-0.7 1.4l-1.4 -0.9zM1573.3 1120l-1.4 0.2l-0.4 -1l1.3 -0.1zM1573.9 1130l1 1.6l-0.9 1.1l-0.9 -1zM1598 1134.4l1.1 1.3l-0.7 1l-1 -0.8zM1591.8 1132.5l-0.8 0.7l-0.6 -0.4l0.7 -0.4zM1606.1 1127l0.4 1.5l-0.9 0.6l-0.4 -0.9zM1561.5 1129.4l-0.3 1.4l-1.1 0.1l0.3 -0.9zM1603.5 1120.6l-0.7 1l-0.9 -0.3l0.7 -0.6zM1588.5 1121l1.5 0l0.3 1.1l-1.4 -0zM1593.8 1120.5l-0.7 1.8l-1.4 -0.1l0.6 -1.1zM1567.9 1119.9l-1.8 0.8l-0.9 -1.1l1.6 -0.5zM1550.7 1128.6l0.6 1l-0.6 0.6l-0.5 -0.6zM1585.1 1121.9l1.9 0.8l-0.1 1.5l-1.8 -0.5zM1580.1 1132.9l2 1.2l-0.4 1.6l-1.8 -0.7zM1555.6 1122.3l-0.7 0.8l-0.7 -0.3l0.6 -0.5zM1587.7 1145.5l-1.3 0.9l-0.9 -0.7l1.2 -0.6zM1591.8 1135.7l1.1 1.4l-0.7 1.1l-1 -0.8zM1600.3 1137.8l0.2 1.8l-1.2 0.5l-0.2 -1.1zM1588.5 1141.3l-1 1l-0.9 -0.5l0.9 -0.6zM1582.2 1133.7l1.2 0.4l-0 0.9l-1.1 -0.2zM1576.1 1125.7l-0 1.7l-1.2 0.3l0 -1zM1610.3 1121.5l1 0.5l-0.2 0.8l-0.9 -0.3zM1592.7 1124.5l1.4 0.3l0.1 1l-1.3 -0.2zM1601.4 1130.2l-1.4 0.3l-0.5 -0.9l1.3 -0.2zM1589.6 1128.3l-1.4 0.9l-0.9 -0.8l1.3 -0.5zM1612.4 1130.6l-0 2.1l-1.5 0.4l0 -1.3zM1576.1 1143.6l-1.4 0.1l-0.4 -1l1.3 -0.1zM1556.4 1138.5l1.4 0l0.3 1l-1.3 -0zM1588.6 1117.1l-1.3 1.5l-1.3 -0.6l1.1 -0.9zM1576.1 1140.7l0.9 0.6l-0.2 0.8l-0.8 -0.4zM1586.3 1128.5l-2.3 0.8l-1 -1.4l2 -0.5zM1588.9 1141.9l1.8 1.3l-0.6 1.5l-1.6 -0.8zM1580.2 1143.2l0.9 1.5l-0.9 0.9l-0.8 -0.9zM1570.8 1135.9l1.1 0.7l-0.3 0.9l-1 -0.4zM1603.8 1134.4l-2 0.7l-0.9 -1.3l1.8 -0.4zM1547 1130l-0.7 1.9l-1.5 -0.1l0.6 -1.1zM1575.4 1135l-0.3 2l-1.4 0.2l0.3 -1.2zM1582.9 1127.1l1.5 1.2l-0.6 1.3l-1.4 -0.7zM1599 1126.7l-1.1 1.4l-1.2 -0.5l1 -0.9zM1594.8 1117.8l1.5 1.1l-0.4 1.2l-1.3 -0.6zM1568.7 1129.7l-0.8 1.9l-1.5 -0.2l0.7 -1.1zM1566.4 1135.5l0.9 0.7l-0.3 0.8l-0.8 -0.4zM1563.6 1129.3l-1.7 0.1l-0.4 -1.2l1.5 -0.1zM1593 1140.4l-0.8 1.8l-1.4 -0.2l0.7 -1.1zM1588.3 1118.6l1.8 0.1l0.3 1.3l-1.6 -0.1zM1613.8 1131.5l-0.5 1.1l-0.9 -0.1l0.5 -0.7zM1621.8 1128.8l-0.9 1.4l-1.2 -0.4l0.8 -0.8zM1549.1 1128.8l-1 1.8l-1.4 -0.3l0.9 -1.1zM1568.2 1138.6l-0.7 1.1l-0.9 -0.3l0.6 -0.7zM1584.4 1144l1.4 0.2l0.1 1l-1.3 -0.1zM1595.8 1135.5l1.7 0.5l0 1.3l-1.5 -0.3zM1554.2 1141.2l-1.8 1l-1.1 -1.1l1.6 -0.6zM1564.6 1134.9l1.4 1.6l-0.9 1.3l-1.2 -1zM1619.6 1129.2l-0.7 2.3l-1.7 -0l0.6 -1.4zM1595.7 1123.8l-1 0.9l-0.8 -0.6l0.9 -0.5zM1587.2 1135.9l-2.3 0.4l-0.7 -1.5l2 -0.2zM1552.2 1121.8l0.1 1.6l-1.1 0.4l-0.1 -0.9zM1588.2 1126.4l1.5 1.5l-0.7 1.4l-1.4 -0.9zM1584 1136.2l1 0.9l-0.5 0.9l-0.9 -0.6zM1575.5 1131.3l-1.3 1.5l-1.3 -0.6l1.1 -0.9zM1590.9 1133.3l1.9 1.2l-0.5 1.5l-1.7 -0.7zM1571.9 1129.6l1.1 1.4l-0.8 1.1l-1 -0.9zM1599.7 1120.9l0.8 1.8l-1.1 0.9l-0.7 -1.1zM1600.6 1137.1l-1.7 0.3l-0.5 -1.2l1.6 -0.2zM1617.8 1132.2l-1.6 0.2l-0.4 -1.1l1.4 -0.1zM1555.5 1122.7l1.4 1.6l-0.9 1.3l-1.3 -1zM1590.9 1137.8l1.1 1.7l-0.9 1.1l-1 -1zM1577.1 1143.4l1.2 0.9l-0.4 1l-1 -0.6zM1571.3 1118.4l-1.6 1.4l-1.3 -0.8l1.4 -0.8zM1588 1124l-1.4 0.3l-0.5 -0.9l1.3 -0.2zM1600.1 1119.4l1.4 0.3l0.1 1.1l-1.3 -0.2zM1610.1 1138.3l1.5 0.3l0.1 1.1l-1.4 -0.2zM1608.2 1140l-2 1.2l-1.2 -1.2l1.8 -0.7zM1544.7 1131.8l1.1 1l-0.5 0.9l-0.9 -0.6zM1571.5 1132.1l0.2 2.1l-1.4 0.5l-0.1 -1.2zM1576 1129.8l-0.5 1l-0.8 -0.2l0.5 -0.6zM1587.6 1143.3l-1.5 1l-1 -0.9l1.4 -0.6zM1590.9 1133.3l-0.5 1.2l-0.9 -0.1l0.4 -0.7zM1553.6 1141.7l0.4 1.1l-0.7 0.5l-0.3 -0.7zM1613.1 1123.6l-0.4 2.2l-1.7 0.1l0.4 -1.3zM1575.4 1140l-0.7 1.2l-1 -0.2l0.6 -0.7zM1578.9 1138.4l-0.6 2.2l-1.7 0l0.5 -1.3zM1602.5 1122.3l1 1l-0.5 0.9l-0.9 -0.6zM1565.3 1125.2l-1 1.1l-1 -0.5l0.9 -0.7zM1591.7 1125.4l1.9 0l0.4 1.4l-1.7 -0zM1565.4 1131.2l1.6 1.6l-0.8 1.4l-1.4 -1zM1586.1 1134.1l1.1 0.6l-0.2 0.9l-1 -0.4zM1575.6 1129l2 1.3l-0.5 1.6l-1.8 -0.8zM1597.2 1118.8l-1.4 0.3l-0.5 -0.9l1.3 -0.2zM1585.4 1131.1l-0.5 0.9l-0.8 -0.2l0.5 -0.6zM1568.1 1125.3l1.2 1l-0.5 1l-1.1 -0.6zM1610.4 1120.9l-0.9 1.5l-1.2 -0.3l0.8 -0.9zM1566.2 1118.4l-2.2 1l-1.1 -1.3l1.9 -0.6zM1592.5 1130.3l-1.9 0.9l-1 -1.1l1.7 -0.6zM1575.6 1143.1l-1.4 1l-0.9 -0.8l1.2 -0.6zM1603.6 1120.4l-1.1 1.5l-1.3 -0.4l0.9 -0.9zM1601.8 1125.4l-2 0.7l-0.9 -1.3l1.8 -0.4zM1563.9 1121.7l2.4 0.3l0.3 1.7l-2.1 -0.2zM1561.7 1138.1l2.2 0.7l-0 1.7l-2 -0.4zM1578.5 1117.4l2.4 0.3l0.2 1.7l-2.1 -0.2zM1566.3 1116.4l-1.2 0.3l-0.4 -0.8l1.1 -0.2zM1596 1142.8l0.7 1.8l-1.1 0.9l-0.7 -1.1zM1556.4 1135.6l-1.3 0.1l-0.3 -0.9l1.2 -0.1zM1552.4 1140.2l-0.2 2.1l-1.5 0.3l0.2 -1.3zM1550.3 1122.2l-1.2 0.7l-0.7 -0.7l1 -0.4zM1572.5 1129.1l-1.3 1.8l-1.5 -0.6l1.2 -1.1zM1601 1145.1l-1.3 1.1l-1 -0.7l1.2 -0.6zM1552.4 1133.7l-0.7 1.7l-1.4 -0.2l0.7 -1zM1593.3 1115.3l0.4 2.3l-1.5 0.7l-0.3 -1.4zM1545.8 1127.4l-0 1.8l-1.2 0.3l0 -1.1zM1591.5 1134.9l0.7 1.2l-0.7 0.7l-0.6 -0.7zM1562.3 1126.1l-0.1 1.2l-0.9 0.2l0.1 -0.7zM1582.3 1135.5l-1.8 0.2l-0.5 -1.2l1.6 -0.1zM1617.6 1128.3l-1.2 0.4l-0.5 -0.7l1 -0.2zM1617.3 1132.9l-0.3 2l-1.5 0.2l0.2 -1.2zM1611.7 1139.4l0.8 1.3l-0.8 0.8l-0.7 -0.8zM1610.6 1120.9l-0.1 1.8l-1.3 0.3l0.1 -1.1zM1582.5 1135.9l-1 0.7l-0.7 -0.6l0.9 -0.4zM1573.7 1143.6l1.4 0.1l0.2 1l-1.3 -0.1zM1594.1 1123.4l0.4 2.3l-1.5 0.8l-0.4 -1.4zM1580.9 1126l1.3 2l-1.1 1.3l-1.2 -1.2zM1609.2 1119.8l-1.5 1.2l-1.1 -0.8l1.4 -0.7zM1607 1141l1 0.7l-0.3 0.9l-0.9 -0.4zM1545.9 1136.6l-1.1 0.6l-0.7 -0.7l1 -0.4zM1574.6 1119.6l-1.2 0.6l-0.6 -0.7l1.1 -0.3zM1611.8 1127.9l-1.3 0.3l-0.5 -0.8l1.1 -0.2zM1545.2 1135.2l1 0.7l-0.3 0.8l-0.9 -0.4zM1575.4 1145.7l1.3 1.4l-0.7 1.2l-1.2 -0.9zM1580.4 1122.8l-1.7 0.7l-0.8 -1.1l1.5 -0.4zM1563.7 1132.4l1.6 1.3l-0.6 1.3l-1.4 -0.8zM1580.3 1131.9l0.8 0.8l-0.4 0.7l-0.8 -0.5zM1616.9 1133.1l-0.3 2.1l-1.5 0.2l0.3 -1.3zM1590 1128l-0.9 1.2l-1 -0.4l0.8 -0.7z" style="fill:#cdb44c;fill-opacity:0.55" stroke="#cdb44c" stroke-width="0.48" stroke-linejoin="round"/>
<path d="M1513.8 1117.9l-0.8 0.8l-0.7 -0.4l0.7 -0.5zM1533.1 1118.2l-0.7 2.1l-1.6 -0.1l0.7 -1.2zM1530.1 1126.1l-0.7 1.2l-1 -0.3l0.7 -0.7zM1550.9 1113.9l-0.5 1.3l-1 -0.1l0.4 -0.8zM1509.6 1119.7l2.2 0.3l0.3 1.6l-2 -0.2zM1518.4 1120.6l-1.8 0.3l-0.6 -1.2l1.6 -0.2zM1509 1108.7l0.6 1.4l-0.9 0.7l-0.6 -0.9zM1522.7 1118.2l-0.2 2l-1.4 0.3l0.2 -1.2zM1529.4 1121.1l-1.2 1.2l-1.1 -0.6l1 -0.7zM1529.3 1115.6l-0.2 1.5l-1.1 0.2l0.2 -0.9zM1523.9 1119.2l2 0.9l-0.2 1.5l-1.8 -0.5zM1521.2 1123.2l0.4 1.2l-0.8 0.5l-0.4 -0.7zM1520.5 1125.2l0.1 1.8l-1.3 0.5l-0.1 -1.1zM1529.6 1124.7l0.6 1.7l-1.1 0.7l-0.5 -1zM1546.9 1123l0.3 1.7l-1.1 0.6l-0.3 -1zM1536.3 1123.1l-0.6 2.1l-1.6 -0l0.6 -1.3zM1545.8 1122.9l1.6 0.3l0.1 1.2l-1.4 -0.2zM1511.5 1113.9l0.4 1.5l-1 0.6l-0.4 -0.9zM1504.5 1117.1l1.2 0.1l0.2 0.9l-1.1 -0zM1517 1113.1l2.3 0.6l0.1 1.7l-2 -0.3zM1529.1 1113.2l0.2 1.4l-0.9 0.4l-0.2 -0.8zM1510.6 1115.7l-0.6 1.5l-1.1 -0.1l0.5 -0.9zM1519.9 1124.8l-0.8 1.8l-1.5 -0.2l0.8 -1.1zM1530.9 1121.2l0.4 1.8l-1.1 0.6l-0.4 -1.1zM1509.7 1111.5l-0.6 1.9l-1.4 -0l0.5 -1.1zM1524 1111.3l1 1.1l-0.5 0.9l-0.9 -0.6zM1525.2 1110.4l0.3 1.4l-0.9 0.5l-0.3 -0.8zM1527.9 1123.6l-0.4 1.3l-1 -0l0.3 -0.8zM1507.5 1114.1l1.1 1.5l-0.8 1.1l-1 -0.9zM1521.6 1118l-0.7 1.4l-1.2 -0.2l0.7 -0.9zM1525.2 1106.7l1 1.5l-0.8 1l-0.9 -0.9zM1529.3 1112.7l1.6 0.6l-0.1 1.2l-1.4 -0.4zM1525 1104.1l1.3 0.5l-0.1 1l-1.2 -0.3zM1514.4 1124l0.7 1.3l-0.8 0.8l-0.7 -0.8zM1515.4 1114.4l-0.6 1.1l-0.9 -0.2l0.6 -0.7zM1524.1 1120.6l0.5 1.5l-1 0.7l-0.5 -0.9zM1513.9 1109.5l-1.1 2l-1.6 -0.4l1 -1.2zM1533.6 1122.1l-1.2 0.2l-0.4 -0.8l1.1 -0.1zM1525.7 1121.3l1 0.4l-0.1 0.8l-0.9 -0.2zM1525.1 1115.6l-0 1.2l-0.8 0.2l0 -0.7zM1526.8 1116.6l-1.6 0.2l-0.5 -1.1l1.5 -0.1zM1539 1106.6l-1.1 1.1l-1 -0.6l1 -0.7zM1530 1115.6l-0.7 1.7l-1.3 -0.1l0.6 -1zM1528.3 1120.1l-1.2 1.1l-1 -0.6l1.1 -0.6zM1507.6 1118.3l0.5 1.3l-0.8 0.6l-0.4 -0.8zM1543.5 1119.9l1.6 0.4l0 1.2l-1.4 -0.3zM1525.4 1115.2l0.1 2.1l-1.4 0.5l-0.1 -1.3zM1509.8 1108.2l1.4 0.6l-0.1 1.1l-1.3 -0.3zM1534.9 1109.7l0.9 1.3l-0.7 0.9l-0.8 -0.8zM1539.6 1115.3l1.2 1.6l-0.9 1.2l-1.1 -1zM1524.9 1121.9l0.6 1.3l-0.8 0.7l-0.5 -0.8zM1514 1111.8l1.2 1l-0.5 1l-1.1 -0.6zM1519.5 1106.1l-2.3 0.8l-1 -1.4l2 -0.5zM1541.4 1118.1l-0.4 1.9l-1.4 0.1l0.4 -1.2zM1515.4 1119l1.2 0.8l-0.3 1l-1.1 -0.5zM1523.9 1112.6l-1 0.9l-0.8 -0.5l0.9 -0.5zM1537.3 1110.9l-1.9 0.4l-0.7 -1.3l1.7 -0.3zM1507.4 1122.9l1.1 0.9l-0.4 1l-1 -0.5zM1539.4 1126.8l1.8 0.2l0.2 1.3l-1.6 -0.1zM1511.2 1112.8l-0.4 2.3l-1.7 0.2l0.4 -1.4z" style="fill:#cdb44c;fill-opacity:0.55" stroke="#cdb44c" stroke-width="0.48" stroke-linejoin="round"/>
<polyline points="1316,990 1316,1056" stroke="#c4c4c4" stroke-width="0.6" />
<polyline points="1330,968 1330,1002" stroke="#c4c4c4" stroke-width="0.6" />
<polyline points="1346,954 1346,986" stroke="#c4c4c4" stroke-width="0.6" />
<polyline points="1359,934 1359,954" stroke="#c4c4c4" stroke-width="0.6" />
<polyline points="1320,1004 1360,978 1394,998" stroke="#c4c4c4" stroke-width="0.6" />
<polyline points="1332,998 1332,1050" stroke="#c4c4c4" stroke-width="0.6" />
<polyline points="1368,978 1368,1024" stroke="#c4c4c4" stroke-width="0.6" />
<polyline points="1307,1008 1307,1068" stroke="#c4c4c4" stroke-width="0.6" />
<polyline points="1294,1042 1294,1074" stroke="#c4c4c4" stroke-width="0.6" />
<polyline points="1320,1060 1320,1002" stroke="#c4c4c4" stroke-width="0.6" />
<polyline points="1290,1080 1400,1002" stroke="#c4c4c4" stroke-width="0.6" />
<polyline points="1302,1026 1354,1052" stroke="#c4c4c4" stroke-width="0.6" />
<polyline points="1296,1050 1330,1066" stroke="#c4c4c4" stroke-width="0.6" />
<polyline points="1316,1022 1362,990" stroke="#c4c4c4" stroke-width="0.6" />
<polyline points="1287,1092 1402,1002" stroke="#1e1e1e" stroke-width="0.9" />
<polyline points="1292,1095 1404,1005" stroke="#1e1e1e" stroke-width="0.8" />
<polyline points="1316,990 1401,928" stroke="#1e1e1e" stroke-width="0.8" />
<polyline points="1320,983 1398,927" stroke="#555" stroke-width="0.7" />
<polyline points="1336,959 1346,952 1346,964" stroke="#1e1e1e" stroke-width="0.9" />
<polyline points="1336,959 1342,962" stroke="#1e1e1e" stroke-width="0.8" />
<polyline points="1382,916 1402,927 1402,1032 1455,1066 1461,1062 1461,1026 1404,990" stroke="#1e1e1e" stroke-width="0.9" />
<polyline points="1384,914 1402,924" stroke="#1e1e1e" stroke-width="0.8" />
<polyline points="1455,1066 1455,1030 1404,994" stroke="#555" stroke-width="0.7" />
<polyline points="1402,928 1467,964 1467,1008" stroke="#1e1e1e" stroke-width="0.9" />
<polyline points="1408,930 1408,970" stroke="#555" stroke-width="0.8" />
<polyline points="1427,941 1427,984" stroke="#1e1e1e" stroke-width="0.9" />
<polyline points="1446,952 1446,996" stroke="#1e1e1e" stroke-width="0.9" />
<polyline points="1465,963 1465,1006" stroke="#555" stroke-width="0.7" />
<polyline points="1402,970 1467,1008" stroke="#555" stroke-width="0.7" />
<ellipse cx="1435" cy="900" rx="4.4" ry="2.6" stroke="#333" stroke-width="0.7" fill="#fff"/>
<polyline points="1430.6,900 1430.6,908" stroke="#333" stroke-width="0.7" />
<polyline points="1439.4,900 1439.4,908" stroke="#333" stroke-width="0.7" />
<path d="M1430.6 908 A4.4 2.6 0 0 0 1439.4 908" stroke="#333" stroke-width="0.7"/>
<ellipse cx="1419.6" cy="913" rx="7.6" ry="4.6" stroke="#333" stroke-width="0.7" fill="#fff"/>
<polyline points="1412,913 1412,921" stroke="#333" stroke-width="0.7" />
<polyline points="1427.2,913 1427.2,921" stroke="#333" stroke-width="0.7" />
<path d="M1412 921 A7.6 4.6 0 0 0 1427.2 921" stroke="#333" stroke-width="0.7"/>
<ellipse cx="1435.6" cy="927" rx="4.4" ry="2.6" stroke="#333" stroke-width="0.7" fill="#fff"/>
<polyline points="1431.2,927 1431.2,935" stroke="#333" stroke-width="0.7" />
<polyline points="1440,927 1440,935" stroke="#333" stroke-width="0.7" />
<path d="M1431.2 935 A4.4 2.6 0 0 0 1440 935" stroke="#333" stroke-width="0.7"/>
<polyline points="1458,879 1470,893" stroke="#888" stroke-width="0.6" />
<polyline points="1460,878 1472,891" stroke="#888" stroke-width="0.6" />
<polyline points="1467,962 1526,873" stroke="#555" stroke-width="0.8" />
<polyline points="1467,962 1467,999" stroke="#555" stroke-width="0.9" />
<polyline points="1478.8,944.2 1478.8,981.2" stroke="#555" stroke-width="0.9" />
<polyline points="1490.6,926.4 1490.6,963.4" stroke="#555" stroke-width="0.9" />
<polyline points="1502.4,908.6 1502.4,945.6" stroke="#555" stroke-width="0.9" />
<polyline points="1514.2,890.8 1514.2,927.8" stroke="#555" stroke-width="0.9" />
<polyline points="1526,873 1526,910" stroke="#555" stroke-width="0.9" />
<polyline points="1536,873 1536,900" stroke="#555" stroke-width="0.7" />
<polyline points="1548,874 1548,886" stroke="#555" stroke-width="0.7" />
<polyline points="1473,1004 1554,876" stroke="#666" stroke-width="0.7" />
<polyline points="1470,1008 1473,1004" stroke="#666" stroke-width="0.7" />
<polyline points="1503,976 1569,877" stroke="#1e1e1e" stroke-width="1.1" />
<polyline points="1507,975.6 1570,880" stroke="#1e1e1e" stroke-width="0.9" />
<polyline points="1503,976 1638,1022 1639,1066" stroke="#1e1e1e" stroke-width="1.1" />
<polyline points="1507,975.6 1640,1020" stroke="#1e1e1e" stroke-width="0.8" />
<polyline points="1503,976 1503,1016" stroke="#1e1e1e" stroke-width="1.0" />
<polyline points="1473,1004 1503,1016" stroke="#555" stroke-width="0.7" />
<polyline points="1498,1020 1500,1026 1628,1070 1639,1067" stroke="#1e1e1e" stroke-width="1.0" />
<polyline points="1498,1020 1503,1016 1630,1061 1639,1064" stroke="#1e1e1e" stroke-width="0.9" />
<polyline points="1500,1022 1628,1066.4" stroke="#555" stroke-width="0.6" />
<polyline points="1509,1030 1509,1065" stroke="#1e1e1e" stroke-width="1.1" />
<polyline points="1513,1029 1514,1062" stroke="#1e1e1e" stroke-width="0.9" />
<polyline points="1514,1062 1624,1100" stroke="#1e1e1e" stroke-width="0.8" />
<polyline points="1510,1065 1510,1077 1623,1116" stroke="#555" stroke-width="0.7" />
<polyline points="1623,1070 1624,1104 1509,1066" stroke="#1e1e1e" stroke-width="0.8" />
<polyline points="1530,1002 1590,1003" stroke="#999" stroke-width="0.5" />
<polyline points="1372,1133 1488,1042 1492,1045 1492,1076 1509,1068" stroke="#1e1e1e" stroke-width="0.9" />
<polyline points="1392,1133 1509,1077" stroke="#1e1e1e" stroke-width="0.9" />
<polyline points="1492,1045 1509,1031" stroke="#1e1e1e" stroke-width="0.8" />
<polyline points="1495,1072 1495,1050 1509,1040" stroke="#555" stroke-width="0.7" />
<polyline points="1289,1128 1338,1160 1488,1042" stroke="#1e1e1e" stroke-width="0.9" />
<polyline points="1338,1160 1338,1207" stroke="#1e1e1e" stroke-width="0.9" />
<polyline points="1338,1170 1492,1060" stroke="#1e1e1e" stroke-width="0.9" />
<polyline points="1356,1198 1509,1078" stroke="#1e1e1e" stroke-width="1.0" />
<polyline points="1356,1198 1709,1139.9" stroke="#1e1e1e" stroke-width="0.9" />
<polyline points="1338,1207 1356,1198" stroke="#1e1e1e" stroke-width="0.8" />
<polyline points="1338,1207 1709,1139.9 1714.2,1148.6" stroke="#1e1e1e" stroke-width="0.9" />
<polyline points="1334,1216 1714.2,1148.6" stroke="#1e1e1e" stroke-width="0.9" />
<polyline points="1309,1199 1334,1216" stroke="#1e1e1e" stroke-width="1.4" />
<polyline points="1289,1138 1338,1170" stroke="#1e1e1e" stroke-width="1.2" />
<polyline points="1343,1206 1502,1080" stroke="#c4c4c4" stroke-width="0.6" />
<polyline points="1301,1179 1301,1182.4" stroke="#aaa" stroke-width="0.6" />
<polyline points="1303.4,1180.7 1303.4,1184.1" stroke="#aaa" stroke-width="0.6" />
<polyline points="1305.8,1182.4 1305.8,1185.8" stroke="#aaa" stroke-width="0.6" />
<polyline points="1308.2,1184.1 1308.2,1187.5" stroke="#aaa" stroke-width="0.6" />
<polyline points="1310.6,1185.8 1310.6,1189.2" stroke="#aaa" stroke-width="0.6" />
<polyline points="1313,1187.5 1313,1190.9" stroke="#aaa" stroke-width="0.6" />
<polyline points="1315.4,1189.2 1315.4,1192.6" stroke="#aaa" stroke-width="0.6" />
<polyline points="1317.8,1190.9 1317.8,1194.3" stroke="#aaa" stroke-width="0.6" />
<polyline points="1320.2,1192.6 1320.2,1196" stroke="#aaa" stroke-width="0.6" />
<polyline points="1322.6,1194.3 1322.6,1197.7" stroke="#aaa" stroke-width="0.6" />
<polyline points="1325,1196 1325,1199.4" stroke="#aaa" stroke-width="0.6" />
<polyline points="1327.4,1197.7 1327.4,1201.1" stroke="#aaa" stroke-width="0.6" />
<polyline points="1329.8,1199.4 1329.8,1202.8" stroke="#aaa" stroke-width="0.6" />
<polyline points="1332.2,1201.1 1332.2,1204.5" stroke="#aaa" stroke-width="0.6" />
<polyline points="1300,1178 1334,1202" stroke="#aaa" stroke-width="0.6" />
<polyline points="1300,1181.6 1334,1205.6" stroke="#aaa" stroke-width="0.6" />
<polyline points="1636.5,1067.4 1714.2,1103.6 1714.2,1148.6" stroke="#1e1e1e" stroke-width="1.0" />
<polyline points="1714.2,1103.6 1743.8,1061.6" stroke="#1e1e1e" stroke-width="1.0" />
<polyline points="1714.2,1148.6 1746.7,1102.2" stroke="#1e1e1e" stroke-width="0.9" />
<polyline points="1624.9,1071.7 1711.9,1112.3" stroke="#999" stroke-width="0.6" />
<polyline points="1623.5,1070.3 1623.5,1103.6 1510.4,1063" stroke="#1e1e1e" stroke-width="0.8" />
<polyline points="1620.6,1071.7 1620.6,1099.3" stroke="#555" stroke-width="0.6" />
<polyline points="1511.9,1070.3 1619.1,1108 1688.7,1139.9" stroke="#c4c4c4" stroke-width="0.6" />
<polyline points="1629.3,948.6 1640.9,932 1690.1,949.4" stroke="#1e1e1e" stroke-width="0.8" />
<polyline points="1629.3,948.6 1629.3,959.6 1710.4,988.6" stroke="#1e1e1e" stroke-width="0.8" />
<polyline points="1629.3,948.6 1711.9,976.7" stroke="#1e1e1e" stroke-width="0.8" />
<polyline points="1591.6,1002.2 1601.7,988.6 1701.7,1024.5 1701.7,1035.5 1689.3,1050 1665.5,1041.3" stroke="#1e1e1e" stroke-width="0.8" />
<polyline points="1591.6,1002.2 1690.1,1038.4 1701.7,1024.5" stroke="#1e1e1e" stroke-width="0.8" />
<polyline points="1690.1,1038.4 1689.3,1050" stroke="#1e1e1e" stroke-width="0.8" />
<polyline points="1595.9,886.2 1622,895.5 1622,899.9 1595.9,890.6 1595.9,886.2" stroke="#1e1e1e" stroke-width="0.8" />
<polyline points="1619.1,894.9 1619.1,899.3" stroke="#1e1e1e" stroke-width="0.8" />
<polyline points="1532.2,986.2 1591.6,884.8" stroke="#999" stroke-width="0.6" />
<polyline points="1526.4,994.9 1532.2,986.2" stroke="#999" stroke-width="0.6" />
<polyline points="1720.6,1110.9 1746.7,1079" stroke="#c4c4c4" stroke-width="0.6" />
<polyline points="1714.8,1139.9 1746.7,1090.6" stroke="#c4c4c4" stroke-width="0.5" />
<polyline points="1398,901 1467,936 1467,962" stroke="#999" stroke-width="0.6" stroke-dasharray="2 2"/>
<polyline points="1390,909 1466,946" stroke="#999" stroke-width="0.6" stroke-dasharray="2 2"/>
<polyline points="1450,917 1503,990" stroke="#999" stroke-width="0.6" stroke-dasharray="2 2"/>
<polyline points="1467,1008 1503,990" stroke="#999" stroke-width="0.6" stroke-dasharray="2 2"/>
<polyline points="1478,1004 1528,978 1528,1014 1503,1002" stroke="#999" stroke-width="0.6" stroke-dasharray="2 2"/>
<polyline points="1446,996 1400,1072 1290,1100" stroke="#999" stroke-width="0.6" stroke-dasharray="2 2"/>
<polyline points="1462,1024 1510,1002" stroke="#999" stroke-width="0.6" stroke-dasharray="2 2"/>
<polyline points="1503,1016 1670,1050" stroke="#999" stroke-width="0.6" stroke-dasharray="2 2"/>
<polyline points="1528,1014 1670,1040" stroke="#999" stroke-width="0.6" stroke-dasharray="2 2"/>
<polyline points="1714.8,1032.6 1714.8,1099.3" stroke="#777" stroke-width="0.7" stroke-dasharray="1.2 2"/>
<polyline points="1714.8,1099.3 1740.9,1050" stroke="#999" stroke-width="0.6" stroke-dasharray="2 2"/>
<polyline points="1485,874 1326,1112" stroke="#111" stroke-width="1.45" stroke-dasharray="3.2 2.4"/>
<polyline points="1419,893 1454,917" stroke="#111" stroke-width="1.45" stroke-dasharray="3.2 2.4"/>
<polyline points="1290,1070 1326,1112 1339,1119" stroke="#111" stroke-width="1.45" stroke-dasharray="3.2 2.4"/>
<polyline points="1339,1119 1508,1076 1714.8,1032.6 1729.3,1013.8" stroke="#111" stroke-width="1.45" stroke-dasharray="3.2 2.4"/>
<polyline points="1339,1119 1339,1170" stroke="#111" stroke-width="1.45" stroke-dasharray="3.2 2.4"/>
<polyline points="1339,1170 1510,1122 1711.9,1063" stroke="#111" stroke-width="1.45" stroke-dasharray="3.2 2.4"/>
<polyline points="1290,1136 1339,1170" stroke="#111" stroke-width="1.45" stroke-dasharray="3.2 2.4"/>
</g>
<polygon class="f" points="859,732.1 863,732.1 864.3,736.4 863.1,736.8 862.5,735.3 862.5,737.9 864,744.3 862.2,744.6 861,738.9 859.5,744.3 857.7,744 859.5,737.9 859.5,735.3 858.3,737.1 857.4,736.6" fill="#555" opacity="0.9"/>
<ellipse class="f" cx="861" cy="730.9" rx="1.1" ry="1.3" fill="#555" opacity="0.9"/>
<polygon class="f" points="906.7,780.3 911.3,780.3 912.1,785.5 911,785.8 910.9,783.9 910.7,786.2 910.7,793.2 909.2,793.2 909,786.7 908.8,793.2 907.3,793.2 907.3,786.2 907.1,783.9 907,785.8 905.9,785.5" fill="#111" opacity="1"/>
<ellipse class="f" cx="909" cy="779" rx="1.2" ry="1.3" fill="#111" opacity="1"/>
<polygon class="f" points="900.9,786.7 903.6,786.7 904.1,789.7 903.5,789.9 903.4,788.8 903.3,790.2 903.3,794.2 902.4,794.2 902.3,790.4 902.2,794.2 901.3,794.2 901.3,790.2 901.2,788.8 901.1,789.9 900.5,789.7" fill="#111" opacity="1"/>
<ellipse class="f" cx="902.3" cy="786" rx="0.7" ry="0.8" fill="#111" opacity="1"/>
<polyline points="903.5,789 907,786.5" stroke="#111" stroke-width="0.8" />
<polygon class="f" points="1053.8,734.8 1058.2,734.8 1059,739.7 1058,740 1057.8,738.2 1057.7,740.5 1057.7,747.2 1056.2,747.2 1056,740.9 1055.8,747.2 1054.3,747.2 1054.3,740.5 1054.2,738.2 1054,740 1053,739.7" fill="#111" opacity="1"/>
<ellipse class="f" cx="1056" cy="733.5" rx="1.1" ry="1.3" fill="#111" opacity="1"/>
<polygon class="f" points="1060.1,739.1 1063.1,739.1 1063.6,742.4 1062.9,742.6 1062.8,741.4 1062.7,742.9 1062.7,747.4 1061.8,747.4 1061.6,743.2 1061.4,747.4 1060.5,747.4 1060.5,742.9 1060.4,741.4 1060.3,742.6 1059.6,742.4" fill="#111" opacity="1"/>
<ellipse class="f" cx="1061.6" cy="738.2" rx="0.8" ry="0.9" fill="#111" opacity="1"/>
<polygon class="f" points="1064.9,735.4 1069.1,735.4 1069.8,740.1 1068.8,740.4 1068.7,738.7 1068.6,740.8 1068.6,747.2 1067.2,747.2 1067,741.2 1066.8,747.2 1065.4,747.2 1065.4,740.8 1065.3,738.7 1065.2,740.4 1064.2,740.1" fill="#111" opacity="1"/>
<ellipse class="f" cx="1067" cy="734.2" rx="1.1" ry="1.2" fill="#111" opacity="1"/>
<polyline points="1057,741 1066,741" stroke="#111" stroke-width="0.8" />
<polygon class="f" points="941.7,824.4 944.7,823.9 945.7,827.7 948.4,828.2 948.8,832 947.2,832 946.5,829.9 942.6,830.1 941.2,827.7" fill="#111"/>
<ellipse class="f" cx="943.4" cy="823" rx="1.1" ry="1.2" fill="#111"/>
<polygon class="f" points="955.3,829.8 952.4,829.4 951.5,833 949,833.4 948.5,837 950.1,837 950.8,835 954.4,835.2 955.8,833" fill="#111"/>
<ellipse class="f" cx="953.7" cy="828.5" rx="1.1" ry="1.2" fill="#111"/>
<ellipse cx="945" cy="832" rx="2.6" ry="1.5" stroke="#888" stroke-width="0.5" fill="#fff"/>
<polygon class="f" points="740.6,781.7 745.4,781.7 746.2,787 745.1,787.3 744.9,785.4 744.8,787.8 744.8,795 743.2,795 743,788.3 742.8,795 741.2,795 741.2,787.8 741.1,785.4 740.9,787.3 739.8,787" fill="#111" opacity="1"/>
<ellipse class="f" cx="743" cy="780.4" rx="1.2" ry="1.4" fill="#111" opacity="1"/>
<polygon class="f" points="1009.7,932.9 1014.3,932.9 1015.1,938 1014,938.3 1013.9,936.4 1013.7,938.8 1013.7,945.8 1012.2,945.8 1012,939.2 1011.8,945.8 1010.3,945.8 1010.3,938.8 1010.1,936.4 1010,938.3 1008.9,938" fill="#111" opacity="1"/>
<ellipse class="f" cx="1012" cy="931.5" rx="1.2" ry="1.3" fill="#111" opacity="1"/>
<polygon class="f" points="1053.6,938.5 1056.4,938.5 1056.9,941.6 1056.2,941.8 1056.1,940.7 1056,942.1 1056,946.4 1055.1,946.4 1055,942.4 1054.9,946.4 1054,946.4 1054,942.1 1053.9,940.7 1053.8,941.8 1053.1,941.6" fill="#111" opacity="1"/>
<ellipse class="f" cx="1055" cy="937.7" rx="0.7" ry="0.8" fill="#111" opacity="1"/>
<polygon class="f" points="464.3,486.7 469.7,486.7 470.6,492.6 469.3,493 469.2,490.8 469,493.5 469,501.6 467.3,501.6 467,494 466.7,501.6 465,501.6 465,493.5 464.8,490.8 464.7,493 463.4,492.6" fill="#111" opacity="1"/>
<ellipse class="f" cx="467" cy="485.1" rx="1.3" ry="1.5" fill="#111" opacity="1"/>
<polygon class="f" points="1399.2,364.4 1406,364.4 1408.3,371.7 1406.2,372.5 1405.2,369.9 1405.2,374.3 1407.8,385.5 1404.7,386 1402.6,376.1 1400,385.5 1396.9,385 1400,374.3 1400,369.9 1397.9,373 1396.4,372.2" fill="#111" opacity="1"/>
<ellipse class="f" cx="1402.6" cy="362.2" rx="1.9" ry="2.2" fill="#111" opacity="1"/>
<polygon class="f" points="1563.2,358.2 1570.8,358.2 1572,366.5 1570.2,367 1570,364 1569.8,367.8 1569.8,379 1567.4,379 1567,368.5 1566.6,379 1564.2,379 1564.2,367.8 1564,364 1563.8,367 1562,366.5" fill="#111" opacity="1"/>
<ellipse class="f" cx="1567" cy="356.1" rx="1.9" ry="2.1" fill="#111" opacity="1"/>
<polygon class="f" points="1573.6,365.9 1578.4,365.9 1579.2,371.2 1578.1,371.5 1577.9,369.6 1577.8,372 1577.8,379.2 1576.2,379.2 1576,372.5 1575.8,379.2 1574.2,379.2 1574.2,372 1574.1,369.6 1573.9,371.5 1572.8,371.2" fill="#111" opacity="1"/>
<ellipse class="f" cx="1576" cy="364.6" rx="1.2" ry="1.4" fill="#111" opacity="1"/>
<polygon class="f" points="1582.5,359.5 1589.5,359.5 1590.7,367.2 1589.1,367.7 1588.8,364.9 1588.6,368.4 1588.6,379 1586.4,379 1586,369.1 1585.6,379 1583.4,379 1583.4,368.4 1583.2,364.9 1582.9,367.7 1581.3,367.2" fill="#111" opacity="1"/>
<ellipse class="f" cx="1586" cy="357.5" rx="1.8" ry="2" fill="#111" opacity="1"/>
<polyline points="1569,369 1584,369.5" stroke="#111" stroke-width="1.0" />
<polygon class="f" points="1516.6,400.7 1521.4,400.7 1522.2,406 1521.1,406.3 1520.9,404.4 1520.8,406.8 1520.8,414 1519.2,414 1519,407.3 1518.8,414 1517.2,414 1517.2,406.8 1517.1,404.4 1516.9,406.3 1515.8,406" fill="#111" opacity="1"/>
<ellipse class="f" cx="1519" cy="399.4" rx="1.2" ry="1.4" fill="#111" opacity="1"/>
<polygon class="f" points="1322.2,433.2 1329.8,433.2 1331.1,441.6 1329.3,442.2 1329.1,439.1 1328.8,442.9 1328.8,454.4 1326.4,454.4 1326,443.7 1325.6,454.4 1323.2,454.4 1323.2,442.9 1322.9,439.1 1322.7,442.2 1320.9,441.6" fill="#111" opacity="1"/>
<ellipse class="f" cx="1326" cy="431.1" rx="1.9" ry="2.2" fill="#111" opacity="1"/>
<polygon class="f" points="1312.6,442.9 1317.4,442.9 1318.2,448.2 1317.1,448.5 1316.9,446.6 1316.8,449 1316.8,456.2 1315.2,456.2 1315,449.5 1314.8,456.2 1313.2,456.2 1313.2,449 1313.1,446.6 1312.9,448.5 1311.8,448.2" fill="#111" opacity="1"/>
<ellipse class="f" cx="1315" cy="441.6" rx="1.2" ry="1.4" fill="#111" opacity="1"/>
<polyline points="1317,445.5 1323,441" stroke="#111" stroke-width="1.0" />
<polygon class="f" points="1379.3,505.2 1384.4,504.4 1386,510.8 1390.5,511.6 1391.3,518 1388.6,518 1387.3,514.5 1380.9,514.8 1378.5,510.8" fill="#111"/>
<ellipse class="f" cx="1382.2" cy="502.8" rx="1.9" ry="2.1" fill="#111"/>
<polygon class="f" points="1402,511 1397.2,510.2 1395.7,516.2 1391.5,517 1390.8,523 1393.3,523 1394.5,519.7 1400.5,520 1402.8,516.2" fill="#111"/>
<ellipse class="f" cx="1399.3" cy="508.8" rx="1.8" ry="2" fill="#111"/>
<ellipse cx="1382" cy="512" rx="6" ry="6.5" stroke="#333" stroke-width="0.6" fill="none"/>
<ellipse cx="1401" cy="519" rx="5.5" ry="4" stroke="#333" stroke-width="0.6" fill="none"/>
<polygon class="f" points="1536.2,1038.4 1545.8,1038.4 1547.4,1049 1545.2,1049.6 1544.8,1045.8 1544.5,1050.6 1544.5,1065 1541.5,1065 1541,1051.6 1540.5,1065 1537.5,1065 1537.5,1050.6 1537.2,1045.8 1536.8,1049.6 1534.6,1049" fill="#111" opacity="1"/>
<ellipse class="f" cx="1541" cy="1035.7" rx="2.4" ry="2.7" fill="#111" opacity="1"/>
<path class="dot" d="M484 714.8 A256 256 0 1 1 484.1 714.8" stroke-width="2.7" stroke-dasharray="0 6.0"/>
<path class="dot" d="M1214 149.6 A354.7 354.7 0 0 0 1772.5 585.1" stroke-width="2.7" stroke-dasharray="0 6.26"/>
<path class="dot" d="M1311.2 1254.9 A255 255 0 1 1 1717.3 1260.6" stroke-width="2.7" stroke-dasharray="0 6.05"/>
<path class="dot" d="M505.5 720.9 L505.5 761.2" stroke-width="3" stroke-dasharray="0 5.757"/>
<path class="dot" d="M505.5 761.2 L654.7 761.2" stroke-width="3" stroke-dasharray="0 5.968"/>
<path class="dot" d="M1143.9 376.9 L1104 376.9" stroke-width="3" stroke-dasharray="0 5.7"/>
<path class="dot" d="M1104 376.9 L1104 605.5" stroke-width="3" stroke-dasharray="0 5.86"/>
<path class="dot" d="M1072.4 1040.2 L1072.4 1080.4" stroke-width="3" stroke-dasharray="0 5.743"/>
<path class="dot" d="M1072.4 1080.4 L1254.6 1080.4" stroke-width="3" stroke-dasharray="0 6.073"/>
<text x="368.5" y="596.8" font-size="14.6" textLength="117" lengthAdjust="spacingAndGlyphs" stroke="#fff" stroke-width="0.12" paint-order="fill stroke">Protección vegetal</text>
<text x="1424.5" y="659.8" font-size="14.6" textLength="109.5" lengthAdjust="spacingAndGlyphs" stroke="#fff" stroke-width="0.12" paint-order="fill stroke">Actividad exterior</text>
<text x="1507.5" y="1247.2" font-size="14.6" textLength="114.5" lengthAdjust="spacingAndGlyphs" stroke="#fff" stroke-width="0.12" paint-order="fill stroke">Vistas y descanso</text>
</svg>
</body></html>
